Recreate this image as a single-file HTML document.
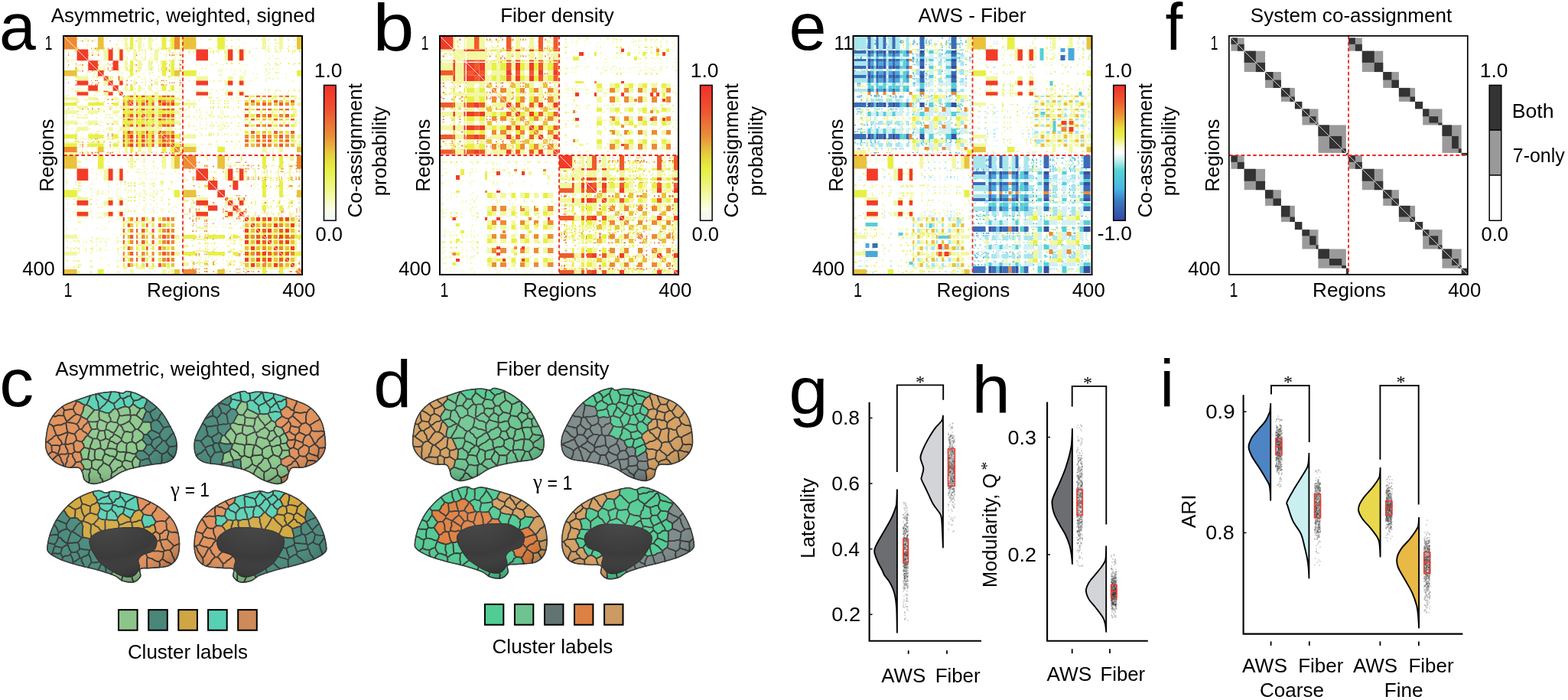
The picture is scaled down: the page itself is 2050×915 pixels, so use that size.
<!DOCTYPE html>
<html><head><meta charset="utf-8"><title>Figure</title>
<style>html,body{margin:0;padding:0;background:#fff;width:2050px;height:915px;overflow:hidden}svg{display:block}</style>
</head><body>
<svg width="2050" height="915" viewBox="0 0 2050 915" font-family="Liberation Sans, Arial, Helvetica, sans-serif">
<rect width="2050" height="915" fill="#fff"/>
<defs><linearGradient id="cbA" x1="0" y1="0" x2="0" y2="1"><stop offset="0" stop-color="#f2302a"/><stop offset="0.18" stop-color="#f05230"/><stop offset="0.38" stop-color="#e9903a"/><stop offset="0.52" stop-color="#e6d23e"/><stop offset="0.62" stop-color="#e6f040"/><stop offset="0.78" stop-color="#f0f890"/><stop offset="0.92" stop-color="#fafde8"/><stop offset="1" stop-color="#eef6f8"/></linearGradient><linearGradient id="cbE" x1="0" y1="0" x2="0" y2="1"><stop offset="0" stop-color="#f0302a"/><stop offset="0.12" stop-color="#f05a2e"/><stop offset="0.22" stop-color="#ec9434"/><stop offset="0.32" stop-color="#e8e03c"/><stop offset="0.38" stop-color="#eaf050"/><stop offset="0.46" stop-color="#fafce0"/><stop offset="0.5" stop-color="#ffffff"/><stop offset="0.55" stop-color="#c8f0f0"/><stop offset="0.63" stop-color="#58d4d4"/><stop offset="0.76" stop-color="#48b8e4"/><stop offset="0.86" stop-color="#3c78c0"/><stop offset="1" stop-color="#3348a0"/></linearGradient></defs><rect x="423.5" y="111.4" width="15.6" height="176.9" fill="url(#cbA)" stroke="#000" stroke-width="1.5"/><rect x="915.5" y="111.4" width="15.6" height="176.9" fill="url(#cbA)" stroke="#000" stroke-width="1.5"/><rect x="1455.7" y="111.4" width="15.6" height="176.9" fill="url(#cbE)" stroke="#000" stroke-width="1.5"/><rect x="1947.2" y="111.4" width="15.6" height="58.6" fill="#333"/><rect x="1947.2" y="170" width="15.6" height="59" fill="#999"/><rect x="1947.2" y="111.4" width="15.6" height="176.9" fill="none" stroke="#000" stroke-width="1.5"/><path d="M1947.2 170H1962.8M1947.2 229H1962.8" stroke="#000" stroke-width="1.5"/>
<g transform="translate(82.0 46.0)"><clipPath id="k1"><path d="M0 140.8H314V142.4H0ZM0 56.8H314V57.7H0ZM0 78.9H314V80.6H0ZM0 142.2H314V143.7H0ZM0 121.6H314V122.9H0ZM0 68.9H314V70.1H0ZM0 26.6H314V28.0H0ZM0 84.1H314V85.2H0ZM0 122.1H314V123.3H0ZM0 122.9H314V124.3H0ZM0 11.6H314V13.1H0ZM0 34.4H314V36.1H0ZM0 97.5H314V98.7H0ZM0 133.2H314V134.4H0Z"/></clipPath><path clip-path="url(#k1)" fill="#f2f8a0" d="M140.8 0H142.4V314H140.8ZM56.8 0H57.7V314H56.8ZM78.9 0H80.6V314H78.9ZM142.2 0H143.7V314H142.2ZM121.6 0H122.9V314H121.6ZM68.9 0H70.1V314H68.9ZM26.6 0H28.0V314H26.6ZM84.1 0H85.2V314H84.1ZM122.1 0H123.3V314H122.1ZM122.9 0H124.3V314H122.9ZM11.6 0H13.1V314H11.6ZM34.4 0H36.1V314H34.4ZM97.5 0H98.7V314H97.5ZM133.2 0H134.4V314H133.2Z"/><clipPath id="k2"><path d="M0 37.0H314V37.9H0ZM0 115.8H314V117.1H0ZM0 135.2H314V136.3H0ZM0 16.5H314V18.4H0ZM0 58.7H314V60.0H0ZM0 42.0H314V44.0H0ZM0 152.6H314V154.0H0ZM0 44.4H314V46.3H0ZM0 63.8H314V66.0H0ZM0 128.5H314V130.6H0ZM0 89.0H314V90.0H0ZM0 130.9H314V132.5H0ZM0 134.7H314V135.7H0ZM0 83.1H314V85.1H0Z"/></clipPath><path clip-path="url(#k2)" fill="#ee8a34" d="M37.0 0H37.9V314H37.0ZM115.8 0H117.1V314H115.8ZM135.2 0H136.3V314H135.2ZM16.5 0H18.4V314H16.5ZM58.7 0H60.0V314H58.7ZM42.0 0H44.0V314H42.0ZM152.6 0H154.0V314H152.6ZM44.4 0H46.3V314H44.4ZM63.8 0H66.0V314H63.8ZM128.5 0H130.6V314H128.5ZM89.0 0H90.0V314H89.0ZM130.9 0H132.5V314H130.9ZM134.7 0H135.7V314H134.7ZM83.1 0H85.1V314H83.1Z"/><clipPath id="k3"><path d="M0 12.1H314V13.7H0ZM0 83.6H314V85.4H0ZM0 69.6H314V71.5H0ZM0 105.3H314V106.9H0ZM0 94.5H314V96.0H0ZM0 99.4H314V101.2H0ZM0 143.2H314V144.3H0ZM0 144.6H314V146.1H0ZM0 151.0H314V153.2H0ZM0 14.4H314V15.4H0ZM0 49.7H314V51.0H0ZM0 11.1H314V12.7H0ZM0 154.6H314V156.0H0ZM0 31.4H314V33.2H0Z"/></clipPath><path clip-path="url(#k3)" fill="#f2f8a0" d="M12.1 0H13.7V314H12.1ZM83.6 0H85.4V314H83.6ZM69.6 0H71.5V314H69.6ZM105.3 0H106.9V314H105.3ZM94.5 0H96.0V314H94.5ZM99.4 0H101.2V314H99.4ZM143.2 0H144.3V314H143.2ZM144.6 0H146.1V314H144.6ZM151.0 0H153.2V314H151.0ZM14.4 0H15.4V314H14.4ZM49.7 0H51.0V314H49.7ZM11.1 0H12.7V314H11.1ZM154.6 0H156.0V314H154.6ZM31.4 0H33.2V314H31.4Z"/><clipPath id="k4"><path d="M0 15.8H314V18.0H0ZM0 40.2H314V41.3H0ZM0 19.1H314V21.3H0ZM0 139.7H314V140.9H0ZM0 16.6H314V18.3H0ZM0 137.6H314V138.4H0ZM0 98.7H314V100.7H0ZM0 72.1H314V73.7H0ZM0 124.9H314V126.0H0ZM0 43.8H314V45.5H0ZM0 86.4H314V87.9H0ZM0 53.1H314V55.2H0ZM0 46.0H314V47.8H0ZM0 138.6H314V140.0H0Z"/></clipPath><path clip-path="url(#k4)" fill="#e8f044" d="M15.8 0H18.0V314H15.8ZM40.2 0H41.3V314H40.2ZM19.1 0H21.3V314H19.1ZM139.7 0H140.9V314H139.7ZM16.6 0H18.3V314H16.6ZM137.6 0H138.4V314H137.6ZM98.7 0H100.7V314H98.7ZM72.1 0H73.7V314H72.1ZM124.9 0H126.0V314H124.9ZM43.8 0H45.5V314H43.8ZM86.4 0H87.9V314H86.4ZM53.1 0H55.2V314H53.1ZM46.0 0H47.8V314H46.0ZM138.6 0H140.0V314H138.6Z"/><clipPath id="k5"><path d="M0 115.8H314V117.4H0ZM0 35.0H314V36.8H0ZM0 24.3H314V25.3H0ZM0 5.6H314V7.6H0ZM0 32.9H314V34.7H0ZM0 127.8H314V129.3H0ZM0 97.7H314V98.8H0ZM0 72.0H314V73.6H0ZM0 47.9H314V49.1H0ZM0 41.1H314V43.1H0ZM0 33.1H314V35.3H0ZM0 116.8H314V118.0H0ZM0 90.3H314V91.6H0ZM0 136.3H314V137.7H0Z"/></clipPath><path clip-path="url(#k5)" fill="#f2f8a0" d="M115.8 0H117.4V314H115.8ZM35.0 0H36.8V314H35.0ZM24.3 0H25.3V314H24.3ZM5.6 0H7.6V314H5.6ZM32.9 0H34.7V314H32.9ZM127.8 0H129.3V314H127.8ZM97.7 0H98.8V314H97.7ZM72.0 0H73.6V314H72.0ZM47.9 0H49.1V314H47.9ZM41.1 0H43.1V314H41.1ZM33.1 0H35.3V314H33.1ZM116.8 0H118.0V314H116.8ZM90.3 0H91.6V314H90.3ZM136.3 0H137.7V314H136.3Z"/><clipPath id="k6"><path d="M0 43.1H314V44.9H0ZM0 147.3H314V149.2H0ZM0 73.1H314V75.3H0ZM0 142.9H314V143.8H0ZM0 64.9H314V66.4H0ZM0 43.9H314V45.6H0ZM0 23.9H314V25.8H0ZM0 133.1H314V133.9H0ZM0 107.8H314V108.9H0ZM0 99.5H314V101.3H0ZM0 151.2H314V153.2H0ZM0 53.8H314V55.6H0ZM0 24.4H314V26.2H0ZM0 65.7H314V66.9H0Z"/></clipPath><path clip-path="url(#k6)" fill="#f2f8a0" d="M43.1 0H44.9V314H43.1ZM147.3 0H149.2V314H147.3ZM73.1 0H75.3V314H73.1ZM142.9 0H143.8V314H142.9ZM64.9 0H66.4V314H64.9ZM43.9 0H45.6V314H43.9ZM23.9 0H25.8V314H23.9ZM133.1 0H133.9V314H133.1ZM107.8 0H108.9V314H107.8ZM99.5 0H101.3V314H99.5ZM151.2 0H153.2V314H151.2ZM53.8 0H55.6V314H53.8ZM24.4 0H26.2V314H24.4ZM65.7 0H66.9V314H65.7Z"/><clipPath id="k7"><path d="M0 56.6H314V58.3H0ZM0 83.2H314V85.4H0ZM0 114.1H314V115.8H0ZM0 28.3H314V30.4H0ZM0 121.5H314V123.4H0ZM0 31.3H314V32.3H0ZM0 152.6H314V154.7H0ZM0 145.9H314V147.8H0ZM0 106.4H314V108.5H0ZM0 18.0H314V19.6H0ZM0 3.9H314V5.9H0ZM0 79.7H314V80.7H0ZM0 102.8H314V104.9H0ZM0 18.8H314V20.9H0Z"/></clipPath><path clip-path="url(#k7)" fill="#f2f8a0" d="M56.6 0H58.3V314H56.6ZM83.2 0H85.4V314H83.2ZM114.1 0H115.8V314H114.1ZM28.3 0H30.4V314H28.3ZM121.5 0H123.4V314H121.5ZM31.3 0H32.3V314H31.3ZM152.6 0H154.7V314H152.6ZM145.9 0H147.8V314H145.9ZM106.4 0H108.5V314H106.4ZM18.0 0H19.6V314H18.0ZM3.9 0H5.9V314H3.9ZM79.7 0H80.7V314H79.7ZM102.8 0H104.9V314H102.8ZM18.8 0H20.9V314H18.8Z"/><clipPath id="k8"><path d="M0 95.4H314V97.2H0ZM0 153.8H314V155.4H0ZM0 153.8H314V155.2H0ZM0 22.5H314V23.3H0ZM0 46.0H314V47.6H0ZM0 152.7H314V153.9H0ZM0 37.9H314V39.8H0ZM0 61.4H314V62.9H0ZM0 25.1H314V27.1H0ZM0 142.5H314V144.3H0ZM0 145.0H314V146.2H0ZM0 7.0H314V8.2H0ZM0 139.2H314V140.6H0ZM0 32.6H314V33.6H0Z"/></clipPath><path clip-path="url(#k8)" fill="#ee8a34" d="M95.4 0H97.2V314H95.4ZM153.8 0H155.4V314H153.8ZM153.8 0H155.2V314H153.8ZM22.5 0H23.3V314H22.5ZM46.0 0H47.6V314H46.0ZM152.7 0H153.9V314H152.7ZM37.9 0H39.8V314H37.9ZM61.4 0H62.9V314H61.4ZM25.1 0H27.1V314H25.1ZM142.5 0H144.3V314H142.5ZM145.0 0H146.2V314H145.0ZM7.0 0H8.2V314H7.0ZM139.2 0H140.6V314H139.2ZM32.6 0H33.6V314H32.6Z"/><clipPath id="k9"><path d="M0 77.7H314V79.2H0ZM0 31.6H314V32.8H0ZM0 6.2H314V8.2H0ZM0 52.3H314V53.2H0ZM0 49.6H314V50.8H0ZM0 117.5H314V118.9H0ZM0 40.9H314V42.8H0ZM0 112.4H314V114.6H0ZM0 96.2H314V98.1H0ZM0 139.7H314V141.1H0ZM0 144.7H314V145.8H0ZM0 151.8H314V153.2H0ZM0 48.1H314V49.2H0ZM0 5.2H314V6.7H0Z"/></clipPath><path clip-path="url(#k9)" fill="#f2f8a0" d="M77.7 0H79.2V314H77.7ZM31.6 0H32.8V314H31.6ZM6.2 0H8.2V314H6.2ZM52.3 0H53.2V314H52.3ZM49.6 0H50.8V314H49.6ZM117.5 0H118.9V314H117.5ZM40.9 0H42.8V314H40.9ZM112.4 0H114.6V314H112.4ZM96.2 0H98.1V314H96.2ZM139.7 0H141.1V314H139.7ZM144.7 0H145.8V314H144.7ZM151.8 0H153.2V314H151.8ZM48.1 0H49.2V314H48.1ZM5.2 0H6.7V314H5.2Z"/><clipPath id="k10"><path d="M0 132.2H314V133.6H0ZM0 56.1H314V57.2H0ZM0 60.0H314V61.5H0ZM0 61.8H314V62.8H0ZM0 114.2H314V115.6H0ZM0 103.0H314V104.9H0ZM0 69.0H314V70.3H0ZM0 127.5H314V128.6H0ZM0 93.1H314V95.1H0ZM0 23.1H314V24.1H0ZM0 103.4H314V104.6H0ZM0 37.3H314V39.4H0ZM0 82.3H314V83.2H0ZM0 18.4H314V20.2H0Z"/></clipPath><path clip-path="url(#k10)" fill="#f2f8a0" d="M132.2 0H133.6V314H132.2ZM56.1 0H57.2V314H56.1ZM60.0 0H61.5V314H60.0ZM61.8 0H62.8V314H61.8ZM114.2 0H115.6V314H114.2ZM103.0 0H104.9V314H103.0ZM69.0 0H70.3V314H69.0ZM127.5 0H128.6V314H127.5ZM93.1 0H95.1V314H93.1ZM23.1 0H24.1V314H23.1ZM103.4 0H104.6V314H103.4ZM37.3 0H39.4V314H37.3ZM82.3 0H83.2V314H82.3ZM18.4 0H20.2V314H18.4Z"/><clipPath id="k11"><path d="M0 261.0H314V262.3H0ZM0 242.3H314V244.0H0ZM0 185.1H314V186.3H0ZM0 223.0H314V224.6H0ZM0 268.4H314V270.0H0ZM0 271.8H314V273.8H0ZM0 185.5H314V187.4H0ZM0 224.9H314V226.4H0ZM0 170.1H314V170.9H0ZM0 185.3H314V186.9H0ZM0 295.2H314V297.1H0ZM0 266.9H314V268.4H0ZM0 232.5H314V233.9H0ZM0 230.6H314V231.5H0Z"/></clipPath><path clip-path="url(#k11)" fill="#f2f8a0" d="M261.0 0H262.3V314H261.0ZM242.3 0H244.0V314H242.3ZM185.1 0H186.3V314H185.1ZM223.0 0H224.6V314H223.0ZM268.4 0H270.0V314H268.4ZM271.8 0H273.8V314H271.8ZM185.5 0H187.4V314H185.5ZM224.9 0H226.4V314H224.9ZM170.1 0H170.9V314H170.1ZM185.3 0H186.9V314H185.3ZM295.2 0H297.1V314H295.2ZM266.9 0H268.4V314H266.9ZM232.5 0H233.9V314H232.5ZM230.6 0H231.5V314H230.6Z"/><clipPath id="k12"><path d="M0 284.4H314V285.7H0ZM0 186.9H314V188.3H0ZM0 249.7H314V251.7H0ZM0 177.5H314V179.4H0ZM0 212.9H314V213.8H0ZM0 193.5H314V194.7H0ZM0 176.6H314V178.3H0ZM0 305.4H314V307.2H0ZM0 198.1H314V199.3H0ZM0 271.2H314V272.9H0ZM0 239.5H314V241.5H0ZM0 309.3H314V310.8H0ZM0 188.9H314V190.0H0ZM0 188.5H314V190.1H0Z"/></clipPath><path clip-path="url(#k12)" fill="#f2f8a0" d="M284.4 0H285.7V314H284.4ZM186.9 0H188.3V314H186.9ZM249.7 0H251.7V314H249.7ZM177.5 0H179.4V314H177.5ZM212.9 0H213.8V314H212.9ZM193.5 0H194.7V314H193.5ZM176.6 0H178.3V314H176.6ZM305.4 0H307.2V314H305.4ZM198.1 0H199.3V314H198.1ZM271.2 0H272.9V314H271.2ZM239.5 0H241.5V314H239.5ZM309.3 0H310.8V314H309.3ZM188.9 0H190.0V314H188.9ZM188.5 0H190.1V314H188.5Z"/><clipPath id="k13"><path d="M0 239.1H314V241.2H0ZM0 238.2H314V239.5H0ZM0 301.2H314V303.3H0ZM0 183.5H314V184.4H0ZM0 289.0H314V291.0H0ZM0 216.1H314V217.3H0ZM0 262.3H314V264.4H0ZM0 189.8H314V191.2H0ZM0 258.9H314V260.0H0ZM0 220.8H314V221.8H0ZM0 230.8H314V231.9H0ZM0 169.4H314V170.7H0ZM0 180.1H314V181.1H0ZM0 180.2H314V181.5H0Z"/></clipPath><path clip-path="url(#k13)" fill="#f2f8a0" d="M239.1 0H241.2V314H239.1ZM238.2 0H239.5V314H238.2ZM301.2 0H303.3V314H301.2ZM183.5 0H184.4V314H183.5ZM289.0 0H291.0V314H289.0ZM216.1 0H217.3V314H216.1ZM262.3 0H264.4V314H262.3ZM189.8 0H191.2V314H189.8ZM258.9 0H260.0V314H258.9ZM220.8 0H221.8V314H220.8ZM230.8 0H231.9V314H230.8ZM169.4 0H170.7V314H169.4ZM180.1 0H181.1V314H180.1ZM180.2 0H181.5V314H180.2Z"/><clipPath id="k14"><path d="M0 198.0H314V199.5H0ZM0 271.2H314V272.6H0ZM0 262.5H314V264.5H0ZM0 261.5H314V262.4H0ZM0 185.8H314V187.7H0ZM0 279.0H314V280.6H0ZM0 188.8H314V190.7H0ZM0 196.8H314V199.0H0ZM0 294.5H314V296.3H0ZM0 260.0H314V261.9H0ZM0 299.3H314V301.1H0ZM0 178.4H314V179.6H0ZM0 219.5H314V220.6H0ZM0 222.7H314V224.8H0Z"/></clipPath><path clip-path="url(#k14)" fill="#e8f044" d="M198.0 0H199.5V314H198.0ZM271.2 0H272.6V314H271.2ZM262.5 0H264.5V314H262.5ZM261.5 0H262.4V314H261.5ZM185.8 0H187.7V314H185.8ZM279.0 0H280.6V314H279.0ZM188.8 0H190.7V314H188.8ZM196.8 0H199.0V314H196.8ZM294.5 0H296.3V314H294.5ZM260.0 0H261.9V314H260.0ZM299.3 0H301.1V314H299.3ZM178.4 0H179.6V314H178.4ZM219.5 0H220.6V314H219.5ZM222.7 0H224.8V314H222.7Z"/><clipPath id="k15"><path d="M0 265.5H314V267.6H0ZM0 255.1H314V256.6H0ZM0 285.7H314V286.9H0ZM0 276.7H314V278.5H0ZM0 290.3H314V291.2H0ZM0 186.0H314V188.1H0ZM0 178.9H314V180.3H0ZM0 249.5H314V251.0H0ZM0 292.2H314V294.4H0ZM0 209.5H314V210.5H0ZM0 297.7H314V299.1H0ZM0 195.2H314V196.2H0ZM0 158.4H314V160.0H0ZM0 200.2H314V201.8H0Z"/></clipPath><path clip-path="url(#k15)" fill="#f2f8a0" d="M265.5 0H267.6V314H265.5ZM255.1 0H256.6V314H255.1ZM285.7 0H286.9V314H285.7ZM276.7 0H278.5V314H276.7ZM290.3 0H291.2V314H290.3ZM186.0 0H188.1V314H186.0ZM178.9 0H180.3V314H178.9ZM249.5 0H251.0V314H249.5ZM292.2 0H294.4V314H292.2ZM209.5 0H210.5V314H209.5ZM297.7 0H299.1V314H297.7ZM195.2 0H196.2V314H195.2ZM158.4 0H160.0V314H158.4ZM200.2 0H201.8V314H200.2Z"/><clipPath id="k16"><path d="M0 308.6H314V309.7H0ZM0 170.8H314V172.4H0ZM0 188.1H314V189.6H0ZM0 196.6H314V198.0H0ZM0 246.1H314V247.1H0ZM0 196.0H314V197.0H0ZM0 263.7H314V265.6H0ZM0 185.3H314V186.5H0ZM0 296.2H314V298.1H0ZM0 264.0H314V265.0H0ZM0 282.2H314V284.0H0ZM0 298.4H314V300.3H0ZM0 265.0H314V267.0H0ZM0 218.1H314V219.8H0Z"/></clipPath><path clip-path="url(#k16)" fill="#ee8a34" d="M308.6 0H309.7V314H308.6ZM170.8 0H172.4V314H170.8ZM188.1 0H189.6V314H188.1ZM196.6 0H198.0V314H196.6ZM246.1 0H247.1V314H246.1ZM196.0 0H197.0V314H196.0ZM263.7 0H265.6V314H263.7ZM185.3 0H186.5V314H185.3ZM296.2 0H298.1V314H296.2ZM264.0 0H265.0V314H264.0ZM282.2 0H284.0V314H282.2ZM298.4 0H300.3V314H298.4ZM265.0 0H267.0V314H265.0ZM218.1 0H219.8V314H218.1Z"/><clipPath id="k17"><path d="M0 177.7H314V179.0H0ZM0 229.6H314V230.9H0ZM0 305.3H314V306.5H0ZM0 231.4H314V232.5H0ZM0 173.8H314V175.5H0ZM0 209.2H314V210.6H0ZM0 263.5H314V264.5H0ZM0 165.4H314V167.1H0ZM0 309.8H314V310.7H0ZM0 226.6H314V228.7H0ZM0 285.1H314V287.3H0ZM0 238.4H314V240.5H0ZM0 165.6H314V167.1H0ZM0 287.4H314V288.7H0Z"/></clipPath><path clip-path="url(#k17)" fill="#ee8a34" d="M177.7 0H179.0V314H177.7ZM229.6 0H230.9V314H229.6ZM305.3 0H306.5V314H305.3ZM231.4 0H232.5V314H231.4ZM173.8 0H175.5V314H173.8ZM209.2 0H210.6V314H209.2ZM263.5 0H264.5V314H263.5ZM165.4 0H167.1V314H165.4ZM309.8 0H310.7V314H309.8ZM226.6 0H228.7V314H226.6ZM285.1 0H287.3V314H285.1ZM238.4 0H240.5V314H238.4ZM165.6 0H167.1V314H165.6ZM287.4 0H288.7V314H287.4Z"/><clipPath id="k18"><path d="M0 187.3H314V189.1H0ZM0 308.0H314V310.1H0ZM0 255.1H314V256.3H0ZM0 185.1H314V186.3H0ZM0 304.3H314V306.0H0ZM0 297.9H314V299.0H0ZM0 174.2H314V175.2H0ZM0 256.3H314V257.2H0ZM0 242.0H314V244.0H0ZM0 285.7H314V286.9H0ZM0 236.1H314V237.1H0ZM0 169.4H314V171.2H0ZM0 240.7H314V241.8H0ZM0 248.6H314V249.8H0Z"/></clipPath><path clip-path="url(#k18)" fill="#ee8a34" d="M187.3 0H189.1V314H187.3ZM308.0 0H310.1V314H308.0ZM255.1 0H256.3V314H255.1ZM185.1 0H186.3V314H185.1ZM304.3 0H306.0V314H304.3ZM297.9 0H299.0V314H297.9ZM174.2 0H175.2V314H174.2ZM256.3 0H257.2V314H256.3ZM242.0 0H244.0V314H242.0ZM285.7 0H286.9V314H285.7ZM236.1 0H237.1V314H236.1ZM169.4 0H171.2V314H169.4ZM240.7 0H241.8V314H240.7ZM248.6 0H249.8V314H248.6Z"/><clipPath id="k19"><path d="M0 307.5H314V309.6H0ZM0 224.6H314V226.7H0ZM0 267.6H314V268.7H0ZM0 247.0H314V248.1H0ZM0 218.5H314V220.4H0ZM0 158.5H314V160.1H0ZM0 224.0H314V225.2H0ZM0 166.9H314V168.5H0ZM0 208.3H314V209.2H0ZM0 218.7H314V220.5H0ZM0 169.2H314V171.1H0ZM0 169.8H314V171.3H0ZM0 213.4H314V215.4H0ZM0 294.3H314V296.2H0Z"/></clipPath><path clip-path="url(#k19)" fill="#f2f8a0" d="M307.5 0H309.6V314H307.5ZM224.6 0H226.7V314H224.6ZM267.6 0H268.7V314H267.6ZM247.0 0H248.1V314H247.0ZM218.5 0H220.4V314H218.5ZM158.5 0H160.1V314H158.5ZM224.0 0H225.2V314H224.0ZM166.9 0H168.5V314H166.9ZM208.3 0H209.2V314H208.3ZM218.7 0H220.5V314H218.7ZM169.2 0H171.1V314H169.2ZM169.8 0H171.3V314H169.8ZM213.4 0H215.4V314H213.4ZM294.3 0H296.2V314H294.3Z"/><clipPath id="k20"><path d="M0 158.7H314V160.7H0ZM0 232.9H314V234.6H0ZM0 163.0H314V164.1H0ZM0 188.7H314V189.8H0ZM0 215.9H314V217.5H0ZM0 297.1H314V298.6H0ZM0 169.7H314V171.2H0ZM0 283.0H314V284.8H0ZM0 299.5H314V301.6H0ZM0 215.6H314V217.0H0ZM0 162.1H314V164.3H0ZM0 161.5H314V162.9H0ZM0 274.4H314V276.6H0ZM0 299.4H314V300.6H0Z"/></clipPath><path clip-path="url(#k20)" fill="#e8f044" d="M158.7 0H160.7V314H158.7ZM232.9 0H234.6V314H232.9ZM163.0 0H164.1V314H163.0ZM188.7 0H189.8V314H188.7ZM215.9 0H217.5V314H215.9ZM297.1 0H298.6V314H297.1ZM169.7 0H171.2V314H169.7ZM283.0 0H284.8V314H283.0ZM299.5 0H301.6V314H299.5ZM215.6 0H217.0V314H215.6ZM162.1 0H164.3V314H162.1ZM161.5 0H162.9V314H161.5ZM274.4 0H276.6V314H274.4ZM299.4 0H300.6V314H299.4Z"/><clipPath id="k21"><path d="M0 71.7H314V73.5H0ZM0 114.3H314V115.4H0ZM0 13.9H314V15.6H0ZM0 20.6H314V22.0H0ZM0 137.9H314V140.0H0ZM0 20.1H314V21.1H0ZM0 36.0H314V38.0H0ZM0 5.8H314V6.9H0ZM0 18.4H314V19.4H0ZM0 82.0H314V83.0H0Z"/></clipPath><path clip-path="url(#k21)" fill="#e8f044" d="M220.0 0H221.8V314H220.0ZM268.2 0H269.6V314H268.2ZM277.9 0H279.5V314H277.9ZM284.2 0H285.3V314H284.2ZM213.8 0H215.4V314H213.8ZM302.5 0H304.1V314H302.5ZM230.0 0H231.2V314H230.0ZM200.3 0H201.4V314H200.3ZM308.7 0H310.7V314H308.7ZM294.6 0H296.1V314H294.6Z"/><clipPath id="k22"><path d="M0 220.0H314V221.8H0ZM0 268.2H314V269.6H0ZM0 277.9H314V279.5H0ZM0 284.2H314V285.3H0ZM0 213.8H314V215.4H0ZM0 302.5H314V304.1H0ZM0 230.0H314V231.2H0ZM0 200.3H314V201.4H0ZM0 308.7H314V310.7H0ZM0 294.6H314V296.1H0Z"/></clipPath><path clip-path="url(#k22)" fill="#e8f044" d="M71.7 0H73.5V314H71.7ZM114.3 0H115.4V314H114.3ZM13.9 0H15.6V314H13.9ZM20.6 0H22.0V314H20.6ZM137.9 0H140.0V314H137.9ZM20.1 0H21.1V314H20.1ZM36.0 0H38.0V314H36.0ZM5.8 0H6.9V314H5.8ZM18.4 0H19.4V314H18.4ZM82.0 0H83.0V314H82.0Z"/><clipPath id="k23"><path d="M0 82.0H314V82.8H0ZM0 129.3H314V130.2H0ZM0 80.4H314V82.4H0ZM0 75.5H314V76.8H0ZM0 130.4H314V132.1H0ZM0 127.4H314V128.7H0ZM0 104.0H314V105.0H0ZM0 141.5H314V143.4H0ZM0 16.6H314V17.9H0ZM0 5.1H314V6.5H0Z"/></clipPath><path clip-path="url(#k23)" fill="#e8f044" d="M252.5 0H253.8V314H252.5ZM269.2 0H270.3V314H269.2ZM293.7 0H294.8V314H293.7ZM276.8 0H278.0V314H276.8ZM202.5 0H203.3V314H202.5ZM193.9 0H195.0V314H193.9ZM190.7 0H192.8V314H190.7ZM180.7 0H181.6V314H180.7ZM260.0 0H260.9V314H260.0ZM226.9 0H227.8V314H226.9Z"/><clipPath id="k24"><path d="M0 252.5H314V253.8H0ZM0 269.2H314V270.3H0ZM0 293.7H314V294.8H0ZM0 276.8H314V278.0H0ZM0 202.5H314V203.3H0ZM0 193.9H314V195.0H0ZM0 190.7H314V192.8H0ZM0 180.7H314V181.6H0ZM0 260.0H314V260.9H0ZM0 226.9H314V227.8H0Z"/></clipPath><path clip-path="url(#k24)" fill="#e8f044" d="M82.0 0H82.8V314H82.0ZM129.3 0H130.2V314H129.3ZM80.4 0H82.4V314H80.4ZM75.5 0H76.8V314H75.5ZM130.4 0H132.1V314H130.4ZM127.4 0H128.7V314H127.4ZM104.0 0H105.0V314H104.0ZM141.5 0H143.4V314H141.5ZM16.6 0H17.9V314H16.6ZM5.1 0H6.5V314H5.1Z"/><clipPath id="k25"><path d="M0 105.3H314V106.5H0ZM0 106.7H314V108.7H0ZM0 84.0H314V86.1H0ZM0 49.3H314V51.4H0ZM0 29.8H314V31.1H0ZM0 126.8H314V127.7H0ZM0 95.9H314V97.9H0ZM0 146.2H314V148.0H0ZM0 54.8H314V56.1H0ZM0 98.4H314V99.3H0Z"/></clipPath><path clip-path="url(#k25)" fill="#f2f8a0" d="M161.3 0H163.4V314H161.3ZM253.4 0H254.4V314H253.4ZM222.9 0H224.1V314H222.9ZM290.7 0H291.9V314H290.7ZM268.4 0H270.3V314H268.4ZM206.0 0H207.2V314H206.0ZM237.1 0H238.5V314H237.1ZM248.4 0H249.6V314H248.4ZM279.2 0H280.6V314H279.2ZM177.9 0H179.8V314H177.9Z"/><clipPath id="k26"><path d="M0 161.3H314V163.4H0ZM0 253.4H314V254.4H0ZM0 222.9H314V224.1H0ZM0 290.7H314V291.9H0ZM0 268.4H314V270.3H0ZM0 206.0H314V207.2H0ZM0 237.1H314V238.5H0ZM0 248.4H314V249.6H0ZM0 279.2H314V280.6H0ZM0 177.9H314V179.8H0Z"/></clipPath><path clip-path="url(#k26)" fill="#f2f8a0" d="M105.3 0H106.5V314H105.3ZM106.7 0H108.7V314H106.7ZM84.0 0H86.1V314H84.0ZM49.3 0H51.4V314H49.3ZM29.8 0H31.1V314H29.8ZM126.8 0H127.7V314H126.8ZM95.9 0H97.9V314H95.9ZM146.2 0H148.0V314H146.2ZM54.8 0H56.1V314H54.8ZM98.4 0H99.3V314H98.4Z"/><clipPath id="k27"><path d="M0 88.4H314V90.1H0ZM0 118.0H314V119.6H0ZM0 20.2H314V22.3H0ZM0 129.0H314V130.0H0ZM0 93.7H314V95.5H0ZM0 59.5H314V60.5H0ZM0 105.5H314V107.2H0ZM0 93.1H314V94.9H0ZM0 84.9H314V86.6H0ZM0 23.0H314V24.0H0Z"/></clipPath><path clip-path="url(#k27)" fill="#e8f044" d="M211.0 0H212.9V314H211.0ZM164.4 0H166.4V314H164.4ZM243.4 0H245.2V314H243.4ZM196.0 0H198.1V314H196.0ZM170.9 0H172.1V314H170.9ZM215.4 0H217.3V314H215.4ZM202.7 0H204.1V314H202.7ZM299.8 0H301.4V314H299.8ZM228.9 0H230.5V314H228.9ZM192.6 0H193.9V314H192.6Z"/><clipPath id="k28"><path d="M0 211.0H314V212.9H0ZM0 164.4H314V166.4H0ZM0 243.4H314V245.2H0ZM0 196.0H314V198.1H0ZM0 170.9H314V172.1H0ZM0 215.4H314V217.3H0ZM0 202.7H314V204.1H0ZM0 299.8H314V301.4H0ZM0 228.9H314V230.5H0ZM0 192.6H314V193.9H0Z"/></clipPath><path clip-path="url(#k28)" fill="#e8f044" d="M88.4 0H90.1V314H88.4ZM118.0 0H119.6V314H118.0ZM20.2 0H22.3V314H20.2ZM129.0 0H130.0V314H129.0ZM93.7 0H95.5V314H93.7ZM59.5 0H60.5V314H59.5ZM105.5 0H107.2V314H105.5ZM93.1 0H94.9V314H93.1ZM84.9 0H86.6V314H84.9ZM23.0 0H24.0V314H23.0Z"/><clipPath id="k29"><path d="M0 45.9H314V47.6H0ZM0 107.4H314V108.6H0ZM0 144.2H314V145.7H0ZM0 118.9H314V119.8H0ZM0 44.6H314V45.5H0ZM0 122.9H314V124.4H0ZM0 147.6H314V149.2H0ZM0 51.7H314V53.0H0ZM0 59.3H314V60.4H0ZM0 18.5H314V20.2H0Z"/></clipPath><path clip-path="url(#k29)" fill="#f2f8a0" d="M205.3 0H206.7V314H205.3ZM266.1 0H267.3V314H266.1ZM224.6 0H225.9V314H224.6ZM206.8 0H208.6V314H206.8ZM172.2 0H173.5V314H172.2ZM173.9 0H175.6V314H173.9ZM202.8 0H205.0V314H202.8ZM231.2 0H233.0V314H231.2ZM237.6 0H239.5V314H237.6ZM264.8 0H266.5V314H264.8Z"/><clipPath id="k30"><path d="M0 205.3H314V206.7H0ZM0 266.1H314V267.3H0ZM0 224.6H314V225.9H0ZM0 206.8H314V208.6H0ZM0 172.2H314V173.5H0ZM0 173.9H314V175.6H0ZM0 202.8H314V205.0H0ZM0 231.2H314V233.0H0ZM0 237.6H314V239.5H0ZM0 264.8H314V266.5H0Z"/></clipPath><path clip-path="url(#k30)" fill="#f2f8a0" d="M45.9 0H47.6V314H45.9ZM107.4 0H108.6V314H107.4ZM144.2 0H145.7V314H144.2ZM118.9 0H119.8V314H118.9ZM44.6 0H45.5V314H44.6ZM122.9 0H124.4V314H122.9ZM147.6 0H149.2V314H147.6ZM51.7 0H53.0V314H51.7ZM59.3 0H60.4V314H59.3ZM18.5 0H20.2V314H18.5Z"/><clipPath id="k31"><path d="M0 109.2H314V110.7H0ZM0 26.5H314V27.4H0ZM0 43.0H314V45.0H0ZM0 121.6H314V123.7H0ZM0 99.7H314V101.0H0ZM0 148.8H314V149.8H0ZM0 56.0H314V57.8H0ZM0 107.5H314V109.1H0ZM0 151.8H314V153.5H0ZM0 130.1H314V132.3H0Z"/></clipPath><path clip-path="url(#k31)" fill="#f2f8a0" d="M186.6 0H187.8V314H186.6ZM208.2 0H209.2V314H208.2ZM213.7 0H214.5V314H213.7ZM251.9 0H253.1V314H251.9ZM180.9 0H182.4V314H180.9ZM220.1 0H221.2V314H220.1ZM265.2 0H266.9V314H265.2ZM273.7 0H275.9V314H273.7ZM269.8 0H271.8V314H269.8ZM280.8 0H282.1V314H280.8Z"/><clipPath id="k32"><path d="M0 186.6H314V187.8H0ZM0 208.2H314V209.2H0ZM0 213.7H314V214.5H0ZM0 251.9H314V253.1H0ZM0 180.9H314V182.4H0ZM0 220.1H314V221.2H0ZM0 265.2H314V266.9H0ZM0 273.7H314V275.9H0ZM0 269.8H314V271.8H0ZM0 280.8H314V282.1H0Z"/></clipPath><path clip-path="url(#k32)" fill="#f2f8a0" d="M109.2 0H110.7V314H109.2ZM26.5 0H27.4V314H26.5ZM43.0 0H45.0V314H43.0ZM121.6 0H123.7V314H121.6ZM99.7 0H101.0V314H99.7ZM148.8 0H149.8V314H148.8ZM56.0 0H57.8V314H56.0ZM107.5 0H109.1V314H107.5ZM151.8 0H153.5V314H151.8ZM130.1 0H132.3V314H130.1Z"/><clipPath id="k33"><path d="M0 120.7H314V122.0H0ZM0 38.1H314V39.6H0ZM0 70.2H314V72.1H0ZM0 101.7H314V103.5H0ZM0 94.2H314V95.3H0ZM0 115.7H314V117.9H0ZM0 99.4H314V101.2H0ZM0 37.7H314V38.6H0ZM0 70.5H314V72.1H0ZM0 113.1H314V114.6H0Z"/></clipPath><path clip-path="url(#k33)" fill="#f2f8a0" d="M240.6 0H241.5V314H240.6ZM164.4 0H165.3V314H164.4ZM206.0 0H207.2V314H206.0ZM179.0 0H180.2V314H179.0ZM208.8 0H210.8V314H208.8ZM300.8 0H303.0V314H300.8ZM270.4 0H271.2V314H270.4ZM193.6 0H195.8V314H193.6ZM264.0 0H266.0V314H264.0ZM187.7 0H188.9V314H187.7Z"/><clipPath id="k34"><path d="M0 240.6H314V241.5H0ZM0 164.4H314V165.3H0ZM0 206.0H314V207.2H0ZM0 179.0H314V180.2H0ZM0 208.8H314V210.8H0ZM0 300.8H314V303.0H0ZM0 270.4H314V271.2H0ZM0 193.6H314V195.8H0ZM0 264.0H314V266.0H0ZM0 187.7H314V188.9H0Z"/></clipPath><path clip-path="url(#k34)" fill="#f2f8a0" d="M120.7 0H122.0V314H120.7ZM38.1 0H39.6V314H38.1ZM70.2 0H72.1V314H70.2ZM101.7 0H103.5V314H101.7ZM94.2 0H95.3V314H94.2ZM115.7 0H117.9V314H115.7ZM99.4 0H101.2V314H99.4ZM37.7 0H38.6V314H37.7ZM70.5 0H72.1V314H70.5ZM113.1 0H114.6V314H113.1Z"/><clipPath id="k35"><path d="M0 110.0H314V111.4H0ZM0 96.9H314V98.5H0ZM0 96.9H314V98.9H0ZM0 9.8H314V11.2H0ZM0 99.8H314V101.4H0ZM0 71.2H314V72.9H0ZM0 21.2H314V22.7H0ZM0 29.9H314V31.3H0ZM0 38.0H314V39.8H0ZM0 48.0H314V49.8H0Z"/></clipPath><path clip-path="url(#k35)" fill="#f2f8a0" d="M174.3 0H175.9V314H174.3ZM281.1 0H283.3V314H281.1ZM263.5 0H264.3V314H263.5ZM278.9 0H280.7V314H278.9ZM233.7 0H234.5V314H233.7ZM239.1 0H239.9V314H239.1ZM270.1 0H271.7V314H270.1ZM277.2 0H278.9V314H277.2ZM160.2 0H161.5V314H160.2ZM236.7 0H237.9V314H236.7Z"/><clipPath id="k36"><path d="M0 174.3H314V175.9H0ZM0 281.1H314V283.3H0ZM0 263.5H314V264.3H0ZM0 278.9H314V280.7H0ZM0 233.7H314V234.5H0ZM0 239.1H314V239.9H0ZM0 270.1H314V271.7H0ZM0 277.2H314V278.9H0ZM0 160.2H314V161.5H0ZM0 236.7H314V237.9H0Z"/></clipPath><path clip-path="url(#k36)" fill="#f2f8a0" d="M110.0 0H111.4V314H110.0ZM96.9 0H98.5V314H96.9ZM96.9 0H98.9V314H96.9ZM9.8 0H11.2V314H9.8ZM99.8 0H101.4V314H99.8ZM71.2 0H72.9V314H71.2ZM21.2 0H22.7V314H21.2ZM29.9 0H31.3V314H29.9ZM38.0 0H39.8V314H38.0ZM48.0 0H49.8V314H48.0Z"/><clipPath id="k37"><path d="M0 2.0H314V18.6H0ZM0 146.0H314V153.0H0Z"/></clipPath><path clip-path="url(#k37)" fill="#f2f8a0" d="M81.0 0H84.7V314H81.0ZM98.2 0H103.0V314H98.2ZM111.6 0H116.5V314H111.6ZM129.0 0H130.0V314H129.0ZM139.8 0H141.6V314H139.8Z"/><clipPath id="k38"><path d="M0 81.0H314V84.7H0ZM0 98.2H314V103.0H0ZM0 111.6H314V116.5H0ZM0 129.0H314V130.0H0ZM0 139.8H314V141.6H0Z"/></clipPath><path clip-path="url(#k38)" fill="#f2f8a0" d="M2.0 0H18.6V314H2.0ZM146.0 0H153.0V314H146.0Z"/><clipPath id="k39"><path d="M0 2.0H314V18.6H0ZM0 146.0H314V153.0H0Z"/></clipPath><path clip-path="url(#k39)" fill="#f2f8a0" d="M153.0 0H157.0V314H153.0Z"/><clipPath id="k40"><path d="M0 153.0H314V157.0H0Z"/></clipPath><path clip-path="url(#k40)" fill="#f2f8a0" d="M2.0 0H18.6V314H2.0ZM146.0 0H153.0V314H146.0Z"/><clipPath id="k41"><path d="M0 2.0H314V18.6H0ZM0 146.0H314V153.0H0Z"/></clipPath><path clip-path="url(#k41)" fill="#f2f8a0" d="M261.0 0H266.0V314H261.0ZM283.0 0H288.0V314H283.0Z"/><clipPath id="k42"><path d="M0 261.0H314V266.0H0ZM0 283.0H314V288.0H0Z"/></clipPath><path clip-path="url(#k42)" fill="#f2f8a0" d="M2.0 0H18.6V314H2.0ZM146.0 0H153.0V314H146.0Z"/><clipPath id="k43"><path d="M0 18.6H314V33.3H0ZM0 59.6H314V65.6H0ZM0 74.3H314V78.7H0Z"/></clipPath><path clip-path="url(#k43)" fill="#f2f8a0" d="M92.3 0H96.0V314H92.3ZM107.6 0H109.0V314H107.6ZM119.7 0H125.0V314H119.7ZM135.3 0H136.2V314H135.3Z"/><clipPath id="k44"><path d="M0 92.3H314V96.0H0ZM0 107.6H314V109.0H0ZM0 119.7H314V125.0H0ZM0 135.3H314V136.2H0Z"/></clipPath><path clip-path="url(#k44)" fill="#f2f8a0" d="M18.6 0H33.3V314H18.6ZM59.6 0H65.6V314H59.6ZM74.3 0H78.7V314H74.3Z"/><clipPath id="k45"><path d="M0 18.6H314V33.3H0ZM0 59.6H314V65.6H0ZM0 74.3H314V78.7H0Z"/></clipPath><path clip-path="url(#k45)" fill="#f2f8a0" d="M53.6 0H59.6V314H53.6ZM72.7 0H74.3V314H72.7Z"/><clipPath id="k46"><path d="M0 53.6H314V59.6H0ZM0 72.7H314V74.3H0Z"/></clipPath><path clip-path="url(#k46)" fill="#f2f8a0" d="M18.6 0H33.3V314H18.6ZM59.6 0H65.6V314H59.6ZM74.3 0H78.7V314H74.3Z"/><clipPath id="k47"><path d="M0 18.6H314V33.3H0ZM0 59.6H314V65.6H0ZM0 74.3H314V78.7H0Z"/></clipPath><path clip-path="url(#k47)" fill="#f2f8a0" d="M212.0 0H216.0V314H212.0ZM229.4 0H231.0V314H229.4ZM236.4 0H238.0V314H236.4Z"/><clipPath id="k48"><path d="M0 212.0H314V216.0H0ZM0 229.4H314V231.0H0ZM0 236.4H314V238.0H0Z"/></clipPath><path clip-path="url(#k48)" fill="#f2f8a0" d="M18.6 0H33.3V314H18.6ZM59.6 0H65.6V314H59.6ZM74.3 0H78.7V314H74.3Z"/><clipPath id="k49"><path d="M0 33.3H314V45.9H0ZM0 65.6H314V72.7H0Z"/></clipPath><path clip-path="url(#k49)" fill="#f2f8a0" d="M81.0 0H84.7V314H81.0ZM98.2 0H103.0V314H98.2ZM111.6 0H116.5V314H111.6ZM129.0 0H130.0V314H129.0ZM139.8 0H141.6V314H139.8Z"/><clipPath id="k50"><path d="M0 81.0H314V84.7H0ZM0 98.2H314V103.0H0ZM0 111.6H314V116.5H0ZM0 129.0H314V130.0H0ZM0 139.8H314V141.6H0Z"/></clipPath><path clip-path="url(#k50)" fill="#f2f8a0" d="M33.3 0H45.9V314H33.3ZM65.6 0H72.7V314H65.6Z"/><clipPath id="k51"><path d="M0 92.3H314V96.0H0ZM0 107.6H314V109.0H0ZM0 119.7H314V125.0H0ZM0 135.3H314V136.2H0Z"/></clipPath><path clip-path="url(#k51)" fill="#f2f8a0" d="M92.3 0H96.0V314H92.3ZM107.6 0H109.0V314H107.6ZM119.7 0H125.0V314H119.7ZM135.3 0H136.2V314H135.3Z"/><clipPath id="k52"><path d="M0 92.3H314V96.0H0ZM0 107.6H314V109.0H0ZM0 119.7H314V125.0H0ZM0 135.3H314V136.2H0Z"/></clipPath><path clip-path="url(#k52)" fill="#f2f8a0" d="M78.7 0H81.0V314H78.7ZM96.0 0H98.2V314H96.0ZM103.0 0H107.6V314H103.0ZM116.5 0H119.7V314H116.5ZM136.2 0H139.8V314H136.2Z"/><clipPath id="k53"><path d="M0 78.7H314V81.0H0ZM0 96.0H314V98.2H0ZM0 103.0H314V107.6H0ZM0 116.5H314V119.7H0ZM0 136.2H314V139.8H0Z"/></clipPath><path clip-path="url(#k53)" fill="#f2f8a0" d="M92.3 0H96.0V314H92.3ZM107.6 0H109.0V314H107.6ZM119.7 0H125.0V314H119.7ZM135.3 0H136.2V314H135.3Z"/><clipPath id="k54"><path d="M0 92.3H314V96.0H0ZM0 107.6H314V109.0H0ZM0 119.7H314V125.0H0ZM0 135.3H314V136.2H0Z"/></clipPath><path clip-path="url(#k54)" fill="#f2f8a0" d="M84.7 0H88.0V314H84.7ZM109.0 0H111.6V314H109.0ZM125.0 0H129.0V314H125.0Z"/><clipPath id="k55"><path d="M0 84.7H314V88.0H0ZM0 109.0H314V111.6H0ZM0 125.0H314V129.0H0Z"/></clipPath><path clip-path="url(#k55)" fill="#f2f8a0" d="M92.3 0H96.0V314H92.3ZM107.6 0H109.0V314H107.6ZM119.7 0H125.0V314H119.7ZM135.3 0H136.2V314H135.3Z"/><clipPath id="k56"><path d="M0 92.3H314V96.0H0ZM0 107.6H314V109.0H0ZM0 119.7H314V125.0H0ZM0 135.3H314V136.2H0Z"/></clipPath><path clip-path="url(#k56)" fill="#f2f8a0" d="M81.0 0H84.7V314H81.0ZM98.2 0H103.0V314H98.2ZM111.6 0H116.5V314H111.6ZM129.0 0H130.0V314H129.0ZM139.8 0H141.6V314H139.8Z"/><clipPath id="k57"><path d="M0 81.0H314V84.7H0ZM0 98.2H314V103.0H0ZM0 111.6H314V116.5H0ZM0 129.0H314V130.0H0ZM0 139.8H314V141.6H0Z"/></clipPath><path clip-path="url(#k57)" fill="#f2f8a0" d="M92.3 0H96.0V314H92.3ZM107.6 0H109.0V314H107.6ZM119.7 0H125.0V314H119.7ZM135.3 0H136.2V314H135.3Z"/><clipPath id="k58"><path d="M0 78.7H314V81.0H0ZM0 96.0H314V98.2H0ZM0 103.0H314V107.6H0ZM0 116.5H314V119.7H0ZM0 136.2H314V139.8H0Z"/></clipPath><path clip-path="url(#k58)" fill="#f2f8a0" d="M243.0 0H246.0V314H243.0ZM258.0 0H261.0V314H258.0ZM273.0 0H276.0V314H273.0ZM288.0 0H291.0V314H288.0ZM303.0 0H306.0V314H303.0Z"/><clipPath id="k59"><path d="M0 243.0H314V246.0H0ZM0 258.0H314V261.0H0ZM0 273.0H314V276.0H0ZM0 288.0H314V291.0H0ZM0 303.0H314V306.0H0Z"/></clipPath><path clip-path="url(#k59)" fill="#f2f8a0" d="M78.7 0H81.0V314H78.7ZM96.0 0H98.2V314H96.0ZM103.0 0H107.6V314H103.0ZM116.5 0H119.7V314H116.5ZM136.2 0H139.8V314H136.2Z"/><clipPath id="k60"><path d="M0 88.0H314V92.3H0ZM0 130.0H314V135.3H0ZM0 141.6H314V146.0H0Z"/></clipPath><path clip-path="url(#k60)" fill="#f2f8a0" d="M157.0 0H174.4V314H157.0ZM306.0 0H313.0V314H306.0Z"/><clipPath id="k61"><path d="M0 157.0H314V174.4H0ZM0 306.0H314V313.0H0Z"/></clipPath><path clip-path="url(#k61)" fill="#f2f8a0" d="M88.0 0H92.3V314H88.0ZM130.0 0H135.3V314H130.0ZM141.6 0H146.0V314H141.6Z"/><clipPath id="k62"><path d="M0 81.0H314V84.7H0ZM0 98.2H314V103.0H0ZM0 111.6H314V116.5H0ZM0 129.0H314V130.0H0ZM0 139.8H314V141.6H0Z"/></clipPath><path clip-path="url(#k62)" fill="#f2f8a0" d="M243.0 0H246.0V314H243.0ZM258.0 0H261.0V314H258.0ZM273.0 0H276.0V314H273.0ZM288.0 0H291.0V314H288.0ZM303.0 0H306.0V314H303.0Z"/><clipPath id="k63"><path d="M0 243.0H314V246.0H0ZM0 258.0H314V261.0H0ZM0 273.0H314V276.0H0ZM0 288.0H314V291.0H0ZM0 303.0H314V306.0H0Z"/></clipPath><path clip-path="url(#k63)" fill="#f2f8a0" d="M81.0 0H84.7V314H81.0ZM98.2 0H103.0V314H98.2ZM111.6 0H116.5V314H111.6ZM129.0 0H130.0V314H129.0ZM139.8 0H141.6V314H139.8Z"/><clipPath id="k64"><path d="M0 53.6H314V59.6H0ZM0 72.7H314V74.3H0Z"/></clipPath><path clip-path="url(#k64)" fill="#f2f8a0" d="M174.4 0H190.0V314H174.4ZM216.0 0H222.4V314H216.0ZM231.0 0H236.4V314H231.0Z"/><clipPath id="k65"><path d="M0 174.4H314V190.0H0ZM0 216.0H314V222.4H0ZM0 231.0H314V236.4H0Z"/></clipPath><path clip-path="url(#k65)" fill="#f2f8a0" d="M53.6 0H59.6V314H53.6ZM72.7 0H74.3V314H72.7Z"/><clipPath id="k66"><path d="M0 174.4H314V190.0H0ZM0 216.0H314V222.4H0ZM0 231.0H314V236.4H0Z"/></clipPath><path clip-path="url(#k66)" fill="#f2f8a0" d="M251.0 0H253.0V314H251.0ZM266.0 0H268.0V314H266.0ZM281.0 0H283.0V314H281.0ZM296.0 0H298.0V314H296.0Z"/><clipPath id="k67"><path d="M0 251.0H314V253.0H0ZM0 266.0H314V268.0H0ZM0 281.0H314V283.0H0ZM0 296.0H314V298.0H0Z"/></clipPath><path clip-path="url(#k67)" fill="#f2f8a0" d="M174.4 0H190.0V314H174.4ZM216.0 0H222.4V314H216.0ZM231.0 0H236.4V314H231.0Z"/><clipPath id="k68"><path d="M0 174.4H314V190.0H0ZM0 216.0H314V222.4H0ZM0 231.0H314V236.4H0Z"/></clipPath><path clip-path="url(#k68)" fill="#f2f8a0" d="M212.0 0H216.0V314H212.0ZM229.4 0H231.0V314H229.4ZM236.4 0H238.0V314H236.4Z"/><clipPath id="k69"><path d="M0 212.0H314V216.0H0ZM0 229.4H314V231.0H0ZM0 236.4H314V238.0H0Z"/></clipPath><path clip-path="url(#k69)" fill="#f2f8a0" d="M174.4 0H190.0V314H174.4ZM216.0 0H222.4V314H216.0ZM231.0 0H236.4V314H231.0Z"/><clipPath id="k70"><path d="M0 251.0H314V253.0H0ZM0 266.0H314V268.0H0ZM0 281.0H314V283.0H0ZM0 296.0H314V298.0H0Z"/></clipPath><path clip-path="url(#k70)" fill="#f2f8a0" d="M251.0 0H253.0V314H251.0ZM266.0 0H268.0V314H266.0ZM281.0 0H283.0V314H281.0ZM296.0 0H298.0V314H296.0Z"/><clipPath id="k71"><path d="M0 251.0H314V253.0H0ZM0 266.0H314V268.0H0ZM0 281.0H314V283.0H0ZM0 296.0H314V298.0H0Z"/></clipPath><path clip-path="url(#k71)" fill="#f2f8a0" d="M238.0 0H243.0V314H238.0ZM253.0 0H258.0V314H253.0ZM268.0 0H273.0V314H268.0ZM291.0 0H296.0V314H291.0Z"/><clipPath id="k72"><path d="M0 238.0H314V243.0H0ZM0 253.0H314V258.0H0ZM0 268.0H314V273.0H0ZM0 291.0H314V296.0H0Z"/></clipPath><path clip-path="url(#k72)" fill="#f2f8a0" d="M251.0 0H253.0V314H251.0ZM266.0 0H268.0V314H266.0ZM281.0 0H283.0V314H281.0ZM296.0 0H298.0V314H296.0Z"/><clipPath id="k73"><path d="M0 251.0H314V253.0H0ZM0 266.0H314V268.0H0ZM0 281.0H314V283.0H0ZM0 296.0H314V298.0H0Z"/></clipPath><path clip-path="url(#k73)" fill="#f2f8a0" d="M246.0 0H251.0V314H246.0ZM276.0 0H281.0V314H276.0ZM298.0 0H303.0V314H298.0Z"/><clipPath id="k74"><path d="M0 246.0H314V251.0H0ZM0 276.0H314V281.0H0ZM0 298.0H314V303.0H0Z"/></clipPath><path clip-path="url(#k74)" fill="#f2f8a0" d="M251.0 0H253.0V314H251.0ZM266.0 0H268.0V314H266.0ZM281.0 0H283.0V314H281.0ZM296.0 0H298.0V314H296.0Z"/><clipPath id="k75"><path d="M0 238.0H314V243.0H0ZM0 253.0H314V258.0H0ZM0 268.0H314V273.0H0ZM0 291.0H314V296.0H0Z"/></clipPath><path clip-path="url(#k75)" fill="#f2f8a0" d="M243.0 0H246.0V314H243.0ZM258.0 0H261.0V314H258.0ZM273.0 0H276.0V314H273.0ZM288.0 0H291.0V314H288.0ZM303.0 0H306.0V314H303.0Z"/><clipPath id="k76"><path d="M0 243.0H314V246.0H0ZM0 258.0H314V261.0H0ZM0 273.0H314V276.0H0ZM0 288.0H314V291.0H0ZM0 303.0H314V306.0H0Z"/></clipPath><path clip-path="url(#k76)" fill="#f2f8a0" d="M238.0 0H243.0V314H238.0ZM253.0 0H258.0V314H253.0ZM268.0 0H273.0V314H268.0ZM291.0 0H296.0V314H291.0Z"/><clipPath id="k77"><path d="M0 246.0H314V251.0H0ZM0 276.0H314V281.0H0ZM0 298.0H314V303.0H0Z"/></clipPath><path clip-path="url(#k77)" fill="#f2f8a0" d="M243.0 0H246.0V314H243.0ZM258.0 0H261.0V314H258.0ZM273.0 0H276.0V314H273.0ZM288.0 0H291.0V314H288.0ZM303.0 0H306.0V314H303.0Z"/><clipPath id="k78"><path d="M0 243.0H314V246.0H0ZM0 258.0H314V261.0H0ZM0 273.0H314V276.0H0ZM0 288.0H314V291.0H0ZM0 303.0H314V306.0H0Z"/></clipPath><path clip-path="url(#k78)" fill="#f2f8a0" d="M246.0 0H251.0V314H246.0ZM276.0 0H281.0V314H276.0ZM298.0 0H303.0V314H298.0Z"/><clipPath id="k79"><path d="M0 243.0H314V246.0H0ZM0 258.0H314V261.0H0ZM0 273.0H314V276.0H0ZM0 288.0H314V291.0H0ZM0 303.0H314V306.0H0Z"/></clipPath><path clip-path="url(#k79)" fill="#f2f8a0" d="M243.0 0H246.0V314H243.0ZM258.0 0H261.0V314H258.0ZM273.0 0H276.0V314H273.0ZM288.0 0H291.0V314H288.0ZM303.0 0H306.0V314H303.0Z"/><clipPath id="k80"><path d="M0 2.0H314V18.6H0ZM0 146.0H314V153.0H0Z"/></clipPath><path clip-path="url(#k80)" fill="#e8f044" d="M88.0 0H92.3V314H88.0ZM130.0 0H135.3V314H130.0ZM141.6 0H146.0V314H141.6Z"/><clipPath id="k81"><path d="M0 88.0H314V92.3H0ZM0 130.0H314V135.3H0ZM0 141.6H314V146.0H0Z"/></clipPath><path clip-path="url(#k81)" fill="#e8f044" d="M2.0 0H18.6V314H2.0ZM146.0 0H153.0V314H146.0Z"/><clipPath id="k82"><path d="M0 2.0H314V18.6H0ZM0 146.0H314V153.0H0Z"/></clipPath><path clip-path="url(#k82)" fill="#e8f044" d="M202.3 0H212.0V314H202.3Z"/><clipPath id="k83"><path d="M0 202.3H314V212.0H0Z"/></clipPath><path clip-path="url(#k83)" fill="#e8f044" d="M2.0 0H18.6V314H2.0ZM146.0 0H153.0V314H146.0Z"/><clipPath id="k84"><path d="M0 33.3H314V45.9H0ZM0 65.6H314V72.7H0Z"/></clipPath><path clip-path="url(#k84)" fill="#e8f044" d="M88.0 0H92.3V314H88.0ZM130.0 0H135.3V314H130.0ZM141.6 0H146.0V314H141.6Z"/><clipPath id="k85"><path d="M0 88.0H314V92.3H0ZM0 130.0H314V135.3H0ZM0 141.6H314V146.0H0Z"/></clipPath><path clip-path="url(#k85)" fill="#e8f044" d="M33.3 0H45.9V314H33.3ZM65.6 0H72.7V314H65.6Z"/><clipPath id="k86"><path d="M0 45.9H314V53.6H0Z"/></clipPath><path clip-path="url(#k86)" fill="#e8f044" d="M88.0 0H92.3V314H88.0ZM130.0 0H135.3V314H130.0ZM141.6 0H146.0V314H141.6Z"/><clipPath id="k87"><path d="M0 88.0H314V92.3H0ZM0 130.0H314V135.3H0ZM0 141.6H314V146.0H0Z"/></clipPath><path clip-path="url(#k87)" fill="#e8f044" d="M45.9 0H53.6V314H45.9Z"/><clipPath id="k88"><path d="M0 45.9H314V53.6H0Z"/></clipPath><path clip-path="url(#k88)" fill="#e8f044" d="M157.0 0H174.4V314H157.0ZM306.0 0H313.0V314H306.0Z"/><clipPath id="k89"><path d="M0 157.0H314V174.4H0ZM0 306.0H314V313.0H0Z"/></clipPath><path clip-path="url(#k89)" fill="#e8f044" d="M45.9 0H53.6V314H45.9Z"/><clipPath id="k90"><path d="M0 78.7H314V81.0H0ZM0 96.0H314V98.2H0ZM0 103.0H314V107.6H0ZM0 116.5H314V119.7H0ZM0 136.2H314V139.8H0Z"/></clipPath><path clip-path="url(#k90)" fill="#e8f044" d="M81.0 0H84.7V314H81.0ZM98.2 0H103.0V314H98.2ZM111.6 0H116.5V314H111.6ZM129.0 0H130.0V314H129.0ZM139.8 0H141.6V314H139.8Z"/><clipPath id="k91"><path d="M0 81.0H314V84.7H0ZM0 98.2H314V103.0H0ZM0 111.6H314V116.5H0ZM0 129.0H314V130.0H0ZM0 139.8H314V141.6H0Z"/></clipPath><path clip-path="url(#k91)" fill="#e8f044" d="M78.7 0H81.0V314H78.7ZM96.0 0H98.2V314H96.0ZM103.0 0H107.6V314H103.0ZM116.5 0H119.7V314H116.5ZM136.2 0H139.8V314H136.2Z"/><clipPath id="k92"><path d="M0 78.7H314V81.0H0ZM0 96.0H314V98.2H0ZM0 103.0H314V107.6H0ZM0 116.5H314V119.7H0ZM0 136.2H314V139.8H0Z"/></clipPath><path clip-path="url(#k92)" fill="#e8f044" d="M246.0 0H251.0V314H246.0ZM276.0 0H281.0V314H276.0ZM298.0 0H303.0V314H298.0Z"/><clipPath id="k93"><path d="M0 246.0H314V251.0H0ZM0 276.0H314V281.0H0ZM0 298.0H314V303.0H0Z"/></clipPath><path clip-path="url(#k93)" fill="#e8f044" d="M78.7 0H81.0V314H78.7ZM96.0 0H98.2V314H96.0ZM103.0 0H107.6V314H103.0ZM116.5 0H119.7V314H116.5ZM136.2 0H139.8V314H136.2Z"/><clipPath id="k94"><path d="M0 88.0H314V92.3H0ZM0 130.0H314V135.3H0ZM0 141.6H314V146.0H0Z"/></clipPath><path clip-path="url(#k94)" fill="#e8f044" d="M81.0 0H84.7V314H81.0ZM98.2 0H103.0V314H98.2ZM111.6 0H116.5V314H111.6ZM129.0 0H130.0V314H129.0ZM139.8 0H141.6V314H139.8Z"/><clipPath id="k95"><path d="M0 81.0H314V84.7H0ZM0 98.2H314V103.0H0ZM0 111.6H314V116.5H0ZM0 129.0H314V130.0H0ZM0 139.8H314V141.6H0Z"/></clipPath><path clip-path="url(#k95)" fill="#e8f044" d="M88.0 0H92.3V314H88.0ZM130.0 0H135.3V314H130.0ZM141.6 0H146.0V314H141.6Z"/><clipPath id="k96"><path d="M0 84.7H314V88.0H0ZM0 109.0H314V111.6H0ZM0 125.0H314V129.0H0Z"/></clipPath><path clip-path="url(#k96)" fill="#e8f044" d="M81.0 0H84.7V314H81.0ZM98.2 0H103.0V314H98.2ZM111.6 0H116.5V314H111.6ZM129.0 0H130.0V314H129.0ZM139.8 0H141.6V314H139.8Z"/><clipPath id="k97"><path d="M0 81.0H314V84.7H0ZM0 98.2H314V103.0H0ZM0 111.6H314V116.5H0ZM0 129.0H314V130.0H0ZM0 139.8H314V141.6H0Z"/></clipPath><path clip-path="url(#k97)" fill="#e8f044" d="M84.7 0H88.0V314H84.7ZM109.0 0H111.6V314H109.0ZM125.0 0H129.0V314H125.0Z"/><clipPath id="k98"><path d="M0 84.7H314V88.0H0ZM0 109.0H314V111.6H0ZM0 125.0H314V129.0H0Z"/></clipPath><path clip-path="url(#k98)" fill="#e8f044" d="M238.0 0H243.0V314H238.0ZM253.0 0H258.0V314H253.0ZM268.0 0H273.0V314H268.0ZM291.0 0H296.0V314H291.0Z"/><clipPath id="k99"><path d="M0 238.0H314V243.0H0ZM0 253.0H314V258.0H0ZM0 268.0H314V273.0H0ZM0 291.0H314V296.0H0Z"/></clipPath><path clip-path="url(#k99)" fill="#e8f044" d="M84.7 0H88.0V314H84.7ZM109.0 0H111.6V314H109.0ZM125.0 0H129.0V314H125.0Z"/><clipPath id="k100"><path d="M0 81.0H314V84.7H0ZM0 98.2H314V103.0H0ZM0 111.6H314V116.5H0ZM0 129.0H314V130.0H0ZM0 139.8H314V141.6H0Z"/></clipPath><path clip-path="url(#k100)" fill="#e8f044" d="M81.0 0H84.7V314H81.0ZM98.2 0H103.0V314H98.2ZM111.6 0H116.5V314H111.6ZM129.0 0H130.0V314H129.0ZM139.8 0H141.6V314H139.8Z"/><clipPath id="k101"><path d="M0 157.0H314V174.4H0ZM0 306.0H314V313.0H0Z"/></clipPath><path clip-path="url(#k101)" fill="#e8f044" d="M261.0 0H266.0V314H261.0ZM283.0 0H288.0V314H283.0Z"/><clipPath id="k102"><path d="M0 261.0H314V266.0H0ZM0 283.0H314V288.0H0Z"/></clipPath><path clip-path="url(#k102)" fill="#e8f044" d="M157.0 0H174.4V314H157.0ZM306.0 0H313.0V314H306.0Z"/><clipPath id="k103"><path d="M0 190.0H314V202.3H0ZM0 222.4H314V229.4H0Z"/></clipPath><path clip-path="url(#k103)" fill="#e8f044" d="M261.0 0H266.0V314H261.0ZM283.0 0H288.0V314H283.0Z"/><clipPath id="k104"><path d="M0 261.0H314V266.0H0ZM0 283.0H314V288.0H0Z"/></clipPath><path clip-path="url(#k104)" fill="#e8f044" d="M190.0 0H202.3V314H190.0ZM222.4 0H229.4V314H222.4Z"/><clipPath id="k105"><path d="M0 202.3H314V212.0H0Z"/></clipPath><path clip-path="url(#k105)" fill="#e8f044" d="M261.0 0H266.0V314H261.0ZM283.0 0H288.0V314H283.0Z"/><clipPath id="k106"><path d="M0 261.0H314V266.0H0ZM0 283.0H314V288.0H0Z"/></clipPath><path clip-path="url(#k106)" fill="#e8f044" d="M202.3 0H212.0V314H202.3Z"/><clipPath id="k107"><path d="M0 261.0H314V266.0H0ZM0 283.0H314V288.0H0Z"/></clipPath><path clip-path="url(#k107)" fill="#e8f044" d="M243.0 0H246.0V314H243.0ZM258.0 0H261.0V314H258.0ZM273.0 0H276.0V314H273.0ZM288.0 0H291.0V314H288.0ZM303.0 0H306.0V314H303.0Z"/><clipPath id="k108"><path d="M0 243.0H314V246.0H0ZM0 258.0H314V261.0H0ZM0 273.0H314V276.0H0ZM0 288.0H314V291.0H0ZM0 303.0H314V306.0H0Z"/></clipPath><path clip-path="url(#k108)" fill="#e8f044" d="M261.0 0H266.0V314H261.0ZM283.0 0H288.0V314H283.0Z"/><clipPath id="k109"><path d="M0 2.0H314V18.6H0ZM0 146.0H314V153.0H0Z"/></clipPath><path clip-path="url(#k109)" fill="#eac23c" d="M45.9 0H53.6V314H45.9Z"/><clipPath id="k110"><path d="M0 45.9H314V53.6H0Z"/></clipPath><path clip-path="url(#k110)" fill="#eac23c" d="M2.0 0H18.6V314H2.0ZM146.0 0H153.0V314H146.0Z"/><clipPath id="k111"><path d="M0 2.0H314V18.6H0ZM0 146.0H314V153.0H0Z"/></clipPath><path clip-path="url(#k111)" fill="#eac23c" d="M157.0 0H174.4V314H157.0ZM306.0 0H313.0V314H306.0Z"/><clipPath id="k112"><path d="M0 157.0H314V174.4H0ZM0 306.0H314V313.0H0Z"/></clipPath><path clip-path="url(#k112)" fill="#eac23c" d="M2.0 0H18.6V314H2.0ZM146.0 0H153.0V314H146.0Z"/><clipPath id="k113"><path d="M0 78.7H314V81.0H0ZM0 96.0H314V98.2H0ZM0 103.0H314V107.6H0ZM0 116.5H314V119.7H0ZM0 136.2H314V139.8H0Z"/></clipPath><path clip-path="url(#k113)" fill="#eac23c" d="M84.7 0H88.0V314H84.7ZM109.0 0H111.6V314H109.0ZM125.0 0H129.0V314H125.0Z"/><clipPath id="k114"><path d="M0 84.7H314V88.0H0ZM0 109.0H314V111.6H0ZM0 125.0H314V129.0H0Z"/></clipPath><path clip-path="url(#k114)" fill="#eac23c" d="M78.7 0H81.0V314H78.7ZM96.0 0H98.2V314H96.0ZM103.0 0H107.6V314H103.0ZM116.5 0H119.7V314H116.5ZM136.2 0H139.8V314H136.2Z"/><clipPath id="k115"><path d="M0 88.0H314V92.3H0ZM0 130.0H314V135.3H0ZM0 141.6H314V146.0H0Z"/></clipPath><path clip-path="url(#k115)" fill="#eac23c" d="M246.0 0H251.0V314H246.0ZM276.0 0H281.0V314H276.0ZM298.0 0H303.0V314H298.0Z"/><clipPath id="k116"><path d="M0 246.0H314V251.0H0ZM0 276.0H314V281.0H0ZM0 298.0H314V303.0H0Z"/></clipPath><path clip-path="url(#k116)" fill="#eac23c" d="M88.0 0H92.3V314H88.0ZM130.0 0H135.3V314H130.0ZM141.6 0H146.0V314H141.6Z"/><clipPath id="k117"><path d="M0 84.7H314V88.0H0ZM0 109.0H314V111.6H0ZM0 125.0H314V129.0H0Z"/></clipPath><path clip-path="url(#k117)" fill="#eac23c" d="M261.0 0H266.0V314H261.0ZM283.0 0H288.0V314H283.0Z"/><clipPath id="k118"><path d="M0 261.0H314V266.0H0ZM0 283.0H314V288.0H0Z"/></clipPath><path clip-path="url(#k118)" fill="#eac23c" d="M84.7 0H88.0V314H84.7ZM109.0 0H111.6V314H109.0ZM125.0 0H129.0V314H125.0Z"/><clipPath id="k119"><path d="M0 157.0H314V174.4H0ZM0 306.0H314V313.0H0Z"/></clipPath><path clip-path="url(#k119)" fill="#eac23c" d="M202.3 0H212.0V314H202.3Z"/><clipPath id="k120"><path d="M0 202.3H314V212.0H0Z"/></clipPath><path clip-path="url(#k120)" fill="#eac23c" d="M157.0 0H174.4V314H157.0ZM306.0 0H313.0V314H306.0Z"/><clipPath id="k121"><path d="M0 238.0H314V243.0H0ZM0 253.0H314V258.0H0ZM0 268.0H314V273.0H0ZM0 291.0H314V296.0H0Z"/></clipPath><path clip-path="url(#k121)" fill="#eac23c" d="M246.0 0H251.0V314H246.0ZM276.0 0H281.0V314H276.0ZM298.0 0H303.0V314H298.0Z"/><clipPath id="k122"><path d="M0 246.0H314V251.0H0ZM0 276.0H314V281.0H0ZM0 298.0H314V303.0H0Z"/></clipPath><path clip-path="url(#k122)" fill="#eac23c" d="M238.0 0H243.0V314H238.0ZM253.0 0H258.0V314H253.0ZM268.0 0H273.0V314H268.0ZM291.0 0H296.0V314H291.0Z"/><clipPath id="k123"><path d="M0 2.0H314V18.6H0ZM0 146.0H314V153.0H0Z"/></clipPath><path clip-path="url(#k123)" fill="#ee8a34" d="M2.0 0H18.6V314H2.0ZM146.0 0H153.0V314H146.0Z"/><clipPath id="k124"><path d="M0 78.7H314V81.0H0ZM0 96.0H314V98.2H0ZM0 103.0H314V107.6H0ZM0 116.5H314V119.7H0ZM0 136.2H314V139.8H0Z"/></clipPath><path clip-path="url(#k124)" fill="#ee8a34" d="M261.0 0H266.0V314H261.0ZM283.0 0H288.0V314H283.0Z"/><clipPath id="k125"><path d="M0 261.0H314V266.0H0ZM0 283.0H314V288.0H0Z"/></clipPath><path clip-path="url(#k125)" fill="#ee8a34" d="M78.7 0H81.0V314H78.7ZM96.0 0H98.2V314H96.0ZM103.0 0H107.6V314H103.0ZM116.5 0H119.7V314H116.5ZM136.2 0H139.8V314H136.2Z"/><clipPath id="k126"><path d="M0 88.0H314V92.3H0ZM0 130.0H314V135.3H0ZM0 141.6H314V146.0H0Z"/></clipPath><path clip-path="url(#k126)" fill="#ee8a34" d="M84.7 0H88.0V314H84.7ZM109.0 0H111.6V314H109.0ZM125.0 0H129.0V314H125.0Z"/><clipPath id="k127"><path d="M0 84.7H314V88.0H0ZM0 109.0H314V111.6H0ZM0 125.0H314V129.0H0Z"/></clipPath><path clip-path="url(#k127)" fill="#ee8a34" d="M88.0 0H92.3V314H88.0ZM130.0 0H135.3V314H130.0ZM141.6 0H146.0V314H141.6Z"/><clipPath id="k128"><path d="M0 88.0H314V92.3H0ZM0 130.0H314V135.3H0ZM0 141.6H314V146.0H0Z"/></clipPath><path clip-path="url(#k128)" fill="#ee8a34" d="M238.0 0H243.0V314H238.0ZM253.0 0H258.0V314H253.0ZM268.0 0H273.0V314H268.0ZM291.0 0H296.0V314H291.0Z"/><clipPath id="k129"><path d="M0 238.0H314V243.0H0ZM0 253.0H314V258.0H0ZM0 268.0H314V273.0H0ZM0 291.0H314V296.0H0Z"/></clipPath><path clip-path="url(#k129)" fill="#ee8a34" d="M88.0 0H92.3V314H88.0ZM130.0 0H135.3V314H130.0ZM141.6 0H146.0V314H141.6Z"/><clipPath id="k130"><path d="M0 153.0H314V157.0H0Z"/></clipPath><path clip-path="url(#k130)" fill="#ee8a34" d="M153.0 0H157.0V314H153.0Z"/><clipPath id="k131"><path d="M0 157.0H314V174.4H0ZM0 306.0H314V313.0H0Z"/></clipPath><path clip-path="url(#k131)" fill="#ee8a34" d="M157.0 0H174.4V314H157.0ZM306.0 0H313.0V314H306.0Z"/><clipPath id="k132"><path d="M0 261.0H314V266.0H0ZM0 283.0H314V288.0H0Z"/></clipPath><path clip-path="url(#k132)" fill="#ee8a34" d="M246.0 0H251.0V314H246.0ZM276.0 0H281.0V314H276.0ZM298.0 0H303.0V314H298.0Z"/><clipPath id="k133"><path d="M0 246.0H314V251.0H0ZM0 276.0H314V281.0H0ZM0 298.0H314V303.0H0Z"/></clipPath><path clip-path="url(#k133)" fill="#ee8a34" d="M261.0 0H266.0V314H261.0ZM283.0 0H288.0V314H283.0Z"/><clipPath id="k134"><path d="M0 78.7H314V81.0H0ZM0 96.0H314V98.2H0ZM0 103.0H314V107.6H0ZM0 116.5H314V119.7H0ZM0 136.2H314V139.8H0Z"/></clipPath><path clip-path="url(#k134)" fill="#f05a2c" d="M88.0 0H92.3V314H88.0ZM130.0 0H135.3V314H130.0ZM141.6 0H146.0V314H141.6Z"/><clipPath id="k135"><path d="M0 88.0H314V92.3H0ZM0 130.0H314V135.3H0ZM0 141.6H314V146.0H0Z"/></clipPath><path clip-path="url(#k135)" fill="#f05a2c" d="M78.7 0H81.0V314H78.7ZM96.0 0H98.2V314H96.0ZM103.0 0H107.6V314H103.0ZM116.5 0H119.7V314H116.5ZM136.2 0H139.8V314H136.2Z"/><clipPath id="k136"><path d="M0 78.7H314V81.0H0ZM0 96.0H314V98.2H0ZM0 103.0H314V107.6H0ZM0 116.5H314V119.7H0ZM0 136.2H314V139.8H0Z"/></clipPath><path clip-path="url(#k136)" fill="#f05a2c" d="M238.0 0H243.0V314H238.0ZM253.0 0H258.0V314H253.0ZM268.0 0H273.0V314H268.0ZM291.0 0H296.0V314H291.0Z"/><clipPath id="k137"><path d="M0 238.0H314V243.0H0ZM0 253.0H314V258.0H0ZM0 268.0H314V273.0H0ZM0 291.0H314V296.0H0Z"/></clipPath><path clip-path="url(#k137)" fill="#f05a2c" d="M78.7 0H81.0V314H78.7ZM96.0 0H98.2V314H96.0ZM103.0 0H107.6V314H103.0ZM116.5 0H119.7V314H116.5ZM136.2 0H139.8V314H136.2Z"/><clipPath id="k138"><path d="M0 88.0H314V92.3H0ZM0 130.0H314V135.3H0ZM0 141.6H314V146.0H0Z"/></clipPath><path clip-path="url(#k138)" fill="#f05a2c" d="M261.0 0H266.0V314H261.0ZM283.0 0H288.0V314H283.0Z"/><clipPath id="k139"><path d="M0 261.0H314V266.0H0ZM0 283.0H314V288.0H0Z"/></clipPath><path clip-path="url(#k139)" fill="#f05a2c" d="M88.0 0H92.3V314H88.0ZM130.0 0H135.3V314H130.0ZM141.6 0H146.0V314H141.6Z"/><clipPath id="k140"><path d="M0 84.7H314V88.0H0ZM0 109.0H314V111.6H0ZM0 125.0H314V129.0H0Z"/></clipPath><path clip-path="url(#k140)" fill="#f05a2c" d="M246.0 0H251.0V314H246.0ZM276.0 0H281.0V314H276.0ZM298.0 0H303.0V314H298.0Z"/><clipPath id="k141"><path d="M0 246.0H314V251.0H0ZM0 276.0H314V281.0H0ZM0 298.0H314V303.0H0Z"/></clipPath><path clip-path="url(#k141)" fill="#f05a2c" d="M84.7 0H88.0V314H84.7ZM109.0 0H111.6V314H109.0ZM125.0 0H129.0V314H125.0Z"/><clipPath id="k142"><path d="M0 53.6H314V59.6H0ZM0 72.7H314V74.3H0Z"/></clipPath><path clip-path="url(#k142)" fill="#f05a2c" d="M53.6 0H59.6V314H53.6ZM72.7 0H74.3V314H72.7Z"/><clipPath id="k143"><path d="M0 238.0H314V243.0H0ZM0 253.0H314V258.0H0ZM0 268.0H314V273.0H0ZM0 291.0H314V296.0H0Z"/></clipPath><path clip-path="url(#k143)" fill="#f05a2c" d="M261.0 0H266.0V314H261.0ZM283.0 0H288.0V314H283.0Z"/><clipPath id="k144"><path d="M0 261.0H314V266.0H0ZM0 283.0H314V288.0H0Z"/></clipPath><path clip-path="url(#k144)" fill="#f05a2c" d="M238.0 0H243.0V314H238.0ZM253.0 0H258.0V314H253.0ZM268.0 0H273.0V314H268.0ZM291.0 0H296.0V314H291.0Z"/><clipPath id="k145"><path d="M0 212.0H314V216.0H0ZM0 229.4H314V231.0H0ZM0 236.4H314V238.0H0Z"/></clipPath><path clip-path="url(#k145)" fill="#f05a2c" d="M212.0 0H216.0V314H212.0ZM229.4 0H231.0V314H229.4ZM236.4 0H238.0V314H236.4Z"/><clipPath id="k146"><path d="M0 18.6H314V33.3H0ZM0 59.6H314V65.6H0ZM0 74.3H314V78.7H0Z"/></clipPath><path clip-path="url(#k146)" fill="#f23c28" d="M18.6 0H33.3V314H18.6ZM59.6 0H65.6V314H59.6ZM74.3 0H78.7V314H74.3Z"/><clipPath id="k147"><path d="M0 18.6H314V33.3H0ZM0 59.6H314V65.6H0ZM0 74.3H314V78.7H0Z"/></clipPath><path clip-path="url(#k147)" fill="#f23c28" d="M174.4 0H190.0V314H174.4ZM216.0 0H222.4V314H216.0ZM231.0 0H236.4V314H231.0Z"/><clipPath id="k148"><path d="M0 174.4H314V190.0H0ZM0 216.0H314V222.4H0ZM0 231.0H314V236.4H0Z"/></clipPath><path clip-path="url(#k148)" fill="#f23c28" d="M18.6 0H33.3V314H18.6ZM59.6 0H65.6V314H59.6ZM74.3 0H78.7V314H74.3Z"/><clipPath id="k149"><path d="M0 33.3H314V45.9H0ZM0 65.6H314V72.7H0Z"/></clipPath><path clip-path="url(#k149)" fill="#f23c28" d="M33.3 0H45.9V314H33.3ZM65.6 0H72.7V314H65.6Z"/><clipPath id="k150"><path d="M0 45.9H314V53.6H0Z"/></clipPath><path clip-path="url(#k150)" fill="#f23c28" d="M45.9 0H53.6V314H45.9Z"/><clipPath id="k151"><path d="M0 78.7H314V81.0H0ZM0 96.0H314V98.2H0ZM0 103.0H314V107.6H0ZM0 116.5H314V119.7H0ZM0 136.2H314V139.8H0Z"/></clipPath><path clip-path="url(#k151)" fill="#f23c28" d="M78.7 0H81.0V314H78.7ZM96.0 0H98.2V314H96.0ZM103.0 0H107.6V314H103.0ZM116.5 0H119.7V314H116.5ZM136.2 0H139.8V314H136.2Z"/><clipPath id="k152"><path d="M0 88.0H314V92.3H0ZM0 130.0H314V135.3H0ZM0 141.6H314V146.0H0Z"/></clipPath><path clip-path="url(#k152)" fill="#f23c28" d="M88.0 0H92.3V314H88.0ZM130.0 0H135.3V314H130.0ZM141.6 0H146.0V314H141.6Z"/><clipPath id="k153"><path d="M0 84.7H314V88.0H0ZM0 109.0H314V111.6H0ZM0 125.0H314V129.0H0Z"/></clipPath><path clip-path="url(#k153)" fill="#f23c28" d="M84.7 0H88.0V314H84.7ZM109.0 0H111.6V314H109.0ZM125.0 0H129.0V314H125.0Z"/><clipPath id="k154"><path d="M0 174.4H314V190.0H0ZM0 216.0H314V222.4H0ZM0 231.0H314V236.4H0Z"/></clipPath><path clip-path="url(#k154)" fill="#f23c28" d="M174.4 0H190.0V314H174.4ZM216.0 0H222.4V314H216.0ZM231.0 0H236.4V314H231.0Z"/><clipPath id="k155"><path d="M0 190.0H314V202.3H0ZM0 222.4H314V229.4H0Z"/></clipPath><path clip-path="url(#k155)" fill="#f23c28" d="M190.0 0H202.3V314H190.0ZM222.4 0H229.4V314H222.4Z"/><clipPath id="k156"><path d="M0 202.3H314V212.0H0Z"/></clipPath><path clip-path="url(#k156)" fill="#f23c28" d="M202.3 0H212.0V314H202.3Z"/><clipPath id="k157"><path d="M0 238.0H314V243.0H0ZM0 253.0H314V258.0H0ZM0 268.0H314V273.0H0ZM0 291.0H314V296.0H0Z"/></clipPath><path clip-path="url(#k157)" fill="#f23c28" d="M238.0 0H243.0V314H238.0ZM253.0 0H258.0V314H253.0ZM268.0 0H273.0V314H268.0ZM291.0 0H296.0V314H291.0Z"/><clipPath id="k158"><path d="M0 261.0H314V266.0H0ZM0 283.0H314V288.0H0Z"/></clipPath><path clip-path="url(#k158)" fill="#f23c28" d="M261.0 0H266.0V314H261.0ZM283.0 0H288.0V314H283.0Z"/><clipPath id="k159"><path d="M0 246.0H314V251.0H0ZM0 276.0H314V281.0H0ZM0 298.0H314V303.0H0Z"/></clipPath><path clip-path="url(#k159)" fill="#f23c28" d="M246.0 0H251.0V314H246.0ZM276.0 0H281.0V314H276.0ZM298.0 0H303.0V314H298.0Z"/></g>
<path d="M84.0 48.0L394.0 358.0" stroke="#fff" stroke-width="0.9" opacity="0.9"/>
<g transform="translate(574.0 46.0)"><clipPath id="k160"><path d="M0 111.2H314V112.5H0ZM0 121.2H314V122.4H0ZM0 108.9H314V110.6H0ZM0 96.8H314V98.0H0ZM0 75.7H314V77.3H0ZM0 74.4H314V76.5H0ZM0 152.5H314V153.4H0ZM0 37.1H314V39.2H0ZM0 143.1H314V143.9H0ZM0 18.4H314V20.0H0ZM0 146.4H314V148.1H0ZM0 75.7H314V77.5H0ZM0 140.1H314V142.2H0ZM0 118.2H314V120.0H0ZM0 78.5H314V80.5H0ZM0 152.8H314V154.4H0Z"/></clipPath><path clip-path="url(#k160)" fill="#f2f8a0" d="M111.2 0H112.5V314H111.2ZM121.2 0H122.4V314H121.2ZM108.9 0H110.6V314H108.9ZM96.8 0H98.0V314H96.8ZM75.7 0H77.3V314H75.7ZM74.4 0H76.5V314H74.4ZM152.5 0H153.4V314H152.5ZM37.1 0H39.2V314H37.1ZM143.1 0H143.9V314H143.1ZM18.4 0H20.0V314H18.4ZM146.4 0H148.1V314H146.4ZM75.7 0H77.5V314H75.7ZM140.1 0H142.2V314H140.1ZM118.2 0H120.0V314H118.2ZM78.5 0H80.5V314H78.5ZM152.8 0H154.4V314H152.8Z"/><clipPath id="k161"><path d="M0 76.1H314V78.0H0ZM0 49.7H314V51.0H0ZM0 87.8H314V89.1H0ZM0 6.6H314V8.0H0ZM0 8.2H314V10.3H0ZM0 43.3H314V44.4H0ZM0 23.3H314V25.1H0ZM0 40.0H314V40.8H0ZM0 103.7H314V105.4H0ZM0 18.4H314V19.5H0ZM0 143.4H314V144.6H0ZM0 7.3H314V8.3H0ZM0 68.3H314V69.5H0ZM0 129.1H314V131.1H0ZM0 13.1H314V14.7H0ZM0 141.0H314V142.1H0Z"/></clipPath><path clip-path="url(#k161)" fill="#e8f044" d="M76.1 0H78.0V314H76.1ZM49.7 0H51.0V314H49.7ZM87.8 0H89.1V314H87.8ZM6.6 0H8.0V314H6.6ZM8.2 0H10.3V314H8.2ZM43.3 0H44.4V314H43.3ZM23.3 0H25.1V314H23.3ZM40.0 0H40.8V314H40.0ZM103.7 0H105.4V314H103.7ZM18.4 0H19.5V314H18.4ZM143.4 0H144.6V314H143.4ZM7.3 0H8.3V314H7.3ZM68.3 0H69.5V314H68.3ZM129.1 0H131.1V314H129.1ZM13.1 0H14.7V314H13.1ZM141.0 0H142.1V314H141.0Z"/><clipPath id="k162"><path d="M0 147.9H314V148.7H0ZM0 113.3H314V114.7H0ZM0 2.4H314V3.5H0ZM0 77.4H314V78.8H0ZM0 135.0H314V136.3H0ZM0 122.3H314V123.7H0ZM0 146.1H314V148.3H0ZM0 26.7H314V28.7H0ZM0 19.2H314V20.5H0ZM0 137.3H314V138.7H0ZM0 5.1H314V5.9H0ZM0 152.8H314V154.8H0ZM0 149.3H314V150.6H0ZM0 48.6H314V50.4H0ZM0 9.5H314V11.1H0ZM0 25.5H314V26.6H0Z"/></clipPath><path clip-path="url(#k162)" fill="#f2f8a0" d="M147.9 0H148.7V314H147.9ZM113.3 0H114.7V314H113.3ZM2.4 0H3.5V314H2.4ZM77.4 0H78.8V314H77.4ZM135.0 0H136.3V314H135.0ZM122.3 0H123.7V314H122.3ZM146.1 0H148.3V314H146.1ZM26.7 0H28.7V314H26.7ZM19.2 0H20.5V314H19.2ZM137.3 0H138.7V314H137.3ZM5.1 0H5.9V314H5.1ZM152.8 0H154.8V314H152.8ZM149.3 0H150.6V314H149.3ZM48.6 0H50.4V314H48.6ZM9.5 0H11.1V314H9.5ZM25.5 0H26.6V314H25.5Z"/><clipPath id="k163"><path d="M0 38.3H314V40.5H0ZM0 104.2H314V105.9H0ZM0 100.2H314V101.3H0ZM0 148.3H314V149.2H0ZM0 140.7H314V142.2H0ZM0 94.0H314V95.6H0ZM0 61.3H314V62.3H0ZM0 55.8H314V57.5H0ZM0 49.6H314V51.5H0ZM0 107.9H314V108.8H0ZM0 16.2H314V18.2H0ZM0 83.7H314V84.7H0ZM0 82.9H314V84.4H0ZM0 110.2H314V111.6H0ZM0 144.2H314V145.0H0ZM0 137.6H314V139.4H0Z"/></clipPath><path clip-path="url(#k163)" fill="#ee8a34" d="M38.3 0H40.5V314H38.3ZM104.2 0H105.9V314H104.2ZM100.2 0H101.3V314H100.2ZM148.3 0H149.2V314H148.3ZM140.7 0H142.2V314H140.7ZM94.0 0H95.6V314H94.0ZM61.3 0H62.3V314H61.3ZM55.8 0H57.5V314H55.8ZM49.6 0H51.5V314H49.6ZM107.9 0H108.8V314H107.9ZM16.2 0H18.2V314H16.2ZM83.7 0H84.7V314H83.7ZM82.9 0H84.4V314H82.9ZM110.2 0H111.6V314H110.2ZM144.2 0H145.0V314H144.2ZM137.6 0H139.4V314H137.6Z"/><clipPath id="k164"><path d="M0 132.8H314V134.6H0ZM0 143.6H314V145.5H0ZM0 28.7H314V30.6H0ZM0 43.2H314V44.7H0ZM0 125.5H314V126.6H0ZM0 41.2H314V42.6H0ZM0 149.0H314V151.1H0ZM0 125.5H314V127.2H0ZM0 132.9H314V134.6H0ZM0 144.4H314V145.3H0ZM0 79.7H314V81.8H0ZM0 90.2H314V92.0H0ZM0 30.4H314V31.4H0ZM0 134.0H314V135.3H0ZM0 85.2H314V86.8H0ZM0 120.7H314V122.7H0Z"/></clipPath><path clip-path="url(#k164)" fill="#ee8a34" d="M132.8 0H134.6V314H132.8ZM143.6 0H145.5V314H143.6ZM28.7 0H30.6V314H28.7ZM43.2 0H44.7V314H43.2ZM125.5 0H126.6V314H125.5ZM41.2 0H42.6V314H41.2ZM149.0 0H151.1V314H149.0ZM125.5 0H127.2V314H125.5ZM132.9 0H134.6V314H132.9ZM144.4 0H145.3V314H144.4ZM79.7 0H81.8V314H79.7ZM90.2 0H92.0V314H90.2ZM30.4 0H31.4V314H30.4ZM134.0 0H135.3V314H134.0ZM85.2 0H86.8V314H85.2ZM120.7 0H122.7V314H120.7Z"/><clipPath id="k165"><path d="M0 95.6H314V97.2H0ZM0 37.9H314V38.7H0ZM0 70.2H314V71.0H0ZM0 18.4H314V20.0H0ZM0 66.6H314V67.5H0ZM0 151.1H314V152.7H0ZM0 24.6H314V25.4H0ZM0 105.1H314V106.4H0ZM0 152.0H314V153.1H0ZM0 151.0H314V152.1H0ZM0 15.4H314V17.1H0ZM0 73.7H314V75.4H0ZM0 146.2H314V147.4H0ZM0 147.3H314V148.8H0ZM0 69.5H314V71.2H0ZM0 143.2H314V144.4H0Z"/></clipPath><path clip-path="url(#k165)" fill="#e8f044" d="M95.6 0H97.2V314H95.6ZM37.9 0H38.7V314H37.9ZM70.2 0H71.0V314H70.2ZM18.4 0H20.0V314H18.4ZM66.6 0H67.5V314H66.6ZM151.1 0H152.7V314H151.1ZM24.6 0H25.4V314H24.6ZM105.1 0H106.4V314H105.1ZM152.0 0H153.1V314H152.0ZM151.0 0H152.1V314H151.0ZM15.4 0H17.1V314H15.4ZM73.7 0H75.4V314H73.7ZM146.2 0H147.4V314H146.2ZM147.3 0H148.8V314H147.3ZM69.5 0H71.2V314H69.5ZM143.2 0H144.4V314H143.2Z"/><clipPath id="k166"><path d="M0 45.1H314V46.0H0ZM0 92.8H314V94.7H0ZM0 95.4H314V96.6H0ZM0 102.0H314V103.8H0ZM0 61.8H314V63.5H0ZM0 104.8H314V107.0H0ZM0 4.8H314V7.0H0ZM0 112.8H314V113.8H0ZM0 27.2H314V28.5H0ZM0 95.9H314V97.5H0ZM0 65.7H314V67.7H0ZM0 82.1H314V83.8H0ZM0 109.2H314V111.1H0ZM0 26.4H314V27.3H0ZM0 73.9H314V75.9H0ZM0 138.3H314V139.9H0Z"/></clipPath><path clip-path="url(#k166)" fill="#ee8a34" d="M45.1 0H46.0V314H45.1ZM92.8 0H94.7V314H92.8ZM95.4 0H96.6V314H95.4ZM102.0 0H103.8V314H102.0ZM61.8 0H63.5V314H61.8ZM104.8 0H107.0V314H104.8ZM4.8 0H7.0V314H4.8ZM112.8 0H113.8V314H112.8ZM27.2 0H28.5V314H27.2ZM95.9 0H97.5V314H95.9ZM65.7 0H67.7V314H65.7ZM82.1 0H83.8V314H82.1ZM109.2 0H111.1V314H109.2ZM26.4 0H27.3V314H26.4ZM73.9 0H75.9V314H73.9ZM138.3 0H139.9V314H138.3Z"/><clipPath id="k167"><path d="M0 90.2H314V91.2H0ZM0 121.8H314V124.0H0ZM0 78.0H314V79.5H0ZM0 133.0H314V133.9H0ZM0 35.8H314V37.9H0ZM0 95.8H314V97.3H0ZM0 149.7H314V151.6H0ZM0 93.1H314V94.8H0ZM0 134.5H314V136.0H0ZM0 7.1H314V7.9H0ZM0 101.1H314V102.2H0ZM0 23.6H314V25.2H0ZM0 119.7H314V120.6H0ZM0 24.5H314V25.4H0ZM0 119.0H314V120.5H0ZM0 64.0H314V65.6H0Z"/></clipPath><path clip-path="url(#k167)" fill="#e8f044" d="M90.2 0H91.2V314H90.2ZM121.8 0H124.0V314H121.8ZM78.0 0H79.5V314H78.0ZM133.0 0H133.9V314H133.0ZM35.8 0H37.9V314H35.8ZM95.8 0H97.3V314H95.8ZM149.7 0H151.6V314H149.7ZM93.1 0H94.8V314H93.1ZM134.5 0H136.0V314H134.5ZM7.1 0H7.9V314H7.1ZM101.1 0H102.2V314H101.1ZM23.6 0H25.2V314H23.6ZM119.7 0H120.6V314H119.7ZM24.5 0H25.4V314H24.5ZM119.0 0H120.5V314H119.0ZM64.0 0H65.6V314H64.0Z"/><clipPath id="k168"><path d="M0 19.9H314V21.7H0ZM0 132.7H314V134.3H0ZM0 135.7H314V136.8H0ZM0 2.4H314V3.5H0ZM0 154.2H314V155.5H0ZM0 51.8H314V52.7H0ZM0 61.9H314V63.0H0ZM0 77.7H314V78.6H0ZM0 18.8H314V19.6H0ZM0 144.5H314V146.4H0ZM0 34.6H314V35.8H0ZM0 37.4H314V38.8H0ZM0 80.1H314V81.9H0ZM0 96.6H314V97.5H0ZM0 91.8H314V92.6H0ZM0 67.4H314V68.3H0Z"/></clipPath><path clip-path="url(#k168)" fill="#f05a2c" d="M19.9 0H21.7V314H19.9ZM132.7 0H134.3V314H132.7ZM135.7 0H136.8V314H135.7ZM2.4 0H3.5V314H2.4ZM154.2 0H155.5V314H154.2ZM51.8 0H52.7V314H51.8ZM61.9 0H63.0V314H61.9ZM77.7 0H78.6V314H77.7ZM18.8 0H19.6V314H18.8ZM144.5 0H146.4V314H144.5ZM34.6 0H35.8V314H34.6ZM37.4 0H38.8V314H37.4ZM80.1 0H81.9V314H80.1ZM96.6 0H97.5V314H96.6ZM91.8 0H92.6V314H91.8ZM67.4 0H68.3V314H67.4Z"/><clipPath id="k169"><path d="M0 14.7H314V16.0H0ZM0 124.1H314V125.3H0ZM0 24.4H314V25.6H0ZM0 107.4H314V108.9H0ZM0 90.6H314V92.2H0ZM0 95.0H314V97.1H0ZM0 25.7H314V26.8H0ZM0 75.9H314V77.5H0ZM0 150.5H314V152.5H0ZM0 134.1H314V135.8H0ZM0 149.9H314V150.8H0ZM0 25.8H314V27.5H0ZM0 105.6H314V106.5H0ZM0 131.8H314V133.6H0ZM0 141.4H314V143.0H0ZM0 116.2H314V117.6H0Z"/></clipPath><path clip-path="url(#k169)" fill="#e8f044" d="M14.7 0H16.0V314H14.7ZM124.1 0H125.3V314H124.1ZM24.4 0H25.6V314H24.4ZM107.4 0H108.9V314H107.4ZM90.6 0H92.2V314H90.6ZM95.0 0H97.1V314H95.0ZM25.7 0H26.8V314H25.7ZM75.9 0H77.5V314H75.9ZM150.5 0H152.5V314H150.5ZM134.1 0H135.8V314H134.1ZM149.9 0H150.8V314H149.9ZM25.8 0H27.5V314H25.8ZM105.6 0H106.5V314H105.6ZM131.8 0H133.6V314H131.8ZM141.4 0H143.0V314H141.4ZM116.2 0H117.6V314H116.2Z"/><clipPath id="k170"><path d="M0 256.2H314V257.5H0ZM0 187.5H314V189.2H0ZM0 306.1H314V307.5H0ZM0 287.9H314V288.7H0ZM0 238.2H314V239.3H0ZM0 233.0H314V234.7H0ZM0 288.6H314V290.2H0ZM0 290.6H314V291.9H0ZM0 176.7H314V178.2H0ZM0 267.0H314V268.8H0ZM0 162.7H314V163.8H0ZM0 196.1H314V197.6H0ZM0 289.5H314V290.7H0ZM0 164.1H314V166.1H0ZM0 290.7H314V292.6H0ZM0 163.0H314V164.1H0Z"/></clipPath><path clip-path="url(#k170)" fill="#ee8a34" d="M256.2 0H257.5V314H256.2ZM187.5 0H189.2V314H187.5ZM306.1 0H307.5V314H306.1ZM287.9 0H288.7V314H287.9ZM238.2 0H239.3V314H238.2ZM233.0 0H234.7V314H233.0ZM288.6 0H290.2V314H288.6ZM290.6 0H291.9V314H290.6ZM176.7 0H178.2V314H176.7ZM267.0 0H268.8V314H267.0ZM162.7 0H163.8V314H162.7ZM196.1 0H197.6V314H196.1ZM289.5 0H290.7V314H289.5ZM164.1 0H166.1V314H164.1ZM290.7 0H292.6V314H290.7ZM163.0 0H164.1V314H163.0Z"/><clipPath id="k171"><path d="M0 189.8H314V190.8H0ZM0 212.0H314V214.1H0ZM0 263.0H314V264.7H0ZM0 224.0H314V225.1H0ZM0 294.7H314V296.0H0ZM0 202.9H314V204.2H0ZM0 227.7H314V229.6H0ZM0 307.0H314V308.8H0ZM0 251.3H314V253.2H0ZM0 217.2H314V219.1H0ZM0 210.2H314V211.6H0ZM0 194.0H314V196.0H0ZM0 293.4H314V294.3H0ZM0 187.5H314V188.7H0ZM0 169.4H314V171.2H0ZM0 234.6H314V236.2H0Z"/></clipPath><path clip-path="url(#k171)" fill="#e8f044" d="M189.8 0H190.8V314H189.8ZM212.0 0H214.1V314H212.0ZM263.0 0H264.7V314H263.0ZM224.0 0H225.1V314H224.0ZM294.7 0H296.0V314H294.7ZM202.9 0H204.2V314H202.9ZM227.7 0H229.6V314H227.7ZM307.0 0H308.8V314H307.0ZM251.3 0H253.2V314H251.3ZM217.2 0H219.1V314H217.2ZM210.2 0H211.6V314H210.2ZM194.0 0H196.0V314H194.0ZM293.4 0H294.3V314H293.4ZM187.5 0H188.7V314H187.5ZM169.4 0H171.2V314H169.4ZM234.6 0H236.2V314H234.6Z"/><clipPath id="k172"><path d="M0 173.2H314V175.2H0ZM0 183.0H314V185.0H0ZM0 261.2H314V263.3H0ZM0 203.5H314V205.2H0ZM0 301.7H314V302.6H0ZM0 185.5H314V187.0H0ZM0 177.6H314V178.4H0ZM0 159.4H314V160.7H0ZM0 257.0H314V258.4H0ZM0 249.9H314V250.8H0ZM0 172.6H314V174.2H0ZM0 181.1H314V181.9H0ZM0 166.5H314V168.2H0ZM0 304.6H314V306.1H0ZM0 158.0H314V159.0H0ZM0 261.8H314V263.7H0Z"/></clipPath><path clip-path="url(#k172)" fill="#e8f044" d="M173.2 0H175.2V314H173.2ZM183.0 0H185.0V314H183.0ZM261.2 0H263.3V314H261.2ZM203.5 0H205.2V314H203.5ZM301.7 0H302.6V314H301.7ZM185.5 0H187.0V314H185.5ZM177.6 0H178.4V314H177.6ZM159.4 0H160.7V314H159.4ZM257.0 0H258.4V314H257.0ZM249.9 0H250.8V314H249.9ZM172.6 0H174.2V314H172.6ZM181.1 0H181.9V314H181.1ZM166.5 0H168.2V314H166.5ZM304.6 0H306.1V314H304.6ZM158.0 0H159.0V314H158.0ZM261.8 0H263.7V314H261.8Z"/><clipPath id="k173"><path d="M0 220.4H314V222.5H0ZM0 299.9H314V301.1H0ZM0 222.7H314V223.9H0ZM0 257.0H314V259.0H0ZM0 305.6H314V307.7H0ZM0 183.6H314V184.7H0ZM0 229.3H314V231.2H0ZM0 169.7H314V170.8H0ZM0 163.5H314V165.7H0ZM0 166.2H314V167.5H0ZM0 253.5H314V255.7H0ZM0 248.5H314V250.2H0ZM0 295.1H314V296.4H0ZM0 288.1H314V290.3H0ZM0 204.8H314V205.9H0ZM0 172.4H314V174.0H0Z"/></clipPath><path clip-path="url(#k173)" fill="#e8f044" d="M220.4 0H222.5V314H220.4ZM299.9 0H301.1V314H299.9ZM222.7 0H223.9V314H222.7ZM257.0 0H259.0V314H257.0ZM305.6 0H307.7V314H305.6ZM183.6 0H184.7V314H183.6ZM229.3 0H231.2V314H229.3ZM169.7 0H170.8V314H169.7ZM163.5 0H165.7V314H163.5ZM166.2 0H167.5V314H166.2ZM253.5 0H255.7V314H253.5ZM248.5 0H250.2V314H248.5ZM295.1 0H296.4V314H295.1ZM288.1 0H290.3V314H288.1ZM204.8 0H205.9V314H204.8ZM172.4 0H174.0V314H172.4Z"/><clipPath id="k174"><path d="M0 226.1H314V227.4H0ZM0 242.4H314V243.6H0ZM0 304.9H314V306.6H0ZM0 203.3H314V204.7H0ZM0 286.3H314V288.4H0ZM0 264.6H314V266.7H0ZM0 281.1H314V282.4H0ZM0 221.3H314V222.7H0ZM0 165.0H314V166.6H0ZM0 241.9H314V243.8H0ZM0 209.3H314V211.4H0ZM0 270.6H314V272.2H0ZM0 192.0H314V194.1H0ZM0 262.1H314V263.8H0ZM0 186.8H314V187.9H0ZM0 187.2H314V189.3H0Z"/></clipPath><path clip-path="url(#k174)" fill="#f05a2c" d="M226.1 0H227.4V314H226.1ZM242.4 0H243.6V314H242.4ZM304.9 0H306.6V314H304.9ZM203.3 0H204.7V314H203.3ZM286.3 0H288.4V314H286.3ZM264.6 0H266.7V314H264.6ZM281.1 0H282.4V314H281.1ZM221.3 0H222.7V314H221.3ZM165.0 0H166.6V314H165.0ZM241.9 0H243.8V314H241.9ZM209.3 0H211.4V314H209.3ZM270.6 0H272.2V314H270.6ZM192.0 0H194.1V314H192.0ZM262.1 0H263.8V314H262.1ZM186.8 0H187.9V314H186.8ZM187.2 0H189.3V314H187.2Z"/><clipPath id="k175"><path d="M0 160.2H314V161.0H0ZM0 209.9H314V211.9H0ZM0 208.9H314V209.9H0ZM0 300.2H314V302.0H0ZM0 286.8H314V287.6H0ZM0 162.9H314V164.9H0ZM0 263.9H314V265.1H0ZM0 246.9H314V248.2H0ZM0 258.3H314V259.8H0ZM0 304.1H314V306.1H0ZM0 301.9H314V303.0H0ZM0 222.6H314V223.6H0ZM0 185.9H314V187.8H0ZM0 260.2H314V261.3H0ZM0 258.9H314V261.0H0ZM0 226.5H314V228.1H0Z"/></clipPath><path clip-path="url(#k175)" fill="#ee8a34" d="M160.2 0H161.0V314H160.2ZM209.9 0H211.9V314H209.9ZM208.9 0H209.9V314H208.9ZM300.2 0H302.0V314H300.2ZM286.8 0H287.6V314H286.8ZM162.9 0H164.9V314H162.9ZM263.9 0H265.1V314H263.9ZM246.9 0H248.2V314H246.9ZM258.3 0H259.8V314H258.3ZM304.1 0H306.1V314H304.1ZM301.9 0H303.0V314H301.9ZM222.6 0H223.6V314H222.6ZM185.9 0H187.8V314H185.9ZM260.2 0H261.3V314H260.2ZM258.9 0H261.0V314H258.9ZM226.5 0H228.1V314H226.5Z"/><clipPath id="k176"><path d="M0 200.9H314V202.9H0ZM0 253.5H314V255.5H0ZM0 266.2H314V268.3H0ZM0 240.6H314V241.9H0ZM0 270.1H314V272.2H0ZM0 237.7H314V239.5H0ZM0 250.0H314V251.3H0ZM0 187.8H314V189.5H0ZM0 182.7H314V184.1H0ZM0 276.2H314V277.6H0ZM0 223.6H314V225.7H0ZM0 247.8H314V249.4H0ZM0 186.7H314V188.6H0ZM0 213.7H314V215.5H0ZM0 303.7H314V305.6H0ZM0 191.0H314V193.1H0Z"/></clipPath><path clip-path="url(#k176)" fill="#e8f044" d="M200.9 0H202.9V314H200.9ZM253.5 0H255.5V314H253.5ZM266.2 0H268.3V314H266.2ZM240.6 0H241.9V314H240.6ZM270.1 0H272.2V314H270.1ZM237.7 0H239.5V314H237.7ZM250.0 0H251.3V314H250.0ZM187.8 0H189.5V314H187.8ZM182.7 0H184.1V314H182.7ZM276.2 0H277.6V314H276.2ZM223.6 0H225.7V314H223.6ZM247.8 0H249.4V314H247.8ZM186.7 0H188.6V314H186.7ZM213.7 0H215.5V314H213.7ZM303.7 0H305.6V314H303.7ZM191.0 0H193.1V314H191.0Z"/><clipPath id="k177"><path d="M0 265.0H314V266.9H0ZM0 221.6H314V222.7H0ZM0 194.2H314V196.3H0ZM0 306.5H314V308.7H0ZM0 171.1H314V172.0H0ZM0 165.0H314V166.8H0ZM0 205.6H314V206.8H0ZM0 201.2H314V203.3H0ZM0 278.5H314V280.3H0ZM0 294.6H314V296.4H0ZM0 193.5H314V194.5H0ZM0 240.9H314V242.9H0ZM0 187.6H314V188.9H0ZM0 180.8H314V182.1H0ZM0 291.6H314V293.1H0ZM0 234.6H314V235.4H0Z"/></clipPath><path clip-path="url(#k177)" fill="#e8f044" d="M265.0 0H266.9V314H265.0ZM221.6 0H222.7V314H221.6ZM194.2 0H196.3V314H194.2ZM306.5 0H308.7V314H306.5ZM171.1 0H172.0V314H171.1ZM165.0 0H166.8V314H165.0ZM205.6 0H206.8V314H205.6ZM201.2 0H203.3V314H201.2ZM278.5 0H280.3V314H278.5ZM294.6 0H296.4V314H294.6ZM193.5 0H194.5V314H193.5ZM240.9 0H242.9V314H240.9ZM187.6 0H188.9V314H187.6ZM180.8 0H182.1V314H180.8ZM291.6 0H293.1V314H291.6ZM234.6 0H235.4V314H234.6Z"/><clipPath id="k178"><path d="M0 251.8H314V253.8H0ZM0 292.6H314V294.6H0ZM0 241.3H314V243.0H0ZM0 259.0H314V260.2H0ZM0 231.5H314V232.5H0ZM0 208.0H314V209.3H0ZM0 304.2H314V305.3H0ZM0 232.1H314V233.0H0ZM0 166.4H314V167.9H0ZM0 247.9H314V249.4H0ZM0 309.0H314V310.5H0ZM0 253.3H314V255.3H0ZM0 176.7H314V178.6H0ZM0 177.4H314V179.4H0ZM0 273.9H314V275.8H0ZM0 289.1H314V290.0H0Z"/></clipPath><path clip-path="url(#k178)" fill="#e8f044" d="M251.8 0H253.8V314H251.8ZM292.6 0H294.6V314H292.6ZM241.3 0H243.0V314H241.3ZM259.0 0H260.2V314H259.0ZM231.5 0H232.5V314H231.5ZM208.0 0H209.3V314H208.0ZM304.2 0H305.3V314H304.2ZM232.1 0H233.0V314H232.1ZM166.4 0H167.9V314H166.4ZM247.9 0H249.4V314H247.9ZM309.0 0H310.5V314H309.0ZM253.3 0H255.3V314H253.3ZM176.7 0H178.6V314H176.7ZM177.4 0H179.4V314H177.4ZM273.9 0H275.8V314H273.9ZM289.1 0H290.0V314H289.1Z"/><clipPath id="k179"><path d="M0 199.7H314V201.4H0ZM0 304.0H314V305.3H0ZM0 182.3H314V183.9H0ZM0 266.1H314V267.0H0ZM0 294.4H314V296.4H0ZM0 160.9H314V161.8H0ZM0 241.1H314V242.8H0ZM0 303.3H314V305.5H0ZM0 294.1H314V295.6H0ZM0 310.2H314V311.1H0ZM0 291.3H314V292.5H0ZM0 159.6H314V161.5H0ZM0 220.3H314V221.7H0ZM0 169.6H314V171.2H0ZM0 157.9H314V159.1H0ZM0 277.9H314V278.8H0Z"/></clipPath><path clip-path="url(#k179)" fill="#f2f8a0" d="M199.7 0H201.4V314H199.7ZM304.0 0H305.3V314H304.0ZM182.3 0H183.9V314H182.3ZM266.1 0H267.0V314H266.1ZM294.4 0H296.4V314H294.4ZM160.9 0H161.8V314H160.9ZM241.1 0H242.8V314H241.1ZM303.3 0H305.5V314H303.3ZM294.1 0H295.6V314H294.1ZM310.2 0H311.1V314H310.2ZM291.3 0H292.5V314H291.3ZM159.6 0H161.5V314H159.6ZM220.3 0H221.7V314H220.3ZM169.6 0H171.2V314H169.6ZM157.9 0H159.1V314H157.9ZM277.9 0H278.8V314H277.9Z"/><clipPath id="k180"><path d="M0 8.5H314V10.0H0ZM0 143.1H314V143.9H0ZM0 153.7H314V155.9H0ZM0 42.0H314V43.1H0ZM0 5.4H314V6.5H0ZM0 100.2H314V102.1H0ZM0 22.1H314V23.1H0ZM0 115.1H314V117.1H0ZM0 89.4H314V91.0H0ZM0 69.8H314V71.3H0Z"/></clipPath><path clip-path="url(#k180)" fill="#f2f8a0" d="M173.2 0H175.3V314H173.2ZM226.9 0H228.3V314H226.9ZM250.8 0H251.7V314H250.8ZM297.2 0H299.3V314H297.2ZM280.8 0H281.8V314H280.8ZM235.9 0H237.2V314H235.9ZM253.4 0H255.5V314H253.4ZM231.3 0H233.0V314H231.3ZM276.3 0H278.0V314H276.3ZM165.0 0H166.9V314H165.0Z"/><clipPath id="k181"><path d="M0 173.2H314V175.3H0ZM0 226.9H314V228.3H0ZM0 250.8H314V251.7H0ZM0 297.2H314V299.3H0ZM0 280.8H314V281.8H0ZM0 235.9H314V237.2H0ZM0 253.4H314V255.5H0ZM0 231.3H314V233.0H0ZM0 276.3H314V278.0H0ZM0 165.0H314V166.9H0Z"/></clipPath><path clip-path="url(#k181)" fill="#f2f8a0" d="M8.5 0H10.0V314H8.5ZM143.1 0H143.9V314H143.1ZM153.7 0H155.9V314H153.7ZM42.0 0H43.1V314H42.0ZM5.4 0H6.5V314H5.4ZM100.2 0H102.1V314H100.2ZM22.1 0H23.1V314H22.1ZM115.1 0H117.1V314H115.1ZM89.4 0H91.0V314H89.4ZM69.8 0H71.3V314H69.8Z"/><clipPath id="k182"><path d="M0 114.7H314V115.6H0ZM0 121.4H314V122.3H0ZM0 122.6H314V123.5H0ZM0 34.9H314V36.1H0ZM0 45.0H314V46.9H0ZM0 79.1H314V80.0H0ZM0 29.9H314V31.3H0ZM0 110.6H314V112.3H0ZM0 75.3H314V77.3H0ZM0 146.6H314V148.7H0Z"/></clipPath><path clip-path="url(#k182)" fill="#f2f8a0" d="M309.5 0H311.6V314H309.5ZM308.7 0H310.5V314H308.7ZM263.5 0H265.1V314H263.5ZM217.2 0H219.1V314H217.2ZM215.7 0H217.8V314H215.7ZM224.9 0H225.7V314H224.9ZM287.4 0H288.8V314H287.4ZM157.7 0H159.7V314H157.7ZM279.2 0H281.2V314H279.2ZM228.4 0H229.4V314H228.4Z"/><clipPath id="k183"><path d="M0 309.5H314V311.6H0ZM0 308.7H314V310.5H0ZM0 263.5H314V265.1H0ZM0 217.2H314V219.1H0ZM0 215.7H314V217.8H0ZM0 224.9H314V225.7H0ZM0 287.4H314V288.8H0ZM0 157.7H314V159.7H0ZM0 279.2H314V281.2H0ZM0 228.4H314V229.4H0Z"/></clipPath><path clip-path="url(#k183)" fill="#f2f8a0" d="M114.7 0H115.6V314H114.7ZM121.4 0H122.3V314H121.4ZM122.6 0H123.5V314H122.6ZM34.9 0H36.1V314H34.9ZM45.0 0H46.9V314H45.0ZM79.1 0H80.0V314H79.1ZM29.9 0H31.3V314H29.9ZM110.6 0H112.3V314H110.6ZM75.3 0H77.3V314H75.3ZM146.6 0H148.7V314H146.6Z"/><clipPath id="k184"><path d="M0 36.4H314V37.4H0ZM0 6.7H314V8.7H0ZM0 19.3H314V20.6H0ZM0 13.0H314V14.2H0ZM0 46.2H314V47.1H0ZM0 41.4H314V42.6H0ZM0 29.8H314V31.8H0ZM0 65.0H314V67.1H0ZM0 146.7H314V147.8H0ZM0 109.2H314V110.2H0Z"/></clipPath><path clip-path="url(#k184)" fill="#f2f8a0" d="M256.2 0H258.1V314H256.2ZM289.4 0H291.2V314H289.4ZM269.3 0H271.4V314H269.3ZM297.0 0H298.2V314H297.0ZM307.2 0H308.2V314H307.2ZM282.0 0H283.1V314H282.0ZM190.0 0H191.0V314H190.0ZM179.2 0H180.6V314H179.2ZM262.8 0H264.4V314H262.8ZM260.2 0H262.0V314H260.2Z"/><clipPath id="k185"><path d="M0 256.2H314V258.1H0ZM0 289.4H314V291.2H0ZM0 269.3H314V271.4H0ZM0 297.0H314V298.2H0ZM0 307.2H314V308.2H0ZM0 282.0H314V283.1H0ZM0 190.0H314V191.0H0ZM0 179.2H314V180.6H0ZM0 262.8H314V264.4H0ZM0 260.2H314V262.0H0Z"/></clipPath><path clip-path="url(#k185)" fill="#f2f8a0" d="M36.4 0H37.4V314H36.4ZM6.7 0H8.7V314H6.7ZM19.3 0H20.6V314H19.3ZM13.0 0H14.2V314H13.0ZM46.2 0H47.1V314H46.2ZM41.4 0H42.6V314H41.4ZM29.8 0H31.8V314H29.8ZM65.0 0H67.1V314H65.0ZM146.7 0H147.8V314H146.7ZM109.2 0H110.2V314H109.2Z"/><clipPath id="k186"><path d="M0 147.5H314V148.5H0ZM0 40.3H314V41.8H0ZM0 99.8H314V101.0H0ZM0 92.3H314V93.3H0ZM0 9.5H314V10.8H0ZM0 90.2H314V92.2H0ZM0 73.3H314V75.5H0ZM0 119.1H314V121.3H0ZM0 110.3H314V111.7H0ZM0 99.2H314V101.0H0Z"/></clipPath><path clip-path="url(#k186)" fill="#f2f8a0" d="M196.3 0H197.3V314H196.3ZM206.8 0H208.3V314H206.8ZM164.8 0H166.1V314H164.8ZM179.3 0H181.4V314H179.3ZM226.5 0H228.1V314H226.5ZM178.4 0H179.8V314H178.4ZM305.0 0H307.0V314H305.0ZM297.3 0H298.3V314H297.3ZM289.3 0H291.2V314H289.3ZM215.3 0H216.6V314H215.3Z"/><clipPath id="k187"><path d="M0 196.3H314V197.3H0ZM0 206.8H314V208.3H0ZM0 164.8H314V166.1H0ZM0 179.3H314V181.4H0ZM0 226.5H314V228.1H0ZM0 178.4H314V179.8H0ZM0 305.0H314V307.0H0ZM0 297.3H314V298.3H0ZM0 289.3H314V291.2H0ZM0 215.3H314V216.6H0Z"/></clipPath><path clip-path="url(#k187)" fill="#f2f8a0" d="M147.5 0H148.5V314H147.5ZM40.3 0H41.8V314H40.3ZM99.8 0H101.0V314H99.8ZM92.3 0H93.3V314H92.3ZM9.5 0H10.8V314H9.5ZM90.2 0H92.2V314H90.2ZM73.3 0H75.5V314H73.3ZM119.1 0H121.3V314H119.1ZM110.3 0H111.7V314H110.3ZM99.2 0H101.0V314H99.2Z"/><clipPath id="k188"><path d="M0 48.0H314V49.1H0ZM0 100.3H314V101.8H0ZM0 68.7H314V70.1H0ZM0 111.2H314V113.0H0ZM0 70.6H314V72.7H0ZM0 43.1H314V44.3H0ZM0 61.4H314V62.2H0ZM0 79.2H314V80.6H0ZM0 42.8H314V44.3H0ZM0 74.9H314V76.5H0Z"/></clipPath><path clip-path="url(#k188)" fill="#f2f8a0" d="M240.8 0H242.1V314H240.8ZM213.2 0H215.2V314H213.2ZM167.5 0H169.6V314H167.5ZM177.7 0H178.8V314H177.7ZM223.6 0H225.8V314H223.6ZM191.1 0H191.9V314H191.1ZM273.8 0H275.3V314H273.8ZM177.4 0H179.4V314H177.4ZM246.9 0H248.6V314H246.9ZM174.2 0H175.9V314H174.2Z"/><clipPath id="k189"><path d="M0 240.8H314V242.1H0ZM0 213.2H314V215.2H0ZM0 167.5H314V169.6H0ZM0 177.7H314V178.8H0ZM0 223.6H314V225.8H0ZM0 191.1H314V191.9H0ZM0 273.8H314V275.3H0ZM0 177.4H314V179.4H0ZM0 246.9H314V248.6H0ZM0 174.2H314V175.9H0Z"/></clipPath><path clip-path="url(#k189)" fill="#f2f8a0" d="M48.0 0H49.1V314H48.0ZM100.3 0H101.8V314H100.3ZM68.7 0H70.1V314H68.7ZM111.2 0H113.0V314H111.2ZM70.6 0H72.7V314H70.6ZM43.1 0H44.3V314H43.1ZM61.4 0H62.2V314H61.4ZM79.2 0H80.6V314H79.2ZM42.8 0H44.3V314H42.8ZM74.9 0H76.5V314H74.9Z"/><clipPath id="k190"><path d="M0 75.4H314V77.1H0ZM0 27.7H314V28.6H0ZM0 2.1H314V3.1H0ZM0 151.3H314V153.0H0ZM0 3.8H314V6.0H0ZM0 140.9H314V143.1H0ZM0 91.1H314V92.8H0ZM0 70.0H314V72.1H0ZM0 94.8H314V96.6H0ZM0 40.2H314V41.6H0Z"/></clipPath><path clip-path="url(#k190)" fill="#f2f8a0" d="M292.0 0H293.1V314H292.0ZM192.2 0H194.1V314H192.2ZM219.4 0H220.7V314H219.4ZM182.8 0H184.4V314H182.8ZM194.5 0H195.6V314H194.5ZM269.2 0H271.4V314H269.2ZM269.6 0H270.7V314H269.6ZM228.5 0H230.5V314H228.5ZM220.6 0H221.8V314H220.6ZM269.9 0H271.4V314H269.9Z"/><clipPath id="k191"><path d="M0 292.0H314V293.1H0ZM0 192.2H314V194.1H0ZM0 219.4H314V220.7H0ZM0 182.8H314V184.4H0ZM0 194.5H314V195.6H0ZM0 269.2H314V271.4H0ZM0 269.6H314V270.7H0ZM0 228.5H314V230.5H0ZM0 220.6H314V221.8H0ZM0 269.9H314V271.4H0Z"/></clipPath><path clip-path="url(#k191)" fill="#f2f8a0" d="M75.4 0H77.1V314H75.4ZM27.7 0H28.6V314H27.7ZM2.1 0H3.1V314H2.1ZM151.3 0H153.0V314H151.3ZM3.8 0H6.0V314H3.8ZM140.9 0H143.1V314H140.9ZM91.1 0H92.8V314H91.1ZM70.0 0H72.1V314H70.0ZM94.8 0H96.6V314H94.8ZM40.2 0H41.6V314H40.2Z"/><clipPath id="k192"><path d="M0 14.7H314V16.4H0ZM0 19.9H314V20.9H0ZM0 43.4H314V45.2H0ZM0 65.9H314V67.4H0ZM0 19.2H314V20.4H0ZM0 99.2H314V100.2H0ZM0 91.2H314V92.4H0ZM0 132.7H314V134.1H0ZM0 119.6H314V120.5H0ZM0 14.9H314V16.3H0Z"/></clipPath><path clip-path="url(#k192)" fill="#f2f8a0" d="M272.3 0H273.1V314H272.3ZM289.1 0H291.1V314H289.1ZM268.4 0H269.4V314H268.4ZM304.3 0H305.4V314H304.3ZM167.1 0H168.0V314H167.1ZM277.2 0H278.7V314H277.2ZM248.8 0H249.7V314H248.8ZM235.2 0H237.2V314H235.2ZM164.4 0H165.7V314H164.4ZM205.5 0H207.1V314H205.5Z"/><clipPath id="k193"><path d="M0 272.3H314V273.1H0ZM0 289.1H314V291.1H0ZM0 268.4H314V269.4H0ZM0 304.3H314V305.4H0ZM0 167.1H314V168.0H0ZM0 277.2H314V278.7H0ZM0 248.8H314V249.7H0ZM0 235.2H314V237.2H0ZM0 164.4H314V165.7H0ZM0 205.5H314V207.1H0Z"/></clipPath><path clip-path="url(#k193)" fill="#f2f8a0" d="M14.7 0H16.4V314H14.7ZM19.9 0H20.9V314H19.9ZM43.4 0H45.2V314H43.4ZM65.9 0H67.4V314H65.9ZM19.2 0H20.4V314H19.2ZM99.2 0H100.2V314H99.2ZM91.2 0H92.4V314H91.2ZM132.7 0H134.1V314H132.7ZM119.6 0H120.5V314H119.6ZM14.9 0H16.3V314H14.9Z"/><clipPath id="k194"><path d="M0 101.1H314V102.5H0ZM0 139.3H314V140.6H0ZM0 29.2H314V30.0H0ZM0 5.3H314V6.4H0ZM0 129.2H314V131.4H0ZM0 21.9H314V24.0H0ZM0 15.1H314V17.0H0ZM0 62.8H314V63.7H0ZM0 49.3H314V51.4H0ZM0 115.9H314V117.5H0Z"/></clipPath><path clip-path="url(#k194)" fill="#e8f044" d="M270.0 0H272.1V314H270.0ZM231.8 0H233.8V314H231.8ZM283.9 0H285.6V314H283.9ZM236.9 0H239.0V314H236.9ZM165.1 0H166.3V314H165.1ZM269.2 0H270.9V314H269.2ZM210.7 0H211.6V314H210.7ZM261.2 0H262.2V314H261.2ZM277.0 0H278.7V314H277.0ZM165.4 0H166.7V314H165.4Z"/><clipPath id="k195"><path d="M0 270.0H314V272.1H0ZM0 231.8H314V233.8H0ZM0 283.9H314V285.6H0ZM0 236.9H314V239.0H0ZM0 165.1H314V166.3H0ZM0 269.2H314V270.9H0ZM0 210.7H314V211.6H0ZM0 261.2H314V262.2H0ZM0 277.0H314V278.7H0ZM0 165.4H314V166.7H0Z"/></clipPath><path clip-path="url(#k195)" fill="#e8f044" d="M101.1 0H102.5V314H101.1ZM139.3 0H140.6V314H139.3ZM29.2 0H30.0V314H29.2ZM5.3 0H6.4V314H5.3ZM129.2 0H131.4V314H129.2ZM21.9 0H24.0V314H21.9ZM15.1 0H17.0V314H15.1ZM62.8 0H63.7V314H62.8ZM49.3 0H51.4V314H49.3ZM115.9 0H117.5V314H115.9Z"/><clipPath id="k196"><path d="M0 2.0H314V18.4H0Z"/></clipPath><path clip-path="url(#k196)" fill="#f2f8a0" d="M18.4 0H21.0V314H18.4ZM32.5 0H34.5V314H32.5ZM36.0 0H46.0V314H36.0ZM52.5 0H60.0V314H52.5ZM100.0 0H106.0V314H100.0ZM118.0 0H124.0V314H118.0Z"/><clipPath id="k197"><path d="M0 18.4H314V21.0H0ZM0 32.5H314V34.5H0ZM0 36.0H314V46.0H0ZM0 52.5H314V60.0H0ZM0 100.0H314V106.0H0ZM0 118.0H314V124.0H0Z"/></clipPath><path clip-path="url(#k197)" fill="#f2f8a0" d="M2.0 0H18.4V314H2.0Z"/><clipPath id="k198"><path d="M0 46.0H314V52.5H0ZM0 88.0H314V94.4H0ZM0 130.0H314V136.0H0ZM0 149.5H314V155.6H0Z"/></clipPath><path clip-path="url(#k198)" fill="#f2f8a0" d="M69.0 0H75.0V314H69.0ZM80.0 0H88.0V314H80.0ZM106.0 0H112.0V314H106.0ZM124.0 0H130.0V314H124.0ZM142.0 0H149.5V314H142.0Z"/><clipPath id="k199"><path d="M0 69.0H314V75.0H0ZM0 80.0H314V88.0H0ZM0 106.0H314V112.0H0ZM0 124.0H314V130.0H0ZM0 142.0H314V149.5H0Z"/></clipPath><path clip-path="url(#k199)" fill="#f2f8a0" d="M46.0 0H52.5V314H46.0ZM88.0 0H94.4V314H88.0ZM130.0 0H136.0V314H130.0ZM149.5 0H155.6V314H149.5Z"/><clipPath id="k200"><path d="M0 46.0H314V52.5H0ZM0 88.0H314V94.4H0ZM0 130.0H314V136.0H0ZM0 149.5H314V155.6H0Z"/></clipPath><path clip-path="url(#k200)" fill="#f2f8a0" d="M21.0 0H32.5V314H21.0ZM60.0 0H63.0V314H60.0ZM75.0 0H80.0V314H75.0ZM155.6 0H157.0V314H155.6Z"/><clipPath id="k201"><path d="M0 21.0H314V32.5H0ZM0 60.0H314V63.0H0ZM0 75.0H314V80.0H0ZM0 155.6H314V157.0H0Z"/></clipPath><path clip-path="url(#k201)" fill="#f2f8a0" d="M46.0 0H52.5V314H46.0ZM88.0 0H94.4V314H88.0ZM130.0 0H136.0V314H130.0ZM149.5 0H155.6V314H149.5Z"/><clipPath id="k202"><path d="M0 18.4H314V21.0H0ZM0 32.5H314V34.5H0ZM0 36.0H314V46.0H0ZM0 52.5H314V60.0H0ZM0 100.0H314V106.0H0ZM0 118.0H314V124.0H0Z"/></clipPath><path clip-path="url(#k202)" fill="#f2f8a0" d="M63.0 0H69.0V314H63.0ZM94.4 0H100.0V314H94.4ZM112.0 0H118.0V314H112.0ZM136.0 0H142.0V314H136.0Z"/><clipPath id="k203"><path d="M0 63.0H314V69.0H0ZM0 94.4H314V100.0H0ZM0 112.0H314V118.0H0ZM0 136.0H314V142.0H0Z"/></clipPath><path clip-path="url(#k203)" fill="#f2f8a0" d="M18.4 0H21.0V314H18.4ZM32.5 0H34.5V314H32.5ZM36.0 0H46.0V314H36.0ZM52.5 0H60.0V314H52.5ZM100.0 0H106.0V314H100.0ZM118.0 0H124.0V314H118.0Z"/><clipPath id="k204"><path d="M0 18.4H314V21.0H0ZM0 32.5H314V34.5H0ZM0 36.0H314V46.0H0ZM0 52.5H314V60.0H0ZM0 100.0H314V106.0H0ZM0 118.0H314V124.0H0Z"/></clipPath><path clip-path="url(#k204)" fill="#f2f8a0" d="M21.0 0H32.5V314H21.0ZM60.0 0H63.0V314H60.0ZM75.0 0H80.0V314H75.0ZM155.6 0H157.0V314H155.6Z"/><clipPath id="k205"><path d="M0 21.0H314V32.5H0ZM0 60.0H314V63.0H0ZM0 75.0H314V80.0H0ZM0 155.6H314V157.0H0Z"/></clipPath><path clip-path="url(#k205)" fill="#f2f8a0" d="M18.4 0H21.0V314H18.4ZM32.5 0H34.5V314H32.5ZM36.0 0H46.0V314H36.0ZM52.5 0H60.0V314H52.5ZM100.0 0H106.0V314H100.0ZM118.0 0H124.0V314H118.0Z"/><clipPath id="k206"><path d="M0 63.0H314V69.0H0ZM0 94.4H314V100.0H0ZM0 112.0H314V118.0H0ZM0 136.0H314V142.0H0Z"/></clipPath><path clip-path="url(#k206)" fill="#f2f8a0" d="M223.0 0H230.0V314H223.0ZM242.0 0H248.0V314H242.0ZM260.0 0H266.0V314H260.0ZM278.0 0H285.0V314H278.0ZM297.0 0H303.0V314H297.0Z"/><clipPath id="k207"><path d="M0 223.0H314V230.0H0ZM0 242.0H314V248.0H0ZM0 260.0H314V266.0H0ZM0 278.0H314V285.0H0ZM0 297.0H314V303.0H0Z"/></clipPath><path clip-path="url(#k207)" fill="#f2f8a0" d="M63.0 0H69.0V314H63.0ZM94.4 0H100.0V314H94.4ZM112.0 0H118.0V314H112.0ZM136.0 0H142.0V314H136.0Z"/><clipPath id="k208"><path d="M0 69.0H314V75.0H0ZM0 80.0H314V88.0H0ZM0 106.0H314V112.0H0ZM0 124.0H314V130.0H0ZM0 142.0H314V149.5H0Z"/></clipPath><path clip-path="url(#k208)" fill="#f2f8a0" d="M206.0 0H213.0V314H206.0ZM230.0 0H236.0V314H230.0ZM248.0 0H254.0V314H248.0ZM266.0 0H272.0V314H266.0ZM291.0 0H297.0V314H291.0Z"/><clipPath id="k209"><path d="M0 206.0H314V213.0H0ZM0 230.0H314V236.0H0ZM0 248.0H314V254.0H0ZM0 266.0H314V272.0H0ZM0 291.0H314V297.0H0Z"/></clipPath><path clip-path="url(#k209)" fill="#f2f8a0" d="M69.0 0H75.0V314H69.0ZM80.0 0H88.0V314H80.0ZM106.0 0H112.0V314H106.0ZM124.0 0H130.0V314H124.0ZM142.0 0H149.5V314H142.0Z"/><clipPath id="k210"><path d="M0 21.0H314V32.5H0ZM0 60.0H314V63.0H0ZM0 75.0H314V80.0H0ZM0 155.6H314V157.0H0Z"/></clipPath><path clip-path="url(#k210)" fill="#f2f8a0" d="M21.0 0H32.5V314H21.0ZM60.0 0H63.0V314H60.0ZM75.0 0H80.0V314H75.0ZM155.6 0H157.0V314H155.6Z"/><clipPath id="k211"><path d="M0 157.0H314V174.0H0Z"/></clipPath><path clip-path="url(#k211)" fill="#f2f8a0" d="M174.0 0H176.5V314H174.0ZM186.0 0H190.0V314H186.0ZM193.0 0H200.0V314H193.0ZM213.0 0H219.0V314H213.0Z"/><clipPath id="k212"><path d="M0 174.0H314V176.5H0ZM0 186.0H314V190.0H0ZM0 193.0H314V200.0H0ZM0 213.0H314V219.0H0Z"/></clipPath><path clip-path="url(#k212)" fill="#f2f8a0" d="M157.0 0H174.0V314H157.0Z"/><clipPath id="k213"><path d="M0 200.0H314V206.0H0ZM0 236.0H314V242.0H0ZM0 285.0H314V291.0H0ZM0 307.0H314V313.0H0Z"/></clipPath><path clip-path="url(#k213)" fill="#f2f8a0" d="M223.0 0H230.0V314H223.0ZM242.0 0H248.0V314H242.0ZM260.0 0H266.0V314H260.0ZM278.0 0H285.0V314H278.0ZM297.0 0H303.0V314H297.0Z"/><clipPath id="k214"><path d="M0 223.0H314V230.0H0ZM0 242.0H314V248.0H0ZM0 260.0H314V266.0H0ZM0 278.0H314V285.0H0ZM0 297.0H314V303.0H0Z"/></clipPath><path clip-path="url(#k214)" fill="#f2f8a0" d="M200.0 0H206.0V314H200.0ZM236.0 0H242.0V314H236.0ZM285.0 0H291.0V314H285.0ZM307.0 0H313.0V314H307.0Z"/><clipPath id="k215"><path d="M0 200.0H314V206.0H0ZM0 236.0H314V242.0H0ZM0 285.0H314V291.0H0ZM0 307.0H314V313.0H0Z"/></clipPath><path clip-path="url(#k215)" fill="#f2f8a0" d="M176.5 0H186.0V314H176.5ZM219.0 0H223.0V314H219.0Z"/><clipPath id="k216"><path d="M0 176.5H314V186.0H0ZM0 219.0H314V223.0H0Z"/></clipPath><path clip-path="url(#k216)" fill="#f2f8a0" d="M200.0 0H206.0V314H200.0ZM236.0 0H242.0V314H236.0ZM285.0 0H291.0V314H285.0ZM307.0 0H313.0V314H307.0Z"/><clipPath id="k217"><path d="M0 174.0H314V176.5H0ZM0 186.0H314V190.0H0ZM0 193.0H314V200.0H0ZM0 213.0H314V219.0H0Z"/></clipPath><path clip-path="url(#k217)" fill="#f2f8a0" d="M206.0 0H213.0V314H206.0ZM230.0 0H236.0V314H230.0ZM248.0 0H254.0V314H248.0ZM266.0 0H272.0V314H266.0ZM291.0 0H297.0V314H291.0Z"/><clipPath id="k218"><path d="M0 206.0H314V213.0H0ZM0 230.0H314V236.0H0ZM0 248.0H314V254.0H0ZM0 266.0H314V272.0H0ZM0 291.0H314V297.0H0Z"/></clipPath><path clip-path="url(#k218)" fill="#f2f8a0" d="M174.0 0H176.5V314H174.0ZM186.0 0H190.0V314H186.0ZM193.0 0H200.0V314H193.0ZM213.0 0H219.0V314H213.0Z"/><clipPath id="k219"><path d="M0 174.0H314V176.5H0ZM0 186.0H314V190.0H0ZM0 193.0H314V200.0H0ZM0 213.0H314V219.0H0Z"/></clipPath><path clip-path="url(#k219)" fill="#f2f8a0" d="M176.5 0H186.0V314H176.5ZM219.0 0H223.0V314H219.0Z"/><clipPath id="k220"><path d="M0 176.5H314V186.0H0ZM0 219.0H314V223.0H0Z"/></clipPath><path clip-path="url(#k220)" fill="#f2f8a0" d="M174.0 0H176.5V314H174.0ZM186.0 0H190.0V314H186.0ZM193.0 0H200.0V314H193.0ZM213.0 0H219.0V314H213.0Z"/><clipPath id="k221"><path d="M0 176.5H314V186.0H0ZM0 219.0H314V223.0H0Z"/></clipPath><path clip-path="url(#k221)" fill="#f2f8a0" d="M176.5 0H186.0V314H176.5ZM219.0 0H223.0V314H219.0Z"/><clipPath id="k222"><path d="M0 18.4H314V21.0H0ZM0 32.5H314V34.5H0ZM0 36.0H314V46.0H0ZM0 52.5H314V60.0H0ZM0 100.0H314V106.0H0ZM0 118.0H314V124.0H0Z"/></clipPath><path clip-path="url(#k222)" fill="#e8f044" d="M69.0 0H75.0V314H69.0ZM80.0 0H88.0V314H80.0ZM106.0 0H112.0V314H106.0ZM124.0 0H130.0V314H124.0ZM142.0 0H149.5V314H142.0Z"/><clipPath id="k223"><path d="M0 69.0H314V75.0H0ZM0 80.0H314V88.0H0ZM0 106.0H314V112.0H0ZM0 124.0H314V130.0H0ZM0 142.0H314V149.5H0Z"/></clipPath><path clip-path="url(#k223)" fill="#e8f044" d="M18.4 0H21.0V314H18.4ZM32.5 0H34.5V314H32.5ZM36.0 0H46.0V314H36.0ZM52.5 0H60.0V314H52.5ZM100.0 0H106.0V314H100.0ZM118.0 0H124.0V314H118.0Z"/><clipPath id="k224"><path d="M0 63.0H314V69.0H0ZM0 94.4H314V100.0H0ZM0 112.0H314V118.0H0ZM0 136.0H314V142.0H0Z"/></clipPath><path clip-path="url(#k224)" fill="#e8f044" d="M206.0 0H213.0V314H206.0ZM230.0 0H236.0V314H230.0ZM248.0 0H254.0V314H248.0ZM266.0 0H272.0V314H266.0ZM291.0 0H297.0V314H291.0Z"/><clipPath id="k225"><path d="M0 206.0H314V213.0H0ZM0 230.0H314V236.0H0ZM0 248.0H314V254.0H0ZM0 266.0H314V272.0H0ZM0 291.0H314V297.0H0Z"/></clipPath><path clip-path="url(#k225)" fill="#e8f044" d="M63.0 0H69.0V314H63.0ZM94.4 0H100.0V314H94.4ZM112.0 0H118.0V314H112.0ZM136.0 0H142.0V314H136.0Z"/><clipPath id="k226"><path d="M0 174.0H314V176.5H0ZM0 186.0H314V190.0H0ZM0 193.0H314V200.0H0ZM0 213.0H314V219.0H0Z"/></clipPath><path clip-path="url(#k226)" fill="#e8f044" d="M223.0 0H230.0V314H223.0ZM242.0 0H248.0V314H242.0ZM260.0 0H266.0V314H260.0ZM278.0 0H285.0V314H278.0ZM297.0 0H303.0V314H297.0Z"/><clipPath id="k227"><path d="M0 223.0H314V230.0H0ZM0 242.0H314V248.0H0ZM0 260.0H314V266.0H0ZM0 278.0H314V285.0H0ZM0 297.0H314V303.0H0Z"/></clipPath><path clip-path="url(#k227)" fill="#e8f044" d="M174.0 0H176.5V314H174.0ZM186.0 0H190.0V314H186.0ZM193.0 0H200.0V314H193.0ZM213.0 0H219.0V314H213.0Z"/><clipPath id="k228"><path d="M0 63.0H314V69.0H0ZM0 94.4H314V100.0H0ZM0 112.0H314V118.0H0ZM0 136.0H314V142.0H0Z"/></clipPath><path clip-path="url(#k228)" fill="#eac23c" d="M63.0 0H69.0V314H63.0ZM94.4 0H100.0V314H94.4ZM112.0 0H118.0V314H112.0ZM136.0 0H142.0V314H136.0Z"/><clipPath id="k229"><path d="M0 206.0H314V213.0H0ZM0 230.0H314V236.0H0ZM0 248.0H314V254.0H0ZM0 266.0H314V272.0H0ZM0 291.0H314V297.0H0Z"/></clipPath><path clip-path="url(#k229)" fill="#eac23c" d="M206.0 0H213.0V314H206.0ZM230.0 0H236.0V314H230.0ZM248.0 0H254.0V314H248.0ZM266.0 0H272.0V314H266.0ZM291.0 0H297.0V314H291.0Z"/><clipPath id="k230"><path d="M0 69.0H314V75.0H0ZM0 80.0H314V88.0H0ZM0 106.0H314V112.0H0ZM0 124.0H314V130.0H0ZM0 142.0H314V149.5H0Z"/></clipPath><path clip-path="url(#k230)" fill="#ee8a34" d="M69.0 0H75.0V314H69.0ZM80.0 0H88.0V314H80.0ZM106.0 0H112.0V314H106.0ZM124.0 0H130.0V314H124.0ZM142.0 0H149.5V314H142.0Z"/><clipPath id="k231"><path d="M0 69.0H314V75.0H0ZM0 80.0H314V88.0H0ZM0 106.0H314V112.0H0ZM0 124.0H314V130.0H0ZM0 142.0H314V149.5H0Z"/></clipPath><path clip-path="url(#k231)" fill="#ee8a34" d="M223.0 0H230.0V314H223.0ZM242.0 0H248.0V314H242.0ZM260.0 0H266.0V314H260.0ZM278.0 0H285.0V314H278.0ZM297.0 0H303.0V314H297.0Z"/><clipPath id="k232"><path d="M0 223.0H314V230.0H0ZM0 242.0H314V248.0H0ZM0 260.0H314V266.0H0ZM0 278.0H314V285.0H0ZM0 297.0H314V303.0H0Z"/></clipPath><path clip-path="url(#k232)" fill="#ee8a34" d="M69.0 0H75.0V314H69.0ZM80.0 0H88.0V314H80.0ZM106.0 0H112.0V314H106.0ZM124.0 0H130.0V314H124.0ZM142.0 0H149.5V314H142.0Z"/><clipPath id="k233"><path d="M0 223.0H314V230.0H0ZM0 242.0H314V248.0H0ZM0 260.0H314V266.0H0ZM0 278.0H314V285.0H0ZM0 297.0H314V303.0H0Z"/></clipPath><path clip-path="url(#k233)" fill="#ee8a34" d="M223.0 0H230.0V314H223.0ZM242.0 0H248.0V314H242.0ZM260.0 0H266.0V314H260.0ZM278.0 0H285.0V314H278.0ZM297.0 0H303.0V314H297.0Z"/><clipPath id="k234"><path d="M0 2.0H314V18.4H0Z"/></clipPath><path clip-path="url(#k234)" fill="#f05a2c" d="M46.0 0H52.5V314H46.0ZM88.0 0H94.4V314H88.0ZM130.0 0H136.0V314H130.0ZM149.5 0H155.6V314H149.5Z"/><clipPath id="k235"><path d="M0 46.0H314V52.5H0ZM0 88.0H314V94.4H0ZM0 130.0H314V136.0H0ZM0 149.5H314V155.6H0Z"/></clipPath><path clip-path="url(#k235)" fill="#f05a2c" d="M2.0 0H18.4V314H2.0Z"/><clipPath id="k236"><path d="M0 46.0H314V52.5H0ZM0 88.0H314V94.4H0ZM0 130.0H314V136.0H0ZM0 149.5H314V155.6H0Z"/></clipPath><path clip-path="url(#k236)" fill="#f05a2c" d="M18.4 0H21.0V314H18.4ZM32.5 0H34.5V314H32.5ZM36.0 0H46.0V314H36.0ZM52.5 0H60.0V314H52.5ZM100.0 0H106.0V314H100.0ZM118.0 0H124.0V314H118.0Z"/><clipPath id="k237"><path d="M0 18.4H314V21.0H0ZM0 32.5H314V34.5H0ZM0 36.0H314V46.0H0ZM0 52.5H314V60.0H0ZM0 100.0H314V106.0H0ZM0 118.0H314V124.0H0Z"/></clipPath><path clip-path="url(#k237)" fill="#f05a2c" d="M46.0 0H52.5V314H46.0ZM88.0 0H94.4V314H88.0ZM130.0 0H136.0V314H130.0ZM149.5 0H155.6V314H149.5Z"/><clipPath id="k238"><path d="M0 157.0H314V174.0H0Z"/></clipPath><path clip-path="url(#k238)" fill="#f05a2c" d="M200.0 0H206.0V314H200.0ZM236.0 0H242.0V314H236.0ZM285.0 0H291.0V314H285.0ZM307.0 0H313.0V314H307.0Z"/><clipPath id="k239"><path d="M0 200.0H314V206.0H0ZM0 236.0H314V242.0H0ZM0 285.0H314V291.0H0ZM0 307.0H314V313.0H0Z"/></clipPath><path clip-path="url(#k239)" fill="#f05a2c" d="M157.0 0H174.0V314H157.0Z"/><clipPath id="k240"><path d="M0 200.0H314V206.0H0ZM0 236.0H314V242.0H0ZM0 285.0H314V291.0H0ZM0 307.0H314V313.0H0Z"/></clipPath><path clip-path="url(#k240)" fill="#f05a2c" d="M174.0 0H176.5V314H174.0ZM186.0 0H190.0V314H186.0ZM193.0 0H200.0V314H193.0ZM213.0 0H219.0V314H213.0Z"/><clipPath id="k241"><path d="M0 174.0H314V176.5H0ZM0 186.0H314V190.0H0ZM0 193.0H314V200.0H0ZM0 213.0H314V219.0H0Z"/></clipPath><path clip-path="url(#k241)" fill="#f05a2c" d="M200.0 0H206.0V314H200.0ZM236.0 0H242.0V314H236.0ZM285.0 0H291.0V314H285.0ZM307.0 0H313.0V314H307.0Z"/><clipPath id="k242"><path d="M0 2.0H314V18.4H0Z"/></clipPath><path clip-path="url(#k242)" fill="#f23c28" d="M2.0 0H18.4V314H2.0Z"/><clipPath id="k243"><path d="M0 46.0H314V52.5H0ZM0 88.0H314V94.4H0ZM0 130.0H314V136.0H0ZM0 149.5H314V155.6H0Z"/></clipPath><path clip-path="url(#k243)" fill="#f23c28" d="M46.0 0H52.5V314H46.0ZM88.0 0H94.4V314H88.0ZM130.0 0H136.0V314H130.0ZM149.5 0H155.6V314H149.5Z"/><clipPath id="k244"><path d="M0 18.4H314V21.0H0ZM0 32.5H314V34.5H0ZM0 36.0H314V46.0H0ZM0 52.5H314V60.0H0ZM0 100.0H314V106.0H0ZM0 118.0H314V124.0H0Z"/></clipPath><path clip-path="url(#k244)" fill="#f23c28" d="M18.4 0H21.0V314H18.4ZM32.5 0H34.5V314H32.5ZM36.0 0H46.0V314H36.0ZM52.5 0H60.0V314H52.5ZM100.0 0H106.0V314H100.0ZM118.0 0H124.0V314H118.0Z"/><clipPath id="k245"><path d="M0 157.0H314V174.0H0Z"/></clipPath><path clip-path="url(#k245)" fill="#f23c28" d="M157.0 0H174.0V314H157.0Z"/><clipPath id="k246"><path d="M0 200.0H314V206.0H0ZM0 236.0H314V242.0H0ZM0 285.0H314V291.0H0ZM0 307.0H314V313.0H0Z"/></clipPath><path clip-path="url(#k246)" fill="#f23c28" d="M200.0 0H206.0V314H200.0ZM236.0 0H242.0V314H236.0ZM285.0 0H291.0V314H285.0ZM307.0 0H313.0V314H307.0Z"/><clipPath id="k247"><path d="M0 174.0H314V176.5H0ZM0 186.0H314V190.0H0ZM0 193.0H314V200.0H0ZM0 213.0H314V219.0H0Z"/></clipPath><path clip-path="url(#k247)" fill="#f23c28" d="M174.0 0H176.5V314H174.0ZM186.0 0H190.0V314H186.0ZM193.0 0H200.0V314H193.0ZM213.0 0H219.0V314H213.0Z"/><rect x="238.0" y="17.5" width="4.0" height="4.5" fill="#f23c28"/><rect x="17.5" y="238.0" width="4.5" height="4.0" fill="#f23c28"/><rect x="284.0" y="17.5" width="4.0" height="4.5" fill="#ee8a34"/><rect x="17.5" y="284.0" width="4.5" height="4.0" fill="#ee8a34"/><rect x="297.0" y="17.5" width="4.0" height="4.5" fill="#e8f044"/><rect x="17.5" y="297.0" width="4.5" height="4.0" fill="#e8f044"/><rect x="183.0" y="22.0" width="6.0" height="5.0" fill="#f23c28"/><rect x="22.0" y="183.0" width="5.0" height="6.0" fill="#f23c28"/><rect x="203.0" y="22.0" width="3.0" height="5.0" fill="#e8f044"/><rect x="22.0" y="203.0" width="5.0" height="3.0" fill="#e8f044"/><rect x="246.0" y="22.0" width="4.0" height="5.0" fill="#e8f044"/><rect x="22.0" y="246.0" width="5.0" height="4.0" fill="#e8f044"/><rect x="266.0" y="22.0" width="4.0" height="5.0" fill="#e8f044"/><rect x="22.0" y="266.0" width="5.0" height="4.0" fill="#e8f044"/><rect x="284.0" y="22.0" width="4.0" height="5.0" fill="#e8f044"/><rect x="22.0" y="284.0" width="5.0" height="4.0" fill="#e8f044"/><rect x="292.0" y="22.0" width="4.0" height="5.0" fill="#f23c28"/><rect x="22.0" y="292.0" width="5.0" height="4.0" fill="#f23c28"/><rect x="175.0" y="28.0" width="3.0" height="5.0" fill="#e8f044"/><rect x="28.0" y="175.0" width="5.0" height="3.0" fill="#e8f044"/><rect x="178.0" y="28.0" width="5.0" height="5.0" fill="#e8f044"/><rect x="28.0" y="178.0" width="5.0" height="5.0" fill="#e8f044"/><rect x="255.0" y="28.0" width="4.0" height="5.0" fill="#e8f044"/><rect x="28.0" y="255.0" width="5.0" height="4.0" fill="#e8f044"/><rect x="178.0" y="60.0" width="5.0" height="3.0" fill="#e8f044"/><rect x="60.0" y="178.0" width="3.0" height="5.0" fill="#e8f044"/><rect x="183.0" y="60.0" width="6.0" height="3.0" fill="#e8f044"/><rect x="60.0" y="183.0" width="3.0" height="6.0" fill="#e8f044"/><rect x="203.0" y="60.0" width="3.0" height="3.0" fill="#ee8a34"/><rect x="60.0" y="203.0" width="3.0" height="3.0" fill="#ee8a34"/><rect x="238.0" y="60.0" width="4.0" height="3.0" fill="#f23c28"/><rect x="60.0" y="238.0" width="3.0" height="4.0" fill="#f23c28"/><rect x="178.0" y="75.0" width="5.0" height="5.0" fill="#f23c28"/><rect x="75.0" y="178.0" width="5.0" height="5.0" fill="#f23c28"/><rect x="203.0" y="75.0" width="3.0" height="5.0" fill="#f23c28"/><rect x="75.0" y="203.0" width="5.0" height="3.0" fill="#f23c28"/><rect x="238.0" y="75.0" width="4.0" height="5.0" fill="#f23c28"/><rect x="75.0" y="238.0" width="5.0" height="4.0" fill="#f23c28"/><rect x="276.0" y="75.0" width="4.0" height="5.0" fill="#f23c28"/><rect x="75.0" y="276.0" width="5.0" height="4.0" fill="#f23c28"/><rect x="284.0" y="75.0" width="4.0" height="5.0" fill="#f23c28"/><rect x="75.0" y="284.0" width="5.0" height="4.0" fill="#f23c28"/><rect x="292.0" y="75.0" width="4.0" height="5.0" fill="#e8f044"/><rect x="75.0" y="292.0" width="5.0" height="4.0" fill="#e8f044"/><rect x="175.0" y="83.0" width="3.0" height="4.0" fill="#f2f8a0"/><rect x="83.0" y="175.0" width="4.0" height="3.0" fill="#f2f8a0"/><rect x="255.0" y="83.0" width="4.0" height="4.0" fill="#ee8a34"/><rect x="83.0" y="255.0" width="4.0" height="4.0" fill="#ee8a34"/><rect x="292.0" y="83.0" width="4.0" height="4.0" fill="#f23c28"/><rect x="83.0" y="292.0" width="4.0" height="4.0" fill="#f23c28"/><rect x="175.0" y="98.0" width="3.0" height="4.0" fill="#ee8a34"/><rect x="98.0" y="175.0" width="4.0" height="3.0" fill="#ee8a34"/><rect x="266.0" y="98.0" width="4.0" height="4.0" fill="#e8f044"/><rect x="98.0" y="266.0" width="4.0" height="4.0" fill="#e8f044"/><rect x="276.0" y="98.0" width="4.0" height="4.0" fill="#ee8a34"/><rect x="98.0" y="276.0" width="4.0" height="4.0" fill="#ee8a34"/><rect x="284.0" y="98.0" width="4.0" height="4.0" fill="#e8f044"/><rect x="98.0" y="284.0" width="4.0" height="4.0" fill="#e8f044"/><rect x="175.0" y="108.0" width="3.0" height="4.0" fill="#f2f8a0"/><rect x="108.0" y="175.0" width="4.0" height="3.0" fill="#f2f8a0"/><rect x="178.0" y="108.0" width="5.0" height="4.0" fill="#f23c28"/><rect x="108.0" y="178.0" width="4.0" height="5.0" fill="#f23c28"/><rect x="223.0" y="108.0" width="3.0" height="4.0" fill="#f2f8a0"/><rect x="108.0" y="223.0" width="4.0" height="3.0" fill="#f2f8a0"/><rect x="276.0" y="108.0" width="4.0" height="4.0" fill="#f23c28"/><rect x="108.0" y="276.0" width="4.0" height="4.0" fill="#f23c28"/><rect x="292.0" y="108.0" width="4.0" height="4.0" fill="#f23c28"/><rect x="108.0" y="292.0" width="4.0" height="4.0" fill="#f23c28"/><rect x="178.0" y="117.0" width="5.0" height="4.0" fill="#f2f8a0"/><rect x="117.0" y="178.0" width="4.0" height="5.0" fill="#f2f8a0"/><rect x="238.0" y="117.0" width="4.0" height="4.0" fill="#ee8a34"/><rect x="117.0" y="238.0" width="4.0" height="4.0" fill="#ee8a34"/><rect x="255.0" y="117.0" width="4.0" height="4.0" fill="#e8f044"/><rect x="117.0" y="255.0" width="4.0" height="4.0" fill="#e8f044"/><rect x="223.0" y="126.0" width="3.0" height="4.0" fill="#f2f8a0"/><rect x="126.0" y="223.0" width="4.0" height="3.0" fill="#f2f8a0"/><rect x="246.0" y="126.0" width="4.0" height="4.0" fill="#e8f044"/><rect x="126.0" y="246.0" width="4.0" height="4.0" fill="#e8f044"/><rect x="175.0" y="136.0" width="3.0" height="4.0" fill="#ee8a34"/><rect x="136.0" y="175.0" width="4.0" height="3.0" fill="#ee8a34"/><rect x="178.0" y="136.0" width="5.0" height="4.0" fill="#f2f8a0"/><rect x="136.0" y="178.0" width="4.0" height="5.0" fill="#f2f8a0"/><rect x="183.0" y="142.0" width="6.0" height="3.0" fill="#f2f8a0"/><rect x="142.0" y="183.0" width="3.0" height="6.0" fill="#f2f8a0"/><rect x="238.0" y="142.0" width="4.0" height="3.0" fill="#f23c28"/><rect x="142.0" y="238.0" width="3.0" height="4.0" fill="#f23c28"/></g>
<path d="M576.0 48.0L886.0 358.0" stroke="#fff" stroke-width="0.9" opacity="0.9"/>
<g transform="translate(1114.5 46.0)"><clipPath id="k248"><path d="M0 97.7H314V99.7H0ZM0 84.8H314V86.5H0ZM0 147.1H314V148.8H0ZM0 20.2H314V22.2H0ZM0 81.7H314V82.7H0ZM0 126.2H314V128.4H0ZM0 110.6H314V112.3H0ZM0 127.5H314V128.4H0ZM0 103.7H314V105.6H0ZM0 46.1H314V47.7H0ZM0 50.9H314V52.3H0ZM0 96.5H314V98.3H0ZM0 142.8H314V143.6H0ZM0 149.7H314V151.7H0ZM0 12.9H314V14.3H0ZM0 31.7H314V33.0H0Z"/></clipPath><path clip-path="url(#k248)" fill="#e8f044" d="M97.7 0H99.7V314H97.7ZM84.8 0H86.5V314H84.8ZM147.1 0H148.8V314H147.1ZM20.2 0H22.2V314H20.2ZM81.7 0H82.7V314H81.7ZM126.2 0H128.4V314H126.2ZM110.6 0H112.3V314H110.6ZM127.5 0H128.4V314H127.5ZM103.7 0H105.6V314H103.7ZM46.1 0H47.7V314H46.1ZM50.9 0H52.3V314H50.9ZM96.5 0H98.3V314H96.5ZM142.8 0H143.6V314H142.8ZM149.7 0H151.7V314H149.7ZM12.9 0H14.3V314H12.9ZM31.7 0H33.0V314H31.7Z"/><clipPath id="k249"><path d="M0 93.1H314V93.9H0ZM0 125.9H314V127.2H0ZM0 13.0H314V14.1H0ZM0 15.3H314V16.7H0ZM0 45.9H314V47.9H0ZM0 60.7H314V61.6H0ZM0 2.6H314V4.4H0ZM0 18.5H314V20.6H0ZM0 116.7H314V118.3H0ZM0 89.5H314V90.7H0ZM0 140.0H314V141.3H0ZM0 24.1H314V25.7H0ZM0 134.2H314V136.4H0ZM0 60.0H314V61.1H0ZM0 72.7H314V73.7H0ZM0 93.5H314V94.6H0Z"/></clipPath><path clip-path="url(#k249)" fill="#4aa8dc" d="M93.1 0H93.9V314H93.1ZM125.9 0H127.2V314H125.9ZM13.0 0H14.1V314H13.0ZM15.3 0H16.7V314H15.3ZM45.9 0H47.9V314H45.9ZM60.7 0H61.6V314H60.7ZM2.6 0H4.4V314H2.6ZM18.5 0H20.6V314H18.5ZM116.7 0H118.3V314H116.7ZM89.5 0H90.7V314H89.5ZM140.0 0H141.3V314H140.0ZM24.1 0H25.7V314H24.1ZM134.2 0H136.4V314H134.2ZM60.0 0H61.1V314H60.0ZM72.7 0H73.7V314H72.7ZM93.5 0H94.6V314H93.5Z"/><clipPath id="k250"><path d="M0 45.4H314V46.6H0ZM0 111.6H314V113.4H0ZM0 6.7H314V8.6H0ZM0 64.6H314V65.8H0ZM0 110.1H314V111.1H0ZM0 46.7H314V48.0H0ZM0 27.4H314V28.9H0ZM0 68.9H314V70.6H0ZM0 152.9H314V154.3H0ZM0 127.9H314V129.4H0ZM0 18.1H314V19.7H0ZM0 22.5H314V24.6H0ZM0 88.1H314V89.7H0ZM0 39.1H314V40.3H0ZM0 68.2H314V70.0H0ZM0 57.0H314V58.1H0Z"/></clipPath><path clip-path="url(#k250)" fill="#f2f8a0" d="M45.4 0H46.6V314H45.4ZM111.6 0H113.4V314H111.6ZM6.7 0H8.6V314H6.7ZM64.6 0H65.8V314H64.6ZM110.1 0H111.1V314H110.1ZM46.7 0H48.0V314H46.7ZM27.4 0H28.9V314H27.4ZM68.9 0H70.6V314H68.9ZM152.9 0H154.3V314H152.9ZM127.9 0H129.4V314H127.9ZM18.1 0H19.7V314H18.1ZM22.5 0H24.6V314H22.5ZM88.1 0H89.7V314H88.1ZM39.1 0H40.3V314H39.1ZM68.2 0H70.0V314H68.2ZM57.0 0H58.1V314H57.0Z"/><clipPath id="k251"><path d="M0 99.4H314V100.9H0ZM0 55.9H314V57.8H0ZM0 62.2H314V64.3H0ZM0 80.6H314V82.0H0ZM0 147.7H314V149.3H0ZM0 61.3H314V63.0H0ZM0 79.0H314V79.9H0ZM0 37.8H314V39.0H0ZM0 95.7H314V97.1H0ZM0 65.4H314V66.7H0ZM0 122.2H314V123.5H0ZM0 30.7H314V31.7H0ZM0 122.5H314V123.8H0ZM0 53.2H314V54.2H0ZM0 8.0H314V10.1H0ZM0 6.4H314V7.5H0Z"/></clipPath><path clip-path="url(#k251)" fill="#4aa8dc" d="M99.4 0H100.9V314H99.4ZM55.9 0H57.8V314H55.9ZM62.2 0H64.3V314H62.2ZM80.6 0H82.0V314H80.6ZM147.7 0H149.3V314H147.7ZM61.3 0H63.0V314H61.3ZM79.0 0H79.9V314H79.0ZM37.8 0H39.0V314H37.8ZM95.7 0H97.1V314H95.7ZM65.4 0H66.7V314H65.4ZM122.2 0H123.5V314H122.2ZM30.7 0H31.7V314H30.7ZM122.5 0H123.8V314H122.5ZM53.2 0H54.2V314H53.2ZM8.0 0H10.1V314H8.0ZM6.4 0H7.5V314H6.4Z"/><clipPath id="k252"><path d="M0 50.0H314V51.7H0ZM0 29.0H314V30.9H0ZM0 34.5H314V35.5H0ZM0 9.5H314V11.0H0ZM0 79.5H314V80.7H0ZM0 32.8H314V33.7H0ZM0 90.2H314V91.4H0ZM0 96.4H314V97.6H0ZM0 63.0H314V65.1H0ZM0 140.9H314V143.0H0ZM0 125.0H314V127.0H0ZM0 102.0H314V103.5H0ZM0 6.0H314V7.6H0ZM0 95.6H314V96.8H0ZM0 48.9H314V50.4H0ZM0 89.2H314V90.4H0Z"/></clipPath><path clip-path="url(#k252)" fill="#56cfd6" d="M50.0 0H51.7V314H50.0ZM29.0 0H30.9V314H29.0ZM34.5 0H35.5V314H34.5ZM9.5 0H11.0V314H9.5ZM79.5 0H80.7V314H79.5ZM32.8 0H33.7V314H32.8ZM90.2 0H91.4V314H90.2ZM96.4 0H97.6V314H96.4ZM63.0 0H65.1V314H63.0ZM140.9 0H143.0V314H140.9ZM125.0 0H127.0V314H125.0ZM102.0 0H103.5V314H102.0ZM6.0 0H7.6V314H6.0ZM95.6 0H96.8V314H95.6ZM48.9 0H50.4V314H48.9ZM89.2 0H90.4V314H89.2Z"/><clipPath id="k253"><path d="M0 94.2H314V95.2H0ZM0 102.0H314V104.0H0ZM0 51.5H314V53.6H0ZM0 125.8H314V127.7H0ZM0 86.7H314V88.3H0ZM0 4.4H314V5.8H0ZM0 154.7H314V156.9H0ZM0 9.9H314V12.0H0ZM0 28.7H314V30.1H0ZM0 28.2H314V29.3H0ZM0 96.5H314V98.5H0ZM0 57.6H314V59.4H0ZM0 80.3H314V81.4H0ZM0 17.7H314V19.7H0ZM0 71.5H314V73.6H0ZM0 48.3H314V49.2H0Z"/></clipPath><path clip-path="url(#k253)" fill="#a8e6ec" d="M94.2 0H95.2V314H94.2ZM102.0 0H104.0V314H102.0ZM51.5 0H53.6V314H51.5ZM125.8 0H127.7V314H125.8ZM86.7 0H88.3V314H86.7ZM4.4 0H5.8V314H4.4ZM154.7 0H156.9V314H154.7ZM9.9 0H12.0V314H9.9ZM28.7 0H30.1V314H28.7ZM28.2 0H29.3V314H28.2ZM96.5 0H98.5V314H96.5ZM57.6 0H59.4V314H57.6ZM80.3 0H81.4V314H80.3ZM17.7 0H19.7V314H17.7ZM71.5 0H73.6V314H71.5ZM48.3 0H49.2V314H48.3Z"/><clipPath id="k254"><path d="M0 152.9H314V154.1H0ZM0 135.1H314V136.1H0ZM0 134.5H314V136.2H0ZM0 44.6H314V45.6H0ZM0 83.9H314V85.6H0ZM0 78.2H314V80.3H0ZM0 33.1H314V34.5H0ZM0 11.5H314V12.4H0ZM0 126.7H314V128.7H0ZM0 115.2H314V116.6H0ZM0 83.7H314V84.8H0ZM0 10.7H314V12.5H0ZM0 28.0H314V29.9H0ZM0 139.7H314V140.6H0ZM0 48.2H314V49.1H0ZM0 30.1H314V32.2H0Z"/></clipPath><path clip-path="url(#k254)" fill="#4aa8dc" d="M152.9 0H154.1V314H152.9ZM135.1 0H136.1V314H135.1ZM134.5 0H136.2V314H134.5ZM44.6 0H45.6V314H44.6ZM83.9 0H85.6V314H83.9ZM78.2 0H80.3V314H78.2ZM33.1 0H34.5V314H33.1ZM11.5 0H12.4V314H11.5ZM126.7 0H128.7V314H126.7ZM115.2 0H116.6V314H115.2ZM83.7 0H84.8V314H83.7ZM10.7 0H12.5V314H10.7ZM28.0 0H29.9V314H28.0ZM139.7 0H140.6V314H139.7ZM48.2 0H49.1V314H48.2ZM30.1 0H32.2V314H30.1Z"/><clipPath id="k255"><path d="M0 65.8H314V67.7H0ZM0 122.4H314V124.0H0ZM0 75.5H314V76.9H0ZM0 55.1H314V56.8H0ZM0 12.1H314V14.2H0ZM0 40.3H314V41.1H0ZM0 41.1H314V42.9H0ZM0 115.1H314V117.1H0ZM0 135.0H314V137.2H0ZM0 107.7H314V109.2H0ZM0 54.0H314V55.1H0ZM0 9.8H314V11.0H0ZM0 89.4H314V91.3H0ZM0 15.8H314V16.7H0ZM0 59.0H314V60.6H0ZM0 99.9H314V100.9H0Z"/></clipPath><path clip-path="url(#k255)" fill="#e8f044" d="M65.8 0H67.7V314H65.8ZM122.4 0H124.0V314H122.4ZM75.5 0H76.9V314H75.5ZM55.1 0H56.8V314H55.1ZM12.1 0H14.2V314H12.1ZM40.3 0H41.1V314H40.3ZM41.1 0H42.9V314H41.1ZM115.1 0H117.1V314H115.1ZM135.0 0H137.2V314H135.0ZM107.7 0H109.2V314H107.7ZM54.0 0H55.1V314H54.0ZM9.8 0H11.0V314H9.8ZM89.4 0H91.3V314H89.4ZM15.8 0H16.7V314H15.8ZM59.0 0H60.6V314H59.0ZM99.9 0H100.9V314H99.9Z"/><clipPath id="k256"><path d="M0 154.3H314V155.1H0ZM0 91.2H314V93.1H0ZM0 23.0H314V24.2H0ZM0 142.9H314V144.5H0ZM0 139.7H314V140.9H0ZM0 135.3H314V137.3H0ZM0 73.8H314V74.6H0ZM0 137.2H314V139.1H0ZM0 127.9H314V129.6H0ZM0 109.3H314V110.3H0ZM0 10.6H314V12.6H0ZM0 99.7H314V101.4H0ZM0 107.1H314V108.1H0ZM0 121.2H314V123.3H0ZM0 138.1H314V139.4H0ZM0 28.9H314V30.5H0Z"/></clipPath><path clip-path="url(#k256)" fill="#56cfd6" d="M154.3 0H155.1V314H154.3ZM91.2 0H93.1V314H91.2ZM23.0 0H24.2V314H23.0ZM142.9 0H144.5V314H142.9ZM139.7 0H140.9V314H139.7ZM135.3 0H137.3V314H135.3ZM73.8 0H74.6V314H73.8ZM137.2 0H139.1V314H137.2ZM127.9 0H129.6V314H127.9ZM109.3 0H110.3V314H109.3ZM10.6 0H12.6V314H10.6ZM99.7 0H101.4V314H99.7ZM107.1 0H108.1V314H107.1ZM121.2 0H123.3V314H121.2ZM138.1 0H139.4V314H138.1ZM28.9 0H30.5V314H28.9Z"/><clipPath id="k257"><path d="M0 78.1H314V80.1H0ZM0 45.8H314V47.0H0ZM0 33.4H314V35.6H0ZM0 138.3H314V139.3H0ZM0 24.4H314V25.4H0ZM0 129.7H314V130.8H0ZM0 102.8H314V104.7H0ZM0 23.6H314V25.6H0ZM0 92.3H314V93.8H0ZM0 49.6H314V50.7H0ZM0 55.8H314V56.7H0ZM0 82.5H314V83.7H0ZM0 113.6H314V115.8H0ZM0 88.2H314V90.4H0ZM0 120.3H314V121.4H0ZM0 78.5H314V79.7H0Z"/></clipPath><path clip-path="url(#k257)" fill="#56cfd6" d="M78.1 0H80.1V314H78.1ZM45.8 0H47.0V314H45.8ZM33.4 0H35.6V314H33.4ZM138.3 0H139.3V314H138.3ZM24.4 0H25.4V314H24.4ZM129.7 0H130.8V314H129.7ZM102.8 0H104.7V314H102.8ZM23.6 0H25.6V314H23.6ZM92.3 0H93.8V314H92.3ZM49.6 0H50.7V314H49.6ZM55.8 0H56.7V314H55.8ZM82.5 0H83.7V314H82.5ZM113.6 0H115.8V314H113.6ZM88.2 0H90.4V314H88.2ZM120.3 0H121.4V314H120.3ZM78.5 0H79.7V314H78.5Z"/><clipPath id="k258"><path d="M0 239.9H314V241.5H0ZM0 230.0H314V231.1H0ZM0 162.8H314V164.1H0ZM0 234.5H314V236.4H0ZM0 209.2H314V211.4H0ZM0 174.4H314V176.1H0ZM0 161.4H314V162.5H0ZM0 176.6H314V178.8H0ZM0 261.4H314V263.0H0ZM0 289.6H314V291.8H0ZM0 215.0H314V217.0H0ZM0 201.6H314V203.4H0ZM0 284.4H314V285.7H0ZM0 257.9H314V259.7H0ZM0 170.6H314V172.5H0ZM0 187.1H314V188.3H0Z"/></clipPath><path clip-path="url(#k258)" fill="#4aa8dc" d="M239.9 0H241.5V314H239.9ZM230.0 0H231.1V314H230.0ZM162.8 0H164.1V314H162.8ZM234.5 0H236.4V314H234.5ZM209.2 0H211.4V314H209.2ZM174.4 0H176.1V314H174.4ZM161.4 0H162.5V314H161.4ZM176.6 0H178.8V314H176.6ZM261.4 0H263.0V314H261.4ZM289.6 0H291.8V314H289.6ZM215.0 0H217.0V314H215.0ZM201.6 0H203.4V314H201.6ZM284.4 0H285.7V314H284.4ZM257.9 0H259.7V314H257.9ZM170.6 0H172.5V314H170.6ZM187.1 0H188.3V314H187.1Z"/><clipPath id="k259"><path d="M0 286.8H314V288.3H0ZM0 274.6H314V276.3H0ZM0 195.2H314V196.1H0ZM0 159.7H314V161.7H0ZM0 218.8H314V219.8H0ZM0 266.9H314V268.4H0ZM0 201.4H314V202.9H0ZM0 251.1H314V253.1H0ZM0 294.7H314V295.6H0ZM0 187.9H314V188.8H0ZM0 288.2H314V289.8H0ZM0 300.0H314V301.8H0ZM0 181.9H314V182.7H0ZM0 272.9H314V274.6H0ZM0 229.3H314V230.6H0ZM0 289.9H314V291.1H0Z"/></clipPath><path clip-path="url(#k259)" fill="#56cfd6" d="M286.8 0H288.3V314H286.8ZM274.6 0H276.3V314H274.6ZM195.2 0H196.1V314H195.2ZM159.7 0H161.7V314H159.7ZM218.8 0H219.8V314H218.8ZM266.9 0H268.4V314H266.9ZM201.4 0H202.9V314H201.4ZM251.1 0H253.1V314H251.1ZM294.7 0H295.6V314H294.7ZM187.9 0H188.8V314H187.9ZM288.2 0H289.8V314H288.2ZM300.0 0H301.8V314H300.0ZM181.9 0H182.7V314H181.9ZM272.9 0H274.6V314H272.9ZM229.3 0H230.6V314H229.3ZM289.9 0H291.1V314H289.9Z"/><clipPath id="k260"><path d="M0 253.1H314V254.9H0ZM0 218.0H314V219.4H0ZM0 259.7H314V260.9H0ZM0 205.0H314V206.8H0ZM0 227.1H314V229.1H0ZM0 225.6H314V227.4H0ZM0 240.9H314V242.1H0ZM0 213.0H314V214.6H0ZM0 229.7H314V231.5H0ZM0 260.7H314V262.4H0ZM0 194.5H314V196.5H0ZM0 297.6H314V298.9H0ZM0 295.7H314V297.2H0ZM0 198.8H314V199.7H0ZM0 262.6H314V264.4H0ZM0 258.4H314V259.8H0Z"/></clipPath><path clip-path="url(#k260)" fill="#f2f8a0" d="M253.1 0H254.9V314H253.1ZM218.0 0H219.4V314H218.0ZM259.7 0H260.9V314H259.7ZM205.0 0H206.8V314H205.0ZM227.1 0H229.1V314H227.1ZM225.6 0H227.4V314H225.6ZM240.9 0H242.1V314H240.9ZM213.0 0H214.6V314H213.0ZM229.7 0H231.5V314H229.7ZM260.7 0H262.4V314H260.7ZM194.5 0H196.5V314H194.5ZM297.6 0H298.9V314H297.6ZM295.7 0H297.2V314H295.7ZM198.8 0H199.7V314H198.8ZM262.6 0H264.4V314H262.6ZM258.4 0H259.8V314H258.4Z"/><clipPath id="k261"><path d="M0 279.7H314V280.5H0ZM0 223.1H314V225.1H0ZM0 240.5H314V241.8H0ZM0 176.1H314V178.2H0ZM0 192.9H314V194.3H0ZM0 270.0H314V271.6H0ZM0 187.5H314V189.4H0ZM0 177.8H314V179.1H0ZM0 227.6H314V229.7H0ZM0 172.2H314V173.4H0ZM0 244.8H314V246.0H0ZM0 269.8H314V270.7H0ZM0 262.0H314V262.9H0ZM0 217.5H314V218.3H0ZM0 212.0H314V213.4H0ZM0 299.9H314V301.0H0Z"/></clipPath><path clip-path="url(#k261)" fill="#a8e6ec" d="M279.7 0H280.5V314H279.7ZM223.1 0H225.1V314H223.1ZM240.5 0H241.8V314H240.5ZM176.1 0H178.2V314H176.1ZM192.9 0H194.3V314H192.9ZM270.0 0H271.6V314H270.0ZM187.5 0H189.4V314H187.5ZM177.8 0H179.1V314H177.8ZM227.6 0H229.7V314H227.6ZM172.2 0H173.4V314H172.2ZM244.8 0H246.0V314H244.8ZM269.8 0H270.7V314H269.8ZM262.0 0H262.9V314H262.0ZM217.5 0H218.3V314H217.5ZM212.0 0H213.4V314H212.0ZM299.9 0H301.0V314H299.9Z"/><clipPath id="k262"><path d="M0 293.2H314V295.1H0ZM0 291.6H314V293.4H0ZM0 258.2H314V260.0H0ZM0 269.8H314V271.3H0ZM0 214.6H314V215.6H0ZM0 217.5H314V219.0H0ZM0 295.5H314V296.6H0ZM0 293.7H314V295.6H0ZM0 211.1H314V212.8H0ZM0 307.5H314V309.5H0ZM0 273.6H314V274.9H0ZM0 215.9H314V217.3H0ZM0 200.0H314V201.5H0ZM0 285.2H314V287.1H0ZM0 200.4H314V202.2H0ZM0 246.7H314V247.6H0Z"/></clipPath><path clip-path="url(#k262)" fill="#f2f8a0" d="M293.2 0H295.1V314H293.2ZM291.6 0H293.4V314H291.6ZM258.2 0H260.0V314H258.2ZM269.8 0H271.3V314H269.8ZM214.6 0H215.6V314H214.6ZM217.5 0H219.0V314H217.5ZM295.5 0H296.6V314H295.5ZM293.7 0H295.6V314H293.7ZM211.1 0H212.8V314H211.1ZM307.5 0H309.5V314H307.5ZM273.6 0H274.9V314H273.6ZM215.9 0H217.3V314H215.9ZM200.0 0H201.5V314H200.0ZM285.2 0H287.1V314H285.2ZM200.4 0H202.2V314H200.4ZM246.7 0H247.6V314H246.7Z"/><clipPath id="k263"><path d="M0 196.1H314V197.8H0ZM0 163.5H314V165.6H0ZM0 261.1H314V262.1H0ZM0 173.7H314V175.9H0ZM0 283.2H314V284.3H0ZM0 278.3H314V279.1H0ZM0 263.5H314V264.4H0ZM0 304.7H314V306.2H0ZM0 299.0H314V301.1H0ZM0 236.0H314V237.6H0ZM0 168.7H314V169.9H0ZM0 183.8H314V185.0H0ZM0 158.2H314V159.7H0ZM0 245.1H314V246.8H0ZM0 286.1H314V287.6H0ZM0 294.6H314V295.8H0Z"/></clipPath><path clip-path="url(#k263)" fill="#56cfd6" d="M196.1 0H197.8V314H196.1ZM163.5 0H165.6V314H163.5ZM261.1 0H262.1V314H261.1ZM173.7 0H175.9V314H173.7ZM283.2 0H284.3V314H283.2ZM278.3 0H279.1V314H278.3ZM263.5 0H264.4V314H263.5ZM304.7 0H306.2V314H304.7ZM299.0 0H301.1V314H299.0ZM236.0 0H237.6V314H236.0ZM168.7 0H169.9V314H168.7ZM183.8 0H185.0V314H183.8ZM158.2 0H159.7V314H158.2ZM245.1 0H246.8V314H245.1ZM286.1 0H287.6V314H286.1ZM294.6 0H295.8V314H294.6Z"/><clipPath id="k264"><path d="M0 258.5H314V259.9H0ZM0 206.1H314V207.5H0ZM0 288.0H314V289.6H0ZM0 224.5H314V226.1H0ZM0 245.6H314V246.4H0ZM0 191.8H314V193.8H0ZM0 281.4H314V283.2H0ZM0 305.0H314V306.7H0ZM0 256.8H314V258.8H0ZM0 183.5H314V184.9H0ZM0 275.4H314V276.4H0ZM0 257.5H314V258.4H0ZM0 167.9H314V169.1H0ZM0 266.1H314V268.0H0ZM0 225.8H314V227.6H0ZM0 216.9H314V218.1H0Z"/></clipPath><path clip-path="url(#k264)" fill="#a8e6ec" d="M258.5 0H259.9V314H258.5ZM206.1 0H207.5V314H206.1ZM288.0 0H289.6V314H288.0ZM224.5 0H226.1V314H224.5ZM245.6 0H246.4V314H245.6ZM191.8 0H193.8V314H191.8ZM281.4 0H283.2V314H281.4ZM305.0 0H306.7V314H305.0ZM256.8 0H258.8V314H256.8ZM183.5 0H184.9V314H183.5ZM275.4 0H276.4V314H275.4ZM257.5 0H258.4V314H257.5ZM167.9 0H169.1V314H167.9ZM266.1 0H268.0V314H266.1ZM225.8 0H227.6V314H225.8ZM216.9 0H218.1V314H216.9Z"/><clipPath id="k265"><path d="M0 236.1H314V237.7H0ZM0 166.3H314V167.5H0ZM0 208.8H314V210.2H0ZM0 273.3H314V275.4H0ZM0 265.8H314V267.2H0ZM0 239.3H314V241.2H0ZM0 185.7H314V187.5H0ZM0 287.7H314V289.0H0ZM0 225.3H314V226.7H0ZM0 233.2H314V235.2H0ZM0 246.1H314V247.2H0ZM0 250.2H314V251.6H0ZM0 295.3H314V297.0H0ZM0 240.6H314V241.7H0ZM0 240.2H314V241.0H0ZM0 210.2H314V211.9H0Z"/></clipPath><path clip-path="url(#k265)" fill="#56cfd6" d="M236.1 0H237.7V314H236.1ZM166.3 0H167.5V314H166.3ZM208.8 0H210.2V314H208.8ZM273.3 0H275.4V314H273.3ZM265.8 0H267.2V314H265.8ZM239.3 0H241.2V314H239.3ZM185.7 0H187.5V314H185.7ZM287.7 0H289.0V314H287.7ZM225.3 0H226.7V314H225.3ZM233.2 0H235.2V314H233.2ZM246.1 0H247.2V314H246.1ZM250.2 0H251.6V314H250.2ZM295.3 0H297.0V314H295.3ZM240.6 0H241.7V314H240.6ZM240.2 0H241.0V314H240.2ZM210.2 0H211.9V314H210.2Z"/><clipPath id="k266"><path d="M0 283.0H314V284.5H0ZM0 264.5H314V265.8H0ZM0 172.6H314V174.2H0ZM0 298.6H314V299.9H0ZM0 208.3H314V210.1H0ZM0 226.1H314V227.0H0ZM0 218.7H314V219.8H0ZM0 288.4H314V290.2H0ZM0 253.5H314V255.0H0ZM0 199.7H314V201.1H0ZM0 276.0H314V277.3H0ZM0 262.0H314V263.2H0ZM0 204.6H314V206.7H0ZM0 200.7H314V202.0H0ZM0 235.1H314V237.0H0ZM0 300.5H314V301.7H0Z"/></clipPath><path clip-path="url(#k266)" fill="#56cfd6" d="M283.0 0H284.5V314H283.0ZM264.5 0H265.8V314H264.5ZM172.6 0H174.2V314H172.6ZM298.6 0H299.9V314H298.6ZM208.3 0H210.1V314H208.3ZM226.1 0H227.0V314H226.1ZM218.7 0H219.8V314H218.7ZM288.4 0H290.2V314H288.4ZM253.5 0H255.0V314H253.5ZM199.7 0H201.1V314H199.7ZM276.0 0H277.3V314H276.0ZM262.0 0H263.2V314H262.0ZM204.6 0H206.7V314H204.6ZM200.7 0H202.0V314H200.7ZM235.1 0H237.0V314H235.1ZM300.5 0H301.7V314H300.5Z"/><clipPath id="k267"><path d="M0 233.8H314V234.8H0ZM0 164.1H314V165.1H0ZM0 210.5H314V211.9H0ZM0 252.9H314V254.9H0ZM0 306.7H314V308.9H0ZM0 267.5H314V269.2H0ZM0 280.2H314V282.3H0ZM0 206.2H314V207.7H0ZM0 170.2H314V172.0H0ZM0 306.0H314V308.2H0ZM0 238.0H314V239.7H0ZM0 280.6H314V281.8H0ZM0 292.7H314V294.0H0ZM0 283.7H314V285.1H0ZM0 249.5H314V251.6H0ZM0 169.8H314V171.7H0Z"/></clipPath><path clip-path="url(#k267)" fill="#f2f8a0" d="M233.8 0H234.8V314H233.8ZM164.1 0H165.1V314H164.1ZM210.5 0H211.9V314H210.5ZM252.9 0H254.9V314H252.9ZM306.7 0H308.9V314H306.7ZM267.5 0H269.2V314H267.5ZM280.2 0H282.3V314H280.2ZM206.2 0H207.7V314H206.2ZM170.2 0H172.0V314H170.2ZM306.0 0H308.2V314H306.0ZM238.0 0H239.7V314H238.0ZM280.6 0H281.8V314H280.6ZM292.7 0H294.0V314H292.7ZM283.7 0H285.1V314H283.7ZM249.5 0H251.6V314H249.5ZM169.8 0H171.7V314H169.8Z"/><clipPath id="k268"><path d="M0 38.7H314V40.5H0ZM0 16.0H314V17.6H0ZM0 97.2H314V98.8H0ZM0 152.7H314V153.7H0ZM0 74.3H314V75.9H0ZM0 15.5H314V17.0H0ZM0 119.9H314V120.8H0ZM0 127.5H314V129.3H0ZM0 23.1H314V24.3H0ZM0 2.6H314V4.3H0Z"/></clipPath><path clip-path="url(#k268)" fill="#f2f8a0" d="M220.5 0H222.3V314H220.5ZM162.9 0H164.0V314H162.9ZM179.9 0H180.9V314H179.9ZM202.2 0H203.1V314H202.2ZM195.2 0H197.0V314H195.2ZM237.6 0H239.6V314H237.6ZM237.8 0H239.0V314H237.8ZM280.5 0H282.5V314H280.5ZM160.3 0H161.4V314H160.3ZM293.8 0H294.9V314H293.8Z"/><clipPath id="k269"><path d="M0 220.5H314V222.3H0ZM0 162.9H314V164.0H0ZM0 179.9H314V180.9H0ZM0 202.2H314V203.1H0ZM0 195.2H314V197.0H0ZM0 237.6H314V239.6H0ZM0 237.8H314V239.0H0ZM0 280.5H314V282.5H0ZM0 160.3H314V161.4H0ZM0 293.8H314V294.9H0Z"/></clipPath><path clip-path="url(#k269)" fill="#f2f8a0" d="M38.7 0H40.5V314H38.7ZM16.0 0H17.6V314H16.0ZM97.2 0H98.8V314H97.2ZM152.7 0H153.7V314H152.7ZM74.3 0H75.9V314H74.3ZM15.5 0H17.0V314H15.5ZM119.9 0H120.8V314H119.9ZM127.5 0H129.3V314H127.5ZM23.1 0H24.3V314H23.1ZM2.6 0H4.3V314H2.6Z"/><clipPath id="k270"><path d="M0 98.7H314V100.6H0ZM0 113.1H314V114.0H0ZM0 151.1H314V153.1H0ZM0 27.8H314V29.9H0ZM0 23.5H314V24.4H0ZM0 103.6H314V105.4H0ZM0 100.0H314V101.1H0ZM0 16.3H314V18.4H0ZM0 59.4H314V60.6H0ZM0 89.9H314V92.0H0Z"/></clipPath><path clip-path="url(#k270)" fill="#e8f044" d="M300.4 0H302.5V314H300.4ZM253.3 0H255.0V314H253.3ZM157.3 0H158.6V314H157.3ZM183.0 0H184.0V314H183.0ZM262.1 0H263.8V314H262.1ZM236.0 0H236.8V314H236.0ZM239.3 0H240.2V314H239.3ZM308.2 0H309.2V314H308.2ZM262.9 0H264.0V314H262.9ZM214.9 0H216.4V314H214.9Z"/><clipPath id="k271"><path d="M0 300.4H314V302.5H0ZM0 253.3H314V255.0H0ZM0 157.3H314V158.6H0ZM0 183.0H314V184.0H0ZM0 262.1H314V263.8H0ZM0 236.0H314V236.8H0ZM0 239.3H314V240.2H0ZM0 308.2H314V309.2H0ZM0 262.9H314V264.0H0ZM0 214.9H314V216.4H0Z"/></clipPath><path clip-path="url(#k271)" fill="#e8f044" d="M98.7 0H100.6V314H98.7ZM113.1 0H114.0V314H113.1ZM151.1 0H153.1V314H151.1ZM27.8 0H29.9V314H27.8ZM23.5 0H24.4V314H23.5ZM103.6 0H105.4V314H103.6ZM100.0 0H101.1V314H100.0ZM16.3 0H18.4V314H16.3ZM59.4 0H60.6V314H59.4ZM89.9 0H92.0V314H89.9Z"/><clipPath id="k272"><path d="M0 25.5H314V26.6H0ZM0 90.3H314V91.2H0ZM0 64.8H314V65.9H0ZM0 70.9H314V72.1H0ZM0 66.3H314V67.6H0ZM0 75.3H314V77.0H0ZM0 66.2H314V67.8H0ZM0 47.3H314V48.7H0ZM0 13.9H314V15.3H0ZM0 79.0H314V80.1H0Z"/></clipPath><path clip-path="url(#k272)" fill="#e8f044" d="M205.8 0H207.4V314H205.8ZM231.7 0H233.4V314H231.7ZM196.4 0H198.3V314H196.4ZM179.9 0H182.0V314H179.9ZM209.3 0H210.5V314H209.3ZM208.7 0H210.8V314H208.7ZM263.7 0H265.8V314H263.7ZM309.4 0H310.9V314H309.4ZM280.5 0H281.4V314H280.5ZM282.0 0H283.2V314H282.0Z"/><clipPath id="k273"><path d="M0 205.8H314V207.4H0ZM0 231.7H314V233.4H0ZM0 196.4H314V198.3H0ZM0 179.9H314V182.0H0ZM0 209.3H314V210.5H0ZM0 208.7H314V210.8H0ZM0 263.7H314V265.8H0ZM0 309.4H314V310.9H0ZM0 280.5H314V281.4H0ZM0 282.0H314V283.2H0Z"/></clipPath><path clip-path="url(#k273)" fill="#e8f044" d="M25.5 0H26.6V314H25.5ZM90.3 0H91.2V314H90.3ZM64.8 0H65.9V314H64.8ZM70.9 0H72.1V314H70.9ZM66.3 0H67.6V314H66.3ZM75.3 0H77.0V314H75.3ZM66.2 0H67.8V314H66.2ZM47.3 0H48.7V314H47.3ZM13.9 0H15.3V314H13.9ZM79.0 0H80.1V314H79.0Z"/><clipPath id="k274"><path d="M0 153.5H314V154.7H0ZM0 25.8H314V27.5H0ZM0 41.1H314V42.7H0ZM0 127.6H314V128.6H0ZM0 101.2H314V103.1H0ZM0 128.3H314V130.0H0ZM0 93.8H314V95.2H0ZM0 123.6H314V124.7H0ZM0 132.6H314V133.8H0ZM0 27.0H314V28.2H0Z"/></clipPath><path clip-path="url(#k274)" fill="#a8e6ec" d="M236.9 0H238.3V314H236.9ZM175.8 0H177.5V314H175.8ZM229.8 0H231.5V314H229.8ZM234.5 0H235.8V314H234.5ZM184.0 0H186.2V314H184.0ZM285.4 0H286.6V314H285.4ZM185.4 0H187.0V314H185.4ZM222.5 0H223.3V314H222.5ZM309.2 0H310.6V314H309.2ZM277.6 0H279.3V314H277.6Z"/><clipPath id="k275"><path d="M0 236.9H314V238.3H0ZM0 175.8H314V177.5H0ZM0 229.8H314V231.5H0ZM0 234.5H314V235.8H0ZM0 184.0H314V186.2H0ZM0 285.4H314V286.6H0ZM0 185.4H314V187.0H0ZM0 222.5H314V223.3H0ZM0 309.2H314V310.6H0ZM0 277.6H314V279.3H0Z"/></clipPath><path clip-path="url(#k275)" fill="#a8e6ec" d="M153.5 0H154.7V314H153.5ZM25.8 0H27.5V314H25.8ZM41.1 0H42.7V314H41.1ZM127.6 0H128.6V314H127.6ZM101.2 0H103.1V314H101.2ZM128.3 0H130.0V314H128.3ZM93.8 0H95.2V314H93.8ZM123.6 0H124.7V314H123.6ZM132.6 0H133.8V314H132.6ZM27.0 0H28.2V314H27.0Z"/><clipPath id="k276"><path d="M0 113.8H314V114.9H0ZM0 120.1H314V121.0H0ZM0 49.5H314V50.7H0ZM0 62.8H314V64.7H0ZM0 71.5H314V73.5H0ZM0 139.7H314V141.4H0ZM0 107.1H314V109.0H0ZM0 38.3H314V40.1H0ZM0 135.3H314V137.5H0ZM0 77.4H314V78.4H0Z"/></clipPath><path clip-path="url(#k276)" fill="#e8f044" d="M174.1 0H175.5V314H174.1ZM259.6 0H260.9V314H259.6ZM301.3 0H302.2V314H301.3ZM227.4 0H228.3V314H227.4ZM273.8 0H275.5V314H273.8ZM205.4 0H206.9V314H205.4ZM197.5 0H199.0V314H197.5ZM232.3 0H234.0V314H232.3ZM252.9 0H253.7V314H252.9ZM293.9 0H294.8V314H293.9Z"/><clipPath id="k277"><path d="M0 174.1H314V175.5H0ZM0 259.6H314V260.9H0ZM0 301.3H314V302.2H0ZM0 227.4H314V228.3H0ZM0 273.8H314V275.5H0ZM0 205.4H314V206.9H0ZM0 197.5H314V199.0H0ZM0 232.3H314V234.0H0ZM0 252.9H314V253.7H0ZM0 293.9H314V294.8H0Z"/></clipPath><path clip-path="url(#k277)" fill="#e8f044" d="M113.8 0H114.9V314H113.8ZM120.1 0H121.0V314H120.1ZM49.5 0H50.7V314H49.5ZM62.8 0H64.7V314H62.8ZM71.5 0H73.5V314H71.5ZM139.7 0H141.4V314H139.7ZM107.1 0H109.0V314H107.1ZM38.3 0H40.1V314H38.3ZM135.3 0H137.5V314H135.3ZM77.4 0H78.4V314H77.4Z"/><clipPath id="k278"><path d="M0 19.3H314V21.0H0ZM0 104.7H314V106.9H0ZM0 34.9H314V35.8H0ZM0 143.3H314V144.5H0ZM0 97.4H314V99.0H0ZM0 152.0H314V153.7H0ZM0 126.0H314V127.0H0ZM0 123.5H314V125.0H0ZM0 118.6H314V120.3H0ZM0 23.1H314V24.5H0Z"/></clipPath><path clip-path="url(#k278)" fill="#f2f8a0" d="M251.3 0H252.4V314H251.3ZM206.8 0H208.0V314H206.8ZM227.7 0H229.7V314H227.7ZM301.8 0H303.5V314H301.8ZM260.8 0H262.9V314H260.8ZM289.5 0H291.1V314H289.5ZM162.6 0H163.9V314H162.6ZM198.4 0H200.1V314H198.4ZM218.2 0H219.2V314H218.2ZM257.7 0H259.1V314H257.7Z"/><clipPath id="k279"><path d="M0 251.3H314V252.4H0ZM0 206.8H314V208.0H0ZM0 227.7H314V229.7H0ZM0 301.8H314V303.5H0ZM0 260.8H314V262.9H0ZM0 289.5H314V291.1H0ZM0 162.6H314V163.9H0ZM0 198.4H314V200.1H0ZM0 218.2H314V219.2H0ZM0 257.7H314V259.1H0Z"/></clipPath><path clip-path="url(#k279)" fill="#f2f8a0" d="M19.3 0H21.0V314H19.3ZM104.7 0H106.9V314H104.7ZM34.9 0H35.8V314H34.9ZM143.3 0H144.5V314H143.3ZM97.4 0H99.0V314H97.4ZM152.0 0H153.7V314H152.0ZM126.0 0H127.0V314H126.0ZM123.5 0H125.0V314H123.5ZM118.6 0H120.3V314H118.6ZM23.1 0H24.5V314H23.1Z"/><clipPath id="k280"><path d="M0 136.7H314V138.6H0ZM0 120.7H314V122.7H0ZM0 99.0H314V100.7H0ZM0 7.5H314V9.0H0ZM0 18.2H314V20.1H0ZM0 144.6H314V145.6H0ZM0 49.4H314V51.5H0ZM0 113.6H314V114.7H0ZM0 106.5H314V108.0H0ZM0 9.9H314V12.0H0Z"/></clipPath><path clip-path="url(#k280)" fill="#a8e6ec" d="M188.4 0H189.6V314H188.4ZM172.8 0H174.4V314H172.8ZM235.6 0H236.5V314H235.6ZM294.6 0H295.7V314H294.6ZM301.0 0H303.0V314H301.0ZM258.5 0H259.6V314H258.5ZM308.2 0H310.2V314H308.2ZM165.0 0H166.7V314H165.0ZM202.5 0H203.5V314H202.5ZM185.0 0H185.8V314H185.0Z"/><clipPath id="k281"><path d="M0 188.4H314V189.6H0ZM0 172.8H314V174.4H0ZM0 235.6H314V236.5H0ZM0 294.6H314V295.7H0ZM0 301.0H314V303.0H0ZM0 258.5H314V259.6H0ZM0 308.2H314V310.2H0ZM0 165.0H314V166.7H0ZM0 202.5H314V203.5H0ZM0 185.0H314V185.8H0Z"/></clipPath><path clip-path="url(#k281)" fill="#a8e6ec" d="M136.7 0H138.6V314H136.7ZM120.7 0H122.7V314H120.7ZM99.0 0H100.7V314H99.0ZM7.5 0H9.0V314H7.5ZM18.2 0H20.1V314H18.2ZM144.6 0H145.6V314H144.6ZM49.4 0H51.5V314H49.4ZM113.6 0H114.7V314H113.6ZM106.5 0H108.0V314H106.5ZM9.9 0H12.0V314H9.9Z"/><clipPath id="k282"><path d="M0 2.3H314V3.8H0ZM0 99.0H314V100.3H0ZM0 69.5H314V71.5H0ZM0 90.4H314V92.4H0ZM0 3.8H314V5.5H0ZM0 77.3H314V78.5H0ZM0 15.2H314V16.3H0ZM0 87.5H314V89.4H0ZM0 30.5H314V32.0H0ZM0 92.6H314V94.5H0Z"/></clipPath><path clip-path="url(#k282)" fill="#e8f044" d="M195.5 0H196.8V314H195.5ZM285.8 0H287.6V314H285.8ZM253.4 0H255.0V314H253.4ZM260.5 0H262.5V314H260.5ZM270.3 0H271.6V314H270.3ZM307.5 0H309.5V314H307.5ZM295.9 0H297.8V314H295.9ZM258.0 0H259.9V314H258.0ZM165.9 0H167.2V314H165.9ZM238.6 0H239.8V314H238.6Z"/><clipPath id="k283"><path d="M0 195.5H314V196.8H0ZM0 285.8H314V287.6H0ZM0 253.4H314V255.0H0ZM0 260.5H314V262.5H0ZM0 270.3H314V271.6H0ZM0 307.5H314V309.5H0ZM0 295.9H314V297.8H0ZM0 258.0H314V259.9H0ZM0 165.9H314V167.2H0ZM0 238.6H314V239.8H0Z"/></clipPath><path clip-path="url(#k283)" fill="#e8f044" d="M2.3 0H3.8V314H2.3ZM99.0 0H100.3V314H99.0ZM69.5 0H71.5V314H69.5ZM90.4 0H92.4V314H90.4ZM3.8 0H5.5V314H3.8ZM77.3 0H78.5V314H77.3ZM15.2 0H16.3V314H15.2ZM87.5 0H89.4V314H87.5ZM30.5 0H32.0V314H30.5ZM92.6 0H94.5V314H92.6Z"/><clipPath id="k284"><path d="M0 2.0H314V18.6H0ZM0 146.0H314V153.0H0Z"/></clipPath><path clip-path="url(#k284)" fill="#f2f8a0" d="M261.0 0H266.0V314H261.0ZM283.0 0H288.0V314H283.0Z"/><clipPath id="k285"><path d="M0 261.0H314V266.0H0ZM0 283.0H314V288.0H0Z"/></clipPath><path clip-path="url(#k285)" fill="#f2f8a0" d="M2.0 0H18.6V314H2.0ZM146.0 0H153.0V314H146.0Z"/><clipPath id="k286"><path d="M0 18.6H314V33.3H0ZM0 59.6H314V65.6H0ZM0 74.3H314V78.7H0Z"/></clipPath><path clip-path="url(#k286)" fill="#f2f8a0" d="M212.0 0H216.0V314H212.0ZM229.4 0H231.0V314H229.4ZM236.4 0H238.0V314H236.4Z"/><clipPath id="k287"><path d="M0 212.0H314V216.0H0ZM0 229.4H314V231.0H0ZM0 236.4H314V238.0H0Z"/></clipPath><path clip-path="url(#k287)" fill="#f2f8a0" d="M18.6 0H33.3V314H18.6ZM59.6 0H65.6V314H59.6ZM74.3 0H78.7V314H74.3Z"/><clipPath id="k288"><path d="M0 78.7H314V81.0H0ZM0 96.0H314V98.2H0ZM0 103.0H314V107.6H0ZM0 116.5H314V119.7H0ZM0 136.2H314V139.8H0Z"/></clipPath><path clip-path="url(#k288)" fill="#f2f8a0" d="M261.0 0H266.0V314H261.0ZM283.0 0H288.0V314H283.0Z"/><clipPath id="k289"><path d="M0 261.0H314V266.0H0ZM0 283.0H314V288.0H0Z"/></clipPath><path clip-path="url(#k289)" fill="#f2f8a0" d="M78.7 0H81.0V314H78.7ZM96.0 0H98.2V314H96.0ZM103.0 0H107.6V314H103.0ZM116.5 0H119.7V314H116.5ZM136.2 0H139.8V314H136.2Z"/><clipPath id="k290"><path d="M0 78.7H314V81.0H0ZM0 96.0H314V98.2H0ZM0 103.0H314V107.6H0ZM0 116.5H314V119.7H0ZM0 136.2H314V139.8H0Z"/></clipPath><path clip-path="url(#k290)" fill="#a8e6ec" d="M246.0 0H251.0V314H246.0ZM276.0 0H281.0V314H276.0ZM298.0 0H303.0V314H298.0Z"/><clipPath id="k291"><path d="M0 246.0H314V251.0H0ZM0 276.0H314V281.0H0ZM0 298.0H314V303.0H0Z"/></clipPath><path clip-path="url(#k291)" fill="#a8e6ec" d="M78.7 0H81.0V314H78.7ZM96.0 0H98.2V314H96.0ZM103.0 0H107.6V314H103.0ZM116.5 0H119.7V314H116.5ZM136.2 0H139.8V314H136.2Z"/><clipPath id="k292"><path d="M0 78.7H314V81.0H0ZM0 96.0H314V98.2H0ZM0 103.0H314V107.6H0ZM0 116.5H314V119.7H0ZM0 136.2H314V139.8H0Z"/></clipPath><path clip-path="url(#k292)" fill="#f2f8a0" d="M243.0 0H246.0V314H243.0ZM258.0 0H261.0V314H258.0ZM273.0 0H276.0V314H273.0ZM288.0 0H291.0V314H288.0ZM303.0 0H306.0V314H303.0Z"/><clipPath id="k293"><path d="M0 243.0H314V246.0H0ZM0 258.0H314V261.0H0ZM0 273.0H314V276.0H0ZM0 288.0H314V291.0H0ZM0 303.0H314V306.0H0Z"/></clipPath><path clip-path="url(#k293)" fill="#f2f8a0" d="M78.7 0H81.0V314H78.7ZM96.0 0H98.2V314H96.0ZM103.0 0H107.6V314H103.0ZM116.5 0H119.7V314H116.5ZM136.2 0H139.8V314H136.2Z"/><clipPath id="k294"><path d="M0 88.0H314V92.3H0ZM0 130.0H314V135.3H0ZM0 141.6H314V146.0H0Z"/></clipPath><path clip-path="url(#k294)" fill="#f2f8a0" d="M157.0 0H174.4V314H157.0ZM306.0 0H313.0V314H306.0Z"/><clipPath id="k295"><path d="M0 157.0H314V174.4H0ZM0 306.0H314V313.0H0Z"/></clipPath><path clip-path="url(#k295)" fill="#f2f8a0" d="M88.0 0H92.3V314H88.0ZM130.0 0H135.3V314H130.0ZM141.6 0H146.0V314H141.6Z"/><clipPath id="k296"><path d="M0 88.0H314V92.3H0ZM0 130.0H314V135.3H0ZM0 141.6H314V146.0H0Z"/></clipPath><path clip-path="url(#k296)" fill="#f2f8a0" d="M238.0 0H243.0V314H238.0ZM253.0 0H258.0V314H253.0ZM268.0 0H273.0V314H268.0ZM291.0 0H296.0V314H291.0Z"/><clipPath id="k297"><path d="M0 238.0H314V243.0H0ZM0 253.0H314V258.0H0ZM0 268.0H314V273.0H0ZM0 291.0H314V296.0H0Z"/></clipPath><path clip-path="url(#k297)" fill="#f2f8a0" d="M88.0 0H92.3V314H88.0ZM130.0 0H135.3V314H130.0ZM141.6 0H146.0V314H141.6Z"/><clipPath id="k298"><path d="M0 88.0H314V92.3H0ZM0 130.0H314V135.3H0ZM0 141.6H314V146.0H0Z"/></clipPath><path clip-path="url(#k298)" fill="#f2f8a0" d="M261.0 0H266.0V314H261.0ZM283.0 0H288.0V314H283.0Z"/><clipPath id="k299"><path d="M0 261.0H314V266.0H0ZM0 283.0H314V288.0H0Z"/></clipPath><path clip-path="url(#k299)" fill="#f2f8a0" d="M88.0 0H92.3V314H88.0ZM130.0 0H135.3V314H130.0ZM141.6 0H146.0V314H141.6Z"/><clipPath id="k300"><path d="M0 84.7H314V88.0H0ZM0 109.0H314V111.6H0ZM0 125.0H314V129.0H0Z"/></clipPath><path clip-path="url(#k300)" fill="#a8e6ec" d="M238.0 0H243.0V314H238.0ZM253.0 0H258.0V314H253.0ZM268.0 0H273.0V314H268.0ZM291.0 0H296.0V314H291.0Z"/><clipPath id="k301"><path d="M0 238.0H314V243.0H0ZM0 253.0H314V258.0H0ZM0 268.0H314V273.0H0ZM0 291.0H314V296.0H0Z"/></clipPath><path clip-path="url(#k301)" fill="#a8e6ec" d="M84.7 0H88.0V314H84.7ZM109.0 0H111.6V314H109.0ZM125.0 0H129.0V314H125.0Z"/><clipPath id="k302"><path d="M0 84.7H314V88.0H0ZM0 109.0H314V111.6H0ZM0 125.0H314V129.0H0Z"/></clipPath><path clip-path="url(#k302)" fill="#f2f8a0" d="M246.0 0H251.0V314H246.0ZM276.0 0H281.0V314H276.0ZM298.0 0H303.0V314H298.0Z"/><clipPath id="k303"><path d="M0 246.0H314V251.0H0ZM0 276.0H314V281.0H0ZM0 298.0H314V303.0H0Z"/></clipPath><path clip-path="url(#k303)" fill="#f2f8a0" d="M84.7 0H88.0V314H84.7ZM109.0 0H111.6V314H109.0ZM125.0 0H129.0V314H125.0Z"/><clipPath id="k304"><path d="M0 81.0H314V84.7H0ZM0 98.2H314V103.0H0ZM0 111.6H314V116.5H0ZM0 129.0H314V130.0H0ZM0 139.8H314V141.6H0Z"/></clipPath><path clip-path="url(#k304)" fill="#f2f8a0" d="M243.0 0H246.0V314H243.0ZM258.0 0H261.0V314H258.0ZM273.0 0H276.0V314H273.0ZM288.0 0H291.0V314H288.0ZM303.0 0H306.0V314H303.0Z"/><clipPath id="k305"><path d="M0 243.0H314V246.0H0ZM0 258.0H314V261.0H0ZM0 273.0H314V276.0H0ZM0 288.0H314V291.0H0ZM0 303.0H314V306.0H0Z"/></clipPath><path clip-path="url(#k305)" fill="#f2f8a0" d="M81.0 0H84.7V314H81.0ZM98.2 0H103.0V314H98.2ZM111.6 0H116.5V314H111.6ZM129.0 0H130.0V314H129.0ZM139.8 0H141.6V314H139.8Z"/><clipPath id="k306"><path d="M0 53.6H314V59.6H0ZM0 72.7H314V74.3H0Z"/></clipPath><path clip-path="url(#k306)" fill="#f2f8a0" d="M174.4 0H190.0V314H174.4ZM216.0 0H222.4V314H216.0ZM231.0 0H236.4V314H231.0Z"/><clipPath id="k307"><path d="M0 174.4H314V190.0H0ZM0 216.0H314V222.4H0ZM0 231.0H314V236.4H0Z"/></clipPath><path clip-path="url(#k307)" fill="#f2f8a0" d="M53.6 0H59.6V314H53.6ZM72.7 0H74.3V314H72.7Z"/><clipPath id="k308"><path d="M0 2.0H314V18.6H0ZM0 146.0H314V153.0H0Z"/></clipPath><path clip-path="url(#k308)" fill="#e8f044" d="M202.3 0H212.0V314H202.3Z"/><clipPath id="k309"><path d="M0 202.3H314V212.0H0Z"/></clipPath><path clip-path="url(#k309)" fill="#e8f044" d="M2.0 0H18.6V314H2.0ZM146.0 0H153.0V314H146.0Z"/><clipPath id="k310"><path d="M0 45.9H314V53.6H0Z"/></clipPath><path clip-path="url(#k310)" fill="#e8f044" d="M157.0 0H174.4V314H157.0ZM306.0 0H313.0V314H306.0Z"/><clipPath id="k311"><path d="M0 157.0H314V174.4H0ZM0 306.0H314V313.0H0Z"/></clipPath><path clip-path="url(#k311)" fill="#e8f044" d="M45.9 0H53.6V314H45.9Z"/><clipPath id="k312"><path d="M0 2.0H314V18.6H0ZM0 146.0H314V153.0H0Z"/></clipPath><path clip-path="url(#k312)" fill="#eac23c" d="M157.0 0H174.4V314H157.0ZM306.0 0H313.0V314H306.0Z"/><clipPath id="k313"><path d="M0 157.0H314V174.4H0ZM0 306.0H314V313.0H0Z"/></clipPath><path clip-path="url(#k313)" fill="#eac23c" d="M2.0 0H18.6V314H2.0ZM146.0 0H153.0V314H146.0Z"/><clipPath id="k314"><path d="M0 78.7H314V81.0H0ZM0 96.0H314V98.2H0ZM0 103.0H314V107.6H0ZM0 116.5H314V119.7H0ZM0 136.2H314V139.8H0Z"/></clipPath><path clip-path="url(#k314)" fill="#eac23c" d="M238.0 0H243.0V314H238.0ZM253.0 0H258.0V314H253.0ZM268.0 0H273.0V314H268.0ZM291.0 0H296.0V314H291.0Z"/><clipPath id="k315"><path d="M0 238.0H314V243.0H0ZM0 253.0H314V258.0H0ZM0 268.0H314V273.0H0ZM0 291.0H314V296.0H0Z"/></clipPath><path clip-path="url(#k315)" fill="#eac23c" d="M78.7 0H81.0V314H78.7ZM96.0 0H98.2V314H96.0ZM103.0 0H107.6V314H103.0ZM116.5 0H119.7V314H116.5ZM136.2 0H139.8V314H136.2Z"/><clipPath id="k316"><path d="M0 88.0H314V92.3H0ZM0 130.0H314V135.3H0ZM0 141.6H314V146.0H0Z"/></clipPath><path clip-path="url(#k316)" fill="#eac23c" d="M246.0 0H251.0V314H246.0ZM276.0 0H281.0V314H276.0ZM298.0 0H303.0V314H298.0Z"/><clipPath id="k317"><path d="M0 246.0H314V251.0H0ZM0 276.0H314V281.0H0ZM0 298.0H314V303.0H0Z"/></clipPath><path clip-path="url(#k317)" fill="#eac23c" d="M88.0 0H92.3V314H88.0ZM130.0 0H135.3V314H130.0ZM141.6 0H146.0V314H141.6Z"/><clipPath id="k318"><path d="M0 84.7H314V88.0H0ZM0 109.0H314V111.6H0ZM0 125.0H314V129.0H0Z"/></clipPath><path clip-path="url(#k318)" fill="#eac23c" d="M261.0 0H266.0V314H261.0ZM283.0 0H288.0V314H283.0Z"/><clipPath id="k319"><path d="M0 261.0H314V266.0H0ZM0 283.0H314V288.0H0Z"/></clipPath><path clip-path="url(#k319)" fill="#eac23c" d="M84.7 0H88.0V314H84.7ZM109.0 0H111.6V314H109.0ZM125.0 0H129.0V314H125.0Z"/><clipPath id="k320"><path d="M0 18.6H314V33.3H0ZM0 59.6H314V65.6H0ZM0 74.3H314V78.7H0Z"/></clipPath><path clip-path="url(#k320)" fill="#f23c28" d="M174.4 0H190.0V314H174.4ZM216.0 0H222.4V314H216.0ZM231.0 0H236.4V314H231.0Z"/><clipPath id="k321"><path d="M0 174.4H314V190.0H0ZM0 216.0H314V222.4H0ZM0 231.0H314V236.4H0Z"/></clipPath><path clip-path="url(#k321)" fill="#f23c28" d="M18.6 0H33.3V314H18.6ZM59.6 0H65.6V314H59.6ZM74.3 0H78.7V314H74.3Z"/><clipPath id="k322"><path d="M0 24.0H314V28.0H0ZM0 34.0H314V40.0H0ZM0 47.0H314V52.0H0ZM0 56.0H314V62.0H0ZM0 70.0H314V74.0H0Z"/></clipPath><path clip-path="url(#k322)" fill="#d2f0f4" d="M28.0 0H31.0V314H28.0ZM62.0 0H66.0V314H62.0ZM100.0 0H106.0V314H100.0ZM122.0 0H129.0V314H122.0Z"/><clipPath id="k323"><path d="M0 28.0H314V31.0H0ZM0 62.0H314V66.0H0ZM0 100.0H314V106.0H0ZM0 122.0H314V129.0H0Z"/></clipPath><path clip-path="url(#k323)" fill="#d2f0f4" d="M24.0 0H28.0V314H24.0ZM34.0 0H40.0V314H34.0ZM47.0 0H52.0V314H47.0ZM56.0 0H62.0V314H56.0ZM70.0 0H74.0V314H70.0Z"/><clipPath id="k324"><path d="M0 18.0H314V20.0H0ZM0 44.0H314V47.0H0ZM0 83.0H314V88.0H0ZM0 112.0H314V117.0H0ZM0 141.0H314V146.0H0Z"/></clipPath><path clip-path="url(#k324)" fill="#d2f0f4" d="M28.0 0H31.0V314H28.0ZM62.0 0H66.0V314H62.0ZM100.0 0H106.0V314H100.0ZM122.0 0H129.0V314H122.0Z"/><clipPath id="k325"><path d="M0 28.0H314V31.0H0ZM0 62.0H314V66.0H0ZM0 100.0H314V106.0H0ZM0 122.0H314V129.0H0Z"/></clipPath><path clip-path="url(#k325)" fill="#d2f0f4" d="M18.0 0H20.0V314H18.0ZM44.0 0H47.0V314H44.0ZM83.0 0H88.0V314H83.0ZM112.0 0H117.0V314H112.0ZM141.0 0H146.0V314H141.0Z"/><clipPath id="k326"><path d="M0 28.0H314V31.0H0ZM0 62.0H314V66.0H0ZM0 100.0H314V106.0H0ZM0 122.0H314V129.0H0Z"/></clipPath><path clip-path="url(#k326)" fill="#d2f0f4" d="M28.0 0H31.0V314H28.0ZM62.0 0H66.0V314H62.0ZM100.0 0H106.0V314H100.0ZM122.0 0H129.0V314H122.0Z"/><clipPath id="k327"><path d="M0 28.0H314V31.0H0ZM0 62.0H314V66.0H0ZM0 100.0H314V106.0H0ZM0 122.0H314V129.0H0Z"/></clipPath><path clip-path="url(#k327)" fill="#d2f0f4" d="M94.0 0H100.0V314H94.0ZM117.0 0H122.0V314H117.0ZM146.0 0H150.0V314H146.0Z"/><clipPath id="k328"><path d="M0 94.0H314V100.0H0ZM0 117.0H314V122.0H0ZM0 146.0H314V150.0H0Z"/></clipPath><path clip-path="url(#k328)" fill="#d2f0f4" d="M28.0 0H31.0V314H28.0ZM62.0 0H66.0V314H62.0ZM100.0 0H106.0V314H100.0ZM122.0 0H129.0V314H122.0Z"/><clipPath id="k329"><path d="M0 182.0H314V188.0H0ZM0 196.0H314V204.0H0ZM0 208.0H314V213.0H0ZM0 224.0H314V230.0H0Z"/></clipPath><path clip-path="url(#k329)" fill="#d2f0f4" d="M188.0 0H192.0V314H188.0ZM242.0 0H248.0V314H242.0ZM274.0 0H280.0V314H274.0ZM297.0 0H302.0V314H297.0Z"/><clipPath id="k330"><path d="M0 188.0H314V192.0H0ZM0 242.0H314V248.0H0ZM0 274.0H314V280.0H0ZM0 297.0H314V302.0H0Z"/></clipPath><path clip-path="url(#k330)" fill="#d2f0f4" d="M182.0 0H188.0V314H182.0ZM196.0 0H204.0V314H196.0ZM208.0 0H213.0V314H208.0ZM224.0 0H230.0V314H224.0Z"/><clipPath id="k331"><path d="M0 174.0H314V178.0H0ZM0 217.0H314V219.0H0ZM0 230.0H314V236.0H0ZM0 262.0H314V268.0H0ZM0 286.0H314V292.0H0Z"/></clipPath><path clip-path="url(#k331)" fill="#d2f0f4" d="M188.0 0H192.0V314H188.0ZM242.0 0H248.0V314H242.0ZM274.0 0H280.0V314H274.0ZM297.0 0H302.0V314H297.0Z"/><clipPath id="k332"><path d="M0 188.0H314V192.0H0ZM0 242.0H314V248.0H0ZM0 274.0H314V280.0H0ZM0 297.0H314V302.0H0Z"/></clipPath><path clip-path="url(#k332)" fill="#d2f0f4" d="M174.0 0H178.0V314H174.0ZM217.0 0H219.0V314H217.0ZM230.0 0H236.0V314H230.0ZM262.0 0H268.0V314H262.0ZM286.0 0H292.0V314H286.0Z"/><clipPath id="k333"><path d="M0 188.0H314V192.0H0ZM0 242.0H314V248.0H0ZM0 274.0H314V280.0H0ZM0 297.0H314V302.0H0Z"/></clipPath><path clip-path="url(#k333)" fill="#d2f0f4" d="M188.0 0H192.0V314H188.0ZM242.0 0H248.0V314H242.0ZM274.0 0H280.0V314H274.0ZM297.0 0H302.0V314H297.0Z"/><clipPath id="k334"><path d="M0 188.0H314V192.0H0ZM0 242.0H314V248.0H0ZM0 274.0H314V280.0H0ZM0 297.0H314V302.0H0Z"/></clipPath><path clip-path="url(#k334)" fill="#d2f0f4" d="M257.0 0H262.0V314H257.0ZM280.0 0H286.0V314H280.0Z"/><clipPath id="k335"><path d="M0 257.0H314V262.0H0ZM0 280.0H314V286.0H0Z"/></clipPath><path clip-path="url(#k335)" fill="#d2f0f4" d="M188.0 0H192.0V314H188.0ZM242.0 0H248.0V314H242.0ZM274.0 0H280.0V314H274.0ZM297.0 0H302.0V314H297.0Z"/><clipPath id="k336"><path d="M0 2.0H314V18.0H0Z"/></clipPath><path clip-path="url(#k336)" fill="#a8e6ec" d="M2.0 0H18.0V314H2.0Z"/><clipPath id="k337"><path d="M0 2.0H314V18.0H0Z"/></clipPath><path clip-path="url(#k337)" fill="#a8e6ec" d="M24.0 0H28.0V314H24.0ZM34.0 0H40.0V314H34.0ZM47.0 0H52.0V314H47.0ZM56.0 0H62.0V314H56.0ZM70.0 0H74.0V314H70.0Z"/><clipPath id="k338"><path d="M0 24.0H314V28.0H0ZM0 34.0H314V40.0H0ZM0 47.0H314V52.0H0ZM0 56.0H314V62.0H0ZM0 70.0H314V74.0H0Z"/></clipPath><path clip-path="url(#k338)" fill="#a8e6ec" d="M2.0 0H18.0V314H2.0Z"/><clipPath id="k339"><path d="M0 2.0H314V18.0H0Z"/></clipPath><path clip-path="url(#k339)" fill="#f2f8a0" d="M150.0 0H157.0V314H150.0Z"/><clipPath id="k340"><path d="M0 150.0H314V157.0H0Z"/></clipPath><path clip-path="url(#k340)" fill="#f2f8a0" d="M2.0 0H18.0V314H2.0Z"/><clipPath id="k341"><path d="M0 24.0H314V28.0H0ZM0 34.0H314V40.0H0ZM0 47.0H314V52.0H0ZM0 56.0H314V62.0H0ZM0 70.0H314V74.0H0Z"/></clipPath><path clip-path="url(#k341)" fill="#a8e6ec" d="M18.0 0H20.0V314H18.0ZM44.0 0H47.0V314H44.0ZM83.0 0H88.0V314H83.0ZM112.0 0H117.0V314H112.0ZM141.0 0H146.0V314H141.0Z"/><clipPath id="k342"><path d="M0 18.0H314V20.0H0ZM0 44.0H314V47.0H0ZM0 83.0H314V88.0H0ZM0 112.0H314V117.0H0ZM0 141.0H314V146.0H0Z"/></clipPath><path clip-path="url(#k342)" fill="#a8e6ec" d="M24.0 0H28.0V314H24.0ZM34.0 0H40.0V314H34.0ZM47.0 0H52.0V314H47.0ZM56.0 0H62.0V314H56.0ZM70.0 0H74.0V314H70.0Z"/><clipPath id="k343"><path d="M0 18.0H314V20.0H0ZM0 44.0H314V47.0H0ZM0 83.0H314V88.0H0ZM0 112.0H314V117.0H0ZM0 141.0H314V146.0H0Z"/></clipPath><path clip-path="url(#k343)" fill="#a8e6ec" d="M18.0 0H20.0V314H18.0ZM44.0 0H47.0V314H44.0ZM83.0 0H88.0V314H83.0ZM112.0 0H117.0V314H112.0ZM141.0 0H146.0V314H141.0Z"/><clipPath id="k344"><path d="M0 18.0H314V20.0H0ZM0 44.0H314V47.0H0ZM0 83.0H314V88.0H0ZM0 112.0H314V117.0H0ZM0 141.0H314V146.0H0Z"/></clipPath><path clip-path="url(#k344)" fill="#f2f8a0" d="M78.0 0H83.0V314H78.0ZM106.0 0H112.0V314H106.0ZM136.0 0H141.0V314H136.0Z"/><clipPath id="k345"><path d="M0 78.0H314V83.0H0ZM0 106.0H314V112.0H0ZM0 136.0H314V141.0H0Z"/></clipPath><path clip-path="url(#k345)" fill="#f2f8a0" d="M18.0 0H20.0V314H18.0ZM44.0 0H47.0V314H44.0ZM83.0 0H88.0V314H83.0ZM112.0 0H117.0V314H112.0ZM141.0 0H146.0V314H141.0Z"/><clipPath id="k346"><path d="M0 78.0H314V83.0H0ZM0 106.0H314V112.0H0ZM0 136.0H314V141.0H0Z"/></clipPath><path clip-path="url(#k346)" fill="#f2f8a0" d="M94.0 0H100.0V314H94.0ZM117.0 0H122.0V314H117.0ZM146.0 0H150.0V314H146.0Z"/><clipPath id="k347"><path d="M0 94.0H314V100.0H0ZM0 117.0H314V122.0H0ZM0 146.0H314V150.0H0Z"/></clipPath><path clip-path="url(#k347)" fill="#f2f8a0" d="M78.0 0H83.0V314H78.0ZM106.0 0H112.0V314H106.0ZM136.0 0H141.0V314H136.0Z"/><clipPath id="k348"><path d="M0 157.0H314V174.0H0Z"/></clipPath><path clip-path="url(#k348)" fill="#a8e6ec" d="M157.0 0H174.0V314H157.0Z"/><clipPath id="k349"><path d="M0 157.0H314V174.0H0Z"/></clipPath><path clip-path="url(#k349)" fill="#a8e6ec" d="M182.0 0H188.0V314H182.0ZM196.0 0H204.0V314H196.0ZM208.0 0H213.0V314H208.0ZM224.0 0H230.0V314H224.0Z"/><clipPath id="k350"><path d="M0 182.0H314V188.0H0ZM0 196.0H314V204.0H0ZM0 208.0H314V213.0H0ZM0 224.0H314V230.0H0Z"/></clipPath><path clip-path="url(#k350)" fill="#a8e6ec" d="M157.0 0H174.0V314H157.0Z"/><clipPath id="k351"><path d="M0 182.0H314V188.0H0ZM0 196.0H314V204.0H0ZM0 208.0H314V213.0H0ZM0 224.0H314V230.0H0Z"/></clipPath><path clip-path="url(#k351)" fill="#a8e6ec" d="M174.0 0H178.0V314H174.0ZM217.0 0H219.0V314H217.0ZM230.0 0H236.0V314H230.0ZM262.0 0H268.0V314H262.0ZM286.0 0H292.0V314H286.0Z"/><clipPath id="k352"><path d="M0 174.0H314V178.0H0ZM0 217.0H314V219.0H0ZM0 230.0H314V236.0H0ZM0 262.0H314V268.0H0ZM0 286.0H314V292.0H0Z"/></clipPath><path clip-path="url(#k352)" fill="#a8e6ec" d="M182.0 0H188.0V314H182.0ZM196.0 0H204.0V314H196.0ZM208.0 0H213.0V314H208.0ZM224.0 0H230.0V314H224.0Z"/><clipPath id="k353"><path d="M0 174.0H314V178.0H0ZM0 217.0H314V219.0H0ZM0 230.0H314V236.0H0ZM0 262.0H314V268.0H0ZM0 286.0H314V292.0H0Z"/></clipPath><path clip-path="url(#k353)" fill="#a8e6ec" d="M174.0 0H178.0V314H174.0ZM217.0 0H219.0V314H217.0ZM230.0 0H236.0V314H230.0ZM262.0 0H268.0V314H262.0ZM286.0 0H292.0V314H286.0Z"/><clipPath id="k354"><path d="M0 174.0H314V178.0H0ZM0 217.0H314V219.0H0ZM0 230.0H314V236.0H0ZM0 262.0H314V268.0H0ZM0 286.0H314V292.0H0Z"/></clipPath><path clip-path="url(#k354)" fill="#f2f8a0" d="M236.0 0H242.0V314H236.0ZM268.0 0H274.0V314H268.0ZM292.0 0H297.0V314H292.0Z"/><clipPath id="k355"><path d="M0 236.0H314V242.0H0ZM0 268.0H314V274.0H0ZM0 292.0H314V297.0H0Z"/></clipPath><path clip-path="url(#k355)" fill="#f2f8a0" d="M174.0 0H178.0V314H174.0ZM217.0 0H219.0V314H217.0ZM230.0 0H236.0V314H230.0ZM262.0 0H268.0V314H262.0ZM286.0 0H292.0V314H286.0Z"/><clipPath id="k356"><path d="M0 236.0H314V242.0H0ZM0 268.0H314V274.0H0ZM0 292.0H314V297.0H0Z"/></clipPath><path clip-path="url(#k356)" fill="#f2f8a0" d="M257.0 0H262.0V314H257.0ZM280.0 0H286.0V314H280.0Z"/><clipPath id="k357"><path d="M0 257.0H314V262.0H0ZM0 280.0H314V286.0H0Z"/></clipPath><path clip-path="url(#k357)" fill="#f2f8a0" d="M236.0 0H242.0V314H236.0ZM268.0 0H274.0V314H268.0ZM292.0 0H297.0V314H292.0Z"/><clipPath id="k358"><path d="M0 20.0H314V24.0H0ZM0 31.0H314V34.0H0ZM0 40.0H314V44.0H0ZM0 52.0H314V56.0H0ZM0 88.0H314V94.0H0ZM0 129.0H314V136.0H0Z"/></clipPath><path clip-path="url(#k358)" fill="#56cfd6" d="M66.0 0H70.0V314H66.0Z"/><clipPath id="k359"><path d="M0 66.0H314V70.0H0Z"/></clipPath><path clip-path="url(#k359)" fill="#56cfd6" d="M20.0 0H24.0V314H20.0ZM31.0 0H34.0V314H31.0ZM40.0 0H44.0V314H40.0ZM52.0 0H56.0V314H52.0ZM88.0 0H94.0V314H88.0ZM129.0 0H136.0V314H129.0Z"/><clipPath id="k360"><path d="M0 20.0H314V24.0H0ZM0 31.0H314V34.0H0ZM0 40.0H314V44.0H0ZM0 52.0H314V56.0H0ZM0 88.0H314V94.0H0ZM0 129.0H314V136.0H0Z"/></clipPath><path clip-path="url(#k360)" fill="#56cfd6" d="M28.0 0H31.0V314H28.0ZM62.0 0H66.0V314H62.0ZM100.0 0H106.0V314H100.0ZM122.0 0H129.0V314H122.0Z"/><clipPath id="k361"><path d="M0 28.0H314V31.0H0ZM0 62.0H314V66.0H0ZM0 100.0H314V106.0H0ZM0 122.0H314V129.0H0Z"/></clipPath><path clip-path="url(#k361)" fill="#56cfd6" d="M20.0 0H24.0V314H20.0ZM31.0 0H34.0V314H31.0ZM40.0 0H44.0V314H40.0ZM52.0 0H56.0V314H52.0ZM88.0 0H94.0V314H88.0ZM129.0 0H136.0V314H129.0Z"/><clipPath id="k362"><path d="M0 24.0H314V28.0H0ZM0 34.0H314V40.0H0ZM0 47.0H314V52.0H0ZM0 56.0H314V62.0H0ZM0 70.0H314V74.0H0Z"/></clipPath><path clip-path="url(#k362)" fill="#56cfd6" d="M66.0 0H70.0V314H66.0Z"/><clipPath id="k363"><path d="M0 66.0H314V70.0H0Z"/></clipPath><path clip-path="url(#k363)" fill="#56cfd6" d="M24.0 0H28.0V314H24.0ZM34.0 0H40.0V314H34.0ZM47.0 0H52.0V314H47.0ZM56.0 0H62.0V314H56.0ZM70.0 0H74.0V314H70.0Z"/><clipPath id="k364"><path d="M0 66.0H314V70.0H0Z"/></clipPath><path clip-path="url(#k364)" fill="#56cfd6" d="M66.0 0H70.0V314H66.0Z"/><clipPath id="k365"><path d="M0 150.0H314V157.0H0Z"/></clipPath><path clip-path="url(#k365)" fill="#e8f044" d="M150.0 0H157.0V314H150.0Z"/><clipPath id="k366"><path d="M0 78.0H314V83.0H0ZM0 106.0H314V112.0H0ZM0 136.0H314V141.0H0Z"/></clipPath><path clip-path="url(#k366)" fill="#e8f044" d="M78.0 0H83.0V314H78.0ZM106.0 0H112.0V314H106.0ZM136.0 0H141.0V314H136.0Z"/><clipPath id="k367"><path d="M0 178.0H314V182.0H0ZM0 192.0H314V196.0H0ZM0 213.0H314V217.0H0ZM0 250.0H314V257.0H0ZM0 302.0H314V311.0H0Z"/></clipPath><path clip-path="url(#k367)" fill="#56cfd6" d="M219.0 0H224.0V314H219.0Z"/><clipPath id="k368"><path d="M0 219.0H314V224.0H0Z"/></clipPath><path clip-path="url(#k368)" fill="#56cfd6" d="M178.0 0H182.0V314H178.0ZM192.0 0H196.0V314H192.0ZM213.0 0H217.0V314H213.0ZM250.0 0H257.0V314H250.0ZM302.0 0H311.0V314H302.0Z"/><clipPath id="k369"><path d="M0 178.0H314V182.0H0ZM0 192.0H314V196.0H0ZM0 213.0H314V217.0H0ZM0 250.0H314V257.0H0ZM0 302.0H314V311.0H0Z"/></clipPath><path clip-path="url(#k369)" fill="#56cfd6" d="M188.0 0H192.0V314H188.0ZM242.0 0H248.0V314H242.0ZM274.0 0H280.0V314H274.0ZM297.0 0H302.0V314H297.0Z"/><clipPath id="k370"><path d="M0 188.0H314V192.0H0ZM0 242.0H314V248.0H0ZM0 274.0H314V280.0H0ZM0 297.0H314V302.0H0Z"/></clipPath><path clip-path="url(#k370)" fill="#56cfd6" d="M178.0 0H182.0V314H178.0ZM192.0 0H196.0V314H192.0ZM213.0 0H217.0V314H213.0ZM250.0 0H257.0V314H250.0ZM302.0 0H311.0V314H302.0Z"/><clipPath id="k371"><path d="M0 182.0H314V188.0H0ZM0 196.0H314V204.0H0ZM0 208.0H314V213.0H0ZM0 224.0H314V230.0H0Z"/></clipPath><path clip-path="url(#k371)" fill="#56cfd6" d="M219.0 0H224.0V314H219.0Z"/><clipPath id="k372"><path d="M0 219.0H314V224.0H0Z"/></clipPath><path clip-path="url(#k372)" fill="#56cfd6" d="M182.0 0H188.0V314H182.0ZM196.0 0H204.0V314H196.0ZM208.0 0H213.0V314H208.0ZM224.0 0H230.0V314H224.0Z"/><clipPath id="k373"><path d="M0 219.0H314V224.0H0Z"/></clipPath><path clip-path="url(#k373)" fill="#56cfd6" d="M219.0 0H224.0V314H219.0Z"/><clipPath id="k374"><path d="M0 236.0H314V242.0H0ZM0 268.0H314V274.0H0ZM0 292.0H314V297.0H0Z"/></clipPath><path clip-path="url(#k374)" fill="#e8f044" d="M236.0 0H242.0V314H236.0ZM268.0 0H274.0V314H268.0ZM292.0 0H297.0V314H292.0Z"/><clipPath id="k375"><path d="M0 24.0H314V28.0H0ZM0 34.0H314V40.0H0ZM0 47.0H314V52.0H0ZM0 56.0H314V62.0H0ZM0 70.0H314V74.0H0Z"/></clipPath><path clip-path="url(#k375)" fill="#4aa8dc" d="M24.0 0H28.0V314H24.0ZM34.0 0H40.0V314H34.0ZM47.0 0H52.0V314H47.0ZM56.0 0H62.0V314H56.0ZM70.0 0H74.0V314H70.0Z"/><clipPath id="k376"><path d="M0 182.0H314V188.0H0ZM0 196.0H314V204.0H0ZM0 208.0H314V213.0H0ZM0 224.0H314V230.0H0Z"/></clipPath><path clip-path="url(#k376)" fill="#4aa8dc" d="M182.0 0H188.0V314H182.0ZM196.0 0H204.0V314H196.0ZM208.0 0H213.0V314H208.0ZM224.0 0H230.0V314H224.0Z"/><clipPath id="k377"><path d="M0 20.0H314V24.0H0ZM0 31.0H314V34.0H0ZM0 40.0H314V44.0H0ZM0 52.0H314V56.0H0ZM0 88.0H314V94.0H0ZM0 129.0H314V136.0H0Z"/></clipPath><path clip-path="url(#k377)" fill="#ee8a34" d="M74.0 0H78.0V314H74.0Z"/><clipPath id="k378"><path d="M0 74.0H314V78.0H0Z"/></clipPath><path clip-path="url(#k378)" fill="#ee8a34" d="M20.0 0H24.0V314H20.0ZM31.0 0H34.0V314H31.0ZM40.0 0H44.0V314H40.0ZM52.0 0H56.0V314H52.0ZM88.0 0H94.0V314H88.0ZM129.0 0H136.0V314H129.0Z"/><clipPath id="k379"><path d="M0 74.0H314V78.0H0Z"/></clipPath><path clip-path="url(#k379)" fill="#ee8a34" d="M74.0 0H78.0V314H74.0Z"/><clipPath id="k380"><path d="M0 94.0H314V100.0H0ZM0 117.0H314V122.0H0ZM0 146.0H314V150.0H0Z"/></clipPath><path clip-path="url(#k380)" fill="#ee8a34" d="M94.0 0H100.0V314H94.0ZM117.0 0H122.0V314H117.0ZM146.0 0H150.0V314H146.0Z"/><clipPath id="k381"><path d="M0 178.0H314V182.0H0ZM0 192.0H314V196.0H0ZM0 213.0H314V217.0H0ZM0 250.0H314V257.0H0ZM0 302.0H314V311.0H0Z"/></clipPath><path clip-path="url(#k381)" fill="#ee8a34" d="M204.0 0H208.0V314H204.0Z"/><clipPath id="k382"><path d="M0 204.0H314V208.0H0Z"/></clipPath><path clip-path="url(#k382)" fill="#ee8a34" d="M178.0 0H182.0V314H178.0ZM192.0 0H196.0V314H192.0ZM213.0 0H217.0V314H213.0ZM250.0 0H257.0V314H250.0ZM302.0 0H311.0V314H302.0Z"/><clipPath id="k383"><path d="M0 204.0H314V208.0H0Z"/></clipPath><path clip-path="url(#k383)" fill="#ee8a34" d="M204.0 0H208.0V314H204.0Z"/><clipPath id="k384"><path d="M0 257.0H314V262.0H0ZM0 280.0H314V286.0H0Z"/></clipPath><path clip-path="url(#k384)" fill="#ee8a34" d="M257.0 0H262.0V314H257.0ZM280.0 0H286.0V314H280.0Z"/><clipPath id="k385"><path d="M0 2.0H314V18.0H0Z"/></clipPath><path clip-path="url(#k385)" fill="#3a6cb8" d="M20.0 0H24.0V314H20.0ZM31.0 0H34.0V314H31.0ZM40.0 0H44.0V314H40.0ZM52.0 0H56.0V314H52.0ZM88.0 0H94.0V314H88.0ZM129.0 0H136.0V314H129.0Z"/><clipPath id="k386"><path d="M0 20.0H314V24.0H0ZM0 31.0H314V34.0H0ZM0 40.0H314V44.0H0ZM0 52.0H314V56.0H0ZM0 88.0H314V94.0H0ZM0 129.0H314V136.0H0Z"/></clipPath><path clip-path="url(#k386)" fill="#3a6cb8" d="M2.0 0H18.0V314H2.0Z"/><clipPath id="k387"><path d="M0 20.0H314V24.0H0ZM0 31.0H314V34.0H0ZM0 40.0H314V44.0H0ZM0 52.0H314V56.0H0ZM0 88.0H314V94.0H0ZM0 129.0H314V136.0H0Z"/></clipPath><path clip-path="url(#k387)" fill="#3a6cb8" d="M24.0 0H28.0V314H24.0ZM34.0 0H40.0V314H34.0ZM47.0 0H52.0V314H47.0ZM56.0 0H62.0V314H56.0ZM70.0 0H74.0V314H70.0Z"/><clipPath id="k388"><path d="M0 24.0H314V28.0H0ZM0 34.0H314V40.0H0ZM0 47.0H314V52.0H0ZM0 56.0H314V62.0H0ZM0 70.0H314V74.0H0Z"/></clipPath><path clip-path="url(#k388)" fill="#3a6cb8" d="M20.0 0H24.0V314H20.0ZM31.0 0H34.0V314H31.0ZM40.0 0H44.0V314H40.0ZM52.0 0H56.0V314H52.0ZM88.0 0H94.0V314H88.0ZM129.0 0H136.0V314H129.0Z"/><clipPath id="k389"><path d="M0 157.0H314V174.0H0Z"/></clipPath><path clip-path="url(#k389)" fill="#3a6cb8" d="M178.0 0H182.0V314H178.0ZM192.0 0H196.0V314H192.0ZM213.0 0H217.0V314H213.0ZM250.0 0H257.0V314H250.0ZM302.0 0H311.0V314H302.0Z"/><clipPath id="k390"><path d="M0 178.0H314V182.0H0ZM0 192.0H314V196.0H0ZM0 213.0H314V217.0H0ZM0 250.0H314V257.0H0ZM0 302.0H314V311.0H0Z"/></clipPath><path clip-path="url(#k390)" fill="#3a6cb8" d="M157.0 0H174.0V314H157.0Z"/><clipPath id="k391"><path d="M0 178.0H314V182.0H0ZM0 192.0H314V196.0H0ZM0 213.0H314V217.0H0ZM0 250.0H314V257.0H0ZM0 302.0H314V311.0H0Z"/></clipPath><path clip-path="url(#k391)" fill="#3a6cb8" d="M182.0 0H188.0V314H182.0ZM196.0 0H204.0V314H196.0ZM208.0 0H213.0V314H208.0ZM224.0 0H230.0V314H224.0Z"/><clipPath id="k392"><path d="M0 182.0H314V188.0H0ZM0 196.0H314V204.0H0ZM0 208.0H314V213.0H0ZM0 224.0H314V230.0H0Z"/></clipPath><path clip-path="url(#k392)" fill="#3a6cb8" d="M178.0 0H182.0V314H178.0ZM192.0 0H196.0V314H192.0ZM213.0 0H217.0V314H213.0ZM250.0 0H257.0V314H250.0ZM302.0 0H311.0V314H302.0Z"/><clipPath id="k393"><path d="M0 20.0H314V24.0H0ZM0 31.0H314V34.0H0ZM0 40.0H314V44.0H0ZM0 52.0H314V56.0H0ZM0 88.0H314V94.0H0ZM0 129.0H314V136.0H0Z"/></clipPath><path clip-path="url(#k393)" fill="#3450a0" d="M20.0 0H24.0V314H20.0ZM31.0 0H34.0V314H31.0ZM40.0 0H44.0V314H40.0ZM52.0 0H56.0V314H52.0ZM88.0 0H94.0V314H88.0ZM129.0 0H136.0V314H129.0Z"/><clipPath id="k394"><path d="M0 178.0H314V182.0H0ZM0 192.0H314V196.0H0ZM0 213.0H314V217.0H0ZM0 250.0H314V257.0H0ZM0 302.0H314V311.0H0Z"/></clipPath><path clip-path="url(#k394)" fill="#3450a0" d="M178.0 0H182.0V314H178.0ZM192.0 0H196.0V314H192.0ZM213.0 0H217.0V314H213.0ZM250.0 0H257.0V314H250.0ZM302.0 0H311.0V314H302.0Z"/><rect x="273.0" y="112.0" width="7.0" height="5.0" fill="#f23c28"/><rect x="112.0" y="273.0" width="5.0" height="7.0" fill="#f23c28"/><rect x="283.0" y="120.0" width="6.0" height="6.0" fill="#f23c28"/><rect x="120.0" y="283.0" width="6.0" height="6.0" fill="#f23c28"/><rect x="273.0" y="120.0" width="7.0" height="6.0" fill="#ee8a34"/><rect x="120.0" y="273.0" width="6.0" height="7.0" fill="#ee8a34"/><rect x="283.0" y="112.0" width="6.0" height="5.0" fill="#f05a2c"/><rect x="112.0" y="283.0" width="5.0" height="6.0" fill="#f05a2c"/><rect x="262.0" y="112.0" width="4.0" height="14.0" fill="#56cfd6"/><rect x="112.0" y="262.0" width="14.0" height="4.0" fill="#56cfd6"/><rect x="272.0" y="17.0" width="6.0" height="5.0" fill="#4aa8dc"/><rect x="17.0" y="272.0" width="5.0" height="6.0" fill="#4aa8dc"/><rect x="272.0" y="26.0" width="6.0" height="7.0" fill="#3a6cb8"/><rect x="26.0" y="272.0" width="7.0" height="6.0" fill="#3a6cb8"/><rect x="282.0" y="17.0" width="8.0" height="16.0" fill="#4aa8dc"/><rect x="17.0" y="282.0" width="16.0" height="8.0" fill="#4aa8dc"/><rect x="245.0" y="17.0" width="5.0" height="16.0" fill="#56cfd6"/><rect x="17.0" y="245.0" width="16.0" height="5.0" fill="#56cfd6"/><rect x="258.0" y="60.0" width="4.0" height="6.0" fill="#56cfd6"/><rect x="60.0" y="258.0" width="6.0" height="4.0" fill="#56cfd6"/><rect x="296.0" y="74.0" width="4.0" height="5.0" fill="#56cfd6"/><rect x="74.0" y="296.0" width="5.0" height="4.0" fill="#56cfd6"/><rect x="246.0" y="100.0" width="6.0" height="4.0" fill="#56cfd6"/><rect x="100.0" y="246.0" width="4.0" height="6.0" fill="#56cfd6"/><rect x="240.0" y="136.0" width="6.0" height="6.0" fill="#a8e6ec"/><rect x="136.0" y="240.0" width="6.0" height="6.0" fill="#a8e6ec"/></g>
<g transform="translate(1606.0 46.0)"><rect x="3.45" y="3.45" width="17.20" height="17.20" fill="#9a9a9a"/><rect x="3.45" y="3.45" width="8.40" height="8.40" fill="#333333"/><rect x="11.85" y="11.85" width="8.80" height="8.80" fill="#333333"/><rect x="20.65" y="20.65" width="27.40" height="27.40" fill="#9a9a9a"/><rect x="20.65" y="20.65" width="15.20" height="15.20" fill="#333333"/><rect x="35.85" y="35.85" width="12.20" height="12.20" fill="#333333"/><rect x="48.05" y="48.05" width="20.85" height="20.85" fill="#9a9a9a"/><rect x="48.05" y="48.05" width="10.50" height="10.50" fill="#333333"/><rect x="58.55" y="58.55" width="10.35" height="10.35" fill="#333333"/><rect x="68.90" y="68.90" width="17.95" height="17.95" fill="#9a9a9a"/><rect x="68.90" y="68.90" width="11.55" height="11.55" fill="#333333"/><rect x="80.45" y="80.45" width="6.40" height="6.40" fill="#333333"/><rect x="86.85" y="86.85" width="9.55" height="9.55" fill="#333333"/><rect x="96.40" y="96.40" width="21.05" height="21.05" fill="#9a9a9a"/><rect x="96.40" y="96.40" width="9.75" height="9.75" fill="#333333"/><rect x="106.15" y="106.15" width="8.40" height="8.40" fill="#333333"/><rect x="114.55" y="114.55" width="2.90" height="2.90" fill="#333333"/><rect x="117.45" y="117.45" width="36.40" height="36.40" fill="#9a9a9a"/><rect x="117.45" y="117.45" width="14.50" height="14.50" fill="#333333"/><rect x="131.95" y="131.95" width="16.30" height="16.30" fill="#333333"/><rect x="148.25" y="148.25" width="5.60" height="5.60" fill="#333333"/><rect x="153.85" y="153.85" width="3.25" height="3.25" fill="#333333"/><rect x="157.10" y="3.45" width="17.70" height="17.20" fill="#9a9a9a"/><rect x="157.10" y="3.45" width="8.75" height="8.40" fill="#333333"/><rect x="165.85" y="11.85" width="8.95" height="8.80" fill="#333333"/><rect x="174.80" y="20.65" width="27.45" height="27.40" fill="#9a9a9a"/><rect x="174.80" y="20.65" width="15.95" height="15.20" fill="#333333"/><rect x="190.75" y="35.85" width="11.50" height="12.20" fill="#333333"/><rect x="202.25" y="48.05" width="20.65" height="20.85" fill="#9a9a9a"/><rect x="202.25" y="48.05" width="11.20" height="10.50" fill="#333333"/><rect x="213.45" y="58.55" width="9.45" height="10.35" fill="#333333"/><rect x="222.90" y="68.90" width="21.15" height="17.95" fill="#9a9a9a"/><rect x="222.90" y="68.90" width="14.65" height="11.55" fill="#333333"/><rect x="237.55" y="80.45" width="6.50" height="6.40" fill="#333333"/><rect x="244.05" y="86.85" width="10.15" height="9.55" fill="#333333"/><rect x="254.20" y="96.40" width="25.30" height="21.05" fill="#9a9a9a"/><rect x="254.20" y="96.40" width="8.15" height="9.75" fill="#333333"/><rect x="262.35" y="106.15" width="11.90" height="8.40" fill="#333333"/><rect x="274.25" y="114.55" width="5.25" height="2.90" fill="#333333"/><rect x="279.50" y="117.45" width="25.15" height="36.40" fill="#9a9a9a"/><rect x="279.50" y="117.45" width="12.65" height="14.50" fill="#333333"/><rect x="292.15" y="131.95" width="8.70" height="16.30" fill="#333333"/><rect x="300.85" y="148.25" width="3.80" height="5.60" fill="#333333"/><rect x="304.65" y="153.85" width="7.65" height="3.25" fill="#333333"/><rect x="3.45" y="157.10" width="17.20" height="17.70" fill="#9a9a9a"/><rect x="3.45" y="157.10" width="8.40" height="8.75" fill="#333333"/><rect x="11.85" y="165.85" width="8.80" height="8.95" fill="#333333"/><rect x="20.65" y="174.80" width="27.40" height="27.45" fill="#9a9a9a"/><rect x="20.65" y="174.80" width="15.20" height="15.95" fill="#333333"/><rect x="35.85" y="190.75" width="12.20" height="11.50" fill="#333333"/><rect x="48.05" y="202.25" width="20.85" height="20.65" fill="#9a9a9a"/><rect x="48.05" y="202.25" width="10.50" height="11.20" fill="#333333"/><rect x="58.55" y="213.45" width="10.35" height="9.45" fill="#333333"/><rect x="68.90" y="222.90" width="17.95" height="21.15" fill="#9a9a9a"/><rect x="68.90" y="222.90" width="11.55" height="14.65" fill="#333333"/><rect x="80.45" y="237.55" width="6.40" height="6.50" fill="#333333"/><rect x="86.85" y="244.05" width="9.55" height="10.15" fill="#333333"/><rect x="96.40" y="254.20" width="21.05" height="25.30" fill="#9a9a9a"/><rect x="96.40" y="254.20" width="9.75" height="8.15" fill="#333333"/><rect x="106.15" y="262.35" width="8.40" height="11.90" fill="#333333"/><rect x="114.55" y="274.25" width="2.90" height="5.25" fill="#333333"/><rect x="117.45" y="279.50" width="36.40" height="25.15" fill="#9a9a9a"/><rect x="117.45" y="279.50" width="14.50" height="12.65" fill="#333333"/><rect x="131.95" y="292.15" width="16.30" height="8.70" fill="#333333"/><rect x="148.25" y="300.85" width="5.60" height="3.80" fill="#333333"/><rect x="153.85" y="304.65" width="3.25" height="7.65" fill="#333333"/><rect x="157.10" y="157.10" width="17.70" height="17.70" fill="#9a9a9a"/><rect x="157.10" y="157.10" width="8.75" height="8.75" fill="#333333"/><rect x="165.85" y="165.85" width="8.95" height="8.95" fill="#333333"/><rect x="174.80" y="174.80" width="27.45" height="27.45" fill="#9a9a9a"/><rect x="174.80" y="174.80" width="15.95" height="15.95" fill="#333333"/><rect x="190.75" y="190.75" width="11.50" height="11.50" fill="#333333"/><rect x="202.25" y="202.25" width="20.65" height="20.65" fill="#9a9a9a"/><rect x="202.25" y="202.25" width="11.20" height="11.20" fill="#333333"/><rect x="213.45" y="213.45" width="9.45" height="9.45" fill="#333333"/><rect x="222.90" y="222.90" width="21.15" height="21.15" fill="#9a9a9a"/><rect x="222.90" y="222.90" width="14.65" height="14.65" fill="#333333"/><rect x="237.55" y="237.55" width="6.50" height="6.50" fill="#333333"/><rect x="244.05" y="244.05" width="10.15" height="10.15" fill="#333333"/><rect x="254.20" y="254.20" width="25.30" height="25.30" fill="#9a9a9a"/><rect x="254.20" y="254.20" width="8.15" height="8.15" fill="#333333"/><rect x="262.35" y="262.35" width="11.90" height="11.90" fill="#333333"/><rect x="274.25" y="274.25" width="5.25" height="5.25" fill="#333333"/><rect x="279.50" y="279.50" width="25.15" height="25.15" fill="#9a9a9a"/><rect x="279.50" y="279.50" width="12.65" height="12.65" fill="#333333"/><rect x="292.15" y="292.15" width="8.70" height="8.70" fill="#333333"/><rect x="300.85" y="300.85" width="3.80" height="3.80" fill="#333333"/><rect x="304.65" y="304.65" width="7.65" height="7.65" fill="#333333"/><path d="M2 2L157 157M157 157L312 312" stroke="#fff" stroke-width="0.9" opacity="0.85"/></g>
<g stroke="#ee2a22" stroke-width="1.8" stroke-dasharray="4.6 3.2" fill="none"><path d="M239.0 47.0V359.0"/><path d="M83.0 203.0H395.0"/></g><rect x="83.0" y="47.0" width="312" height="312" fill="none" stroke="#000" stroke-width="2.0"/>
<g stroke="#ee2a22" stroke-width="1.8" stroke-dasharray="4.6 3.2" fill="none"><path d="M731.0 47.0V359.0"/><path d="M575.0 203.0H887.0"/></g><rect x="575.0" y="47.0" width="312" height="312" fill="none" stroke="#000" stroke-width="2.0"/>
<g stroke="#ee2a22" stroke-width="1.8" stroke-dasharray="4.6 3.2" fill="none"><path d="M1271.5 47.0V359.0"/><path d="M1115.5 203.0H1427.5"/></g><rect x="1115.5" y="47.0" width="312" height="312" fill="none" stroke="#000" stroke-width="2.0"/>
<g stroke="#ee2a22" stroke-width="1.8" stroke-dasharray="4.6 3.2" fill="none"><path d="M1763.0 47.0V359.0"/><path d="M1607.0 203.0H1919.0"/></g><rect x="1606.8" y="46.9" width="312" height="312" fill="none" stroke="#000" stroke-width="1.7"/>
<defs><radialGradient id="shade" cx="0.45" cy="0.35" r="0.7"><stop offset="0" stop-color="#fff" stop-opacity="0.08"/><stop offset="0.55" stop-color="#fff" stop-opacity="0"/><stop offset="0.85" stop-color="#000" stop-opacity="0.10"/><stop offset="1" stop-color="#000" stop-opacity="0.28"/></radialGradient></defs>
<g><path d="M59.9 576.5l0.2-2.8 0.4-3.2 0.4-3.3 0.6-3.5 0.7-3.6 0.9-3.4 1-3.2 1.2-3 1.4-2.7 1.5-2.6 1.8-2.5 1.8-2.4 2.1-2.2 2.1-2.2 2.3-1.9 2.3-1.9 2.5-1.7 2.7-1.5 2.9-1.3 2.9-1.2 3-1.2 3.1-1.1 3-1 2.9-1.1 2.9-1.1 2.9-1 2.9-1 2.8-1 2.9-0.9 2.9-0.8 2.8-0.7 2.8-0.7 2.8-0.6 2.9-0.5 2.8-0.4 2.9-0.4 2.7-0.2 2.6-0.3 2.5-0.1 2.2-0.1 2 0 1.9 0.2 1.7 0.3 1.5 0.4 1.4 0.3 1.4 0.3 1.2 0.3 1.2 0 1-0.1 0.8-0.4 0.6-0.4 0.6-0.5 0.5-0.4 0.7-0.4 0.8-0.3 1.1 0 1.3 0.1 1.6 0.3 1.6 0.3 1.8 0.5 1.8 0.5 1.9 0.6 1.9 0.7 1.8 0.8 1.8 0.9 1.9 0.9 2 1.1 1.9 1.1 2 1.2 1.9 1.2 2 1.4 1.9 1.4 1.9 1.5 2 1.5 2 1.6 1.9 1.6 2 1.8 1.9 1.8 1.8 2 1.8 2 1.7 2.2 1.7 2.4 1.6 2.4 1.6 2.6 1.5 2.6 1.4 2.6 1.4 2.6 1.3 2.4 1.2 2.4 1.3 2.3 1.1 2.3 1.1 2.3 1 2.3 0.8 2.2 0.7 2.3 0.5 2.3 0.3 2.4 0.2 2.4 0 2.5 -0.2 2.5 -0.2 2.4 -0.4 2.3 -0.6 2 -0.7 1.9 -0.8 1.6 -0.9 1.5 -1.1 1.2 -1.2 1.2 -1.4 1 -1.6 0.9 -1.7 0.9 -2 0.8 -2.3 0.7 -2.6 0.6 -2.8 0.4 -3 0.4 -3.1 0.3 -3.1 0.4 -3 0.3 -3 0.5 -2.9 0.5 -3 0.6 -3.1 0.5 -3 0.6 -3 0.6 -2.9 0.6 -2.6 0.6 -2.5 0.6 -2.2 0.6 -1.9 0.5 -1.8 0.6 -1.6 0.5 -1.6 0.6 -1.6 0.7 -1.7 0.7 -1.8 0.9 -1.9 1 -2 1.2 -2 1.3 -2 1.3 -2.1 1.4 -2.1 1.3 -2.1 1.2 -2.2 1 -2.2 0.9 -2.4 1 -2.4 0.9 -2.4 0.8 -2.4 0.7 -2.3 0.5 -2.2 0.4 -2 0.2 -1.9 0 -1.8-0.3 -1.7-0.4 -1.7-0.5 -1.5-0.7 -1.4-0.7 -1.2-0.9 -1.1-0.9 -0.9-1.1 -0.6-1.2 -0.4-1.5 -0.4-1.4 -0.2-1.5 -0.3-1.5 -0.3-1.3 -0.5-1.2 -0.5-1 -0.4-1 -0.5-0.9 -0.4-0.8 -0.6-0.7 -0.7-0.7 -0.8-0.5 -1.1-0.5 -1.3-0.3 -1.6-0.1 -1.7 0.1 -1.9 0.1 -2 0.1 -1.9 0 -2-0.1 -1.9-0.3 -1.9-0.5 -2-0.5 -2-0.6 -2-0.8 -1.9-0.8 -2-0.9 -1.8-1 -1.7-1.1 -1.6-1.2 -1.6-1.3 -1.6-1.5 -1.4-1.5 -1.4-1.6 -1.2-1.7 -1.1-1.7 -0.9-1.7 -0.7-1.7 -0.7-1.8 -0.4-1.7 -0.4-1.8 -0.2-2 -0.1-2 0.1-2.3z" fill="#3a3a3a" stroke="#2e2e2e" stroke-width="1"/><path d="M143.1 575.2l-4.9-2.1 -7.7 3 0.8 9.7 5 2.8 3.8-2.4 3.5-9.9zM140.1 586.2l12.2 1.8 1.6-7.7 -10.3-4zM172.6 603.7l-9.5-2.1 -3.3 2.6 -0.1 4.2 5.6 5.9 1.2-0.4 1.8-0.6 1.9-0.5 2.2-0.6 2.4-0.6zM165.4 591.2l12 2 3-3.9 -2.9-9.5 -4.5-2.4 -6.9 2.2 -0.8 11.5zM146.3 617.8l-3.4-9 -7.5-4 -7.6 9.9 6.6 15.2 0.4-0.1 2.4-0.9 2.4-1 2.2-0.9 2.2-1 1.4-0.8zM140.1 586.2l-3.8 2.4 0.8 4.6 13.4 4.9 2.7-8.2 -0.9-1.9zM144.5 550.9l-1.8-11 -13-3.3 0.7 11.7 10.3 4.7zM105.4 543.2l0.6 0.9 7.7 4.1 9.7-12.3 -10.3-6.7 -1.9 0.5zM198.3 562.1l-1.2-9.4 -10.2-1.4 -6.6 9.6 7.5 7.4 4.2-0.5zM158.7 573.6l4.5-9.1 -6.2-8.8 -1.6-0.6 -6.8 10.8 0.2 1.2zM117.2 613.2l-7.4-0.5 -2.9 3.1 0.2 0.5 0.5 1 0.5 1.2 0.3 1.3 0.3 1.5 0.2 1.5 0.4 1.4 0.4 1.5 0.6 1.2 0.9 1.1 1.1 0.9 1.2 0.9 1.4 0.7 1 0.5zM120.1 561.1l-5.3 7.6 0 0.2 6.7 4.5 5.3-0.3 3.1-10.3 -2.5-2.4zM159.7 608.4l-13.4 9.4 -0.9 7.4 0.7-0.4 2.1-1.3 2.1-1.4 2-1.3 2-1.3 2-1.2 1.9-1 1.8-0.9 1.7-0.7 1.6-0.7 1.6-0.6 0.4-0.1zM169.4 550.1l1.5-6.9 -0.5-0.7 -14.4 0.5 -2.6 9.5 2 2.6 1.6 0.6zM115.9 631l0.5 0.2 1.7 0.5 1.7 0.4 1.8 0.3 1.9 0 2-0.2 2.2-0.4 2.3-0.5 2.4-0.7 2-0.7 -6.6-15.2 -7.9-3.5 -2.7 2zM150.5 598.1l-13.4-4.9 -3.3 8.3 1.6 3.3 7.5 4 7.8-10zM118 586l-1.6 0.5 -1.3 13.5 4.8 2.8 4.5-2.4 0-12.4zM163.2 564.5l10.2-0.1 3.6-3.2 -7.6-11.1 -12.4 5.6zM152.3 588l0.9 1.9 12.1 1.2 0.8-11.5 -7-3.7 -5.2 4.4zM177.5 579.8l2.9 9.5 6.5-0.2 4.8-7.6 -5.8-6.9zM173 577.4l4.5 2.4 8.4-5.2 1.9-6.3 -7.5-7.4 -3.3 0.3 -3.6 3.2zM107.6 600.8l7.5-0.8 1.3-13.5 -6.3-1.7 -5.5 5.9zM166.1 579.6l6.9-2.2 0.4-13 -10.2 0.1 -4.5 9.1 0.4 2.3zM119.9 611.2l0-8.4 -4.8-2.8 -7.5 0.8 -2 2.3 4.2 9.6 7.4 0.5zM170.9 543.2l7.6-0.2 4.9-8.8 -9.7-6.1 -5.2 4.6 1.9 9.8zM127.8 614.7l7.6-9.9 -1.6-3.3 -9.4-1.1 -4.5 2.4 0 8.4zM121.5 573.4l-3.5 12.6 6.4 2 6.9-2.2 -0.8-9.7 -3.7-3zM165.4 591.2l-2.3 10.4 9.5 2.1 5.1-7.7 -0.3-2.8zM159.8 604.2l-9.1-5.4 -7.8 10 3.4 9 13.4-9.4zM180.3 560.9l6.6-9.6 -0.9-2.3 -7.5-6 -7.6 0.2 -1.5 6.9 7.6 11.1zM124.4 600.4l9.4 1.1 3.3-8.3 -0.8-4.6 -5-2.8 -6.9 2.2zM183.6 601.5l-5.9-5.5 -5.1 7.7 2.2 7.9 0.1 0 2.6-0.6 2.9-0.6 1.9-0.4zM128 550.7l2.4-2.4 -0.7-11.7 -0.4-0.6 -0.2-0.1 -5.7 0 -9.7 12.3 1.2 2.5zM126.8 573.1l3.7 3 7.7-3 -1.3-10.5 -7 0.2zM183.4 534.2l-4.9 8.8 7.5 6 5.6-11.3 -3.3-4.9zM121.5 573.4l-6.7-4.5 -8 8.5 3.3 7.4 6.3 1.7 1.6-0.5zM127.4 560.4l2.5 2.4 7-0.2 1.6-1.2 2.2-8.4 -10.3-4.7 -2.4 2.4zM120.1 561.1l7.3-0.7 0.6-9.7 -13.1 0 -0.1 0.5zM168.5 532.7l-4.1-1.4 -11.3 4 2.9 7.7 14.4-0.5zM153.9 580.3l5.2-4.4 -0.4-2.3 -9.9-6.5 -5.7 8.1 0.5 1.1zM148.8 567.1l-0.2-1.2 -10.1-4.5 -1.6 1.2 1.3 10.5 4.9 2.1zM150.5 598.1l0.2 0.7 9.1 5.4 3.3-2.6 2.3-10.4 -0.1-0.1 -12.1-1.2zM156 543l-2.9-7.7 -2.4-1.3 -8 5.9 1.8 11 8.9 1.6zM153.4 552.5l-8.9-1.6 -3.8 2.1 -2.2 8.4 10.1 4.5 6.8-10.8z" fill="#8cc88c"/><path d="M212.7 575.4l3.9 1.6 10.3-11.1 -0.4-0.8 -1.1-2.3 -1.3-2.3 -1.2-2.4 -0.3-0.6 -8.4 1.7 -5.5 7.6 0.4 4.2zM212.1 593.5l-9.2-5.2 -8 7.6 -0.1 4 3.7 7.2 2.9-0.3 3.1-0.4 3.1-0.3 3-0.4 0.2 0zM214.2 559.2l-9.1-10.3 -4.3 0.7 -3.7 3.1 1.2 9.4 10.4 4.7zM186 549l0.9 2.3 10.2 1.4 3.7-3.1 -4.7-10.7 -4.5-1.2zM188.3 532.8l3.3 4.9 4.5 1.2 8.7-6.7 -1.6-1.5 -1.9-1.6 -2-1.6 -2-1.5 -1.9-1.5 -1.9-1.4 -1.4-1zM202.9 588.3l9.2 5.2 6.5-3.9 2.3-5.9 -4.3-6.7 -3.9-1.6 -9.9 12.4zM227 598.3l0.3-0.3 0.9-1.5 0.8-1.6 0.7-1.9 0.6-2 0.4-2.3 0.2-2.4 0.2-2.5 0-1.5 -10.2 1.4 -2.3 5.9zM194.9 595.9l-8-6.8 -6.5 0.2 -3 3.9 0.3 2.8 5.9 5.5 11.2-1.6zM196.1 538.9l4.7 10.7 4.3-0.7 6.9-9 -1.3-1.6 -1.8-2 -1.8-2 -1.9-1.8 -0.4-0.3zM218.6 589.6l-6.5 3.9 -1.3 12.2 2.6-0.4 2.6-0.6 2.3-0.7 2-0.8 1.7-0.9 1.6-0.9 1.4-1 1.2-1.2 0.8-0.9zM199.2 575.6l-1.7 5.4 5.3 6.8 9.9-12.4 -3.6-4.4zM231.1 582.3l0-1 -0.2-2.4 -0.3-2.4 -0.5-2.3 -0.7-2.3 -0.8-2.2 -1-2.3 -0.7-1.5 -10.3 11.1 4.3 6.7zM214.2 559.2l8.4-1.7 -1-1.8 -1.4-2.6 -1.4-2.6 -1.5-2.6 -1.6-2.6 -1.6-2.4 -1.7-2.4 -0.4-0.6 -6.9 9zM194.8 599.9l-11.2 1.6 -1.3 8.5 1.1-0.2 3-0.6 3.1-0.5 3-0.6 2.9-0.5 3-0.5 0.1 0zM192 567.8l-4.2 0.5 -1.9 6.3 5.8 6.9 5.8-0.5 1.7-5.4zM191.7 581.5l-4.8 7.6 8 6.8 8-7.6 -0.1-0.5 -5.3-6.8zM208.7 566.8l-10.4-4.7 -6.3 5.7 7.2 7.8 9.9-4.6z" fill="#4a8c7e"/><path d="M95.7 579.5l4.3-4.1 -2.5-7.9 -8.6-2.7 -3.5 15.6zM69.6 557.5l16.6-4.5 0.7-1.1 0-1.3 -3.5-7.6 -14.4 1 -0.8 1.2 -1.5 2.6 -1.4 2.7 -1.2 3 -0.2 0.7zM84.1 536.3l-0.7 6.7 3.5 7.6 12.9-9.2 -4-6.4zM62 577.8l11.6-9 -4-11.3 -5.7-3.3 -0.8 2.5 -0.9 3.4 -0.7 3.6 -0.6 3.5 -0.4 3.3 -0.4 3.2 -0.2 2.8 -0.1 1.2zM67.3 582.4l0.7 8.1 8.2 3.7 2-11.4zM99 604.6l-4.6-11.5 -4.6 0 -4.5 16.8 1.1 0.3 1.9 0.5 1.9 0.3 2 0.1 0.5 0zM85.2 580.6l-4-0.2 -3 2.4 -2 11.4 0.3 0.5 0.3 0.2 11.9-2.6zM86.2 553l-16.6 4.5 4 11.3 1.3 0.5 13.6-5zM100.2 554.6l-13.3-2.7 -0.7 1.1 2.3 11.3 0.4 0.5 8.6 2.7 6.2-6.6zM104.6 590.7l5.5-5.9 -3.3-7.4 -6.8-2 -4.3 4.1 2.4 10.8zM84.1 536.3l11.7-1.3 4-10.6 -0.5-0.9 -1.6 0.6 -3.1 1.1 -3 1.2 -2.9 1.2 -2.9 1.3 -2.7 1.5 -1.6 1.1zM99.8 524.4l-4 10.6 4 6.4 5.6 1.8 5.8-13.5zM99 604.6l6.6-1.5 2-2.3 -3-10.1 -6.5-0.4 -3.7 2.8zM109.8 612.7l-4.2-9.6 -6.6 1.5 -6.3 6.5 1.4 0 2-0.1 1.9-0.1 1.7-0.1 1.6 0.1 1.3 0.3 1.1 0.5 0.8 0.5 0.7 0.7 0.6 0.7 0.4 0.8 0.5 0.9 0.2 0.5zM62 577.8l-2.2-0.1 0 1.3 -0.1 2.3 0.1 2 0.2 2 0.4 1.8 0.4 1.7 0.7 1.8 0.7 1.7 0.9 1.7 0 0.1 4.9-3.6 -0.7-8.1zM81.2 580.4l-6.3-11.1 -1.3-0.5 -11.6 9 5.3 4.6 10.9 0.4zM76.8 594.9l-0.3-0.2 -7.8 6.3 1.1 1 1.6 1.3 1.6 1.2 1.7 1.1 1.8 1 2 0.9 1.9 0.8 2 0.8 0.8 0.2zM85.4 580.4l3.5-15.6 -0.4-0.5 -13.6 5 6.3 11.1 4 0.2zM114.9 550.7l-1.2-2.5 -7.7-4.1 -5.8 10.5 3.5 6.3 2.8 0.1 8.3-9.8zM106.5 561l-2.8-0.1 -6.2 6.6 2.5 7.9 6.8 2 8-8.5 0-0.2zM94.4 593.1l3.7-2.8 -2.4-10.8 -10.3 0.9 -0.2 0.2 3.5 11.7 1.1 0.8zM106.5 561l8.3 7.7 5.3-7.6 -5.3-9.9zM84.1 536.3l-2.6-4.8 -0.9 0.6 -2.3 1.9 -2.3 1.9 -2.1 2.2 -2.1 2.2 -1.8 2.4 -1 1.3 14.4-1zM89.8 593.1l-1.1-0.8 -11.9 2.6 6.4 14.4 1.2 0.4 0.9 0.2zM68 590.5l-4.9 3.6 1.1 1.6 1.2 1.7 1.4 1.6 1.4 1.5 0.5 0.5 7.8-6.3 -0.3-0.5zM105.4 543.2l-5.6-1.8 -12.9 9.2 0 1.3 13.3 2.7 5.8-10.5z" fill="#e2925c"/><path d="M170.8 517.4l3.9 6.4 13.7-4.1 -0.8-0.4 -1.9-1.1 -2-1.1 -1.9-0.9 -1.8-0.9 -1.8-0.8 -1.9-0.7 -1.9-0.6 -1.8-0.5 -1.2-0.3zM141.7 523.4l6.9 4.3 9.1-7.9 -1.9-6.5 -0.8-0.2 -1.5-0.4 -1.7-0.3 -1.9-0.2 -2 0 -2.2 0.1 -0.3 0zM99.8 524.4l11.4 5.3 1.9-0.5 5.3-12.3 -0.4 0.1 -2.9 0.9 -2.8 1 -2.9 1 -2.9 1 -2.9 1.1 -2.9 1.1 -1.4 0.4zM141.7 523.4l-14.6-8.7 -0.6 0.1 -1 0.2 3.6 20.9 0.2 0.1zM164.4 531.3l-4.1-10.3 -2.6-1.2 -9.1 7.9 2.1 6.3 2.4 1.3zM145.4 512.3l-2.2 0.1 -2.6 0.3 -2.7 0.2 -2.9 0.4 -2.8 0.4 -2.9 0.5 -2.2 0.5 14.6 8.7zM150.7 534l-2.1-6.3 -6.9-4.3 -12.4 12.6 0.4 0.6 13 3.3zM160.3 521l10.5-3.6 0.6-5 -0.6-0.2 -1.6-0.3 -1.6-0.3 -1.3-0.1 -1.1 0 -0.8 0.3 -0.7 0.4 -0.5 0.4 -0.6 0.5 -0.6 0.4 -0.8 0.4 -1 0.1 -1.2 0 -1.2-0.3 -1.4-0.3 -0.6-0.1 1.9 6.5zM174.7 523.8l-3.9-6.4 -10.5 3.6 4.1 10.3 4.1 1.4 5.2-4.6zM113.1 529.2l10.3 6.7 5.7 0 -3.6-20.9 -1.8 0.5 -2.8 0.7 -2.5 0.7zM192.1 522.1l-0.6-0.4 -1.9-1.2 -1.2-0.8 -13.7 4.1 -1 4.3 9.7 6.1 4.9-1.4z" fill="#58d2b4"/><path d="M171.4 512.4l-0.6 5M170.8 517.4l-3.7 0.5 -3.2 2.1 -3.6 1M160.3 521l-2.6-1.2M155.8 513.3l0.5 3.4 1.4 3.1M59.8 577.7l2.2 0.1M63.1 594.1l4.9-3.6M62 577.8l2.9 2 2.4 2.6M68 590.5l-0.4-4.1 -0.3-4M62 577.8l2.7-2.5 3.1-1.9 2.5-2.9 3.3-1.7M73.6 568.8l-1.4-3.8 -1.5-3.7 -1.1-3.8M63.9 554.2l3.2 1 2.5 2.3M81.5 531.5l2.6 4.8M84.1 536.3l-0.9 3.3 0.2 3.4M69 544l3.7 0.5 3.5-1.6 3.6 0.5 3.6-0.4M157.7 519.8l-3 2.6 -3 2.8 -3.1 2.5M145.4 512.3l-1.4 3.6 -1.3 3.7 -1 3.8M148.6 527.7l-3.7-1.8 -3.2-2.5M127.1 514.7l3 1.5 2.8 2 2.5 2.4 3 1.7 3.3 1.1M222.6 557.5l-4.3 0.3 -4.1 1.4M214.2 559.2l-2.3-2.6 -1.7-3 -2.2-2.7 -2.9-2M212 539.9l-2.8 2.6 -1.4 3.7 -2.7 2.7M84.1 536.3l3.9-0.6 3.8-0.7 4 0M83.4 543l1.8 3.8 1.7 3.8M86.9 550.6l3.5-1.8 2.9-2.8 3.1-2.5 3.4-2.1M99.8 541.4l-2.5-2.9 -1.5-3.5M99.3 523.5l0.5 0.9M99.8 524.4l-0.8 3.7 -2.4 3.1 -0.8 3.8M125.5 515l-0.1 3.6 0.7 3.5 2.1 3.2 0.1 3.6 0.8 3.4 0 3.6M141.7 523.4l-2.5 2.5 -2.1 2.9 -2.9 2.1 -2.4 2.6 -2.5 2.5M115.1 600l-3.8 0.2 -3.7 0.6M115.1 600l4.8 2.8M119.9 602.8l0 4.2 0 4.2M107.6 600.8l-2 2.3M105.6 603.1l1.4 3.2 2.1 2.9 0.7 3.5M109.8 612.7l3.6 1 3.8-0.5M119.9 611.2l-2.7 2M135.4 604.8l-2.4 3.4 -3.2 2.8 -2 3.7M133.8 601.5l1.6 3.3M133.8 601.5l-4.8-0.3 -4.6-0.8M124.4 600.4l-4.5 2.4M127.8 614.7l-4.2-1.1 -3.7-2.4M115.9 631l1.1-3.5 -0.6-3.6 -0.3-3.6 1.7-3.5 -0.6-3.6M106.9 615.8l2.9-3.1M134.4 629.9l-0.6-3.3 -2.6-2.5 0-3.6 -2.6-2.5 -0.8-3.3M231.1 582.3l-3.3 1.1 -3.5 0.4 -3.4-0.1M226.9 565.9l-3 2.4 -2.3 3.1 -2.5 2.8 -2.5 2.8M216.6 577l1.8 3.5 2.5 3.2M227 598.3l-3.1-2.6 -3.1-2.7 -2.2-3.4M220.9 583.7l-0.5 3.2 -1.8 2.7M204.8 532.2l-2.6 2.6 -3.3 1.8 -2.8 2.3M205.1 548.9l-4.3 0.7M200.8 549.6l-2.2-3.2 -1.6-3.6 -0.9-3.9M68.7 601l2.3-2.5 2.4-2.3 3.1-1.5M68 590.5l4.4 1.1 3.8 2.6M76.5 594.7l-0.3-0.5M67.3 582.4l3.7-0.5 3.6 0.1 3.6 0.8M76.2 594.2l0.4-3.9 1.5-3.6 0.1-3.9M74.9 569.3l-1.3-0.5M74.9 569.3l1.8 3.9 3.1 3.1 1.4 4.1M81.2 580.4l-3 2.4M116.4 586.5l0.4 3.4 -0.8 3.4 -0.5 3.3 -0.4 3.4M116.4 586.5l-3.2-0.8 -3.1-0.9M107.6 600.8l-0.9-3.4 -0.7-3.5 -1.4-3.2M110.1 584.8l-2.9 2.8 -2.6 3.1M69.6 557.5l3.3-1.3 3.3-0.9 3.6 0.3 3.1-1.7 3.3-0.9M86.9 550.6l0 1.3M86.9 551.9l-0.7 1.1M74.9 569.3l3.6-0.5 3.4-1.3 3.4-1.4 3.2-1.8M86.2 553l0.6 3.8 0.5 3.8 1.2 3.7M97.5 567.5l-4.4-1 -4.2-1.7M88.5 564.3l0.4 0.5M97.5 567.5l2.7-3.6 3.5-3M86.9 551.9l3.3 0.4 3.4 0.4 3.4 0.7 3.2 1.2M100.2 554.6l2.3 2.8 1.2 3.5M133.8 601.5l1.1-4.3 2.2-4M124.4 600.4l-0.8-4.2 0.2-4.1 0.6-4.1M137.1 593.2l-0.8-4.6M136.3 588.6l-5-2.8M131.3 585.8l-3.6 0.7 -3.3 1.5M106.8 577.4l2.4 3.4 0.9 4M114.8 568.9l3.1 2.5 3.6 2M106.8 577.4l2.9-2.6 2-3.5 3.1-2.4M116.4 586.5l1.6-0.5M121.5 573.4l-0.9 3.2 -1.1 3.1 -1.4 3 -0.1 3.3M118 586l3.1 1.2 3.3 0.8M142.9 608.8l1.7 2.7 1.3 3 0.4 3.3M142.9 608.8l2.2-3.7 2.5-3.4 3.1-2.9M146.3 617.8l3-1.5 2.7-1.8 2-2.9 3.3-1 2.4-2.2M150.7 598.8l2.7 2.4 3.6 0.8 2.8 2.2M159.8 604.2l-0.1 4.2M135.4 604.8l3.7 2 3.8 2M145.4 625.2l0-3.8 0.9-3.6M137.1 593.2l3.4 1.1 3.2 1.8 3.6 0.3 3.2 1.7M150.5 598.1l0.2 0.7M148.6 527.7l1.1 3.1 1 3.2M129.3 536l0.4 0.6M129.7 536.6l3.2 1 3.2 1.3 3.2 0.9 3.4 0.1M150.7 534l-3 1.4 -2.2 2.7 -2.8 1.8M160.3 521l1.6 3.3 0.5 3.9 2 3.1M164.4 531.3l-3.9 0.8 -3.8 1.4 -3.6 1.8M150.7 534l2.4 1.3M170.8 517.4l1.8 3.3 2.1 3.1M188.4 519.7l-3.7 0.3 -3 2.4 -3.4 0.9 -3.6 0.5M164.4 531.3l4.1 1.4M168.5 532.7l2.9-2 2.3-2.6M174.7 523.8l-1 4.3M178.5 543l1.3-3.1 2.2-2.7 1.4-3M178.5 543l3.7 3.1 3.8 2.9M186 549l2-3.7 1.4-4 2.2-3.6M183.4 534.2l4.9-1.4M191.6 537.7l-3.3-4.9M197.1 552.7l-3.3-1.3 -3.5 0.3 -3.4-0.4M186.9 551.3l-0.9-2.3M200.8 549.6l-3.7 3.1M196.1 538.9l-4.5-1.2M192.1 522.1l-0.5 3.9 -1.8 3.3 -1.5 3.5M173.7 528.1l3.2 2 2.9 2.6 3.6 1.5M105.6 603.1l-3.3 0.6 -3.3 0.9M92.7 611.1l3.7-2.7 2.6-3.8M106.8 577.4l-3.5-0.7 -3.3-1.3M100 575.4l-4.3 4.1M104.6 590.7l-3.3 0.5 -3.2-0.9M95.7 579.5l0.9 3.5 0 3.8 1.5 3.5M88.9 564.8l-0.9 3.9 -1.4 3.8 -0.8 3.9 -0.4 4M100 575.4l-0.6-4.2 -1.9-3.7M95.7 579.5l-3.5 0.3 -3.3 1.1 -3.5-0.5M81.2 580.4l4 0.2M99 604.6l-1.4-3.9 -2.3-3.5 -0.9-4.1M98.1 590.3l-3.7 2.8M113.7 548.2l-4-1.9 -3.7-2.2M113.7 548.2l2.1-3.4 2.6-2.9 2.5-3 2.5-3M123.4 535.9l-3.3-2.5 -3.1-2.6 -3.9-1.6M105.4 543.2l2-3.2 1.4-3.3 0.4-3.9 2-3.1M105.4 543.2l0.6 0.9M113.1 529.2l-1.9 0.5M129.1 535.9l-5.7 0M118.4 516.9l-1.4 3 -1 3.3 -1.4 3 -1.5 3M99.8 541.4l5.6 1.8M99.8 524.4l4.1 1.1 3.5 2.4 3.8 1.8M100.2 554.6l2.6-3.1 1.8-3.6 1.4-3.8M103.7 560.9l2.8 0.1M106.5 561l2.4 3 3.6 1.7 2.3 3M130.5 576.1l-3.7-3M130.5 576.1l4.1-1 3.6-2M126.8 573.1l0.9-3.5 0.9-3.5 1.3-3.3M138.2 573.1l-0.4-3.5 -0.8-3.5 -0.1-3.5M136.9 562.6l-3.5 0.5 -3.5-0.3M131.3 585.8l0.4-3.3 -0.8-3.2 -0.4-3.2M121.5 573.4l5.3-0.3M172.6 603.7l-3.2-0.6 -3.1-0.9 -3.2-0.6M172.6 603.7l2-4.3 3.1-3.4M163.1 601.6l0.1-3.6 0.6-3.5 1.6-3.3M165.4 591.2l4 0.4 3.9 1.6 4.1 0M177.7 596l-0.3-2.8M216.6 577l-3.9-1.6M218.6 589.6l-2.9 2.6 -3.6 1.3M212.1 593.5l-3.2-1.4 -2.6-2.6 -3.4-1.2M212.7 575.4l-2 3.4 -2.9 2.8 -3 2.7 -2 3.5M202.9 588.3l-3 2.2 -2.2 3 -2.8 2.4M202.8 587.8l-2.9-3.2 -2.4-3.6M186.9 589.1l2.9 2 2.6 2.3 2.5 2.5M186.9 589.1l3.1-3.3 1.7-4.3M191.7 581.5l5.8-0.5M180.4 589.3l3.2 0 3.3-0.2M177.5 579.8l1.1 3.1 0.1 3.4 1.7 3M177.5 579.8l2.7-1.9 2.7-2 3-1.3M191.7 581.5l-2.9-3.5 -2.9-3.4M76.8 594.9l3.8-1.5 4.3 0.5 3.8-1.6M76.8 594.9l2.4 3.3 1 3.8 2.2 3.4 0.8 3.9M85.3 609.9l0.4-3.5 2-3.1 -0.3-3.6 1.9-3.1 0.5-3.5M88.7 592.3l1.1 0.8M85.2 580.6l0.9 3.9 2.2 3.7 0.4 4.1M94.4 593.1l-4.6 0M142.7 539.9l-0.1 3.8 2.1 3.4 -0.2 3.8M129.7 536.6l-0.3 3.9 0 3.9 1 3.9M130.4 548.3l3.5 1.4 3.4 1.5 3.4 1.8M144.5 550.9l-3.8 2.1M120.1 561.1l-1.9-3.2 -1.3-3.6 -2.1-3.1M120.1 561.1l3.7-0.1 3.6-0.6M127.4 560.4l-0.4-3.2 0.2-3.3 0.8-3.2M128 550.7l-3.3 0.6 -3.2 0.1 -3.3 0 -3.3-0.7M106.5 561l2.1-2.5 1.6-2.8 2.8-1.9 1.8-2.6M114.8 568.7l2.4-4 2.9-3.6M129.9 562.8l-2.5-2.4M140.7 553l-1.8 4 -0.4 4.4M136.9 562.6l1.6-1.2M130.4 548.3l-2.4 2.4M113.7 548.2l1.2 2.5M153.1 535.3l2.1 3.6 0.8 4.1M144.5 550.9l4.4 1 4.5 0.6M156 543l-0.8 3.2 -1.4 3 -0.4 3.3M168.5 532.7l1.4 3.1 0.4 3.3 0.1 3.4M156 543l3.6 0.6 3.6-0.9 3.6-0.3 3.6 0.1M138.5 561.4l3.7 0.9 3 2.2 3.4 1.4M148.6 565.9l2.9-3.2 1.8-3.9 2.1-3.7M153.4 552.5l2 2.6M178.5 543l-3.8-0.7 -3.8 0.9M170.9 543.2l-0.5-0.7M183.6 601.5l3.7-0.3 3.6-1.6 3.9 0.3M183.6 601.5l-0.9 4.2 -0.4 4.3M194.8 599.9l1.8 3.7 1.9 3.5M194.9 595.9l-0.1 4M180.4 589.3l-3 3.9M177.7 596l2.4 3.3 3.5 2.2M172.6 603.7l0.7 4.1 1.5 3.8M212.1 593.5l-0.8 4 0.5 4.2 -1 4M159.7 608.4l2.8 2.9 2.8 3M163.1 601.6l-3.3 2.6M198.3 562.1l-3.5 2.5 -2.8 3.2M198.3 562.1l3.4 1.6 3.5 1.6 3.5 1.5M192 567.8l2.9 2.1 1.9 3.2 2.4 2.5M199.2 575.6l3-2.1 3.3-1.7 3.6-0.8M208.7 566.8l0.4 4.2M197.1 552.7l0.2 4.7 1 4.7M186.9 551.3l-2.1 3.3 -1.9 3.4 -2.6 2.9M180.3 560.9l2.5 2.4 3 2 2 3M187.8 568.3l4.2-0.5M214.2 559.2l-2.9 3.6 -2.6 4M197.5 581l1.7-5.4M185.9 574.6l1.7-2.9 0.2-3.4M212.7 575.4l-3.6-4.4M177.5 579.8l-4.5-2.4M173 577.4l-3.6 0.6 -3.3 1.6M166.1 579.6l-0.9 3.8 0.1 3.8 0 3.9M150.5 598.1l2.1-3.9 0.6-4.3M165.3 591.1l-4.1-0.3 -4.1 0.1 -3.9-1M136.3 588.6l3.8-2.4M140.1 586.2l4.2 0 4.1 0.4 3.9 1.4M153.2 589.9l-0.9-1.9M169.4 550.1l-2.9 1.8 -3 1.6 -3.1 1.3 -3.4 0.9M169.4 550.1l1.5 3 2.5 2.4 1.9 2.7 1.7 3M177 561.2l-3.6 3.2M173.4 564.4l-3.4 0.7 -3.4-1.1 -3.4 0.5M163.2 564.5l-2.4-2.7 -1.2-3.5 -2.6-2.6M155.4 555.1l1.6 0.6M170.9 543.2l-0.1 3.6 -1.4 3.3M180.3 560.9l-3.3 0.3M173 577.4l-0.7-3.3 1.4-3.2 -0.4-3.3 0.1-3.2M158.7 573.6l0.4 2.3M158.7 573.6l-3-2.7 -3.4-1.9 -3.5-1.9M159.1 575.9l-2.8 2 -2.4 2.4M153.9 580.3l-3.6-0.9 -3.2-2 -3.5-1.1M148.8 567.1l-1.3 3.1 -3 1.9 -1.4 3.1M143.1 575.2l0.5 1.1M163.2 564.5l-2.1 2.8 -1.1 3.2 -1.3 3.1M166.1 579.6l-3.8-1.2 -3.2-2.5M148.6 565.9l0.2 1.2M152.3 588l0.3-3.9 1.3-3.8M140.1 586.2l1.1-3.4 0.6-3.4 1.8-3.1M138.2 573.1l4.9 2.1" fill="none" stroke="#3a3a3a" stroke-width="1.9" stroke-linejoin="round" stroke-linecap="round"/><path d="M59.9 576.5l0.2-2.8 0.4-3.2 0.4-3.3 0.6-3.5 0.7-3.6 0.9-3.4 1-3.2 1.2-3 1.4-2.7 1.5-2.6 1.8-2.5 1.8-2.4 2.1-2.2 2.1-2.2 2.3-1.9 2.3-1.9 2.5-1.7 2.7-1.5 2.9-1.3 2.9-1.2 3-1.2 3.1-1.1 3-1 2.9-1.1 2.9-1.1 2.9-1 2.9-1 2.8-1 2.9-0.9 2.9-0.8 2.8-0.7 2.8-0.7 2.8-0.6 2.9-0.5 2.8-0.4 2.9-0.4 2.7-0.2 2.6-0.3 2.5-0.1 2.2-0.1 2 0 1.9 0.2 1.7 0.3 1.5 0.4 1.4 0.3 1.4 0.3 1.2 0.3 1.2 0 1-0.1 0.8-0.4 0.6-0.4 0.6-0.5 0.5-0.4 0.7-0.4 0.8-0.3 1.1 0 1.3 0.1 1.6 0.3 1.6 0.3 1.8 0.5 1.8 0.5 1.9 0.6 1.9 0.7 1.8 0.8 1.8 0.9 1.9 0.9 2 1.1 1.9 1.1 2 1.2 1.9 1.2 2 1.4 1.9 1.4 1.9 1.5 2 1.5 2 1.6 1.9 1.6 2 1.8 1.9 1.8 1.8 2 1.8 2 1.7 2.2 1.7 2.4 1.6 2.4 1.6 2.6 1.5 2.6 1.4 2.6 1.4 2.6 1.3 2.4 1.2 2.4 1.3 2.3 1.1 2.3 1.1 2.3 1 2.3 0.8 2.2 0.7 2.3 0.5 2.3 0.3 2.4 0.2 2.4 0 2.5 -0.2 2.5 -0.2 2.4 -0.4 2.3 -0.6 2 -0.7 1.9 -0.8 1.6 -0.9 1.5 -1.1 1.2 -1.2 1.2 -1.4 1 -1.6 0.9 -1.7 0.9 -2 0.8 -2.3 0.7 -2.6 0.6 -2.8 0.4 -3 0.4 -3.1 0.3 -3.1 0.4 -3 0.3 -3 0.5 -2.9 0.5 -3 0.6 -3.1 0.5 -3 0.6 -3 0.6 -2.9 0.6 -2.6 0.6 -2.5 0.6 -2.2 0.6 -1.9 0.5 -1.8 0.6 -1.6 0.5 -1.6 0.6 -1.6 0.7 -1.7 0.7 -1.8 0.9 -1.9 1 -2 1.2 -2 1.3 -2 1.3 -2.1 1.4 -2.1 1.3 -2.1 1.2 -2.2 1 -2.2 0.9 -2.4 1 -2.4 0.9 -2.4 0.8 -2.4 0.7 -2.3 0.5 -2.2 0.4 -2 0.2 -1.9 0 -1.8-0.3 -1.7-0.4 -1.7-0.5 -1.5-0.7 -1.4-0.7 -1.2-0.9 -1.1-0.9 -0.9-1.1 -0.6-1.2 -0.4-1.5 -0.4-1.4 -0.2-1.5 -0.3-1.5 -0.3-1.3 -0.5-1.2 -0.5-1 -0.4-1 -0.5-0.9 -0.4-0.8 -0.6-0.7 -0.7-0.7 -0.8-0.5 -1.1-0.5 -1.3-0.3 -1.6-0.1 -1.7 0.1 -1.9 0.1 -2 0.1 -1.9 0 -2-0.1 -1.9-0.3 -1.9-0.5 -2-0.5 -2-0.6 -2-0.8 -1.9-0.8 -2-0.9 -1.8-1 -1.7-1.1 -1.6-1.2 -1.6-1.3 -1.6-1.5 -1.4-1.5 -1.4-1.6 -1.2-1.7 -1.1-1.7 -0.9-1.7 -0.7-1.7 -0.7-1.8 -0.4-1.7 -0.4-1.8 -0.2-2 -0.1-2 0.1-2.3z" fill="none" stroke="#3a3a3a" stroke-width="1.6"/><path d="M59.9 576.5l0.2-2.8 0.4-3.2 0.4-3.3 0.6-3.5 0.7-3.6 0.9-3.4 1-3.2 1.2-3 1.4-2.7 1.5-2.6 1.8-2.5 1.8-2.4 2.1-2.2 2.1-2.2 2.3-1.9 2.3-1.9 2.5-1.7 2.7-1.5 2.9-1.3 2.9-1.2 3-1.2 3.1-1.1 3-1 2.9-1.1 2.9-1.1 2.9-1 2.9-1 2.8-1 2.9-0.9 2.9-0.8 2.8-0.7 2.8-0.7 2.8-0.6 2.9-0.5 2.8-0.4 2.9-0.4 2.7-0.2 2.6-0.3 2.5-0.1 2.2-0.1 2 0 1.9 0.2 1.7 0.3 1.5 0.4 1.4 0.3 1.4 0.3 1.2 0.3 1.2 0 1-0.1 0.8-0.4 0.6-0.4 0.6-0.5 0.5-0.4 0.7-0.4 0.8-0.3 1.1 0 1.3 0.1 1.6 0.3 1.6 0.3 1.8 0.5 1.8 0.5 1.9 0.6 1.9 0.7 1.8 0.8 1.8 0.9 1.9 0.9 2 1.1 1.9 1.1 2 1.2 1.9 1.2 2 1.4 1.9 1.4 1.9 1.5 2 1.5 2 1.6 1.9 1.6 2 1.8 1.9 1.8 1.8 2 1.8 2 1.7 2.2 1.7 2.4 1.6 2.4 1.6 2.6 1.5 2.6 1.4 2.6 1.4 2.6 1.3 2.4 1.2 2.4 1.3 2.3 1.1 2.3 1.1 2.3 1 2.3 0.8 2.2 0.7 2.3 0.5 2.3 0.3 2.4 0.2 2.4 0 2.5 -0.2 2.5 -0.2 2.4 -0.4 2.3 -0.6 2 -0.7 1.9 -0.8 1.6 -0.9 1.5 -1.1 1.2 -1.2 1.2 -1.4 1 -1.6 0.9 -1.7 0.9 -2 0.8 -2.3 0.7 -2.6 0.6 -2.8 0.4 -3 0.4 -3.1 0.3 -3.1 0.4 -3 0.3 -3 0.5 -2.9 0.5 -3 0.6 -3.1 0.5 -3 0.6 -3 0.6 -2.9 0.6 -2.6 0.6 -2.5 0.6 -2.2 0.6 -1.9 0.5 -1.8 0.6 -1.6 0.5 -1.6 0.6 -1.6 0.7 -1.7 0.7 -1.8 0.9 -1.9 1 -2 1.2 -2 1.3 -2 1.3 -2.1 1.4 -2.1 1.3 -2.1 1.2 -2.2 1 -2.2 0.9 -2.4 1 -2.4 0.9 -2.4 0.8 -2.4 0.7 -2.3 0.5 -2.2 0.4 -2 0.2 -1.9 0 -1.8-0.3 -1.7-0.4 -1.7-0.5 -1.5-0.7 -1.4-0.7 -1.2-0.9 -1.1-0.9 -0.9-1.1 -0.6-1.2 -0.4-1.5 -0.4-1.4 -0.2-1.5 -0.3-1.5 -0.3-1.3 -0.5-1.2 -0.5-1 -0.4-1 -0.5-0.9 -0.4-0.8 -0.6-0.7 -0.7-0.7 -0.8-0.5 -1.1-0.5 -1.3-0.3 -1.6-0.1 -1.7 0.1 -1.9 0.1 -2 0.1 -1.9 0 -2-0.1 -1.9-0.3 -1.9-0.5 -2-0.5 -2-0.6 -2-0.8 -1.9-0.8 -2-0.9 -1.8-1 -1.7-1.1 -1.6-1.2 -1.6-1.3 -1.6-1.5 -1.4-1.5 -1.4-1.6 -1.2-1.7 -1.1-1.7 -0.9-1.7 -0.7-1.7 -0.7-1.8 -0.4-1.7 -0.4-1.8 -0.2-2 -0.1-2 0.1-2.3z" fill="url(#shade)" /></g>
<g><path d="M425.3 576.5l-0.2-2.8 -0.4-3.2 -0.4-3.3 -0.6-3.5 -0.7-3.6 -0.9-3.4 -1-3.2 -1.2-3 -1.4-2.7 -1.5-2.6 -1.8-2.5 -1.9-2.4 -2-2.2 -2.1-2.2 -2.3-1.9 -2.3-1.9 -2.5-1.7 -2.7-1.5 -2.9-1.3 -2.9-1.2 -3-1.2 -3.1-1.1 -3-1 -2.9-1.1 -2.9-1.1 -2.9-1 -2.9-1 -2.8-1 -2.9-0.9 -2.9-0.8 -2.8-0.7 -2.8-0.7 -2.8-0.6 -2.9-0.5 -2.8-0.4 -2.9-0.4 -2.7-0.2 -2.6-0.3 -2.5-0.1 -2.2-0.1 -2 0 -1.9 0.2 -1.7 0.3 -1.5 0.4 -1.4 0.3 -1.4 0.3 -1.2 0.3 -1.2 0 -1-0.1 -0.8-0.4 -0.6-0.4 -0.6-0.5 -0.5-0.4 -0.7-0.4 -0.8-0.3 -1.1 0 -1.3 0.1 -1.6 0.3 -1.6 0.3 -1.8 0.5 -1.8 0.5 -1.9 0.6 -1.9 0.7 -1.8 0.8 -1.8 0.9 -1.9 0.9 -2 1.1 -1.9 1.1 -2 1.2 -1.9 1.2 -2 1.4 -1.9 1.4 -1.9 1.5 -2 1.5 -2 1.6 -2 1.6 -1.9 1.8 -1.9 1.8 -1.8 2 -1.8 2 -1.7 2.2 -1.7 2.4 -1.6 2.4 -1.6 2.6 -1.5 2.6 -1.4 2.6 -1.4 2.6 -1.3 2.4 -1.2 2.4 -1.3 2.3 -1.1 2.3 -1.1 2.3 -1 2.3 -0.8 2.2 -0.7 2.3 -0.5 2.3 -0.3 2.4 -0.2 2.4 0 2.5 0.1 2.5 0.3 2.4 0.4 2.3 0.6 2 0.7 1.9 0.8 1.6 0.9 1.5 1.1 1.2 1.2 1.2 1.4 1 1.6 0.9 1.7 0.9 2 0.8 2.3 0.7 2.6 0.6 2.8 0.4 3 0.4 3.1 0.3 3.1 0.4 3 0.3 3 0.5 2.9 0.5 3 0.6 3.1 0.5 3 0.6 3 0.6 2.9 0.6 2.6 0.6 2.5 0.6 2.2 0.6 1.9 0.5 1.8 0.6 1.6 0.5 1.6 0.6 1.6 0.7 1.7 0.7 1.8 0.9 1.9 1 2 1.2 2 1.3 2 1.3 2.1 1.4 2.1 1.3 2.1 1.2 2.2 1 2.2 0.9 2.4 1 2.4 0.9 2.4 0.8 2.4 0.7 2.3 0.5 2.2 0.4 2 0.2 1.9 0 1.8-0.3 1.7-0.4 1.7-0.5 1.5-0.7 1.4-0.7 1.2-0.9 1.1-0.9 0.9-1.1 0.6-1.2 0.4-1.5 0.4-1.4 0.2-1.5 0.3-1.5 0.3-1.3 0.5-1.2 0.5-1 0.4-1 0.5-0.9 0.4-0.8 0.6-0.7 0.7-0.7 0.8-0.5 1.1-0.5 1.3-0.3 1.6-0.1 1.7 0.1 1.9 0.1 2 0.1 1.9 0 2-0.1 1.9-0.3 1.9-0.5 2-0.5 2-0.6 2-0.8 1.9-0.8 2-0.9 1.8-1 1.7-1.1 1.6-1.2 1.6-1.3 1.6-1.5 1.4-1.5 1.4-1.6 1.2-1.7 1.1-1.7 0.9-1.7 0.7-1.7 0.7-1.8 0.4-1.7 0.4-1.8 0.2-2 0.1-2 -0.1-2.3z" fill="#3a3a3a" stroke="#2e2e2e" stroke-width="1"/><path d="M342.5 594.5l0.2-7 -8.5-6 -1 0.4 -3.9 14.6zM365.7 581.8l3.3 6.8 8.8 0 1.3-2.1 -4.6-7.7 -7.3 0.8zM345.1 598.5l5.2 1.3 7.2-5.4 -2.2-10.6 -2.2-1.7 -10.4 5.4 -0.2 7zM318.1 556l-13.4-3.3 -3.7 1.8 0.7 5 7.2 9.2 7.7-2.7zM331 558l-11.9-2.6 -1 0.6 -1.5 10 5.9 3.4 11.2-4.8zM357.8 562.3l-5.5 1.5 -3.2 9.5 3.1 3.8 10.2-6.9zM369 588.6l-4.2 8.4 2.6 3.9 11.4-5.2 -1-7.1zM322.5 569.4l-5.9-3.4 -7.7 2.7 -2.4 10.4 13.5 3 1.5-1.1zM333.2 581.9l1-0.4 3.3-10.2 -2.8-6.1 -1-0.6 -11.2 4.8 -1 11.6zM330 606.4l-2.6-8.2 -7.6-2.9 -3.2 1.5 -2.5 3.5 2.1 12.8 0.7 0.2 1.8 0.6 0.7 0.2zM306.5 579.1l-2.5 1.8 -1.3 5.3 13.9 10.6 3.2-1.5 0.2-13.2zM308.4 536.1l3.1 5.2 6.8 0.9 5.1-7.8 -0.8-8.8 -6.5-1.2zM303.9 580.8l-10-11.7 -3.2 0.3 -3.8 9.3zM337.2 543.9l0.7-1.7 -14.5-7.8 -5.1 7.8 2.3 3.1 13.8 1.2zM363.1 620.8l-2.1-8.4 -6.8-1.3 -8.5 5.7 -0.4 11 0.3 0.1 2.4 1 1.1 0.4zM336.6 610.1l9.1 6.7 8.5-5.7 -3.9-11.3 -5.2-1.3 -8.7 11.2zM318.3 542.2l-6.8-0.9 -6.8 11.4 13.4 3.3 1-0.6 1.5-10.1zM314.1 600.3l2.5-3.5 -13.9-10.6 -2.2 2.9 4.6 12.6zM334.7 565.2l11.3-6.6 0.4-2.2 -9.2-12.5 -2.8 2.6 -3.4 11.5 2.7 6.6zM337.5 571.3l11.6 2 3.2-9.5 -6.3-5.2 -11.3 6.6zM357.5 594.4l-7.2 5.4 3.9 11.3 6.8 1.3 6.5-5.6 -0.1-5.9 -2.6-3.9zM367 624.3l-3.9-3.5 -14 8.5 1.3 0.5 2.4 0.8 2.4 0.7 2.3 0.5 2.2 0.4 2 0.2 1.9 0 1.8-0.3 1.7-0.4 0.7-0.2zM355.1 549.6l-4.4-9 -11.4 0.2 -1.4 1.4 -0.7 1.7 9.2 12.5zM330 606.4l6.4 3.3 8.7-11.2 -2.6-4 -13.2 2 -1.9 1.7zM365.7 581.8l1.5-2.2 -1.9-8.7 -2.9-0.7 -10.2 6.9 0.9 5 2.2 1.7zM361.2 556.6l-1.3-4.6 -4.8-2.4 -8.7 6.8 -0.4 2.2 6.3 5.2 5.5-1.5zM357.5 594.4l7.3 2.6 4.2-8.4 -3.3-6.8 -10.4 2zM371.8 566.4l-3.9-7.4 -6.7-2.4 -3.4 5.7 4.6 7.9 2.9 0.7zM352.2 577.1l-3.1-3.8 -11.6-2 -3.3 10.2 8.5 6 10.4-5.4zM375 610.2l-7.5-3.4 -6.5 5.6 2.1 8.4 3.9 3.5 9.9-4.8 0.2-1 0.5-1.2 0.2-0.4zM320.6 545.3l-1.5 10.1 11.9 2.6 3.4-11.5zM345.7 616.8l-9.1-6.7 -5.2 9.7 1.5 1 2 1.3 2.1 1.4 2.1 1.3 2.1 1.2 2.2 1 1.9 0.8zM367.2 579.6l7.3-0.8 2.3-3.7 -4.2-8.6 -0.8-0.1 -6.5 4.5zM336.6 610.1l-0.2-0.4 -6.4-3.3 -10.6 7.7 0.9 0.3 1.6 0.6 1.6 0.7 1.7 0.7 1.8 0.9 1.9 1 2 1.2 0.5 0.3zM300.5 589.1l-7.6 3.4 -2.8 13.3 13.6-2.3 1.4-1.8zM303.9 580.8l0.1 0.1 2.5-1.8 2.4-10.4 -7.2-9.2 -7.8 9.6zM329.3 596.5l3.9-14.6 -11.7-0.9 -1.5 1.1 -0.2 13.2 7.6 2.9z" fill="#8cc88c"/><path d="M367.2 536.4l7-5.3 -0.2-9.4 -12.7 5 0 0.1zM347.6 524.8l-5.5-12 -10.4 10.8 6.7 7 9.1-5.6zM315.9 524.1l0.2 0.3 6.5 1.2 4.5-2.5 -1-9.1 -1.1 0 -1-0.1 -0.8-0.4 -0.6-0.4 -0.6-0.5 -0.5-0.4 -0.7-0.4 -0.8-0.3 -1.1 0 -1.3 0.1 -1.6 0.3 -1.6 0.3 -1.1 0.3zM323.4 534.4l14.5 7.8 1.4-1.4 -0.9-10.2 -6.7-7 -4.6-0.5 -4.5 2.5zM315.9 524.1l-13.2-2 -3.7 7 3 5.3 6.4 1.7 7.7-11.7zM359.9 552l8.9-8.1 -2.1-5.3 -14.3 0.1 -1.7 1.9 4.4 9zM357.5 519.5l3.8 7.2 12.7-5 1.1-2.1 -2.2-0.7 -2.8-1 -2.9-0.9 -2.9-0.8 -2.8-0.7 -2.8-0.7 -0.6-0.1zM353.4 532.9l-1 5.8 14.3-0.1 0.5-2.2 -5.9-9.6zM313.3 512.5l-0.7 0.2 -1.8 0.5 -1.9 0.6 -1.9 0.7 -1.8 0.8 -1.8 0.9 -1.9 0.9 -0.4 0.2 1.6 4.8 13.2 2zM352.4 538.7l1-5.8 -5.9-7.9 -9.1 5.6 0.9 10.2 11.4-0.2zM361.3 526.7l-3.8-7.2 -9.9 5.3 -0.1 0.2 5.9 7.9 7.9-6.1zM327.1 523.1l4.6 0.5 10.4-10.8 0.1-0.4 -0.2 0 -2.5-0.1 -2.2-0.1 -2 0 -1.9 0.2 -1.7 0.3 -1.5 0.4 -1.4 0.3 -1.4 0.3 -1.2 0.3 -0.1 0zM358.1 514.7l-2.2-0.5 -2.9-0.5 -2.8-0.4 -2.9-0.4 -2.7-0.2 -2.4-0.3 -0.1 0.4 5.5 12 9.9-5.3z" fill="#58d2b4"/><path d="M290.1 605.8l-1.4 1.6 1.1 0.2 2.9 0.5 3 0.6 3.1 0.5 3 0.6 3 0.6 1.3 0.3 -2.4-7.2zM285.7 565l-1-8.8 -14.8 1.7 1.6 11.3 5.4 3zM275.6 598.5l-7.2-11.3 -11.8 8.5 0.4 0.8 0.9 1.5 1.1 1.2 1.2 1.2 1.4 1 1.6 0.9 1.7 0.9 2 0.8 2.3 0.7 2.6 0.6 2.8 0.4 0.5 0.1zM285.8 555l-2.5-8.6 -4.8-3 -10.3 4 -0.3 0.5 -1.5 2.6 -1.4 2.6 -0.4 0.6 5.3 4.2 14.8-1.7zM278.3 534.1l-0.2 0.2 -1.8 2 -1.8 2 -1.7 2.2 -1.7 2.4 -1.6 2.4 -1.3 2.1 10.3-4zM293.9 569.1l7.8-9.6 -0.7-5 -2.2-1.1 -13 1.6 -1.1 1.2 1 8.8 5 4.4zM276.9 572.2l-5.4-3 -9.4 7.5 6.7 8.6 9.7-3.5 1.8-2.6zM290.6 591l-9.8 0.5 -5.2 7 -0.5 7.3 2.5 0.3 3.1 0.3 3.1 0.4 3 0.3 1.9 0.3 1.4-1.6 2.8-13.3zM262.1 576.7l9.4-7.5 -1.6-11.3 -5.3-4.2 -1 2 -1.3 2.4 -1.2 2.4 -1.3 2.3 -1.1 2.3 -1.1 2.3 -1 2.3 -0.8 2.2 -0.7 2.3 -0.4 1.7zM295.9 542l-6.4-2.6 -6.2 7 2.5 8.6 13-1.6zM268.4 587.2l0.4-1.9 -6.7-8.6 -7.4-0.8 -0.1 0.6 -0.3 2.4 -0.2 2.4 0 2.5 0.1 2.5 0.3 2.4 0.4 2.3 0.6 2 0.7 1.9 0.4 0.8zM314.1 600.3l-9 1.4 -1.4 1.8 2.4 7.2 1.6 0.3 2.6 0.6 2.5 0.6 2.2 0.6 1.2 0.3zM308.4 536.1l-6.4-1.7 -6.1 7.6 2.9 11.4 2.2 1.1 3.7-1.8 6.8-11.4zM280.8 591.5l-2.3-9.7 -9.7 3.5 -0.4 1.9 7.2 11.3zM302.7 522.1l-1.6-4.8 -1.6 0.9 -1.9 1.1 -2 1.2 -1.9 1.2 -2 1.4 -1.9 1.4 -1.9 1.5 -2 1.5 -0.2 0.1 13.3 1.5zM289.5 539.4l6.4 2.6 6.1-7.6 -3-5.3 -13.3-1.5 -0.8 0.7zM280.3 579.2l-1.8 2.6 2.3 9.7 9.8-0.5 -4.7-11.7zM278.5 543.4l4.8 3 6.2-7 -4.6-11.1 -1 0.8 -2 1.6 -1.9 1.8 -1.7 1.6zM290.7 569.4l-5-4.4 -8.8 7.2 3.4 7 5.6 0.1 1-0.6zM285.9 579.3l4.7 11.7 2.3 1.5 7.6-3.4 2.2-2.9 1.3-5.3 -0.1-0.1 -17-2.1z" fill="#4a8c7e"/><path d="M416.9 585.3l-1.7 11.1 1.9 4 1.3-1.4 1.4-1.6 1.2-1.7 1.1-1.7 0.9-1.7 0.7-1.7 0.7-1.8 0.4-1.7 0.4-1.8 0-0.4zM386.4 568.9l-0.7 5.4 0.3 0.6 9.8 3.6 4.1-9.1 -9-4.3zM394.7 554.2l-12.4-10.4 -5 3.6 0 3.2 3.1 5.9 10.7 2zM391.6 595.6l8.2 0.6 3.6-4.3 0.7-7.2 -7.2-3.4 -6.8 6.9zM384.9 538.7l-0.6-1.8 -10.1-5.8 -7 5.3 -0.5 2.2 2.1 5.3 8.5 3.5 5-3.6zM391.1 558.5l-10.7-2 -2 7.4 8 5 4.5-3.8zM383.8 584.9l6.3 3.3 6.8-6.9 -1.1-2.8 -9.8-3.6zM383.8 584.9l2.2-10 -0.3-0.6 -8.9 0.8 -2.3 3.7 4.6 7.7zM377.3 550.6l-9.4 8.4 3.9 7.4 0.8 0.1 5.8-2.6 2-7.4zM378.8 595.7l7.4 5 5.4-5.1 -1.5-7.4 -6.3-3.3 -4.7 1.6 -1.3 2.1zM423.8 564.5l-0.1-0.8 -0.7-3.6 -0.9-3.4 -1-3.2 -1.2-3 -1.4-2.7 -0.2-0.3 -13.6 8.6 2.6 6.5zM377.3 550.6l0-3.2 -8.5-3.5 -8.9 8.1 1.3 4.6 6.7 2.4zM411.3 580.5l5.6 4.8 8.3-0.4 0.2-1.6 0.1-2 -0.1-2.3 -0.1-2.5 -0.2-2.8 -0.4-3.2 -0.4-3.3 -0.1-0.6zM400 552.4l1.2-13 -16.3-0.7 -2.6 5.1 12.4 10.4zM406.5 533.6l-1.9-1.5 -2.5-1.7 -2.7-1.5 -2.9-1.3 -2.9-1.2 -3-1.2 -2.7-0.9 -3.6 12.6 0.6 1.8 16.3 0.7zM411.3 580.5l12.9-13.9 -0.4-2.1 -16.5-1.9 -2.9 5.1zM402.2 602l-2.4-5.8 -8.2-0.6 -5.4 5.1 0 1.5 5.6 8.9 1.2 0 2-0.1 1.9-0.3 1.9-0.5 0.5-0.1zM367.4 600.9l0.1 5.9 7.5 3.4 11.2-8 0-1.5 -7.4-5zM402.2 602l-2.9 8.1 1.5-0.4 2-0.6 2-0.8 1.9-0.8 2-0.9 1.8-1 1.7-1.1 1.6-1.2zM399.9 569.4l4.5-1.7 2.9-5.1 -2.6-6.5 -4.7-3.7 -5.3 1.8 -3.6 4.3 -0.2 6.6zM386.2 602.2l-11.2 8 2.8 6.7 0.3-0.6 0.4-1 0.5-0.9 0.4-0.8 0.6-0.7 0.7-0.7 0.8-0.5 1.1-0.5 1.3-0.3 1.6-0.1 1.7 0.1 1.9 0.1 2 0.1 0.7 0zM418.3 547.5l-1.3-2.3 -1.8-2.5 -1.9-2.4 -2-2.2 -2.1-2.2 -2.3-1.9 -0.4-0.4 -5.3 5.8 -1.2 13 4.7 3.7zM415.2 596.4l1.7-11.1 -5.6-4.8 -7.2 4.2 -0.7 7.2zM378.4 563.9l-5.8 2.6 4.2 8.6 8.9-0.8 0.7-5.4zM384.3 536.9l3.6-12.6 -0.4-0.2 -3-1 -2.9-1.1 -2.9-1.1 -2.9-1 -0.7-0.3 -1.1 2.1 0.2 9.4zM367.8 631.5l1-0.3 1.5-0.7 1.4-0.7 1.2-0.9 1.1-0.9 0.9-1.1 0.6-1.2 0.4-1.5 0.4-1.4 0.2-1.5 0.3-1.5 0.1-0.3 -9.9 4.8zM395.8 578.5l1.1 2.8 7.2 3.4 7.2-4.2 -6.9-12.8 -4.5 1.7zM402.2 602l11.6 1.3 1.6-1.3 1.6-1.5 0.1-0.1 -1.9-4 -11.8-4.5 -3.6 4.3z" fill="#e2925c"/><path d="M262.1 576.7l-3.6-1 -3.8 0.2M256.6 595.7l2.7-2.5 3.7-1.1 2.5-2.8 2.9-2.1M262.1 576.7l2.3 2.7 2 3.1 2.4 2.8M268.8 585.3l-0.4 1.9M342.1 512.8l-2.2 3.1 -2.7 2.6 -2.8 2.5 -2.7 2.6M326.1 514l1 4.5 0 4.6M331.7 523.6l-4.6-0.5M278.3 534.1l-0.2 4.7 0.4 4.6M268.2 547.4l3.4-1.5 3.4-1.4 3.5-1.1M425.2 584.9l-4.1 0.6 -4.2-0.2M424.2 566.6l-2.2 3.1 -3.2 2.2 -2.8 2.6 -1.9 3.4 -2.8 2.6M416.9 585.3l-2.5-2.8 -3.1-2M313.3 512.5l1.2 3.8 0.1 4.1 1.3 3.7M301.1 517.3l1.6 4.8M302.7 522.1l3.4 0 3.2 1.1 3.3 0.3 3.3 0.6M289.5 539.4l-1-4 -1.7-3.6 -1.9-3.5M289.5 539.4l3.5 0.7 2.9 1.9M295.9 542l1.5-3 2.5-2.1 2.1-2.5M285.7 527.6l3.4-0.1 3.3 0.4 3.2 1.6 3.4-0.4M299 529.1l3 5.3M278.5 543.4l4.8 3M283.3 546.4l3.6-3 2.6-4M302.7 522.1l-1.1 3.9 -2.6 3.1M358.1 514.7l-0.6 4.8M342.1 512.8l2.1 2.6 0.4 3.5 0.9 3.2 2.1 2.7M347.6 524.8l3.6-1.2 3.1-2 3.2-2.1M331.7 523.6l1.9 2.6 2.5 2 2.3 2.4M338.4 530.6l3-1.9 3.4-1.3 2.7-2.4M367.2 536.4l-2.5-2.9 -1.2-3.7 -2.2-3M367.2 536.4l3.7-2.4 3.3-2.9M374 521.7l0.7 4.7 -0.5 4.7M374 521.7l-3.4 0.8 -2.7 2.2 -3.7 0 -2.9 2M353.4 532.9l2.9-1.7 2.3-2.5 2.7-1.9M352.4 538.7l1-5.8M366.7 538.6l0.5-2.2M366.7 538.6l-3.6-0.2 -3.6-0.6 -3.5 1.1 -3.6-0.2M375.1 519.6l-1.1 2.1M387.9 524.3l-0.4 3.2 -1.7 3 -1.3 3 -0.2 3.4M384.3 536.9l-3.7-1.4 -2.8-2.9 -3.6-1.5M357.5 519.5l2.1 3.5 1.7 3.7M347.5 525l1.7 2.8 2.3 2.5 1.9 2.6M406.5 533.6l-3.2 2.4 -2.1 3.4M384.3 536.9l0.6 1.8M384.9 538.7l3.2 0.3 3.2 0.8 3.3 0.1 3.3-1.2 3.3 0.7M367.5 606.8l-3.7 2.2 -2.8 3.4M367.5 606.8l3.6 2.1 3.9 1.3M361 612.4l1.7 4 0.4 4.4M375 610.2l1.3 3.4 1.5 3.3M376.9 619.5l-3.2 1.9 -3.1 2 -3.6 0.9M367 624.3l-3.9-3.5M386.2 602.2l2.5 2.5 1.4 3.3 1.7 3.1M386.2 602.2l-3.2 1.5 -2 3.1 -3.3 1.3 -2.7 2.1M367.8 631.5l0.2-3.7 -1-3.5M295.9 542l1.2 3.7 0.4 4 1.3 3.7M283.3 546.4l1.1 4.4 1.4 4.2M285.8 555l3.3 0.1 3.2-0.9 3.3 0.4 3.2-1.2M399.3 610.1l1.3-4.1 1.6-4M402.2 602l4-0.1 3.8 0.3 3.8 1.1M416.9 585.3l-0.2 3.8 -0.3 3.7 -1.2 3.6M417.1 600.4l-1.9-4M338.4 530.6l-0.5 3.5 1.7 3.2 -0.3 3.5M352.4 538.7l-1.7 1.9M339.3 540.8l3.8 0.5 3.8-0.1 3.8-0.6M308.4 536.1l1.9-3 1.3-3.3 2.2-2.8 2.3-2.6M308.4 536.1l3.1 5.2M311.5 541.3l3.3 1.2 3.5-0.3M318.3 542.2l2.4-4 2.7-3.8M323.4 534.4l0.1-4.5 -0.9-4.3M322.6 525.6l-3.4 0 -3.1-1.2M302 534.4l3.4 0.1 3 1.6M301 554.5l-2.2-1.1M304.7 552.7l1.5-3 1.7-2.8 1.4-3 2.2-2.6M304.7 552.7l-3.7 1.8M339.3 540.8l-1.4 1.4M327.1 523.1l-4.5 2.5M337.9 542.2l-2.8-1.8 -2.9-1.5 -2.9-1.5 -3.2-1.2 -2.7-1.8M415.2 596.4l-4-1.4 -4-1.2 -3.8-1.9M411.3 580.5l-3.6 2 -3.6 2.2M404.1 584.7l-0.1 3.6 -0.6 3.6M402.2 602l-2.4-5.8M403.4 591.9l-3.6 4.3M386.2 602.2l0-1.5M386.2 600.7l2.9-2.4 2.5-2.7M391.6 595.6l4 1.1 4.2-0.5M350.3 599.8l3.5-2.9 3.7-2.5M350.3 599.8l1.2 3.8 2 3.5 0.7 4M354.2 611.1l3.3 1.2 3.5 0.1M357.5 594.4l3.6 1.4 3.7 1.2M367.5 606.8l-0.1-5.9M367.4 600.9l-2.6-3.9M386.2 600.7l-3.6-2.6 -3.8-2.4M367.4 600.9l3.9-1.7 3.5-2.4 4-1.1M366.7 538.6l2.1 5.3M368.8 543.9l4 2.4 4.5 1.1M384.9 538.7l-2.6 5.1M377.3 547.4l5-3.6M268.8 585.3l2.9-2 3.4-0.9 3.4-0.6M268.4 587.2l1.8 2.8 1.2 3.2 2.1 2.7 2.1 2.6M278.5 581.8l0.1 3.3 1.7 3.1 0.5 3.3M280.8 591.5l-2.7 3.4 -2.5 3.6M275.6 598.5l-0.4 3.6 -0.1 3.7M354.2 611.1l-2.6 2.3 -2.7 2.1 -3.2 1.3M363.1 620.8l-2.6 2 -2.6 2 -2.8 1.8 -2.9 1.5 -3.1 1.2M345.7 616.8l-0.7 3.7 0.3 3.7 0 3.6M301.7 559.5l-0.7-5M318.1 556l-0.9 3.3 -0.2 3.4 -0.4 3.3M304.7 552.7l3.4 0.8 3.2 1.5 3.5-0.1 3.3 1.1M301.7 559.5l2.7 2.8 2.4 3.1 2.1 3.3M308.9 568.7l3.6-2 4.1-0.7M264.6 553.7l3.2 1.5 2.1 2.7M285.8 555l-1.1 1.2M269.9 557.9l3.6-0.8 3.8 0.2 3.6-1.1 3.8 0M262.1 576.7l3.1-2.5 2.9-2.8 3.4-2.2M269.9 557.9l0.1 3.9 1.4 3.6 0.1 3.8M308.9 568.7l-0.7 3.5 -1.3 3.4 -0.4 3.5M304 580.9l2.5-1.8M301.7 559.5l-2.9 3 -2.8 3 -2.1 3.6M303.9 580.8l-3.1-2.4 -1.9-3.4 -2.9-2.7 -2.1-3.2M319.1 555.4l3.8 1.5 4.2-0.2 3.9 1.3M319.1 555.4l1-3.3 0.1-3.4 0.4-3.4M320.6 545.3l3.4 0.8 3.5 0.3 3.4 0.4 3.5-0.3M331 558l1.8-3.6 0.3-4.1 1.3-3.8M318.3 542.2l2.3 3.1M318.1 556l1-0.6M337.9 542.2l-0.7 1.7M337.2 543.9l-2.8 2.6M368.8 543.9l-3.2 2.5 -3.2 2.3 -2.5 3.3M350.7 540.6l1 3.2 2 2.8 1.4 3M359.9 552l-4.8-2.4M337.2 543.9l1.9 3.4 2.3 3.1 2.8 2.8 2.2 3.2M355.1 549.6l-2.8 2.3 -3 2.3 -2.9 2.2M361.2 556.6l-2.3 2.5 -1.1 3.2M361.2 556.6l-1.3-4.6M346 558.6l0.4-2.2M346 558.6l3.5 2.2 2.8 3M352.3 563.8l5.5-1.5M404.1 584.7l-3.3-2.4 -3.9-1M391.6 595.6l-1.4-3.6 -0.1-3.8M396.9 581.3l-2 2.6 -2.8 1.7 -2 2.6M377.3 547.4l0 3.2M361.2 556.6l3.3 1.6 3.4 0.8M377.3 550.6l-2.9 3 -3.1 2.8 -3.4 2.6M396.9 581.3l-1.1-2.8M383.8 584.9l0.9-3.3 1-3.3 0.3-3.4M390.1 588.2l-3.2-1.5 -3.1-1.8M395.8 578.5l-3.3-1.1 -3.2-1.2 -3.3-1.3M401.2 539.4l-0.9 3.2 -0.4 3.2 0.2 3.3 -0.1 3.3M382.3 543.8l2.7 1.8 2.3 2.3 2.5 2 2.3 2.4 2.6 1.9M400 552.4l-5.3 1.8M418.3 547.5l-2.5 2 -3 1.3 -2.7 1.8 -2.7 1.7 -2.7 1.8M400 552.4l4.7 3.7M423.8 564.5l-3.2-1.2 -3.4 0.6 -3.3-0.1 -3.4 0 -3.2-1.2M404.7 556.1l2.1 3 0.5 3.5M411.3 580.5l-1.4-3.4 -1.5-3.3 -2-3 -2-3.1M407.3 562.6l-2.9 5.1M395.8 578.5l0.9-3.2 1.1-3.2 2.1-2.7M404.4 567.7l-4.5 1.7M280.8 591.5l3.3-0.3 3.2-0.8 3.3 0.6M288.7 607.4l1.4-1.6M290.6 591l2.3 1.5M290.1 605.8l0-3.5 1.6-3.1 -0.1-3.5 1.3-3.2M331 558l1.4 3.3 1.3 3.3M316.6 566l2.6 2.2 3.3 1.2M322.5 569.4l3.7-1.6 3.7-1.8 3.8-1.4M349.1 573.3l1.1-3.1 1.7-3 0.4-3.4M349.1 573.3l-3.9-0.1 -3.7-1.6 -4-0.3M346 558.6l-2.6 2 -3.1 1.1 -2.4 2.6 -3.2 0.9M337.5 571.3l-2.1-2.7 -0.7-3.4M334.7 565.2l-1-0.6M285.7 565l-2.6 2.8 -3.5 1.7 -2.7 2.7M285.7 565l2.8 1.9 2.2 2.5M290.7 569.4l-1.6 3 -0.7 3.4 -1.5 2.9M276.9 572.2l1.2 3.7 2.2 3.3M280.3 579.2l5.6 0.1M285.9 579.3l1-0.6M284.7 556.2l-0.2 4.5 1.2 4.3M271.5 569.2l5.4 3M293.9 569.1l-3.2 0.3M303.9 580.8l-3.4-0.8 -3.5 0.5 -3.4-0.2 -3.3-1.1 -3.4-0.5M278.5 581.8l1.8-2.6M290.6 591l-1.9-3.7 -2-3.8 -0.8-4.2M292.9 592.5l4-1.4 3.6-2M302.7 586.2l-2.2 2.9M304 580.9l-1.3 5.3M376.8 575.1l-2.3 3.7M376.8 575.1l4.5 0.2 4.4-1M385.7 574.3l0.3 0.6M383.8 584.9l-4.7 1.6M374.5 578.8l1.8 4.2 2.8 3.5M364.8 597l2.7-3.9 1.5-4.5M378.8 595.7l-0.3-3.6 -0.7-3.5M369 588.6l4.4 0 4.4 0M379.1 586.5l-1.3 2.1M352.2 577.1l3.9-1.6 2.8-3.2 3.5-2.1M352.2 577.1l0.9 5M365.7 581.8l1.5-2.2M365.7 581.8l-3.5 0.2 -3.4 1.4 -3.5 0.4M367.2 579.6l-0.2-4.5 -1.7-4.2M362.4 570.2l2.9 0.7M353.1 582.1l2.2 1.7M357.8 562.3l2.1 4.1 2.5 3.8M349.1 573.3l3.1 3.8M337.5 571.3l-1.9 3.1 -0.9 3.5 -0.5 3.6M342.7 587.5l-2.7-2.2 -3-1.9 -2.8-1.9M342.7 587.5l3.2-2.3 3.5-1.8 3.7-1.3M374.5 578.8l-3.6 1.1 -3.7-0.3M369 588.6l-1.5-3.5 -1.8-3.3M357.5 594.4l-1.2-3.5 -1.1-3.4 0.1-3.7M372.6 566.5l-0.8-0.1M371.8 566.4l-3.4 2.1 -3.1 2.4M376.8 575.1l-1.8-4.4 -2.4-4.2M367.9 559l2.6 3.4 1.3 4M378.4 563.9l0.6-3.8 1.4-3.6M378.4 563.9l3.6 3.1 4.4 1.9M380.4 556.5l3.5 1 3.5 0.8 3.7 0.2M391.1 558.5l0.3 3.3 -0.5 3.3M386.4 568.9l4.5-3.8M377.3 550.6l2.3 2.6 0.8 3.3M372.6 566.5l5.8-2.6M385.7 574.3l0.7-5.4M394.7 554.2l-3.6 4.3M399.9 569.4l-2.9-1.7 -3.1-1.3 -3-1.3M322.5 569.4l-0.5 3.9 0.6 3.9 -1.1 3.8M334.2 581.5l-1 0.4M333.2 581.9l-3.9-0.5 -3.9-0.7 -3.9 0.3M306.5 579.1l3.4 0.7 3.3 0.8 3.5 0.2 3.3 1.3M302.7 586.2l2.9 2 3 1.9 2.9 1.9 1.8 3.3 3.3 1.5M316.6 596.8l3.2-1.5M319.8 595.3l-0.3-3.3 -0.2-3.3 0.8-3.3 -0.1-3.3M320 582.1l1.5-1.1M345.7 616.8l-3.4-1.8 -2.4-3.1 -3.3-1.8M331.4 619.8l1.3-3.5 1.9-3.1 2-3.1M345.1 598.5l-2.6-4M345.1 598.5l-1.9 3 -1.9 3.1 -3.2 2 -1.7 3.1M342.5 594.5l-3.3 0.3 -3.3 0.5 -3.4-0.1 -3.2 1.3M336.4 609.7l-3.5-1.1 -2.9-2.2M330 606.4l-0.8-4.3 -1.8-3.9M329.3 596.5l-1.9 1.7M350.3 599.8l-5.2-1.3M342.7 587.5l0.2 3.5 -0.4 3.5M336.6 610.1l-0.2-0.4M333.2 581.9l-1.6 3.5 -1.1 3.6 0 3.9 -1.2 3.6M319.8 595.3l3.6 2 4 0.9M306.1 610.7l-1.4-3.6 -1-3.6M316.2 613.1l-1.2-3.1 0-3.3 -0.2-3.2 -0.7-3.2M314.1 600.3l-4.5 0.7 -4.5 0.7M303.7 603.5l1.4-1.8M330 606.4l-2.6 2 -2.3 2.4 -3.2 1.2 -2.5 2.1M290.1 605.8l3.5-0.2 3.3-0.8 3.3-1.2 3.5-0.1M316.6 596.8l-2.5 3.5M300.5 589.1l0.8 3.3 1 3.1 1.9 2.9 0.9 3.3" fill="none" stroke="#3a3a3a" stroke-width="1.9" stroke-linejoin="round" stroke-linecap="round"/><path d="M425.3 576.5l-0.2-2.8 -0.4-3.2 -0.4-3.3 -0.6-3.5 -0.7-3.6 -0.9-3.4 -1-3.2 -1.2-3 -1.4-2.7 -1.5-2.6 -1.8-2.5 -1.9-2.4 -2-2.2 -2.1-2.2 -2.3-1.9 -2.3-1.9 -2.5-1.7 -2.7-1.5 -2.9-1.3 -2.9-1.2 -3-1.2 -3.1-1.1 -3-1 -2.9-1.1 -2.9-1.1 -2.9-1 -2.9-1 -2.8-1 -2.9-0.9 -2.9-0.8 -2.8-0.7 -2.8-0.7 -2.8-0.6 -2.9-0.5 -2.8-0.4 -2.9-0.4 -2.7-0.2 -2.6-0.3 -2.5-0.1 -2.2-0.1 -2 0 -1.9 0.2 -1.7 0.3 -1.5 0.4 -1.4 0.3 -1.4 0.3 -1.2 0.3 -1.2 0 -1-0.1 -0.8-0.4 -0.6-0.4 -0.6-0.5 -0.5-0.4 -0.7-0.4 -0.8-0.3 -1.1 0 -1.3 0.1 -1.6 0.3 -1.6 0.3 -1.8 0.5 -1.8 0.5 -1.9 0.6 -1.9 0.7 -1.8 0.8 -1.8 0.9 -1.9 0.9 -2 1.1 -1.9 1.1 -2 1.2 -1.9 1.2 -2 1.4 -1.9 1.4 -1.9 1.5 -2 1.5 -2 1.6 -2 1.6 -1.9 1.8 -1.9 1.8 -1.8 2 -1.8 2 -1.7 2.2 -1.7 2.4 -1.6 2.4 -1.6 2.6 -1.5 2.6 -1.4 2.6 -1.4 2.6 -1.3 2.4 -1.2 2.4 -1.3 2.3 -1.1 2.3 -1.1 2.3 -1 2.3 -0.8 2.2 -0.7 2.3 -0.5 2.3 -0.3 2.4 -0.2 2.4 0 2.5 0.1 2.5 0.3 2.4 0.4 2.3 0.6 2 0.7 1.9 0.8 1.6 0.9 1.5 1.1 1.2 1.2 1.2 1.4 1 1.6 0.9 1.7 0.9 2 0.8 2.3 0.7 2.6 0.6 2.8 0.4 3 0.4 3.1 0.3 3.1 0.4 3 0.3 3 0.5 2.9 0.5 3 0.6 3.1 0.5 3 0.6 3 0.6 2.9 0.6 2.6 0.6 2.5 0.6 2.2 0.6 1.9 0.5 1.8 0.6 1.6 0.5 1.6 0.6 1.6 0.7 1.7 0.7 1.8 0.9 1.9 1 2 1.2 2 1.3 2 1.3 2.1 1.4 2.1 1.3 2.1 1.2 2.2 1 2.2 0.9 2.4 1 2.4 0.9 2.4 0.8 2.4 0.7 2.3 0.5 2.2 0.4 2 0.2 1.9 0 1.8-0.3 1.7-0.4 1.7-0.5 1.5-0.7 1.4-0.7 1.2-0.9 1.1-0.9 0.9-1.1 0.6-1.2 0.4-1.5 0.4-1.4 0.2-1.5 0.3-1.5 0.3-1.3 0.5-1.2 0.5-1 0.4-1 0.5-0.9 0.4-0.8 0.6-0.7 0.7-0.7 0.8-0.5 1.1-0.5 1.3-0.3 1.6-0.1 1.7 0.1 1.9 0.1 2 0.1 1.9 0 2-0.1 1.9-0.3 1.9-0.5 2-0.5 2-0.6 2-0.8 1.9-0.8 2-0.9 1.8-1 1.7-1.1 1.6-1.2 1.6-1.3 1.6-1.5 1.4-1.5 1.4-1.6 1.2-1.7 1.1-1.7 0.9-1.7 0.7-1.7 0.7-1.8 0.4-1.7 0.4-1.8 0.2-2 0.1-2 -0.1-2.3z" fill="none" stroke="#3a3a3a" stroke-width="1.6"/><path d="M425.3 576.5l-0.2-2.8 -0.4-3.2 -0.4-3.3 -0.6-3.5 -0.7-3.6 -0.9-3.4 -1-3.2 -1.2-3 -1.4-2.7 -1.5-2.6 -1.8-2.5 -1.9-2.4 -2-2.2 -2.1-2.2 -2.3-1.9 -2.3-1.9 -2.5-1.7 -2.7-1.5 -2.9-1.3 -2.9-1.2 -3-1.2 -3.1-1.1 -3-1 -2.9-1.1 -2.9-1.1 -2.9-1 -2.9-1 -2.8-1 -2.9-0.9 -2.9-0.8 -2.8-0.7 -2.8-0.7 -2.8-0.6 -2.9-0.5 -2.8-0.4 -2.9-0.4 -2.7-0.2 -2.6-0.3 -2.5-0.1 -2.2-0.1 -2 0 -1.9 0.2 -1.7 0.3 -1.5 0.4 -1.4 0.3 -1.4 0.3 -1.2 0.3 -1.2 0 -1-0.1 -0.8-0.4 -0.6-0.4 -0.6-0.5 -0.5-0.4 -0.7-0.4 -0.8-0.3 -1.1 0 -1.3 0.1 -1.6 0.3 -1.6 0.3 -1.8 0.5 -1.8 0.5 -1.9 0.6 -1.9 0.7 -1.8 0.8 -1.8 0.9 -1.9 0.9 -2 1.1 -1.9 1.1 -2 1.2 -1.9 1.2 -2 1.4 -1.9 1.4 -1.9 1.5 -2 1.5 -2 1.6 -2 1.6 -1.9 1.8 -1.9 1.8 -1.8 2 -1.8 2 -1.7 2.2 -1.7 2.4 -1.6 2.4 -1.6 2.6 -1.5 2.6 -1.4 2.6 -1.4 2.6 -1.3 2.4 -1.2 2.4 -1.3 2.3 -1.1 2.3 -1.1 2.3 -1 2.3 -0.8 2.2 -0.7 2.3 -0.5 2.3 -0.3 2.4 -0.2 2.4 0 2.5 0.1 2.5 0.3 2.4 0.4 2.3 0.6 2 0.7 1.9 0.8 1.6 0.9 1.5 1.1 1.2 1.2 1.2 1.4 1 1.6 0.9 1.7 0.9 2 0.8 2.3 0.7 2.6 0.6 2.8 0.4 3 0.4 3.1 0.3 3.1 0.4 3 0.3 3 0.5 2.9 0.5 3 0.6 3.1 0.5 3 0.6 3 0.6 2.9 0.6 2.6 0.6 2.5 0.6 2.2 0.6 1.9 0.5 1.8 0.6 1.6 0.5 1.6 0.6 1.6 0.7 1.7 0.7 1.8 0.9 1.9 1 2 1.2 2 1.3 2 1.3 2.1 1.4 2.1 1.3 2.1 1.2 2.2 1 2.2 0.9 2.4 1 2.4 0.9 2.4 0.8 2.4 0.7 2.3 0.5 2.2 0.4 2 0.2 1.9 0 1.8-0.3 1.7-0.4 1.7-0.5 1.5-0.7 1.4-0.7 1.2-0.9 1.1-0.9 0.9-1.1 0.6-1.2 0.4-1.5 0.4-1.4 0.2-1.5 0.3-1.5 0.3-1.3 0.5-1.2 0.5-1 0.4-1 0.5-0.9 0.4-0.8 0.6-0.7 0.7-0.7 0.8-0.5 1.1-0.5 1.3-0.3 1.6-0.1 1.7 0.1 1.9 0.1 2 0.1 1.9 0 2-0.1 1.9-0.3 1.9-0.5 2-0.5 2-0.6 2-0.8 1.9-0.8 2-0.9 1.8-1 1.7-1.1 1.6-1.2 1.6-1.3 1.6-1.5 1.4-1.5 1.4-1.6 1.2-1.7 1.1-1.7 0.9-1.7 0.7-1.7 0.7-1.8 0.4-1.7 0.4-1.8 0.2-2 0.1-2 -0.1-2.3z" fill="url(#shade)" /></g>
<g><path d="M62.1 713.9l0.2-1.9 0.4-2.2 0.4-2.5 0.6-2.5 0.7-2.7 0.8-2.8 0.8-2.7 1-2.6 1.1-2.6 1.1-2.7 1.3-2.7 1.3-2.7 1.5-2.8 1.6-2.6 1.7-2.7 1.8-2.5 2-2.5 2.1-2.5 2.3-2.5 2.3-2.5 2.4-2.3 2.5-2.2 2.5-2.1 2.4-1.9 2.5-1.7 2.5-1.5 2.7-1.4 2.6-1.3 2.6-1.2 2.5-1 2.3-1 2.2-0.8 2-0.7 1.8-0.7 1.7-0.5 1.6-0.4 1.5-0.2 1.4-0.2 1.4-0.2 1.3 0 1.2 0.1 1.2 0.3 1 0.5 0.9 0.5 1 0.5 1 0.5 1 0.3 1.2 0.2 1.2-0.1 1.2-0.3 1.2-0.4 1.3-0.4 1.4-0.5 1.5-0.3 1.7-0.2 1.9 0 2.2 0.3 2.4 0.4 2.7 0.6 2.7 0.6 2.9 0.8 2.8 0.7 2.9 0.8 2.7 0.8 2.7 0.7 2.6 0.8 2.7 0.8 2.6 0.8 2.7 0.8 2.7 1 2.6 1 2.7 1.2 2.7 1.3 2.8 1.4 2.8 1.4 2.8 1.6 2.7 1.6 2.7 1.8 2.5 1.8 2.4 1.9 2.3 2 2.2 2.1 2.2 2.2 2.1 2.3 2 2.4 1.8 2.4 1.6 2.5 1.4 2.6 1.2 2.7 1.1 2.7 0.8 2.9 0.7 3 0.6 2.9 0.5 2.9 0.3 2.9 0.2 2.7 0.1 2.7 0 2.7 -0.1 2.6 -0.3 2.7 -0.3 2.5 -0.6 2.4 -0.6 2.2 -0.8 2.1 -0.9 1.9 -1.1 1.7 -1.2 1.6 -1.3 1.5 -1.4 1.4 -1.7 1.2 -1.7 1 -2 1 -2.2 0.8 -2.6 0.6 -2.7 0.4 -2.9 0.3 -3 0.2 -2.8 0.2 -2.7 0.2 -2.5 0.2 -2.3 0.2 -2.4 0.1 -2.3 0 -2.1 0 -2 0 -1.8 0.2 -1.5 0.3 -1.2 0.6 -0.7 0.8 -0.2 1.1 0.1 1.3 0.4 1.4 0.3 1.4 0.3 1.4 0.1 1.3 -0.3 1.2 -0.6 1.1 -0.8 1.1 -0.9 1 -1.1 1.1 -1.1 0.9 -1.3 0.8 -1.3 0.6 -1.4 0.5 -1.5 0.3 -1.7 0.1 -1.8-0.1 -1.9-0.1 -1.9-0.3 -1.9-0.4 -1.8-0.4 -1.7-0.5 -1.5-0.6 -1.3-0.8 -1.2-0.8 -1.3-1 -1.2-1 -1.4-1 -1.6-1 -1.9-0.9 -2.1-0.9 -2.4-0.9 -2.5-0.9 -2.6-0.8 -2.8-0.9 -2.8-0.9 -3-0.9 -3.1-0.9 -3.3-0.9 -3.5-0.9 -3.6-0.9 -3.8-0.9 -3.8-0.8 -3.6-0.9 -3.5-0.9 -3.3-0.9 -3.1-0.9 -2.9-0.8 -2.8-0.9 -2.7-0.9 -2.6-0.8 -2.5-0.9 -2.4-0.9 -2.3-1 -2.2-1 -2.1-1 -2.1-1.1 -1.9-1.1 -1.8-1.1 -1.6-1 -1.4-1.1 -1.1-1.1 -0.9-1 -0.6-0.9 -0.5-0.8 -0.2-0.8 -0.2-1 0-1.1 0.1-1.3z" fill="#3a3a3a" stroke="#2e2e2e" stroke-width="1"/><path d="M100.6 721.3l4 8 1.8 0.4 9.3-5.5 1.4-4.5 -12.9-2.1zM81.1 716.2l-2 7 3 5.3 9.8-3.5 1.3-3.5 -5.2-9.7zM102.1 709l4.8-6.1 -12.9-8.1 -1.2 0.1 -4.7 15.5 0.1 0.5zM92.8 694.9l-4.8-3.6 -11.2 4.9 -1.1 3 0.9 2.9 11.5 8.3zM94 694.8l13.5-13.5 -9.8-4.5 -6.1 0.6 -4.7 7.5 1.1 6.4 4.8 3.6zM68 724.2l11.1-1 2-7 -8.9-2.6zM128.3 745.2l2.9 0.8 3 0.9 2.8 0.9 1.4 0.4 -0.9-7.6 -1.4-1 -2-1.5 -1.6-1.4zM88 711.8l5.2 9.7 7.4-0.2 3.6-3.7 -2.1-8.6 -13.9 1.9zM117.1 719.7l-1.4 4.5 3.9 11.2 10.5-1.1 -0.5-0.6 -1.1-1.4 -1.1-1.4 -0.9-1.4 -0.9-1.5 -0.8-1.4 -0.9-1.4 -0.9-1.4 -0.9-1.5 -0.8-1.4 -0.8-1.4 -0.7-1.5 -0.3-0.7zM75.7 699.2l1.1-3 -6.1-10.6 -0.2 0.4 -1.3 2.7 -1.1 2.7 -1.1 2.6 -1 2.6 -0.8 2.7 -0.2 0.7zM86.9 684.9l4.7-7.5 -8.2-10.7 -0.9 1 -2.1 2.5 -2 2.5 -1.8 2.5 -1.7 2.7 -1.3 2.1zM117.1 719.7l2.4-2.4 -0.3-0.7 -0.6-1.4 -0.4-1.3 -0.3-1.3 -0.4-1.3 -0.2-1.3 -0.2-1.3 0-1.2 0.2-1.2 0.3-1.2 0.2-0.5 -9.3-2.1 -1.6 0.4 -4.8 6.1 2.1 8.6zM119.6 735.4l-4.3 6.5 2.4 0.5 3.6 0.9 3.5 0.9 3.3 0.9 0.2 0.1 4.2-8.5 -0.1-0.1 -1.5-1.4 -0.8-0.9zM71 711.6l5.6-9.5 -0.9-2.9 -10.7 0.8 -0.6 2.1 -0.7 2.7 -0.6 2.5 -0.4 2.2zM91.9 725l3.6 9.6 9.1-5.3 -4-8 -7.4 0.2zM115.7 724.2l-9.3 5.5 3.4 10.9 0.3 0.1 3.8 0.8 1.4 0.4 4.3-6.5zM108.5 702.5l-0.8-21.2 -0.2 0 -13.5 13.5 12.9 8.1zM68 724.2l4.2-10.6 -1.2-2 -8.3-2.1 0 0.3 -0.4 2.2 -0.2 1.9 -0.2 1.6 -0.1 1.3 0 1.1 0.2 1 0.2 0.8 0.5 0.8 0.6 0.9 0.9 1 1.1 1.1 1.4 1.1 0.4 0.2zM82.1 728.5l-3-5.3 -11.1 1 -0.9 0.6 1.2 0.8 1.8 1.1 1.9 1.1 2.1 1.1 2.1 1 2.2 1 2.3 1 0.4 0.1zM95.5 734.6l-3.6-9.6 -9.8 3.5 -1 3.5 2 0.8 2.5 0.9 2.6 0.8 2.7 0.9 2.8 0.9 1.3 0.3zM88.1 710.4l-11.5-8.3 -5.6 9.5 1.2 2 8.9 2.6 6.9-4.4 0.2-0.9zM147.8 747.1l-0.4-0.2 -2.3-1.3 -2.2-1.5 -2.4-1.4 -2.2-1.6 -0.8-0.5 0.9 7.6 1.4 0.5 2.6 0.8 2.5 0.9 0.1 0.1zM106.4 729.7l-1.8-0.4 -9.1 5.3 -0.5 2 1.6 0.5 3.1 0.9 3.3 0.9 3.5 0.9 3.3 0.8zM76.8 696.2l11.2-4.9 -1.1-6.4 -13.3-4.9 -0.3 0.5 -1.5 2.8 -1.1 2.3z" fill="#4a8c7e"/><path d="M91.6 677.4l6.1-0.6 0.7-10.9 -9.3-5 -2 1.8 -2.3 2.5 -1.4 1.5zM118.6 685.8l-10-4.9 -0.9 0.4 0.8 21.2 9.3 2.1 0.4-0.7 0.7-1zM122.4 684.9l-3.8 0.9 0.3 17.1 0.1-0.2 1-1.1 1.2-1.2 1.4-1.1 1.5-1.1 1.7-1 1.8-0.9 1.9-0.9 2.1-0.8 2.2-0.6 0.1-0.1zM107.4 658.4l10.9 3.5 8.8-5.9 -0.1-2.1 -5.6-11.2 -0.8 0.2 -1.8 0.7 -2 0.7 -2.2 0.8 -2.3 1 -2.5 1 -2.6 1.2 -2.4 1.1zM172.4 683.2l-1.5-1.3 -15.3 4.1 -0.5 4.5 2.4-0.3 2.8-0.2 2.8-0.1 2.6-0.1 2.6-0.1 2.4 0 2.2 0 0.6 0zM110.6 675.8l-4.8-13.1 -7.4 3.2 -0.7 10.9 9.8 4.5 0.2 0 0.9-0.4zM129.2 677l-1.8-4.1 -9.7-2.4 -7.1 5.3 -2 5.1 10 4.9 3.8-0.9zM185.1 679.9l2.6-7.7 -3.2-4.4 -2.5-1.4 -4.9 1.6 -6.6 9.5 0.4 4.4 1.5 1.3zM155.6 686l-2.5-6.2 -14.4-0.9 -0.8 0.5 -0.6 13.7 1.5-0.3 2.7-0.5 2.6-0.4 2.7-0.4 2.6-0.4 2.6-0.3 2.8-0.3 0.3 0zM153.1 679.8l2.5 6.2 15.3-4.1 -0.4-4.4 -9.9-6.8 -6.4 5.8zM173.5 689.7l1.6 0 2 0 1.9 0.1 1.9 0.1 1.8 0.3 1.8 0.4 1.9 0.5 1.4 0.5 0.6-1.3 -3.3-10.4 -12.7 3.3zM118.3 661.9l-10.9-3.5 -1.6 4.3 4.8 13.1 7.1-5.3zM98.4 665.9l7.4-3.2 1.6-4.3 -2.6-9 -0.2 0.2 -2.7 1.4 -2.5 1.5 -2.5 1.7 -2.4 1.9 -2.5 2.1 -2.5 2.2 -0.4 0.5zM203.6 694.7l-2.1-8.8 -13.1 4.4 -0.6 1.3 0.5 0.2 2 0.9 2 1.1 1.9 1.2 1.9 1.2 1.7 1.2 1.1 0.9zM137.9 679.4l-8.7-2.4 -6.8 7.9 11.5 9 2.4-0.5 1-0.3zM118.3 661.9l-0.6 8.6 9.7 2.4 3.3-9 -1.4-5.4 -2.2-2.5z" fill="#d2a83e"/><path d="M182 666.4l2.5 1.4 12-11.4 -1.8-0.9 -2.7-1.3 -2.7-1.2 -2.6-1 -2.7-1 -2.7-0.8 -2.6-0.8 -0.4-0.1zM213.8 721.1l1.4-1.1 -6.2-13.4 -0.3-0.2 -3.9 1.2 0 0.6 -0.1 1.3 -0.1 1.5 -0.3 1.5 -0.4 1.5 -0.6 1.5 -0.7 1.5 -0.9 1.3 -1.1 1.2 -1.1 0.8zM208.2 734.2l-15.5-5.8 -0.8 14.2 0.2 0 2.3 0 2.4-0.1 2.3-0.2 2.5-0.2 2.7-0.2 2.8-0.2 1.3-0.1zM227.3 713.6l-5.2 5.5 6.3 14.5 0.2-0.3 1.2-1.6 1.1-1.7 0.9-1.9 0.8-2.1 0.6-2.2 0.6-2.4 0.3-2.5 0.3-2.7 0.1-2.6 0-2.7 0-0.2zM220.6 694.5l12.3 2.5 -0.1-0.2 -0.7-3 -0.8-2.9 -1.1-2.7 -1.2-2.7 -1.4-2.6 -1.6-2.5 -1.8-2.4 -2-2.4 -0.4-0.4 -5.4 6.3 2 10.9zM211.9 730.9l-3.7 3.3 0.2 7.4 1.7-0.1 2.9-0.3 2.7-0.4 2.6-0.6 2.2-0.8 2-1 1.6-0.9zM222.1 719.1l-6.9 0.9 -1.4 1.1 -1.9 9.8 12.2 6.6 0.1-0.1 1.7-1.2 1.4-1.4 1.1-1.2zM198.5 673.7l5.3 8.3 12.6-0.5 5.4-6.3 -1.7-1.9 -2.2-2.2 -2.2-2.1 -2.3-2 -2.4-1.9 -2.5-1.8 -2.4-1.6zM184.5 667.8l3.2 4.4 10.8 1.5 7.6-12 -0.3-0.2 -2.7-1.6 -2.8-1.6 -2.8-1.4 -1-0.5zM192.7 728.4l15.5 5.8 3.7-3.3 1.9-9.8 -14.3-0.8 -0.3 0.2 -1.6 0.8 -2 0.7 -2 0.6 -2.1 0.6 -0.8 0.3zM208.5 698l9.9-5.6 -2-10.9 -12.6 0.5 -2.3 3.9 2.1 8.8zM208.7 706.4l0.3 0.2 9.5-1.9 2.1-10.2 -2.2-2.1 -9.9 5.6zM198.9 698.3l0.4 0.3 1.3 1.1 1.1 1 0.8 1.1 0.8 1 0.5 1 0.5 1 0.3 1.1 0.1 1.1 0.1 0.6 3.9-1.2 -0.2-8.4 -4.9-3.3zM182.6 746.1l0-0.5 0.2-1.1 0.7-0.8 1.2-0.6 1.5-0.3 1.8-0.2 2 0 1.9 0 0.8-14.2 -2-4.9 -1.1 0.3 -1.8 0.7 -1.4 0.7 -1.2 0.8 -1 0.8 -0.9 0.8 -0.7 0.9 -0.7 0.9 -0.5 0.9 -0.4 1 -0.3 1 -0.1 1.1 0.2 1.2 0.3 1.2 0.4 1.3 0.4 1.3 0.3 1.3 0.1 1.3 -0.2 1.3 -0.5 1.3 -0.6 1.4 -0.2 0.4zM234.5 710.7l-0.1-2.5 -0.2-2.7 -0.3-2.9 -0.5-2.9 -0.5-2.7 -12.3-2.5 -2.1 10.2 8.8 8.9zM218.5 704.7l-9.5 1.9 6.2 13.4 6.9-0.9 5.2-5.5z" fill="#e2925c"/><path d="M146 664.8l8.2 11.7 6.4-5.8 1.9-7.2 -15.1-3.5zM146.7 657.9l-17.4 0.6 1.4 5.4 9.9 4.6 5.4-3.7 1.4-4.8zM164.6 656.7l-1.7 6.4 14.2 4.9 4.9-1.6 -3.7-17.1 -0.8-0.3zM162.5 663.5l0.4-0.4 1.7-6.4 -7.3-7.8 -10.6 8.6 0 0.4 0.7 2.1zM140.6 668.5l-1.9 10.4 14.4 0.9 1.1-3.3 -8.2-11.7zM203.8 682l-5.3-8.3 -10.8-1.5 -2.6 7.7 3.3 10.4 13.1-4.4zM177.5 649l-1.5-0.4 -2.6-0.8 -2.7-0.7 -2.7-0.8 -2.9-0.8 -2.8-0.7 -2.9-0.8 -2.3-0.5 0.2 5.4 7.3 7.8zM138.7 678.9l1.9-10.4 -9.9-4.6 -3.3 9 1.8 4.1 8.7 2.4zM146.7 657.5l-4.5-9.9 -15.2 6.3 0.1 2.1 2.2 2.5 17.4-0.6zM127 653.9l15.2-6.3 0.8-4.6 -0.1 0.1 -1.3 0.4 -1.2 0.4 -1.2 0.3 -1.2 0.1 -1.2-0.2 -1-0.3 -1-0.5 -1-0.5 -0.9-0.5 -1-0.5 -1.2-0.3 -1.2-0.1 -1.3 0 -1.4 0.2 -1.4 0.2 -1.5 0.2 -1.6 0.4 -0.9 0.3zM142.2 647.6l4.5 9.9 10.6-8.6 -0.2-5.4 -0.4-0.1 -2.7-0.6 -2.4-0.4 -2.2-0.3 -1.9 0 -1.7 0.2 -1.5 0.3 -1.3 0.4zM160.6 670.7l9.9 6.8 6.6-9.5 -14.2-4.9 -0.4 0.4z" fill="#58d2b4"/><path d="M180.8 745.4l-0.6 1 -0.9 1.4 -0.9 1.3 -1.1 1.2 -1.1 1.1 -1.2 0.8 -1.2 0.6 -1.3 0.5 -0.1 0 2.3 7.5 0.3-0.1 1.4-0.5 1.3-0.6 1.3-0.8 1.1-0.9 1.1-1.1 0.9-1 0.8-1.1 0.6-1.1 0.3-1.2 -0.1-1.3 -0.3-1.4 -0.3-1.4 -0.4-1.4 -0.1-0.8zM145 750.5l2.3 0.8 2.1 0.9 1.9 0.9 1.6 1 1.4 1 1.2 1 1.3 1 1.2 0.8 0.9 0.6 1.5-5.7 -0.1 0 -1.7-0.5 -1.8-0.7 -1.7-0.8 -1.9-0.8 -1.9-1 -1.9-1 -1.6-0.9zM172.4 753.3l-1.2 0.4 -1.5 0.2 -1.4 0.1 -1.6-0.1 -1.5-0.1 -1.6-0.2 -1.6-0.3 -1.6-0.5 -1.5 5.7 0.4 0.2 1.5 0.6 1.7 0.5 1.8 0.4 1.9 0.4 1.9 0.3 1.9 0.1 1.8 0.1 1.7-0.1 1.2-0.2z" fill="#8cc88c"/><path d="M118.3 661.9l-3.7-1.2 -3.5-1.4 -3.7-0.9M118.3 661.9l-0.5 4.3 -0.1 4.3M105.8 662.7l0.9 3.4 0.8 3.4 1.5 3.2 1.6 3.1M107.4 658.4l-1.6 4.3M110.6 675.8l3.2-3.1 3.9-2.2M209 706.6l3.1-1.1 3.2-0.3 3.2-0.5M209 706.6l1.7 3.3 0.7 3.7 1.9 3.2 1.9 3.2M218.5 704.7l2.9 2.9 3.1 2.8 2.8 3.2M215.2 720l3.4-0.9 3.5 0M222.1 719.1l2.7-2.6 2.5-2.9M232.9 697l-4-1.5 -4.3 0.4 -4-1.4M234.5 710.7l-3.6 1.5 -3.6 1.4M220.6 694.5l-0.5 3.4 -1.1 3.3 -0.5 3.5M213.8 721.1l-0.2 3.4 -0.3 3.3 -1.4 3.1M224.1 737.5l-2.9-1.9 -3.4-1.1 -2.8-2.2 -3.1-1.4M228.4 733.6l-0.9-3.9 -2.1-3.4 -1-3.8 -2.3-3.4M213.8 721.1l1.4-1.1M160.4 752.8l-1.5 5.7M172.4 753.3l0.7 3.9 1.6 3.6M208.2 734.2l-3.4-0.5 -3-1.4 -2.8-1.9 -3.2-0.8 -3.1-1.2M208.2 734.2l0.9 3.7 -0.7 3.7M192.7 728.4l-0.7 3.5 0.1 3.6 0.2 3.5 -0.4 3.6M190.7 723.5l2 4.9M199.5 720.3l3.6 0.2 3.6-0.4 3.6 0.9 3.5 0.1M211.9 730.9l-3.7 3.3M180.8 745.4l1.8 0.7M67.1 724.8l0.9-0.6M81.1 732l1-3.5M82.1 728.5l-3-5.3M68 724.2l3.7-1 3.7 0.6 3.7-0.6M121.4 642.7l1.2 4.1 3 3.1 1.4 4M143 643l-0.8 4.6M142.2 647.6l-2.9 1.6 -3.2 0.8 -3.3 0.8 -2.5 2.3 -3.3 0.8M117.7 670.5l3.3 0.6 3.1 1.2 3.3 0.6M130.7 663.9l-1.1 4.7 -2.2 4.3M130.7 663.9l-1.4-5.4M118.3 661.9l2.5-2.6 3.6-1 2.7-2.3M129.3 658.5l-2.2-2.5M104.8 649.4l1.1 4.6 1.5 4.4M127 653.9l0.1 2.1M79.1 723.2l1.2-3.4 0.8-3.6M68 724.2l1.5-3.5 0.7-3.8 2-3.3M81.1 716.2l-4.4-1.2 -4.5-1.4M62.7 709.5l4.2 1 4.1 1.1M71 711.6l1.2 2M91.6 677.4l-2.4 3.8 -2.3 3.7M91.6 677.4l-2.5-2.3 -2.2-2.6 -1.5-3.1 -2-2.7M86.9 684.9l-3.2-1.5 -3.3-1.2 -3.2-1.6 -3.6-0.6M97.7 676.8l-6.1 0.6M98.4 665.9l0 3.7 -0.3 3.6 -0.4 3.6M98.4 665.9l-3.2-1.4 -3-2 -3.1-1.6M98.4 665.9l3.8-1.3 3.6-1.9M107.7 681.3l-0.5 3.6 1.4 3.4 -0.7 3.6 -0.2 3.6 0.2 3.5 0.6 3.5M107.7 681.3l0.9-0.4M108.6 680.9l3.4 1.5 3.6 1.1 3 2.3M118.6 685.8l0.4 3.4 -0.4 3.4 -0.3 3.5 1 3.4 -0.4 3.4M108.5 702.5l3.2 0.4 3.1 0.8 3 0.9M97.7 676.8l3.6 0.8 2.6 3 3.6 0.7M110.6 675.8l-2 5.1M129.2 677l-2.1 2.8 -2.4 2.5 -2.3 2.6M129.2 677l4.1 2 4.6 0.4M122.4 684.9l2.6 2.6 3.4 1.6 2.2 3.2 3.3 1.6M137.9 679.4l-0.7 3.4 0.3 3.5 0 3.4 -0.2 3.4M118.6 685.8l3.8-0.9M127.4 672.9l1.8 4.1M130.7 663.9l3.1 2.1 3.2 1.6 3.6 0.9M138.7 678.9l0.9-3.4 0.1-3.6 0.9-3.4M138.7 678.9l-0.8 0.5M155.1 690.5l0.5-4.5M138.7 678.9l3.6 0.8 3.6-0.1 3.6 0.7 3.6-0.5M155.6 686l-0.7-3.3 -1.8-2.9M187.7 672.2l-3.2-4.4M187.7 672.2l-1.6 3.8 -1 3.9M185.1 679.9l-3.4 0.2 -2.9 1.6 -3.3 0.5 -3.1 1M177.1 668l4.9-1.6M177.1 668l-2.6 2.9 -1.7 3.5 -2.3 3.1M170.5 677.5l0.4 4.4M184.5 667.8l-2.5-1.4M170.9 681.9l1.5 1.3M196.5 656.4l-2 2.7 -3.2 1.4 -2.1 2.7 -2.3 2.3 -2.4 2.3M206.1 661.7l-2 3 -1.5 3.2 -2.7 2.5 -1.4 3.3M198.5 673.7l-3.6-0.1 -3.7-0.4 -3.5-1M188.4 690.3l-0.6 1.3M188.4 690.3l-0.9-3.5 -1.3-3.4 -1.1-3.5M173.5 689.7l-0.9-3.2 -0.2-3.3M178.3 649.3l1.5 3.2 0.1 3.6 0.8 3.4 0.5 3.5 0.8 3.4M155.6 686l3.9-0.8 3.7-1.6 3.7-1.4 4-0.3M208.7 706.4l-3.9 1.2M216.4 681.5l1.4 3.5 -0.2 3.8 0.8 3.6M216.4 681.5l-4.3-0.6 -4.2 0.5 -4.1 0.6M218.4 692.4l-3.7 1.2 -2.6 3 -3.6 1.4M203.8 682l-2.3 3.9M201.5 685.9l1.6 4.3 0.5 4.5M208.5 698l-4.9-3.3M221.8 675.2l-3 2.9 -2.4 3.4M220.6 694.5l-2.2-2.1M198.5 673.7l1.9 2.7 1.7 2.8 1.7 2.8M208.7 706.4l0.5-4.2 -0.7-4.2M188.4 690.3l3.1-1.8 3.7 0.3 2.9-2.3 3.4-0.6M198.9 698.3l4.7-3.6M177.5 649l-3.3 1.8 -3.3 1.8 -3.2 2.1 -3.1 2M177.1 668l-3.5-1.6 -3.7-0.6 -3.6-1.1 -3.4-1.6M162.9 663.1l1.1-3.2 0.6-3.2M157.1 643.5l0.2 5.4M142.2 647.6l0.8 3.6 2.9 2.7 0.8 3.6M157.3 648.9l-2.3 2.7 -3.5 0.9 -1.7 3.4 -3.1 1.6M157.3 648.9l2.8 2.2 2 3 2.5 2.6M129.3 658.5l3.5-0.4 3.5 0.5 3.4-0.5 3.5 0.4 3.5-0.6M115.7 724.2l2 3.5 1.1 3.8 0.8 3.9M115.7 724.2l-2.8 2.3 -3.7 0.9 -2.8 2.3M106.4 729.7l0.3 3.9 2.2 3.3 0.9 3.7M115.3 741.9l1.8-3.5 2.5-3M70.7 685.6l2.6 3.2 1.9 3.6 1.6 3.8M86.9 684.9l-0.3 3.3 1.4 3.1M88 691.3l-4.1 0.9 -3.7 1.7 -3.4 2.3M65 700l3.5-0.8 3.5-0.4 3.7 0.4M76.8 696.2l-1.1 3M71 711.6l2.6-2.8 1.5-3.4 1.5-3.3M75.7 699.2l0.9 2.9M160.6 670.7l-3.6 2.4 -2.8 3.4M160.6 670.7l1.6-3.4 0.3-3.8M162.5 663.5l-3.7-1.5 -4.1 0.6 -3.4-2.3 -3.9-0.3M154.2 676.5l-2-3 -1.5-3.3 -3.1-2.2 -1.6-3.2M146 664.8l1.4-4.8M153.1 679.8l1.1-3.3M170.5 677.5l-3.4-2.1 -3.5-1.9 -3-2.8M162.9 663.1l-0.4 0.4M146.7 657.9l0.7 2.1M140.6 668.5l3-1.5 2.4-2.2M128.3 745.2l2.2-4.2 2-4.3M138.4 748.2l0.2-3.9 -1.1-3.7M119.6 735.4l3.5-0.3 3.6 0.1 3.4-0.9M104.6 729.3l-2.9 1.9 -2.8 2.3 -3.4 1.1M95.5 734.6l-0.5 2M106.4 729.7l-1.8-0.4M147.8 747.1l-2.8 3.4M91.9 725l1.9 2.9 1.2 3.2 0.5 3.5M82.1 728.5l3-1.9 3.7-0.1 3.1-1.5M117.1 719.7l2.4-2.4M115.7 724.2l1.4-4.5M107.5 681.3l-2.9 2.4 -3.1 2.4 -2.4 2.9 -2.1 3.4 -3 2.4M88 691.3l4.8 3.6M94 694.8l-1.2 0.1M108.5 702.5l-1.6 0.4M94 694.8l3.5 1.5 3 2.3 3.3 2 3.1 2.3M76.6 702.1l3.3 1.5 2.2 3 2.9 2 3.1 1.8M92.8 694.9l-0.8 3.1 -1.2 3 -1 3.1 -0.9 3.1 -0.8 3.2M102.1 709l-3.5 0.3 -3.5 0.4 -3.5-0.1 -3.4 1.3M102.1 709l1.4 4.2 0.7 4.4M100.6 721.3l-3.7 0.8 -3.7-0.6M100.6 721.3l3.6-3.7M93.2 721.5l-2.3-2.9 -1-3.6 -1.9-3.2M88 711.8l0.2-0.9M106.9 702.9l-2.4 3.1 -2.4 3M88.1 710.4l0.1 0.5M117.1 719.7l-3.1-1.2 -3.4 0.1 -3.1-1.1 -3.3 0.1M91.9 725l1.3-3.5M104.6 729.3l-1.5-4.3 -2.5-3.7M81.1 716.2l3.3-2.4 3.6-2" fill="none" stroke="#3a3a3a" stroke-width="1.9" stroke-linejoin="round" stroke-linecap="round"/><path d="M61.9 715.5l-0.1 1.3 0 1.1 0.2 1 0.2 0.8 0.5 0.8 0.6 0.9 0.9 1 1.1 1.1 1.4 1.1 1.6 1 1.8 1.1 1.9 1.1 2.1 1.1 2.1 1 2.2 1 2.3 1 2.4 0.9 2.5 0.9 2.6 0.8 2.7 0.9 2.8 0.9 2.9 0.8 3.1 0.9 3.3 0.9 3.5 0.9 3.6 0.9 3.8 0.8 3.8 0.9 3.6 0.9 3.5 0.9 3.3 0.9 3.1 0.9 3 0.9 2.8 0.9 2.8 0.9 2.6 0.8 2.5 0.9 2.4 0.9 2.1 0.9 1.9 0.9 1.6 1 1.4 1 1.2 1 1.3 1 1.2 0.8 1.3 0.8 1.5 0.6 1.7 0.5 1.8 0.4 1.9 0.4 1.9 0.3 1.9 0.1 1.8 0.1 1.7-0.1 1.5-0.3 1.4-0.5 1.3-0.6 1.3-0.8 1.1-0.9 1.1-1.1 0.9-1 0.8-1.1 0.6-1.1 0.3-1.2 -0.1-1.3 -0.3-1.4 -0.3-1.4 -0.4-1.4 -0.1-1.3 0.2-1.1 0.7-0.8 1.2-0.6 1.5-0.3 1.8-0.2 2 0 2.1 0 2.3 0 2.4-0.1 2.3-0.2 2.5-0.2 2.7-0.2 2.8-0.2 3-0.2 2.9-0.3 2.7-0.4 2.6-0.6 2.2-0.8 2-1 1.7-1 1.7-1.2 1.4-1.4 1.3-1.5 1.2-1.6 1.1-1.7 0.9-1.9 0.8-2.1 0.6-2.2 0.6-2.4 0.3-2.5 0.3-2.7 0.1-2.6 0-2.7 -0.1-2.7 -0.2-2.7 -0.3-2.9 -0.5-2.9 -0.6-2.9 -0.7-3 -0.8-2.9 -1.1-2.7 -1.2-2.7 -1.4-2.6 -1.6-2.5 -1.8-2.4 -2-2.4 -2.1-2.3 -2.2-2.2 -2.2-2.1 -2.3-2 -2.4-1.9 -2.5-1.8 -2.7-1.8 -2.7-1.6 -2.8-1.6 -2.8-1.4 -2.8-1.4 -2.7-1.3 -2.7-1.2 -2.6-1 -2.7-1 -2.7-0.8 -2.6-0.8 -2.7-0.8 -2.6-0.8 -2.7-0.7 -2.7-0.8 -2.9-0.8 -2.8-0.7 -2.9-0.8 -2.7-0.6 -2.7-0.6 -2.4-0.4 -2.2-0.3 -1.9 0 -1.7 0.2 -1.5 0.3 -1.4 0.5 -1.3 0.4 -1.2 0.4 -1.2 0.3 -1.2 0.1 -1.2-0.2 -1-0.3 -1-0.5 -1-0.5 -0.9-0.5 -1-0.5 -1.2-0.3 -1.2-0.1 -1.3 0 -1.4 0.2 -1.4 0.2 -1.5 0.2 -1.6 0.4 -1.7 0.5 -1.8 0.7 -2 0.7 -2.2 0.8 -2.3 1 -2.5 1 -2.6 1.2 -2.6 1.3 -2.7 1.4 -2.5 1.5 -2.5 1.7 -2.4 1.9 -2.5 2.1 -2.5 2.2 -2.4 2.3 -2.3 2.5 -2.3 2.5 -2.1 2.5 -2 2.5 -1.8 2.5 -1.7 2.7 -1.6 2.6 -1.5 2.8 -1.3 2.7 -1.3 2.7 -1.1 2.7 -1.1 2.6 -1 2.6 -0.8 2.7 -0.8 2.8 -0.7 2.7 -0.6 2.5 -0.4 2.5 -0.4 2.2 -0.2 1.9zM119 702.7l1-1.1 1.2-1.2 1.4-1.1 1.5-1.1 1.7-1 1.8-0.9 1.9-0.9 2.1-0.8 2.2-0.6 2.5-0.6 2.5-0.6 2.7-0.5 2.6-0.4 2.7-0.4 2.6-0.4 2.6-0.3 2.8-0.3 2.7-0.3 2.8-0.2 2.8-0.1 2.6-0.1 2.6-0.1 2.4 0 2.2 0 2.2 0 2 0 1.9 0.1 1.9 0.1 1.8 0.3 1.8 0.4 1.9 0.5 1.9 0.7 2 0.9 2 1.1 1.9 1.2 1.9 1.2 1.7 1.2 1.5 1.2 1.3 1.1 1.1 1 0.8 1.1 0.8 1 0.5 1 0.5 1 0.3 1.1 0.1 1.1 0.1 1.2 -0.1 1.3 -0.1 1.5 -0.3 1.5 -0.4 1.5 -0.6 1.5 -0.7 1.5 -0.9 1.3 -1.1 1.2 -1.4 1 -1.6 0.8 -2 0.7 -2 0.6 -2.1 0.6 -1.9 0.6 -1.8 0.7 -1.4 0.7 -1.2 0.8 -1 0.8 -0.9 0.8 -0.7 0.9 -0.7 0.9 -0.5 0.9 -0.4 1 -0.3 1 -0.1 1.1 0.2 1.2 0.3 1.2 0.4 1.3 0.4 1.3 0.3 1.3 0.1 1.3 -0.2 1.3 -0.5 1.3 -0.6 1.4 -0.8 1.4 -0.9 1.4 -0.9 1.3 -1.1 1.2 -1.1 1.1 -1.2 0.8 -1.2 0.6 -1.3 0.5 -1.3 0.4 -1.5 0.2 -1.4 0.1 -1.6-0.1 -1.5-0.1 -1.6-0.2 -1.6-0.3 -1.7-0.5 -1.7-0.5 -1.8-0.7 -1.7-0.8 -1.9-0.8 -1.9-1 -1.9-1 -2-1.1 -2.3-1.3 -2.2-1.5 -2.4-1.4 -2.2-1.6 -2.2-1.5 -2-1.5 -1.7-1.5 -1.5-1.4 -1.3-1.5 -1.1-1.4 -1.1-1.4 -0.9-1.4 -0.9-1.5 -0.8-1.4 -0.9-1.4 -0.9-1.4 -0.9-1.5 -0.8-1.4 -0.8-1.4 -0.7-1.5 -0.6-1.4 -0.6-1.4 -0.4-1.3 -0.3-1.3 -0.4-1.3 -0.2-1.3 -0.2-1.3 0-1.2 0.2-1.2 0.3-1.2 0.6-1.2z" fill="none" stroke="#3a3a3a" stroke-width="1.6"/><path d="M118.2 703.9l0.8-1.2 1-1.1 1.2-1.2 1.4-1.1 1.5-1.1 1.7-1 1.8-0.9 1.9-0.9 2.1-0.8 2.2-0.6 2.5-0.6 2.5-0.6 2.7-0.5 2.6-0.4 2.7-0.4 2.6-0.4 2.6-0.3 2.8-0.3 2.7-0.3 2.8-0.2 2.8-0.1 2.6-0.1 2.6-0.1 2.4 0 2.2 0 2.2 0 2 0 1.9 0.1 1.9 0.1 1.8 0.3 1.8 0.4 1.9 0.5 1.9 0.7 2 0.9 2 1.1 1.9 1.2 1.9 1.2 1.7 1.2 1.5 1.2 1.3 1.1 1.1 1 0.8 1.1 0.8 1 0.5 1 0.5 1 0.3 1.1 0.1 1.1 0.1 1.2 -0.1 1.3 -0.1 1.5 -0.3 1.5 -0.4 1.5 -0.6 1.5 -0.7 1.5 -0.9 1.3 -1.1 1.2 -1.4 1 -1.6 0.8 -2 0.7 -2 0.6 -2.1 0.6 -1.9 0.6 -1.8 0.7 -1.4 0.7 -1.2 0.8 -1 0.8 -0.9 0.8 -0.7 0.9 -0.7 0.9 -0.5 0.9 -0.4 1 -0.3 1 -0.1 1.1 0.2 1.2 0.3 1.2 0.4 1.3 0.4 1.3 0.3 1.3 0.1 1.3 -0.2 1.3 -0.5 1.3 -0.6 1.4 -0.8 1.4 -0.9 1.4 -0.9 1.3 -1.1 1.2 -1.1 1.1 -1.2 0.8 -1.2 0.6 -1.3 0.5 -1.3 0.4 -1.5 0.2 -1.4 0.1 -1.6-0.1 -1.5-0.1 -1.6-0.2 -1.6-0.3 -1.7-0.5 -1.7-0.5 -1.8-0.7 -1.7-0.8 -1.9-0.8 -1.9-1 -1.9-1 -2-1.1 -2.3-1.3 -2.2-1.5 -2.4-1.4 -2.2-1.6 -2.2-1.5 -2-1.5 -1.7-1.5 -1.5-1.4 -1.3-1.5 -1.1-1.4 -1.1-1.4 -0.9-1.4 -0.9-1.5 -0.8-1.4 -0.9-1.4 -0.9-1.4 -0.9-1.5 -0.8-1.4 -0.8-1.4 -0.7-1.5 -0.6-1.4 -0.6-1.4 -0.4-1.3 -0.3-1.3 -0.4-1.3 -0.2-1.3 -0.2-1.3 0-1.2 0.2-1.2 0.3-1.2z" fill="#3b3b3b" stroke="#333" stroke-width="1"/><path d="M62.1 713.9l0.2-1.9 0.4-2.2 0.4-2.5 0.6-2.5 0.7-2.7 0.8-2.8 0.8-2.7 1-2.6 1.1-2.6 1.1-2.7 1.3-2.7 1.3-2.7 1.5-2.8 1.6-2.6 1.7-2.7 1.8-2.5 2-2.5 2.1-2.5 2.3-2.5 2.3-2.5 2.4-2.3 2.5-2.2 2.5-2.1 2.4-1.9 2.5-1.7 2.5-1.5 2.7-1.4 2.6-1.3 2.6-1.2 2.5-1 2.3-1 2.2-0.8 2-0.7 1.8-0.7 1.7-0.5 1.6-0.4 1.5-0.2 1.4-0.2 1.4-0.2 1.3 0 1.2 0.1 1.2 0.3 1 0.5 0.9 0.5 1 0.5 1 0.5 1 0.3 1.2 0.2 1.2-0.1 1.2-0.3 1.2-0.4 1.3-0.4 1.4-0.5 1.5-0.3 1.7-0.2 1.9 0 2.2 0.3 2.4 0.4 2.7 0.6 2.7 0.6 2.9 0.8 2.8 0.7 2.9 0.8 2.7 0.8 2.7 0.7 2.6 0.8 2.7 0.8 2.6 0.8 2.7 0.8 2.7 1 2.6 1 2.7 1.2 2.7 1.3 2.8 1.4 2.8 1.4 2.8 1.6 2.7 1.6 2.7 1.8 2.5 1.8 2.4 1.9 2.3 2 2.2 2.1 2.2 2.2 2.1 2.3 2 2.4 1.8 2.4 1.6 2.5 1.4 2.6 1.2 2.7 1.1 2.7 0.8 2.9 0.7 3 0.6 2.9 0.5 2.9 0.3 2.9 0.2 2.7 0.1 2.7 0 2.7 -0.1 2.6 -0.3 2.7 -0.3 2.5 -0.6 2.4 -0.6 2.2 -0.8 2.1 -0.9 1.9 -1.1 1.7 -1.2 1.6 -1.3 1.5 -1.4 1.4 -1.7 1.2 -1.7 1 -2 1 -2.2 0.8 -2.6 0.6 -2.7 0.4 -2.9 0.3 -3 0.2 -2.8 0.2 -2.7 0.2 -2.5 0.2 -2.3 0.2 -2.4 0.1 -2.3 0 -2.1 0 -2 0 -1.8 0.2 -1.5 0.3 -1.2 0.6 -0.7 0.8 -0.2 1.1 0.1 1.3 0.4 1.4 0.3 1.4 0.3 1.4 0.1 1.3 -0.3 1.2 -0.6 1.1 -0.8 1.1 -0.9 1 -1.1 1.1 -1.1 0.9 -1.3 0.8 -1.3 0.6 -1.4 0.5 -1.5 0.3 -1.7 0.1 -1.8-0.1 -1.9-0.1 -1.9-0.3 -1.9-0.4 -1.8-0.4 -1.7-0.5 -1.5-0.6 -1.3-0.8 -1.2-0.8 -1.3-1 -1.2-1 -1.4-1 -1.6-1 -1.9-0.9 -2.1-0.9 -2.4-0.9 -2.5-0.9 -2.6-0.8 -2.8-0.9 -2.8-0.9 -3-0.9 -3.1-0.9 -3.3-0.9 -3.5-0.9 -3.6-0.9 -3.8-0.9 -3.8-0.8 -3.6-0.9 -3.5-0.9 -3.3-0.9 -3.1-0.9 -2.9-0.8 -2.8-0.9 -2.7-0.9 -2.6-0.8 -2.5-0.9 -2.4-0.9 -2.3-1 -2.2-1 -2.1-1 -2.1-1.1 -1.9-1.1 -1.8-1.1 -1.6-1 -1.4-1.1 -1.1-1.1 -0.9-1 -0.6-0.9 -0.5-0.8 -0.2-0.8 -0.2-1 0-1.1 0.1-1.3z" fill="url(#shade)" /></g>
<g><path d="M426.5 713.9l-0.2-1.9 -0.4-2.2 -0.4-2.5 -0.6-2.5 -0.7-2.7 -0.8-2.8 -0.8-2.7 -1-2.6 -1.1-2.6 -1.1-2.7 -1.3-2.7 -1.3-2.7 -1.5-2.8 -1.6-2.6 -1.7-2.7 -1.8-2.5 -2-2.5 -2.1-2.5 -2.3-2.5 -2.3-2.5 -2.4-2.3 -2.5-2.2 -2.5-2.1 -2.4-1.9 -2.5-1.7 -2.5-1.5 -2.7-1.4 -2.6-1.3 -2.6-1.2 -2.5-1 -2.3-1 -2.2-0.8 -2-0.7 -1.8-0.7 -1.7-0.5 -1.6-0.4 -1.5-0.2 -1.4-0.2 -1.4-0.2 -1.3 0 -1.2 0.1 -1.2 0.3 -1 0.5 -0.9 0.5 -1 0.5 -1 0.5 -1 0.3 -1.2 0.2 -1.2-0.1 -1.2-0.3 -1.2-0.4 -1.3-0.4 -1.4-0.5 -1.5-0.3 -1.7-0.2 -1.9 0 -2.2 0.3 -2.4 0.4 -2.7 0.6 -2.7 0.6 -2.9 0.8 -2.8 0.7 -2.9 0.8 -2.7 0.8 -2.7 0.7 -2.6 0.8 -2.7 0.8 -2.6 0.8 -2.7 0.8 -2.7 1 -2.6 1 -2.7 1.2 -2.7 1.3 -2.8 1.4 -2.8 1.4 -2.8 1.6 -2.7 1.6 -2.7 1.8 -2.5 1.8 -2.4 1.9 -2.3 2 -2.2 2.1 -2.2 2.2 -2.1 2.3 -2 2.4 -1.8 2.4 -1.6 2.5 -1.4 2.6 -1.2 2.7 -1.1 2.7 -0.8 2.9 -0.7 3 -0.6 2.9 -0.5 2.9 -0.3 2.9 -0.2 2.7 -0.1 2.7 0 2.7 0.1 2.6 0.3 2.7 0.3 2.5 0.6 2.4 0.6 2.2 0.8 2.1 0.9 1.9 1.1 1.7 1.2 1.6 1.3 1.5 1.4 1.4 1.7 1.2 1.7 1 2 1 2.2 0.8 2.6 0.6 2.7 0.4 2.9 0.3 3 0.2 2.8 0.2 2.7 0.2 2.5 0.2 2.3 0.2 2.4 0.1 2.3 0 2.1 0 2 0 1.8 0.2 1.5 0.3 1.2 0.6 0.7 0.8 0.2 1.1 -0.1 1.3 -0.4 1.4 -0.3 1.4 -0.3 1.4 -0.1 1.3 0.3 1.2 0.6 1.1 0.8 1.1 0.9 1 1.1 1.1 1.1 0.9 1.3 0.8 1.3 0.6 1.4 0.5 1.5 0.3 1.7 0.1 1.8-0.1 1.9-0.1 1.9-0.3 1.9-0.4 1.8-0.4 1.7-0.5 1.5-0.6 1.3-0.8 1.2-0.8 1.3-1 1.2-1 1.4-1 1.6-1 1.9-0.9 2.1-0.9 2.4-0.9 2.5-0.9 2.6-0.8 2.8-0.9 2.8-0.9 3-0.9 3.1-0.9 3.3-0.9 3.5-0.9 3.6-0.9 3.8-0.9 3.8-0.8 3.6-0.9 3.5-0.9 3.3-0.9 3.1-0.9 2.9-0.8 2.8-0.9 2.7-0.9 2.6-0.8 2.5-0.9 2.4-0.9 2.3-1 2.2-1 2.1-1 2.1-1.1 1.9-1.1 1.8-1.1 1.6-1 1.4-1.1 1.1-1.1 0.9-1 0.6-0.9 0.5-0.8 0.2-0.8 0.2-1 0-1.1 -0.1-1.3z" fill="#3a3a3a" stroke="#2e2e2e" stroke-width="1"/><path d="M281.1 728.3l-7.3-12 -0.8 0.1 -8 13.3 0.2 8.2 0.9 0.5 2 1 1.7 0.6zM281.1 674.6l0.8-12.5 -1.8 1.2 -2.5 1.8 -2.4 1.9 -2.3 2 -2.2 2.1 -2.2 2.2 -1.9 2.1zM306.8 743.3l-0.3-1 -0.2-1.3 0.1-1.3 0.3-1.3 0.4-1.3 0.4-1.3 0.3-1.2 0.2-1.2 -0.1-1.1 -0.3-1 -0.4-1 -0.5-0.9 -0.7-0.9 -0.7-0.9 -0.6-0.5 -13.1 9.8 -0.2 5.5 0.4 0.1 2.4 0.1 2.3 0 2.1 0 2 0 1.8 0.2 1.5 0.3 1.2 0.6 0.2 0.2zM282.2 706.9l-8.4 9.4 7.3 12 3.2-0.3 6.6-6.8 -1.5-0.7 -1.4-1 -1.1-1.2 -0.8-1.3 -0.8-1.5 -0.5-1.5 -0.5-1.5 -0.3-1.5 -0.1-1.5 -0.1-1.3 0-1zM270.9 689.3l8.1 1.5 4-3.5 -1.6-12.5 -0.3-0.2 -14.5 0.8 -0.2 0.2 -2 2.4 -0.3 0.5zM283 687.3l-4 3.5 2.5 15 0.7 1.1 1.6 0.3 0.1-0.2 0.1-1.1 0.3-1.1 0.5-1 0.5-1 0.8-1 0.8-1.1 1.1-1 1.3-1.1 1.5-1.2 1.7-1.2 1.9-1.2 0.6-0.4 -4.8-6.7zM265 729.7l-9.4-15.8 -1.5-0.1 0.1 2.4 0.3 2.7 0.3 2.5 0.6 2.4 0.6 2.2 0.8 2.1 0.9 1.9 1.1 1.7 1.2 1.6 1.3 1.5 1.4 1.4 1.7 1.2 0.8 0.5zM281.1 674.6l0.3 0.2 12.3-0.6 2.1-8.1 -12.3-5 -0.7 0.4 -0.9 0.6zM299.5 661.1l6.4-4.2 1.7-6.8 -0.3 0.1 -2.7 0.8 -2.7 1 -2.6 1 -2.7 1.2 -1.6 0.8zM298.3 664.4l1.2-3.3 -4.5-6.1 -1.1 0.5 -2.8 1.4 -2.8 1.4 -2.8 1.6 -2 1.2 12.3 5zM264.6 697.5l6.3-8.2 -6.8-10.8 -1.5 1.9 -1.6 2.5 -1.4 2.6 -1.2 2.7 -1.1 2.7 -0.8 2.9 -0.3 1zM291.6 736.9l-7.3-8.9 -3.2 0.3 -11.3 11.7 0.5 0.2 2.6 0.6 2.7 0.4 2.9 0.3 3 0.2 2.8 0.2 2.7 0.2 2.5 0.2 1.9 0.1zM255.6 713.9l4.7-1.8 5.4-10.5 -1.1-4.1 -8.4-2.7 -0.4 2 -0.6 2.9 -0.5 2.9 -0.3 2.9 -0.2 2.7 -0.1 2.7 0 2.7 0 0.2zM282.2 706.9l-0.7-1.1 -15.8-4.2 -5.4 10.5 12.7 4.3 0.8-0.1zM281.5 705.8l-2.5-15 -8.1-1.5 -6.3 8.2 1.1 4.1zM273 716.4l-12.7-4.3 -4.7 1.8 9.4 15.8zM304.7 727.1l-0.3-0.3 -1-0.8 -1.2-0.8 -1.4-0.7 -1.8-0.7 -1.9-0.6 -2.1-0.6 -2-0.6 -2-0.7 -0.1-0.1 -6.6 6.8 7.3 8.9z" fill="#e2925c"/><path d="M297.3 679.5l7.1 1.2 4.3-1.6 -0.3-7.9 -10.1-6.8 -2.5 1.7 -2.1 8.1zM369.9 661.1l-4-8.3 -2.4-0.1 -7 6.7 6.4 6.7zM340.4 643.5l-7.1 8.8 2 8.6 2.8 0.7 10.1-9.3zM353.5 659.2l3 0.2 7-6.7 -6.7-6.5 -7.8 6.3zM338.7 676.1l7-6.5 -7.6-8 -2.8-0.7 -2.7 1.8 -2 12.8zM299.5 661.1l-1.2 3.3 10.1 6.8 5.2-6.7 -7.7-7.6zM319.8 663.3l-6.2 1.2 -5.2 6.7 0.3 7.9 1.8 0.9 13.6-1.2zM332.6 662.7l2.7-1.8 -2-8.6 -13.3-3.5 0.4 13.7zM356.8 646.2l0.5-4.5 -0.6 0.1 -1 0.5 -0.9 0.5 -1 0.5 -1 0.5 -1 0.3 -1.2 0.2 -1.2-0.1 -1.2-0.3 -1.2-0.4 -1.3-0.4 -1.4-0.5 -1.5-0.3 -1.7-0.2 -0.7 0 0 1.4 7.8 8.8 0.8 0.2zM324.5 679l6.1-3.5 2-12.8 -12.2-0.2 -0.6 0.8 4.3 15.5zM347.1 669.7l6.4-10.5 -4.5-6.7 -0.8-0.2 -10.1 9.3 7.6 8zM362 672.3l0.9-6.2 -6.4-6.7 -3-0.2 -6.4 10.5 8.3 7 2.1-0.2zM365.9 652.8l7.3-8 -1.4-0.5 -2-0.7 -1.8-0.7 -1.7-0.5 -1.6-0.4 -1.5-0.2 -1.4-0.2 -1.4-0.2 -1.3 0 -1.2 0.1 -0.6 0.2 -0.5 4.5 6.7 6.5zM305.9 656.9l7.7 7.6 6.2-1.2 0.6-0.8 -0.4-13.7 -1.3-1.9 -0.8 0.2 -2.7 0.7 -2.6 0.8 -2.7 0.8 -2.3 0.7zM333.3 652.3l7.1-8.8 0-1.4 -1.2 0 -2.2 0.3 -2.4 0.4 -2.7 0.6 -2.7 0.6 -2.9 0.8 -2.8 0.7 -2.9 0.8 -1.9 0.6 1.3 1.9zM281.4 674.8l1.6 12.5 7.2 0.6 7.1-8.4 -3.6-5.3z" fill="#58d2b4"/><path d="M374.2 717l4 12.4 9.4-4.7 0.8-3.2 -3.9-9.7zM408.7 692.6l8.6-8.2 -0.5-1.1 -1.5-2.8 -1.6-2.6 -1-1.6 -12.5 5.5 0 0.1zM408.9 708.6l3.3-9.9 -3.5-3.9 -10.5 4.5 3.2 12.1 1.1 1zM383.9 703.8l-15.2-2 0.9 0.9 0.8 1.2 0.6 1.2 0.3 1.2 0.2 1.2 0 1.2 -0.2 1.3 -0.2 1.3 -0.3 1.3 -0.4 1.3 -0.4 1.3 -0.1 0.3 4.3 1.5 10.3-5.2 0.7-2zM408.7 692.6l0 2.2 3.5 3.9 11.4 1.4 -0.2-0.8 -0.8-2.7 -1-2.6 -1.1-2.6 -1.1-2.7 -1.3-2.7 -0.8-1.6zM417.7 712l3.5 13 0.7-0.4 1.4-1.1 1.1-1.1 0.9-1 0.6-0.9 0.5-0.8 0.2-0.8 0.2-1 0-1.1 -0.1-1.3 -0.2-1.6 -0.2-1.9 -0.4-2.2 -0.4-2.5 -0.6-2.5 -0.7-2.7 -0.1-0.4zM412.7 676.3l-0.7-1.1 -1.8-2.5 -2-2.5 -2.1-2.5 -2.3-2.5 -1.1-1.2 -4.1 13.3 1.6 4.5zM417.7 712l-8.8-3.4 -6.4 3.8 0.1 4.4 7.7 14.1 2.1-1 2.1-1 2.1-1.1 1.9-1.1 1.8-1.1 0.9-0.6zM424.1 701.7l-0.5-1.6 -11.4-1.4 -3.3 9.9 8.8 3.4zM376.6 732.2l1.6-2.8 -4-12.4 -4.3-1.5 -0.5 1.1 -0.6 1.4 -0.7 1.5 -0.8 1.4 -0.8 1.4 -0.9 1.5 -0.9 1.4 -0.9 1.4 -0.1 0.2zM366.1 743.6l1.2-0.3 3.6-0.9 3.8-0.9 2.4-0.5 -0.5-8.8 -12.9-5.4 -0.7 1.2 -0.9 1.5 -0.9 1.4 -1.1 1.4 -1.1 1.4 -1.3 1.5 -0.7 0.7zM395 697.8l-1.7-9.9 -11.3 3.1 2.2 12.2zM387.6 724.7l-9.4 4.7 -1.6 2.8 0.5 8.8 1.4-0.3 3.6-0.9 3.5-0.9 3.3-0.9 3.1-0.9 2.9-0.8 2.8-0.9 0.9-0.3zM398.2 699.3l10.5-4.5 0-2.2 -8.5-10.7 -6.1 4 -0.8 2 1.7 9.9zM347.4 743.1l-1.7 1 -2.2 1.5 -2.3 1.3 -2 1.1 -1.9 1 -1.9 1 -1.9 0.8 -1.1 0.5 2.3 3.6 1-0.8 1.6-1 1.9-0.9 2.1-0.9 2.4-0.9 2.5-0.9 2.6-0.8 0.4-0.2zM357 735.9l-0.8 0.7 -1.7 1.5 -2 1.5 -2.2 1.5 -2.2 1.6 -0.7 0.4 1.8 5.4 2.4-0.7 2.8-0.9 3-0.9 3.1-0.9 3.3-0.9 2.3-0.6zM384.5 711.8l3.9 9.7 14.2-4.7 -0.1-4.4 -1.1-1 -16.2-1.6zM401.4 711.4l-3.2-12.1 -3.2-1.5 -10.8 5.4 -0.3 0.6 1.3 6zM387.6 724.7l11 10.4 1.8-0.6 2.6-0.8 2.5-0.9 2.4-0.9 2.3-1 0.1 0 -7.7-14.1 -14.2 4.7z" fill="#4a8c7e"/><path d="M365.9 652.8l4 8.3 4 1 3.2-2 0.5-13.5 -1.3-0.5 -2.3-1 -0.8-0.3zM377.1 660.1l12.1 2.3 6-5.4 -1.1-0.9 -2.4-1.9 -2.5-1.7 -2.5-1.5 -2.7-1.4 -2.6-1.3 -2.6-1.2 -1.2-0.5zM290.2 687.9l4.8 6.7 1.3-0.8 2-1.1 2-0.9 1.9-0.7 0.2-0.1 2-10.3 -7.1-1.2zM393.3 687.9l0.8-2 -10.4-7.6 -7.9 7.8 6.2 4.9zM324.5 679l-0.4-0.2 -13.6 1.2 2.2 9.7 0.8 0 2.2 0 2.2 0 2.4 0 2.6 0.1 2.6 0.1 2.3 0.1zM338.7 676.1l-8.1-0.6 -6.1 3.5 3.3 11 0.5 0 2.8 0.2 2.7 0.3 2.8 0.3 2.6 0.3 2.6 0.4 1.3 0.2zM375 670.4l-1.1-8.3 -4-1 -7 5 -0.9 6.2 9.2 1.3zM400.2 681.8l-1.6-4.5 -11.2-6.9 -3.2 3.1 -0.5 4.8 10.4 7.6 6.1-4zM310.5 680l-1.8-0.9 -4.3 1.6 -2 10.3 1.7-0.4 1.8-0.4 1.8-0.3 1.9-0.1 1.9-0.1 1.2 0zM402.7 664l-1.2-1.3 -2.4-2.3 -2.5-2.2 -1.4-1.2 -6 5.4 -1.8 8 11.2 6.9zM369 689.1l5.4-2.9 -3.2-12.6 -9.2-1.3 -4.5 4.2zM383.9 703.8l0.3-0.6 -2.2-12.2 -6.2-4.9 -1.4 0.1 -5.4 2.9 -4.3 9.3 1.3 0.9 1.4 1.1 1.2 1.2 0.1 0.2zM355.4 676.7l-8.3-7 -1.4-0.1 -7 6.5 4.4 15.6 1.4 0.2 2 0.3zM369 689.1l-11.5-12.6 -2.1 0.2 -8.9 15.5 0.6 0.1 2.7 0.5 2.5 0.6 2.5 0.6 2.2 0.6 2.1 0.8 1.9 0.9 1.8 0.9 1.7 1 0.2 0.2zM389.2 662.4l-12.1-2.3 -3.2 2 1.1 8.3 9.2 3.1 3.2-3.1zM375 670.4l-3.8 3.2 3.2 12.6 1.4-0.1 7.9-7.8 0.5-4.8z" fill="#d2a83e"/><path d="M322.3 753.9l-0.4 0 -1.6 0.1 -1.4-0.1 -1.5-0.2 -1.3-0.4 -1.3-0.5 -1.2-0.6 -1.2-0.8 -1.1-1.1 -1-1.1 -0.3 9.8 0.9 0.6 1.3 0.6 1.4 0.5 1.5 0.3 1.7 0.1 1.8-0.1 0.5 0zM319.1 761l1.4-0.1 1.9-0.3 1.9-0.4 1.8-0.4 1.7-0.5 1.5-0.6 1.3-0.8 1.2-0.8 1.3-1 1.2-1 0.4-0.2 -2.3-3.6 -0.6 0.3 -1.8 0.7 -1.7 0.5 -1.7 0.5 -1.6 0.3 -1.6 0.2 -1.1 0.1zM310.3 749.2l-0.1-0.1 -0.9-1.3 -0.9-1.4 -0.8-1.4 -0.6-1.4 -0.2-0.3 -1.5 0.6 0.5 0.6 0.2 1.1 -0.1 1.3 -0.4 1.4 -0.3 1.4 -0.3 1.4 -0.1 1.3 0.3 1.2 0.6 1.1 0.8 1.1 0.9 1 1.1 1.1 1.1 0.9 0.4 0.2z" fill="#8cc88c"/><path d="M279 690.8l-4.2 0 -3.9-1.5M279 690.8l0 3.9 0.9 3.7 1.8 3.5 -0.2 3.9M270.9 689.3l-2.2 2.7 -1.7 3.1 -2.4 2.4M281.5 705.8l-3-1.4 -3.2-0.9 -3.4 0.1 -3-1.4 -3.2-0.6M264.6 697.5l1.1 4.1M256.2 694.8l4.2 1.4 4.2 1.3M264.1 678.5l2.5 3.4 2.1 3.8 2.2 3.6M255.6 713.9l4.7-1.8M260.3 712.1l1.7-3.6 1.9-3.4 1.8-3.5M254.1 713.8l1.5 0.1M357.3 641.7l-0.5 4.5M373.2 644.8l-3 2.2 -2.2 2.9 -2.1 2.9M365.9 652.8l-2.4-0.1M356.8 646.2l3.9 2.7 2.8 3.8M255.6 713.9l2.1 3 1 3.7 2.2 3 2.1 3.1 2 3M260.3 712.1l3.1 1.3 3.1 1.2 3.5 0.2 3 1.6M273 716.4l-1.9 3.4 -1.8 3.5 -1.8 3.4 -2.5 3M282.2 706.9l-3.1 2.9 -1.9 3.9 -3.4 2.6M282.2 706.9l-0.7-1.1M273 716.4l0.8-0.1M302.4 691l0.2-3.5 1.5-3.3 0.3-3.5M295 694.6l-1.8-3.7 -3-3M290.2 687.9l2.1-3 3.1-2.2 1.9-3.2M304.4 680.7l-3.4-1.1 -3.7-0.1M310.5 680l-1.8-0.9M308.7 679.1l-4.3 1.6M310.5 680l1.3 3.1 -0.5 3.5 1.4 3.1M279 690.8l4-3.5M282.2 706.9l1.6 0.3M283 687.3l3.7-0.2 3.5 0.8M281.1 674.6l0.2-4.2 -0.4-4.2 1-4.1M281.4 674.8l4.1-0.9 4.1 0.8 4.1-0.5M283.5 661.1l2.8 1.8 3.6 0.1 2.9 1.6 3 1.5M295.8 666.1l-1.2 4 -0.9 4.1M266.6 675.4l3.6 0 3.6-1 3.7 0.7 3.6-0.5M283 687.3l-1.2-4.1 0.8-4.3 -1.2-4.1M297.3 679.5l-3.6-5.3M295 655l2 3.2 2.5 2.9M299.5 661.1l-1.2 3.3M298.3 664.4l-2.5 1.7M308.4 671.2l-0.1 4 0.4 3.9M298.3 664.4l3 2.9 4 1.3 3.1 2.6M308.4 671.2l2.2-3.6 3-3.1M299.5 661.1l3.3-1.9 3.1-2.3M313.6 664.5l-2.1-3 -2.5-2.6 -3.1-2M305.9 656.9l1.3-3.3 0.4-3.5M333.3 652.3l2.5-2.8 2.1-3.2 2.5-2.8M340.4 642.1l0 1.4M333.3 652.3l-3.2-1.3 -3.4-0.7 -3.2-1.2 -3.5-0.3M318.7 646.9l1.3 1.9M353.5 659.2l-1.9-3.6 -2.6-3.1M353.5 659.2l-2.1 3.5 -2.4 3.3 -1.9 3.7M338.1 661.6l2.9 2.3 2.5 2.8 2.2 2.9M338.1 661.6l2.9-2 2.4-2.4 1.7-3.2 3.1-1.7M348.2 652.3l0.8 0.2M347.1 669.7l-1.4-0.1M356.8 646.2l-2.3 2.5 -2.8 1.8 -2.7 2M363.5 652.7l-2.4 2.2 -2.1 2.4 -2.5 2.1M356.5 659.4l-3-0.2M333.3 652.3l1.2 4.2 0.8 4.4M340.4 643.5l2.1 3.4 3.3 2.3 2.4 3.1M335.3 660.9l2.8 0.7M332.6 662.7l-0.4 3.2 -1.3 3 0.5 3.4 -0.8 3.2M332.6 662.7l-4-0.2 -4.1 0.6 -4.1-0.6M320.4 662.5l-0.6 0.8M319.8 663.3l0.3 3.2 0.9 3.1 1.8 2.9 0.2 3.2 1.1 3.1M330.6 675.5l-2.8 2.1 -3.3 1.4M338.7 676.1l2.7-1.8 2-2.6 2.3-2.1M335.3 660.9l-2.7 1.8M338.7 676.1l-4.1 0 -4-0.6M320 648.8l-0.7 3.4 0.9 3.4 0 3.4 0.2 3.5M313.6 664.5l6.2-1.2M310.5 680l3.5 0.5 3.3-1.5 3.4 0 3.4-0.2M356.5 659.4l2.7 3.8 3.7 2.9M365.9 652.8l2.2 4 1.8 4.3M369.9 661.1l-3.9 2 -3.1 3M347.4 743.1l1.8 5.4M334.7 754.9l-2.3-3.6M324.5 679l0.9 3.7 0.6 3.9 1.8 3.4M376.6 732.2l0.1 4.4 0.4 4.4M376.6 732.2l-3-1.9 -3.5-0.8 -3.4-0.9 -3-1.8M366.1 743.6l-3.2-2.4 -2.9-2.7 -3-2.6M310 759l0.3-3.2 -0.1-3.3 0.1-3.3M319.1 761l1.4-3.6 1.8-3.5M284.3 728l2.8 2.7 2.1 3.2 2.4 3M284.3 728l-3.2 0.3M281.1 728.3l-2.5 2.1 -2.2 2.4 -1.5 3.1 -2.6 2 -2.5 2.1M291.6 736.9l-0.2 5.5M290.9 721.2l-3.5 3.2 -3.1 3.6M304.7 727.1l-2.6 2 -2.4 2.2 -2.9 1.5 -2.1 2.7 -3.1 1.4M273.8 716.3l1.8 3 1.2 3.4 2.7 2.5 1.6 3.1M265 729.7l0.7 4.1 -0.5 4.1M306.8 743.3l-1.5 0.6M417.3 684.4l-3.1 2.5 -2.7 2.8 -2.8 2.9M408.7 692.6l0 2.2M408.7 694.8l3.5 3.9M423.6 700.1l-3.8-0.2 -3.8-0.3 -3.8-0.9M377.6 646.6l0.7 3.4 -0.3 3.4 -1.3 3.3 0.4 3.4M395.2 657l-2.9 2.8 -3.1 2.6M389.2 662.4l-3.9-1.4 -4-0.9 -4.2 0M369.9 661.1l4 1M377.1 660.1l-3.2 2M375 670.4l-0.1-4.2 -1-4.1M375 670.4l-3.8 3.2M362.9 666.1l-0.9 6.2M362 672.3l4.7 0.4 4.5 0.9M383.7 678.3l3 1.4 1.8 3 3.3 0.9 2.3 2.3M383.7 678.3l0.5-4.8M384.2 673.5l3.2-3.1M387.4 670.4l3.1 1.2 2.6 2.1 2.9 1.5 2.6 2.1M394.1 685.9l2.8-2.3 3.3-1.7M398.6 677.3l1.6 4.5M375 670.4l3.3 0.5 3.1 0.9 2.8 1.7M371.2 673.6l1.6 3 -0.7 3.5 2.2 2.8 0.1 3.3M375.8 686.1l-1.4 0.1M375.8 686.1l2.6-2.7 2.8-2.3 2.5-2.8M389.2 662.4l-1 3.9 -0.8 4.1M402.7 664l-1.7 3.1 -1.1 3.3 -0.4 3.5 -0.9 3.4M412.7 676.3l-3.1 1.5 -3.2 1 -3 1.8 -3.2 1.2M408.7 692.6l-2.6-2.4 -1.7-2.9 -2.1-2.7 -2.1-2.7M424.1 701.7l-1.8 3.7 -2.4 3.2 -2.2 3.4M412.2 698.7l-0.9 3.4 -0.6 3.5 -1.8 3M408.9 708.6l4.1 2.5 4.7 0.9M417.7 712l0.8 3.3 0.8 3.3 1.7 3 0.2 3.4M378.2 729.4l3-1.9 3-1.9 3.4-0.9M378.2 729.4l-1.6 2.8M387.6 724.7l2.4 3.1 3 2.3 2.9 2.4 2.7 2.6M393.3 687.9l-3.9 0.7 -3.6 1.5 -3.8 0.9M393.3 687.9l0.5 3.3 -0.2 3.4 1.4 3.2M395 697.8l-3.3 2.4 -4.1 1 -3.4 2M382 691l0.8 4.1 1.2 4 0.2 4.1M394.1 685.9l-0.8 2M375.8 686.1l3.4 2 2.8 2.9M398.2 699.3l-3.2-1.5M408.7 694.8l-3.6 1.4 -3.1 2.2 -3.8 0.9M369 689.1l-1.9-2.8 -2.8-2.1 -2.4-2.4 -2.2-2.7 -2.2-2.6M369 689.1l-1.3 3.2 -1.5 3.1 -1.5 3M355.4 676.7l-1.5 3.3 -1.9 3 -1.6 3.2 -2.5 2.7 -1.4 3.3M355.4 676.7l2.1-0.2M374.4 686.2l-5.4 2.9M362 672.3l-4.5 4.2M383.9 703.8l0.3-0.6M383.9 703.8l-3.8-0.7 -3.8-0.1 -3.8-0.5 -3.8-0.7M338.7 676.1l1.1 3 -0.1 3.4 1.4 3 0.4 3.3 1.6 2.9M347.1 669.7l2.3 2.8 3 2.2 3 2M378.2 729.4l-0.8-3.2 -1.5-2.9 -0.5-3.2 -1.2-3.1M374.2 717l-4.3-1.5M402.6 716.8l-0.1-4.4M402.6 716.8l-3.3 1.8 -3.8 0.6 -3.7 0.8 -3.4 1.5M388.4 721.5l-1.3-3.2 -1.3-3.3 -1.3-3.2M401.4 711.4l-3.3-0.6 -3.2-0.2 -3.2-0.3 -3.3-0.3 -3.2-0.2M401.4 711.4l1.1 1M384.5 711.8l0.7-2M408.9 708.6l-3.1 2.1 -3.3 1.7M410.3 730.9l-1.8-3.6 -2.8-3.1 -1-4 -2.1-3.4M387.6 724.7l0.8-3.2M374.2 717l3.2-2.1 3.8-1.1 3.3-2M398.2 699.3l1.8 3.8 0.2 4.3 1.2 4M383.9 703.8l1.3 6" fill="none" stroke="#3a3a3a" stroke-width="1.9" stroke-linejoin="round" stroke-linecap="round"/><path d="M426.3 712l-0.4-2.2 -0.4-2.5 -0.6-2.5 -0.7-2.7 -0.8-2.8 -0.8-2.7 -1-2.6 -1.1-2.6 -1.1-2.7 -1.3-2.7 -1.3-2.7 -1.5-2.8 -1.6-2.6 -1.7-2.7 -1.8-2.5 -2-2.5 -2.1-2.5 -2.3-2.5 -2.3-2.5 -2.4-2.3 -2.5-2.2 -2.5-2.1 -2.4-1.9 -2.5-1.7 -2.5-1.5 -2.7-1.4 -2.6-1.3 -2.6-1.2 -2.5-1 -2.3-1 -2.2-0.8 -2-0.7 -1.8-0.7 -1.7-0.5 -1.6-0.4 -1.5-0.2 -1.4-0.2 -1.4-0.2 -1.3 0 -1.2 0.1 -1.2 0.3 -1 0.5 -0.9 0.5 -1 0.5 -1 0.5 -1 0.3 -1.2 0.2 -1.2-0.1 -1.2-0.3 -1.2-0.4 -1.3-0.4 -1.4-0.5 -1.5-0.3 -1.7-0.2 -1.9 0 -2.2 0.3 -2.4 0.4 -2.7 0.6 -2.7 0.6 -2.9 0.8 -2.8 0.7 -2.9 0.8 -2.7 0.8 -2.7 0.7 -2.6 0.8 -2.7 0.8 -2.6 0.8 -2.7 0.8 -2.7 1 -2.6 1 -2.7 1.2 -2.7 1.3 -2.8 1.4 -2.8 1.4 -2.8 1.6 -2.7 1.6 -2.7 1.8 -2.5 1.8 -2.4 1.9 -2.3 2 -2.2 2.1 -2.2 2.2 -2.1 2.3 -2 2.4 -1.8 2.4 -1.6 2.5 -1.4 2.6 -1.2 2.7 -1.1 2.7 -0.8 2.9 -0.7 3 -0.6 2.9 -0.5 2.9 -0.3 2.9 -0.2 2.7 -0.1 2.7 0 2.7 0.1 2.6 0.3 2.7 0.3 2.5 0.6 2.4 0.6 2.2 0.8 2.1 0.9 1.9 1.1 1.7 1.2 1.6 1.3 1.5 1.4 1.4 1.7 1.2 1.7 1 2 1 2.2 0.8 2.6 0.6 2.7 0.4 2.9 0.3 3 0.2 2.8 0.2 2.7 0.2 2.5 0.2 2.3 0.2 2.4 0.1 2.3 0 2.1 0 2 0 1.8 0.2 1.5 0.3 1.2 0.6 0.7 0.8 0.2 1.1 -0.1 1.3 -0.4 1.4 -0.3 1.4 -0.3 1.4 -0.1 1.3 0.3 1.2 0.6 1.1 0.8 1.1 0.9 1 1.1 1.1 1.1 0.9 1.3 0.8 1.3 0.6 1.4 0.5 1.5 0.3 1.7 0.1 1.8-0.1 1.9-0.1 1.9-0.3 1.9-0.4 1.8-0.4 1.7-0.5 1.5-0.6 1.3-0.8 1.2-0.8 1.3-1 1.2-1 1.4-1 1.6-1 1.9-0.9 2.1-0.9 2.4-0.9 2.5-0.9 2.6-0.8 2.8-0.9 2.8-0.9 3-0.9 3.1-0.9 3.3-0.9 3.5-0.9 3.6-0.9 3.8-0.9 3.8-0.8 3.6-0.9 3.5-0.9 3.3-0.9 3.1-0.9 2.9-0.8 2.8-0.9 2.7-0.9 2.6-0.8 2.5-0.9 2.4-0.9 2.3-1 2.2-1 2.1-1 2.1-1.1 1.9-1.1 1.8-1.1 1.6-1 1.4-1.1 1.1-1.1 0.9-1 0.6-0.9 0.5-0.8 0.2-0.8 0.2-1 0-1.1 -0.1-1.3 -0.2-1.6zM371 705.1l0.3 1.2 0.2 1.2 0 1.2 -0.2 1.3 -0.2 1.3 -0.3 1.3 -0.4 1.3 -0.4 1.3 -0.6 1.4 -0.6 1.4 -0.7 1.5 -0.8 1.4 -0.8 1.4 -0.9 1.5 -0.9 1.4 -0.9 1.4 -0.8 1.4 -0.9 1.5 -0.9 1.4 -1.1 1.4 -1.1 1.4 -1.3 1.5 -1.5 1.4 -1.7 1.5 -2 1.5 -2.2 1.5 -2.2 1.6 -2.4 1.4 -2.2 1.5 -2.3 1.3 -2 1.1 -1.9 1 -1.9 1 -1.9 0.8 -1.7 0.8 -1.8 0.7 -1.7 0.5 -1.7 0.5 -1.6 0.3 -1.6 0.2 -1.5 0.1 -1.6 0.1 -1.4-0.1 -1.5-0.2 -1.3-0.4 -1.3-0.5 -1.2-0.6 -1.2-0.8 -1.1-1.1 -1.1-1.2 -0.9-1.3 -0.9-1.4 -0.8-1.4 -0.6-1.4 -0.5-1.3 -0.2-1.3 0.1-1.3 0.3-1.3 0.4-1.3 0.4-1.3 0.3-1.2 0.2-1.2 -0.1-1.1 -0.3-1 -0.4-1 -0.5-0.9 -0.7-0.9 -0.7-0.9 -0.9-0.8 -1-0.8 -1.2-0.8 -1.4-0.7 -1.8-0.7 -1.9-0.6 -2.1-0.6 -2-0.6 -2-0.7 -1.6-0.8 -1.4-1 -1.1-1.2 -0.8-1.3 -0.8-1.5 -0.5-1.5 -0.5-1.5 -0.3-1.5 -0.1-1.5 -0.1-1.3 0.1-1.2 0.1-1.1 0.3-1.1 0.5-1 0.5-1 0.8-1 0.8-1.1 1.1-1 1.3-1.1 1.5-1.2 1.7-1.2 1.9-1.2 1.9-1.2 2-1.1 2-0.9 1.9-0.7 1.9-0.5 1.8-0.4 1.8-0.3 1.9-0.1 1.9-0.1 2 0 2.2 0 2.2 0 2.4 0 2.6 0.1 2.6 0.1 2.8 0.1 2.8 0.2 2.7 0.3 2.8 0.3 2.6 0.3 2.6 0.4 2.7 0.4 2.6 0.4 2.7 0.5 2.5 0.6 2.5 0.6 2.2 0.6 2.1 0.8 1.9 0.9 1.8 0.9 1.7 1 1.5 1.1 1.4 1.1 1.2 1.2 1 1.1 0.8 1.2z" fill="none" stroke="#3a3a3a" stroke-width="1.6"/><path d="M370.4 703.9l-0.8-1.2 -1-1.1 -1.2-1.2 -1.4-1.1 -1.5-1.1 -1.7-1 -1.8-0.9 -1.9-0.9 -2.1-0.8 -2.2-0.6 -2.5-0.6 -2.5-0.6 -2.7-0.5 -2.6-0.4 -2.7-0.4 -2.6-0.4 -2.6-0.3 -2.8-0.3 -2.7-0.3 -2.8-0.2 -2.8-0.1 -2.6-0.1 -2.6-0.1 -2.4 0 -2.2 0 -2.2 0 -2 0 -1.9 0.1 -1.9 0.1 -1.8 0.3 -1.8 0.4 -1.9 0.5 -1.9 0.7 -2 0.9 -2 1.1 -1.9 1.2 -1.9 1.2 -1.7 1.2 -1.5 1.2 -1.3 1.1 -1.1 1 -0.8 1.1 -0.8 1 -0.5 1 -0.5 1 -0.3 1.1 -0.1 1.1 -0.1 1.2 0.1 1.3 0.1 1.5 0.3 1.5 0.5 1.5 0.5 1.5 0.8 1.5 0.8 1.3 1.1 1.2 1.4 1 1.6 0.8 2 0.7 2 0.6 2.1 0.6 1.9 0.6 1.8 0.7 1.4 0.7 1.2 0.8 1 0.8 0.9 0.8 0.7 0.9 0.7 0.9 0.5 0.9 0.4 1 0.3 1 0.1 1.1 -0.2 1.2 -0.3 1.2 -0.4 1.3 -0.4 1.3 -0.3 1.3 -0.1 1.3 0.2 1.3 0.5 1.3 0.6 1.4 0.8 1.4 0.9 1.4 0.9 1.3 1.1 1.2 1.1 1.1 1.2 0.8 1.2 0.6 1.3 0.5 1.3 0.4 1.5 0.2 1.4 0.1 1.6-0.1 1.5-0.1 1.6-0.2 1.6-0.3 1.7-0.5 1.7-0.5 1.8-0.7 1.7-0.8 1.9-0.8 1.9-1 1.9-1 2-1.1 2.3-1.3 2.2-1.5 2.4-1.4 2.2-1.6 2.2-1.5 2-1.5 1.7-1.5 1.5-1.4 1.3-1.5 1.1-1.4 1.1-1.4 0.9-1.4 0.9-1.5 0.8-1.4 0.9-1.4 0.9-1.4 0.9-1.5 0.8-1.4 0.8-1.4 0.7-1.5 0.6-1.4 0.6-1.4 0.4-1.3 0.4-1.3 0.3-1.3 0.2-1.3 0.2-1.3 0-1.2 -0.2-1.2 -0.3-1.2z" fill="#3b3b3b" stroke="#333" stroke-width="1"/><path d="M426.5 713.9l-0.2-1.9 -0.4-2.2 -0.4-2.5 -0.6-2.5 -0.7-2.7 -0.8-2.8 -0.8-2.7 -1-2.6 -1.1-2.6 -1.1-2.7 -1.3-2.7 -1.3-2.7 -1.5-2.8 -1.6-2.6 -1.7-2.7 -1.8-2.5 -2-2.5 -2.1-2.5 -2.3-2.5 -2.3-2.5 -2.4-2.3 -2.5-2.2 -2.5-2.1 -2.4-1.9 -2.5-1.7 -2.5-1.5 -2.7-1.4 -2.6-1.3 -2.6-1.2 -2.5-1 -2.3-1 -2.2-0.8 -2-0.7 -1.8-0.7 -1.7-0.5 -1.6-0.4 -1.5-0.2 -1.4-0.2 -1.4-0.2 -1.3 0 -1.2 0.1 -1.2 0.3 -1 0.5 -0.9 0.5 -1 0.5 -1 0.5 -1 0.3 -1.2 0.2 -1.2-0.1 -1.2-0.3 -1.2-0.4 -1.3-0.4 -1.4-0.5 -1.5-0.3 -1.7-0.2 -1.9 0 -2.2 0.3 -2.4 0.4 -2.7 0.6 -2.7 0.6 -2.9 0.8 -2.8 0.7 -2.9 0.8 -2.7 0.8 -2.7 0.7 -2.6 0.8 -2.7 0.8 -2.6 0.8 -2.7 0.8 -2.7 1 -2.6 1 -2.7 1.2 -2.7 1.3 -2.8 1.4 -2.8 1.4 -2.8 1.6 -2.7 1.6 -2.7 1.8 -2.5 1.8 -2.4 1.9 -2.3 2 -2.2 2.1 -2.2 2.2 -2.1 2.3 -2 2.4 -1.8 2.4 -1.6 2.5 -1.4 2.6 -1.2 2.7 -1.1 2.7 -0.8 2.9 -0.7 3 -0.6 2.9 -0.5 2.9 -0.3 2.9 -0.2 2.7 -0.1 2.7 0 2.7 0.1 2.6 0.3 2.7 0.3 2.5 0.6 2.4 0.6 2.2 0.8 2.1 0.9 1.9 1.1 1.7 1.2 1.6 1.3 1.5 1.4 1.4 1.7 1.2 1.7 1 2 1 2.2 0.8 2.6 0.6 2.7 0.4 2.9 0.3 3 0.2 2.8 0.2 2.7 0.2 2.5 0.2 2.3 0.2 2.4 0.1 2.3 0 2.1 0 2 0 1.8 0.2 1.5 0.3 1.2 0.6 0.7 0.8 0.2 1.1 -0.1 1.3 -0.4 1.4 -0.3 1.4 -0.3 1.4 -0.1 1.3 0.3 1.2 0.6 1.1 0.8 1.1 0.9 1 1.1 1.1 1.1 0.9 1.3 0.8 1.3 0.6 1.4 0.5 1.5 0.3 1.7 0.1 1.8-0.1 1.9-0.1 1.9-0.3 1.9-0.4 1.8-0.4 1.7-0.5 1.5-0.6 1.3-0.8 1.2-0.8 1.3-1 1.2-1 1.4-1 1.6-1 1.9-0.9 2.1-0.9 2.4-0.9 2.5-0.9 2.6-0.8 2.8-0.9 2.8-0.9 3-0.9 3.1-0.9 3.3-0.9 3.5-0.9 3.6-0.9 3.8-0.9 3.8-0.8 3.6-0.9 3.5-0.9 3.3-0.9 3.1-0.9 2.9-0.8 2.8-0.9 2.7-0.9 2.6-0.8 2.5-0.9 2.4-0.9 2.3-1 2.2-1 2.1-1 2.1-1.1 1.9-1.1 1.8-1.1 1.6-1 1.4-1.1 1.1-1.1 0.9-1 0.6-0.9 0.5-0.8 0.2-0.8 0.2-1 0-1.1 -0.1-1.3z" fill="url(#shade)" /></g>
<g><path d="M539.9 572.5l0.2-2.8 0.4-3.2 0.4-3.3 0.6-3.5 0.7-3.6 0.9-3.4 1-3.2 1.2-3 1.4-2.7 1.5-2.6 1.8-2.5 1.8-2.4 2.1-2.2 2.1-2.2 2.3-1.9 2.3-1.9 2.5-1.7 2.7-1.5 2.9-1.3 2.9-1.2 3-1.2 3.1-1.1 3-1 2.9-1.1 2.9-1.1 2.9-1 2.9-1 2.9-1 2.8-0.9 2.9-0.8 2.8-0.7 2.8-0.7 2.8-0.6 2.9-0.5 2.8-0.4 2.9-0.4 2.7-0.2 2.6-0.3 2.5-0.1 2.2-0.1 2 0 1.9 0.2 1.7 0.3 1.5 0.4 1.4 0.3 1.4 0.3 1.2 0.3 1.2 0 1-0.1 0.8-0.4 0.6-0.4 0.6-0.5 0.5-0.4 0.7-0.4 0.8-0.3 1.1 0 1.3 0.1 1.6 0.3 1.6 0.3 1.8 0.5 1.8 0.5 1.9 0.6 1.9 0.7 1.8 0.8 1.8 0.9 1.9 0.9 2 1.1 1.9 1.1 2 1.2 1.9 1.2 2 1.4 1.9 1.4 1.9 1.5 2 1.5 2 1.6 2 1.6 1.9 1.8 1.9 1.8 1.8 2 1.8 2 1.7 2.2 1.7 2.4 1.6 2.4 1.6 2.6 1.5 2.6 1.4 2.6 1.4 2.6 1.3 2.4 1.2 2.4 1.3 2.3 1.1 2.3 1.1 2.3 1 2.3 0.8 2.2 0.7 2.3 0.5 2.3 0.3 2.4 0.2 2.4 0 2.5 -0.1 2.5 -0.3 2.4 -0.4 2.3 -0.6 2 -0.7 1.9 -0.8 1.6 -0.9 1.5 -1.1 1.2 -1.2 1.2 -1.4 1 -1.6 0.9 -1.7 0.9 -2 0.8 -2.3 0.7 -2.6 0.6 -2.8 0.4 -3 0.4 -3.1 0.3 -3.1 0.4 -3 0.3 -3 0.5 -2.9 0.5 -3 0.6 -3.1 0.5 -3 0.6 -3 0.6 -2.9 0.6 -2.6 0.6 -2.5 0.6 -2.2 0.6 -1.9 0.5 -1.8 0.6 -1.6 0.5 -1.6 0.6 -1.6 0.7 -1.7 0.7 -1.8 0.9 -1.9 1 -2 1.2 -2 1.3 -2 1.3 -2.1 1.4 -2.1 1.3 -2.1 1.2 -2.2 1 -2.2 0.9 -2.4 1 -2.4 0.9 -2.4 0.8 -2.4 0.7 -2.3 0.5 -2.2 0.4 -2 0.2 -1.9 0 -1.8-0.3 -1.7-0.4 -1.7-0.5 -1.5-0.7 -1.4-0.7 -1.2-0.9 -1.1-0.9 -0.9-1.1 -0.6-1.2 -0.4-1.5 -0.4-1.4 -0.2-1.5 -0.3-1.5 -0.3-1.3 -0.5-1.2 -0.5-1 -0.4-1 -0.5-0.9 -0.4-0.8 -0.6-0.7 -0.7-0.7 -0.8-0.5 -1.1-0.5 -1.3-0.3 -1.6-0.1 -1.7 0.1 -1.9 0.1 -2 0.1 -1.9 0 -2-0.1 -1.9-0.3 -1.9-0.5 -2-0.5 -2-0.6 -2-0.8 -1.9-0.8 -2-0.9 -1.8-1 -1.7-1.1 -1.6-1.2 -1.6-1.3 -1.6-1.5 -1.4-1.5 -1.4-1.6 -1.2-1.7 -1.1-1.7 -0.9-1.7 -0.7-1.7 -0.7-1.8 -0.4-1.7 -0.4-1.8 -0.2-2 -0.1-2 0.1-2.3z" fill="#3a3a3a" stroke="#2e2e2e" stroke-width="1"/><path d="M568.7 581.8l-2.4-0.3 -5.9 16 11.4 0 3.5-2.5 0.4-6.2zM581.2 598.3l-5.9-3.3 -3.5 2.5 0.9 9.6 1.4 0 2-0.1 1.9-0.1 1.7-0.1 1.3 0.1zM546.8 554.6l4.9-4.5 -2.4-10.4 -1.1 1.5 -1.5 2.6 -1.4 2.7 -1.2 3 -1 3.2 -0.4 1.5zM569.2 564.3l-6.3-7.9 -8.7 6.9 5.7 12.5zM585.9 572.4l-2.5-1.6 -2.3-0.2 -12.4 11.2 7 7 8.2-4.1zM567.6 534.5l11.5-5.1 -7.3-7.1 -0.2 0.1 -2.9 1.2 -2.9 1.3 -2.7 1.5 -1.5 1zM542.4 570.4l-2.3-0.1 -0.2 2.2 -0.1 2.5 -0.1 2.3 0.1 2 0.2 2 0.4 1.8 0.2 0.7 10.9-0.6 2.2-4.2zM542.4 570.4l8.4-7.8 -4-8 -4.1-0.4 -0.5 1.9 -0.7 3.6 -0.6 3.5 -0.4 3.3 -0.4 3.2 0 0.6zM575.7 588.8l-0.4 6.2 5.9 3.3 6.6-1.4 0.3-8.3 -4.2-3.9zM587.8 596.9l7.4 4.8 2.7-1.9 1.3-12.3 -2.1-1.1 -9 2.2zM551.7 550.1l8.6 1.5 2.7-8.2 -11.5-6.7 -1.5 2 -0.7 1zM578.7 550.1l-1.7-1.5 -14.1 7.6 0 0.2 6.3 7.9 4.2 0.4 5.4-13.8zM588.1 588.6l9-2.2 -5.7-13.2 -2-0.8 -3.5 0 -2 12.3zM559.9 575.8l-5.7-12.5 -3.4-0.7 -8.4 7.8 11.3 8.6 6.1-2.5zM551.7 550.1l-4.9 4.5 4 8 3.4 0.7 8.7-6.9 0-0.2 -2.6-4.6zM568.7 581.8l12.4-11.2 -7.7-5.9 -4.2-0.4 -9.3 11.5 -0.1 0.7 6.5 5zM540.6 583.8l0.2 1 0.7 1.8 0.7 1.7 0.9 1.7 1.1 1.7 1.2 1.7 1.4 1.6 1.4 1.5 1.6 1.5 1.6 1.3 0.5 0.4 -0.4-16.5zM563 543.4l4.6-2.7 0-6.2 -6-7.1 -1 0.7 -2.3 1.9 -2.3 1.9 -2.1 2.2 -2.1 2.2 -0.3 0.4zM571.8 597.5l-11.4 0 -6.5 3.6 0.8 0.5 1.8 1 2 0.9 1.9 0.8 2 0.8 2 0.6 2 0.5 1.9 0.5 1.9 0.3 2 0.1 0.5 0zM579.1 529.4l0.2 0.1 5.7-7.8 -0.3-4.1 -1.1 0.4 -2.9 1.1 -3 1 -3.1 1.1 -2.8 1.1zM567.6 540.7l-4.6 2.7 -2.7 8.2 2.6 4.6 14.1-7.6 -1.3-3.5zM560.4 597.5l5.9-16 -6.5-5 -6.1 2.5 -2.2 4.2 0.4 16.5 1.1 0.8 0.9 0.6zM581 606.9l0.3 0 1.3 0.3 1.1 0.5 0.8 0.5 0.7 0.7 0.6 0.7 0.4 0.8 0.5 0.9 0.4 1 0.5 1 0.5 1.2 0.1 0.7 4.9-4.3 2.1-9.2 -7.4-4.8 -6.6 1.4zM579.3 529.5l-0.2-0.1 -11.5 5.1 0 6.2 8.1 4.4 6.6-10.5zM585.7 558.6l-6.9-7.7 -5.4 13.8 7.7 5.9 2.3 0.2z" fill="#d6a264"/><path d="M636.6 565.4l4.1 7.8 2.2 1.7 10.1-4.1 2.6-6.9 -4.4-5.9zM672.1 575.9l13.2-1.5 0.5-0.4 -3-14.9 -0.3-0.2 -7.3 2.3 -4.7 12.4zM633.6 534.6l-3.2-6.3 -8.4 0.8 0.1 16.1 10.6-5.7zM681.8 538.8l0.4-13 -0.9-0.7 -0.5-0.4 -11.7 4 -2.5 12.1 1.3 2.3 8.4 1.4zM683.8 587.8l2.8 2.1 4.9 0.5 6.4-6 -1-4.8 -5.1-5.1 -6-0.5 -0.5 0.4zM630.4 528.3l3.5-6 -0.4-0.9 -11.8-8 -4.9 8.3 3.1 6.4 2.1 1zM621.2 582.5l1.8-0.1 0.7-9.1 -10.2-10.3 -2.9 0.9 -3.7 8.6 1.2 4zM610.6 563.9l-11.1-8.8 -10.1 17.3 2 0.8 15.5-0.7zM681.8 538.8l7.4 2.3 4.1-3.4 -0.9-1.2 -1.7-2.2 -1.8-2 -1.8-2 -1.9-1.8 -1.9-1.8 -1.1-0.9zM662.2 595.4l0.9 10.5 0.3-0.1 3-0.6 3.1-0.5 3-0.6 2.9-0.5 1.7-0.3 -6.6-14.8 -3.2 0.8zM634.6 590.1l-0.2 10.6 7.7-0.8 4.7-10.7 -1-2.7zM599.5 555.1l11.1 8.8 2.9-0.9 4.8-4.7 1.8-11.3 -8.6-4.3 -9.1 3.7 -3.2 8.2zM623.7 573.3l12.9-7.9 -1.2-2 -17.1-5.1 -4.8 4.7zM645.9 586.2l-3-11.3 -2.2-1.7 -15.4 10.8 1.5 2.9 7.8 3.2 11.2-3.6zM608.5 617.8l-0.5-2.2 -14.9-4.7 -4.9 4.3 0.2 0.6 0.3 1.5 0.2 1.5 0.4 1.4 0.4 1.5 0.6 1.2 0.9 1.1 1.1 0.9 1.2 0.9 1.4 0.7 1.5 0.7 1.7 0.5 1.7 0.4 1 0.2zM604.5 585.4l3.6-8.9 -1.2-4 -15.5 0.7 5.7 13.2 2.1 1.1zM601.1 512.1l-0.2 0.1 -2.9 0.8 -2.8 0.9 -2.9 1 -2.9 1 -2.9 1 -1.8 0.7 0.3 4.1 10.8 5.6zM675.2 561.2l7.3-2.3 -0.5-5.6 -5.7-8.8 -8.4-1.4 -3.5 7.5 2.4 7.1zM645.9 586.2l-0.1 0.3 1 2.7 5.8 5.6 9.6 0.6 5.1-6.1 -9.2-6.6zM608.5 617.8l-7.7 10.5 0.8 0.1 1.9 0 2-0.2 2.2-0.4 2.3-0.5 2.4-0.7 2.4-0.8 2.4-0.9 0.8-0.3zM708.9 569.9l-12 9.7 1 4.8 12 3.9 0.4-1.3 0.4-2.3 0.3-2.4 0.1-2.5 0-2.5 -0.2-2.4 -0.3-2.4 -0.5-2.3 -0.1-0.5zM685.8 574l6 0.5 4.8-7.1 -2.5-8.3 -11.3 0zM611.5 542.7l-0.7-7.5 -5.7-4.7 -8.1 0.6 -2.4 4.5 7.8 10.8zM587.6 547.3l3-10.4 -8.3-2.3 -6.6 10.5 1.3 3.5 1.7 1.5zM616.8 521.7l-6.9-0.7 -4.8 9.5 5.7 4.7 9.1-7.1zM661.5 563.4l5.1 9.2 3.9 1 4.7-12.4 -8.4-3.5zM626.8 586.9l-3.6 9.3 3.6 10.5 2.7-0.2 4.9-5.8 0.2-10.6zM682 553.3l8.1-7 -0.9-5.2 -7.4-2.3 -5.5 5.7zM639.4 546l6.2-6.4 -0.3-6.1 -11.7 1.1 -0.9 4.9zM661.4 523l-2.1-11.2 -12 5.4 -3.4 5.8 3.8 7.2 5.1 0.3zM622.1 545.2l-0.9 1.3 14.9 6.9 3.6-4.7 -0.3-2.7 -6.7-6.5zM597.9 599.8l11 1 3-6.1 -0.3-2.6 -7.1-6.7 -5.3 2.1zM689.2 541.1l0.9 5.2 5.2 2 3-2.7 -1-1.7 -1.6-2.6 -1.6-2.4 -0.8-1.2zM636.6 565.4l-12.9 7.9 -0.7 9.1 2.3 1.6 15.4-10.8zM635.4 563.4l0.7-10 -14.9-6.9 -1.1 0.5 -1.8 11.3zM686.6 589.9l-2.8-2.1 -12.9 0.3 -0.4 0.4 6.6 14.8 1.3-0.2 3-0.3zM620.1 547l1.1-0.5 0.9-1.3 -0.1-16.1 -2.1-1 -9.1 7.1 0.7 7.5zM652.6 594.8l-5.8-5.6 -4.7 10.7 7.1 9.2 0.8-0.3zM597 554.2l2.2 0.4 3.2-8.2 -7.8-10.8 -4 1.3 -3 10.4zM658 538.8l8.6 2 2.5-12.1 -7.7-5.7 -8.6 7.5zM585.7 558.6l11.3-4.4 -9.4-6.9 -8.9 2.8 0.1 0.8zM696.6 567.4l12.3 2.5 1.1-0.2 -0.6-1.8 -0.8-2.2 -1-2.3 -1.1-2.3 -1.1-2.3 -1.1-2 -7.9 0.5 -2.3 1.8zM594.6 535.6l2.4-4.5 -1.2-3.8 -10.8-5.6 -5.7 7.8 3 5.1 8.3 2.3zM696.4 600.6l1.9-0.6 2-0.8 1.7-0.9 1.6-0.9 1.4-1 1.2-1.2 1.1-1.2 0.9-1.5 0.8-1.6 0.7-1.9 0.2-0.7 -12-3.9 -6.4 6zM625.4 607.7l-12.8 0 -4.6 7.9 0.5 2.2 9.5 6.8 1.6-0.7 2.2-0.9 1.8-0.9zM605.1 530.5l4.8-9.5 -8.5-8.9 -0.3 0 -5.3 15.2 1.2 3.8zM670.9 588.1l12.9-0.3 1.5-13.4 -13.2 1.5zM626.8 606.7l-1.4 1 -1.8 14.4 0.4-0.1 2.1-1.2 2.1-1.3 2.1-1.4 2-1.3 2-1.3 2-1.2 1.9-1 0.5-0.2 -9.2-6.6zM691.8 574.5l5.1 5.1 12-9.7 -12.3-2.5zM682.8 559.1l11.3 0 2.3-1.8 -1.1-9 -5.2-2 -8.1 7 0.5 5.6zM611.6 592.1l9.6-9.6 -13.1-6 -3.6 8.9zM652.1 543.6l5.9-4.8 -5.2-8.3 -5.1-0.3 -2.4 3.3 0.3 6.1zM629.5 606.5l9.2 6.6 1.3-0.7 1.7-0.7 1.6-0.7 1.6-0.6 1.6-0.5 1.8-0.6 0.9-0.2 -7.1-9.2 -7.7 0.8zM653 570.8l-10.1 4.1 3 11.3 12.2-3.5 1.1-7.1zM595.2 601.7l-2.1 9.2 14.9 4.7 4.6-7.9 -3.7-6.9 -11-1zM691.5 590.4l-4.9-0.5 -5.2 12.9 3.1-0.4 3.1-0.3 3-0.4 2.8-0.4 2.6-0.6 0.4-0.1zM664.4 550.6l-12.6 1.9 -0.6 5.5 4.4 5.9 5.9-0.5 5.3-5.7zM666.6 572.6l-7.4 3 -1.1 7.1 9.2 6.6 3.2-0.8 0.4-0.4 1.2-12.2 -1.6-2.3zM645.3 533.5l2.4-3.3 -3.8-7.2 -10-0.7 -3.5 6 3.2 6.3zM662.2 595.4l-9.6-0.6 -2.6 14 0.2 0 2.2-0.6 2.5-0.6 2.6-0.6 2.9-0.6 2.7-0.5zM655.6 563.9l-2.6 6.9 6.2 4.8 7.4-3 -5.1-9.2zM608.9 600.8l3.7 6.9 12.8 0 1.4-1 -3.6-10.5 -11.3-1.5zM585.9 572.4l3.5 0 10.1-17.3 -0.3-0.5 -2.2-0.4 -11.3 4.4 -2.3 12.2zM651.8 552.5l0.3-8.9 -6.5-4 -6.2 6.4 0.3 2.7 12.1 3.8zM695.3 548.3l1.1 9 7.9-0.5 -0.2-0.3 -1.2-2.4 -1.3-2.4 -1.4-2.6 -1.4-2.6 -0.5-0.9zM680.8 524.7l-1.5-1.2 -2-1.5 -1.9-1.5 -1.9-1.4 -2-1.4 -1.9-1.2 -2-1.2 -1.9-1.1 -2-1.1 -1.9-0.9 -1.8-0.9 -0.5-0.2 -0.2 0.7 2.1 11.2 7.7 5.7zM611.9 594.7l11.3 1.5 3.6-9.3 -1.5-2.9 -2.3-1.6 -1.8 0.1 -9.6 9.6zM639.7 548.7l-3.6 4.7 -0.7 10 1.2 2 14.6-7.4 0.6-5.5zM664.4 550.6l3.5-7.5 -1.3-2.3 -8.6-2 -5.9 4.8 -0.3 8.9z" fill="#6cc690"/><path d="M633.5 521.4l0.4 0.9 10 0.7 3.4-5.8 -7-7.2 -0.1 0 -1.2 0 -1.2-0.3 -1.2-0.2zM647.3 517.2l12-5.4 0.2-0.7 -1.3-0.6 -1.9-0.7 -1.9-0.6 -1.8-0.5 -1.8-0.5 -1.6-0.3 -1.6-0.3 -1.3-0.1 -1.1 0 -0.8 0.3 -0.7 0.4 -0.5 0.4 -0.6 0.5 -0.6 0.4 -0.8 0.4 -0.9 0.1zM621.7 513.4l11.8 8 3.1-11.9 -0.2-0.1 -1.4-0.3 -1.5-0.4 -1.7-0.3 -1.9-0.2 -2 0 -2.2 0.1 -2.5 0.1 -1.8 0.2zM609.9 521l6.9 0.7 4.9-8.3 -0.3-4.8 -0.8 0.1 -2.7 0.2 -2.9 0.4 -2.8 0.4 -2.9 0.5 -2.8 0.6 -2.8 0.7 -2.3 0.6z" fill="#52cc94"/><path d="M542.4 570.4l2.8-2.6 2.4-3 3.2-2.2M542.4 570.4l-2.3-0.1M542.7 554.2l4.1 0.4M546.8 554.6l1.3 4.3 2.7 3.7M546.8 554.6l2.6-2.1 2.3-2.4M549.3 539.7l0.6 3.5 0.3 3.6 1.5 3.3M709.9 588.3l-4.2-0.6 -3.7-2.5 -4.1-0.8M696.4 600.6l-2.1-3.2 -1.5-3.4 -1.3-3.6M697.9 584.4l-3 3.2 -3.4 2.8M561.6 527.4l2.7 3.8 3.3 3.3M571.8 522.3l1.9 2.9 2.8 2.1 2.6 2.1M579.1 529.4l-3.7 2 -3.7 2 -4.1 1.1M567.6 534.5l0 6.2M551.5 536.7l3.1 1.4 2.9 1.5 2.6 2.1 2.9 1.7M567.6 540.7l-4.6 2.7M551.7 550.1l4.3 0.8 4.3 0.7M563 543.4l-0.7 4.3 -2 3.9M550.8 562.6l3.4 0.7M554.2 563.3l2.6-2.7 3.6-1.4 2.5-2.8M562.9 556.2l-2.6-4.6M554.2 563.3l1.1 3.3 2.4 2.7 0.2 3.7 2 2.8M562.9 556.4l2.2 2.6 2.2 2.5 1.9 2.8M569.2 564.3l-2.7 2.6 -2.2 3 -2 3.1 -2.4 2.8M621.7 513.4l3.1 1.8 2.8 2.3 2.7 2.4 3.2 1.5M621.7 513.4l-0.3-4.8M633.5 521.4l1.4-3.9 0-4.2 1.7-3.8M616.8 521.7l0.9-3.2 2.2-2.4 1.8-2.7M616.8 521.7l-3.5 0 -3.4-0.7M609.9 521l-2.5-3.3 -3-2.8 -3-2.8M633.9 522.3l-0.4-0.9M633.9 522.3l3.4-0.4 3.3 0.7 3.3 0.4M647.3 517.2l-1.8 2.8 -1.6 3M647.3 517.2l-2.4-2.4 -2.6-2.1 -2-2.7M659.5 511.1l-0.2 0.7M659.3 511.8l-3.2 1 -2.7 2 -3.5 0.3 -2.6 2.1M691.5 590.4l-4.9-0.5M686.6 589.9l-1.1 3.3 -1.5 3.1 -1.8 3.1 -0.8 3.4M584.7 517.6l0.3 4.1M601.1 512.1l-0.8 3.1 -1.9 2.8 -0.5 3.2 -1.1 3 -1 3.1M585 521.7l3.8 1.4 3.5 2.1 3.5 2.1M585 521.7l-1.9 2.5 -2.4 2.3 -1.4 3M609.9 521l-1.1 3.4 -2.6 2.7 -1.1 3.4M605.1 530.5l-4.1-0.4 -4 1M595.8 527.3l1.2 3.8M567.6 540.7l4.4 1.6 3.7 2.8M562.9 556.2l2.9-1.3 2.5-2.1 2.7-1.8 3.6-0.2 2.4-2.2M577 548.6l-1.3-3.5M579.3 529.5l3 5.1M575.7 545.1l1.8-3.7 2.5-3.4 2.3-3.4M594.6 535.6l2.4-4.5M594.6 535.6l-4 1.3M582.3 534.6l4 1.5 4.3 0.8M659.3 511.8l0.5 3.8 0.2 3.8 1.4 3.6M680.8 524.7l-4.1 0.6 -3.7 2.1 -3.9 1.3M661.4 523l4.3 2.3 3.4 3.4M693.3 537.7l-4.1 3.4M682.2 525.8l-0.7 3.2 1.1 3.3 -0.4 3.2 -0.4 3.3M689.2 541.1l-3.8-0.7 -3.6-1.6M696.9 579.6l-2.2-2.9 -2.9-2.2M696.9 579.6l2.7-2.8 3.6-1.6 2.8-2.8 2.9-2.5M691.8 574.5l2.6-3.4 2.2-3.7M708.9 569.9l-4-1.2 -4.2-0.2 -4.1-1.1M710 569.7l-1.1 0.2M697.9 584.4l-1-4.8M663.1 605.9l-0.9-3.5 0.7-3.6 -0.7-3.4M652.6 594.8l3.2 0.4 3.2-0.2 3.2 0.4M652.6 594.8l-0.1 3.6 -0.6 3.5 -1.2 3.4 -0.7 3.5M623.6 622.1l0.8-3.5 -0.2-3.7 0-3.7 1.2-3.5M625.4 607.7l1.4-1M626.8 606.7l2.7-0.2M638.7 613.1l-3.1-2.2 -3.3-1.8 -2.8-2.6M605.1 530.5l2.6 2.7 3.1 2M616.8 521.7l1.2 3.3 1.9 3.1M610.8 535.2l3.1-2.4 2.5-2.9 3.5-1.8M630.4 528.3l-4.2 0.1 -4.2 0.7M630.4 528.3l1.7-3 1.8-3M619.9 528.1l2.1 1M661.4 523l-3.1 2.2 -2.9 2.4 -2.6 2.9M669.1 528.7l-0.2 4.2 -1.1 4 -1.2 3.9M666.6 540.8l-4.2-1.1 -4.4-0.9M658 538.8l-2.3-2.4 -1.6-2.8 -1.3-3.1M643.9 523l1.5 3.8 2.3 3.4M647.7 530.2l5.1 0.3M704.3 556.8l-3.9 1 -4-0.5M696.6 567.4l-1.7-4 -0.8-4.3M696.4 557.3l-2.3 1.8M698.3 545.6l-3 2.7M696.4 557.3l-1.2-4.5 0.1-4.5M689.2 541.1l0.9 5.2M695.3 548.3l-5.2-2M694.1 559.1l-3.8-0.7 -3.7 0.3 -3.8 0.4M691.8 574.5l-6-0.5M685.8 574l-0.3-3.8 -0.7-3.8 -1.7-3.5 -0.3-3.8M625.3 584l-2.3-1.6M623.7 573.3l-0.9 4.5 0.2 4.6M623.7 573.3l3.1-2.2 3.3-1.9 2.9-2.4 3.6-1.4M625.3 584l2.9-2.4 3.2-2.1 3.5-1.5 2.7-2.6 3.1-2.2M636.6 565.4l2.4 3.8 1.7 4M642.1 599.9l-3.8 0.2 -3.9 0.6M642.1 599.9l1.3-3.7 2.4-3.2 1-3.8M634.4 600.7l-0.2-3.5 -0.1-3.6 0.5-3.5M634.6 590.1l3.7-1.4 3.8-0.9 3.7-1.3M646.8 589.2l-1-2.7M649.2 609.1l-2.1-3.3 -2.9-2.6 -2.1-3.3M629.5 606.5l2.5-2.8 2.4-3M652.6 594.8l-2.7-3 -3.1-2.6M626.8 606.7l-1.7-3.4 -1-3.5 -0.9-3.6M623.2 596.2l1.1-3.2 1.8-2.8 0.7-3.3M626.8 586.9l4.1 1 3.7 2.2M626.8 586.9l-1.5-2.9M645.9 586.2l-1.4-3.7 0.1-4 -1.7-3.6M642.9 574.9l-2.2-1.7M608.5 617.8l-0.5-2.2M608.5 617.8l-1.9 2.6 -1.3 3.2 -2.7 2 -1.8 2.7M608 615.6l-3.4-1.9 -4-0.4 -3.6-1.7 -3.9-0.7M593.1 610.9l-2.8 1.8 -2.1 2.5M618 624.6l-3.5-1.8 -2.4-3.2 -3.6-1.8M625.4 607.7l-3.2 0.8 -3.2-0.1 -3.2-1 -3.2 0.3M612.6 607.7l-2.1 4 -2.5 3.9M612.6 607.7l-1.5-3.6 -2.2-3.3M595.2 601.7l-0.9 4.6 -1.2 4.6M595.2 601.7l2.7-1.9M608.9 600.8l-3.6-0.4 -3.7-0.3 -3.7-0.3M623.2 596.2l-3.7-0.9 -3.7-0.7 -3.9 0.1M608.9 600.8l2.3-2.7 0.7-3.4M623 582.4l-1.8 0.1M621.2 582.5l-2.3 2.5 -3.1 1.7 -1.3 3.6 -2.9 1.8M611.9 594.7l-0.3-2.6M620.1 547l-2.7-1.7 -2.9-1.3 -3-1.3M620.1 547l0.2 3.9 -1 3.7 -1 3.7M611.5 542.7l-3.2 0.9 -2.6 2.3 -3.3 0.5M618.3 558.3l-2.3 2.5 -2.5 2.2M602.4 546.4l-1.9 4 -1.3 4.2M613.5 563l-2.9 0.9M610.6 563.9l-3.1-1.8 -2.4-2.6 -3.3-1.6 -2.3-2.8M599.5 555.1l-0.3-0.5M610.8 535.2l1 3.7 -0.3 3.8M622 529.1l0.8 3.2 -0.7 3.2 0.2 3.2 -0.7 3.3 0.5 3.2M621.2 546.5l-1.1 0.5M622.1 545.2l-0.9 1.3M636.1 553.4l-2.8-1.7 -3-1.5 -3.5-0.2 -2.7-2.1 -2.9-1.4M636.1 553.4l-1.1 3.2 0.6 3.4 -0.2 3.4M635.4 563.4l-3.4-1.2 -3.3-1.3 -3.7 0 -3-2.4 -3.7-0.2M594.6 535.6l2.1 2.5 1.8 2.9 1.3 3.2 2.6 2.2M635.4 563.4l1.2 2M623.7 573.3l-3.1-2.1 -1.7-3.4 -3.3-1.8 -2.1-3M597 554.2l-4 1 -3.4 2.2 -3.9 1.2M597 554.2l-2.9-2.6 -3.3-2 -3.2-2.3M585.7 558.6l-2-2.8 -2-2.8 -2.9-2.1M587.6 547.3l-4.6 1 -4.3 1.8M578.7 550.1l0.1 0.8M590.6 536.9l-1.4 3.3 -0.1 3.8 -1.5 3.3M599.2 554.6l-2.2-0.4M577 548.6l1.7 1.5M569.2 564.3l4.2 0.4M573.4 564.7l1.8-3.3 1.2-3.5 0.6-3.8 1.8-3.2M589.4 572.4l-3.5 0M589.4 572.4l1.7-2.9 1.7-2.9 1.6-2.9 2-2.7 0.8-3.3 2.3-2.6M585.7 558.6l-1.4 3.9 -0.8 4.1 -0.1 4.2M585.9 572.4l-2.5-1.6M573.4 564.7l3.1 1.4 2.5 1.9 2.1 2.6M581.1 570.6l2.3 0.2M591.4 573.2l1.4 3.3 1.6 3.3 1.4 3.3 1.3 3.3M591.4 573.2l3.9-0.2 3.8-0.5 3.9 0.1 3.9-0.1M606.9 572.5l1.2 4M608.1 576.5l-1 3 -1.1 3.1 -1.5 2.8M604.5 585.4l-5.3 2.1M597.1 586.4l2.1 1.1M589.4 572.4l2 0.8M610.6 563.9l-2.3 4.1 -1.4 4.5M621.2 582.5l-3.2-1.6 -3-2.1 -3.4-1.4 -3.5-0.9M611.6 592.1l-2-2.6 -3-1.6 -2.1-2.5M597.9 599.8l0.8-4 0.1-4.2 0.4-4.1M553.9 601.1l2.9-2.4 3.6-1.2M551.9 599.7l-0.5-3.3 -0.4-3.3 0.5-3.3 0.2-3.3 -0.2-3.3M560.4 597.5l0.5-3.4 2.1-2.9 0.6-3.4 0.9-3.3 1.8-3M551.5 583.2l2.2-4.2M553.7 579l2.8-1.9 3.3-0.6M559.8 576.5l3.1 2.7 3.4 2.3M571.8 597.5l0.7 3.2 -0.1 3.2 0.3 3.2M571.8 597.5l-3.8 0.2 -3.8-0.5 -3.8 0.3M540.6 583.8l3.6 0.1 3.7 0.1 3.6-0.8M542.4 570.4l2.6 2.4 3.1 1.9 2.8 2.1 2.8 2.2M559.9 575.8l-0.1 0.7M581.1 570.6l-2.2 2.4 -2.3 2.6 -2.7 2 -2.8 1.9 -2.4 2.3M568.7 581.8l-2.4-0.3M645.3 533.5l0.3 6.1M645.3 533.5l-3.9 0.7 -4-0.7 -3.8 1.1M645.6 539.6l-3.5 2.8 -2.7 3.6M639.4 546l-3.5-3 -3.2-3.5M633.6 534.6l-0.9 4.9M652.1 543.6l-3-2.4 -3.5-1.6M652.1 543.6l3.1-2.2 2.8-2.6M647.7 530.2l-2.4 3.3M630.4 528.3l1.9 3 1.3 3.3M636.1 553.4l3.6-4.7M639.7 548.7l-0.3-2.7M622.1 545.2l3.6-1.8 3.1-2.7 3.9-1.2M686.6 589.9l-2.8-2.1M685.8 574l-0.5 0.4M683.8 587.8l0.1-3.4 0.8-3.3 0.4-3.3 0.2-3.4M690.1 546.3l-2.9 2.1 -2.9 2.1 -2.3 2.8M682 553.3l0.5 5.6M681.8 538.8l-3.3 2.3 -2.2 3.4M682 553.3l-1.4-3.2 -2.2-2.7 -2.1-2.9M666.6 540.8l1.3 2.3M667.9 543.1l4.2 0.7 4.2 0.7M575.3 595l0.4-6.2M575.3 595l3.1 1.5 2.8 1.8M575.7 588.8l4-2.3 4.2-1.8M587.8 596.9l-3.2 1.3 -3.4 0.1M587.8 596.9l-0.2-4.2 0.5-4.1M588.1 588.6l-4.2-3.9M568.7 581.8l2.2 2.4 2.6 2.1 2.2 2.5M571.8 597.5l3.5-2.5M581 606.9l-0.4-4.3 0.6-4.3M585.9 572.4l-1 4.1 -0.1 4.2 -0.9 4M595.2 601.7l-3.6-2.5 -3.8-2.3M597.1 586.4l-4.4 1.8 -4.6 0.4M677.1 603.3l-1.2-3 -1.6-2.8 -0.4-3.4 -2.7-2.3 -0.7-3.3M683.8 587.8l-3.2 0.5 -3.2-0.8 -3.2 0.6 -3.3 0M670.5 588.5l0.4-0.4M662.2 595.4l2.7-2.9 2.4-3.2M670.5 588.5l-3.2 0.8M685.3 574.4l-3.4-0.4 -3.2 1.1 -3.3 1.1 -3.3-0.3M670.9 588.1l-0.1-4.1 1.3-4 0-4.1M645.9 586.2l3.9-1.9 4.4 0 3.9-1.6M667.3 589.3l-3.3-1.8 -3.2-2.1 -2.7-2.7M642.9 574.9l3.6-0.7 3.2-1.9 3.3-1.5M653 570.8l3.4 2 2.8 2.8M658.1 582.7l1.1-3.5 0-3.6M667.9 543.1l-2.1 3.6 -1.4 3.9M652.1 543.6l-0.8 4.4 0.5 4.5M664.4 550.6l-4.3-0.1 -4.1 1.5 -4.2 0.5M636.6 565.4l3.2-1 2.2-2.7 3.4-0.6 2.7-2 3.1-1.1M653 570.8l1.2-3.5 1.4-3.4M655.6 563.9l-1.6-3.4 -2.8-2.5M639.7 548.7l4 1.4 4.1 1.1 4 1.3M651.2 558l0.6-5.5M675.2 561.2l-4.2-1.8 -4.2-1.7M675.2 561.2l-2 2.8 0.3 3.7 -1.5 3 -1.5 2.9M666.6 572.6l3.9 1M666.6 572.6l-2.3-2.7 -1-3.5 -1.8-3M661.5 563.4l3-2.5 2.3-3.2M682.5 558.9l-3.4 1.9 -3.9 0.4M664.4 550.6l1.1 3.6 1.3 3.5M672.1 575.9l-1.6-2.3M659.2 575.6l3.7-1.4 3.7-1.6M655.6 563.9l5.9-0.5" fill="none" stroke="#3a3a3a" stroke-width="1.9" stroke-linejoin="round" stroke-linecap="round"/><path d="M539.9 572.5l0.2-2.8 0.4-3.2 0.4-3.3 0.6-3.5 0.7-3.6 0.9-3.4 1-3.2 1.2-3 1.4-2.7 1.5-2.6 1.8-2.5 1.8-2.4 2.1-2.2 2.1-2.2 2.3-1.9 2.3-1.9 2.5-1.7 2.7-1.5 2.9-1.3 2.9-1.2 3-1.2 3.1-1.1 3-1 2.9-1.1 2.9-1.1 2.9-1 2.9-1 2.9-1 2.8-0.9 2.9-0.8 2.8-0.7 2.8-0.7 2.8-0.6 2.9-0.5 2.8-0.4 2.9-0.4 2.7-0.2 2.6-0.3 2.5-0.1 2.2-0.1 2 0 1.9 0.2 1.7 0.3 1.5 0.4 1.4 0.3 1.4 0.3 1.2 0.3 1.2 0 1-0.1 0.8-0.4 0.6-0.4 0.6-0.5 0.5-0.4 0.7-0.4 0.8-0.3 1.1 0 1.3 0.1 1.6 0.3 1.6 0.3 1.8 0.5 1.8 0.5 1.9 0.6 1.9 0.7 1.8 0.8 1.8 0.9 1.9 0.9 2 1.1 1.9 1.1 2 1.2 1.9 1.2 2 1.4 1.9 1.4 1.9 1.5 2 1.5 2 1.6 2 1.6 1.9 1.8 1.9 1.8 1.8 2 1.8 2 1.7 2.2 1.7 2.4 1.6 2.4 1.6 2.6 1.5 2.6 1.4 2.6 1.4 2.6 1.3 2.4 1.2 2.4 1.3 2.3 1.1 2.3 1.1 2.3 1 2.3 0.8 2.2 0.7 2.3 0.5 2.3 0.3 2.4 0.2 2.4 0 2.5 -0.1 2.5 -0.3 2.4 -0.4 2.3 -0.6 2 -0.7 1.9 -0.8 1.6 -0.9 1.5 -1.1 1.2 -1.2 1.2 -1.4 1 -1.6 0.9 -1.7 0.9 -2 0.8 -2.3 0.7 -2.6 0.6 -2.8 0.4 -3 0.4 -3.1 0.3 -3.1 0.4 -3 0.3 -3 0.5 -2.9 0.5 -3 0.6 -3.1 0.5 -3 0.6 -3 0.6 -2.9 0.6 -2.6 0.6 -2.5 0.6 -2.2 0.6 -1.9 0.5 -1.8 0.6 -1.6 0.5 -1.6 0.6 -1.6 0.7 -1.7 0.7 -1.8 0.9 -1.9 1 -2 1.2 -2 1.3 -2 1.3 -2.1 1.4 -2.1 1.3 -2.1 1.2 -2.2 1 -2.2 0.9 -2.4 1 -2.4 0.9 -2.4 0.8 -2.4 0.7 -2.3 0.5 -2.2 0.4 -2 0.2 -1.9 0 -1.8-0.3 -1.7-0.4 -1.7-0.5 -1.5-0.7 -1.4-0.7 -1.2-0.9 -1.1-0.9 -0.9-1.1 -0.6-1.2 -0.4-1.5 -0.4-1.4 -0.2-1.5 -0.3-1.5 -0.3-1.3 -0.5-1.2 -0.5-1 -0.4-1 -0.5-0.9 -0.4-0.8 -0.6-0.7 -0.7-0.7 -0.8-0.5 -1.1-0.5 -1.3-0.3 -1.6-0.1 -1.7 0.1 -1.9 0.1 -2 0.1 -1.9 0 -2-0.1 -1.9-0.3 -1.9-0.5 -2-0.5 -2-0.6 -2-0.8 -1.9-0.8 -2-0.9 -1.8-1 -1.7-1.1 -1.6-1.2 -1.6-1.3 -1.6-1.5 -1.4-1.5 -1.4-1.6 -1.2-1.7 -1.1-1.7 -0.9-1.7 -0.7-1.7 -0.7-1.8 -0.4-1.7 -0.4-1.8 -0.2-2 -0.1-2 0.1-2.3z" fill="none" stroke="#3a3a3a" stroke-width="1.6"/><path d="M539.9 572.5l0.2-2.8 0.4-3.2 0.4-3.3 0.6-3.5 0.7-3.6 0.9-3.4 1-3.2 1.2-3 1.4-2.7 1.5-2.6 1.8-2.5 1.8-2.4 2.1-2.2 2.1-2.2 2.3-1.9 2.3-1.9 2.5-1.7 2.7-1.5 2.9-1.3 2.9-1.2 3-1.2 3.1-1.1 3-1 2.9-1.1 2.9-1.1 2.9-1 2.9-1 2.9-1 2.8-0.9 2.9-0.8 2.8-0.7 2.8-0.7 2.8-0.6 2.9-0.5 2.8-0.4 2.9-0.4 2.7-0.2 2.6-0.3 2.5-0.1 2.2-0.1 2 0 1.9 0.2 1.7 0.3 1.5 0.4 1.4 0.3 1.4 0.3 1.2 0.3 1.2 0 1-0.1 0.8-0.4 0.6-0.4 0.6-0.5 0.5-0.4 0.7-0.4 0.8-0.3 1.1 0 1.3 0.1 1.6 0.3 1.6 0.3 1.8 0.5 1.8 0.5 1.9 0.6 1.9 0.7 1.8 0.8 1.8 0.9 1.9 0.9 2 1.1 1.9 1.1 2 1.2 1.9 1.2 2 1.4 1.9 1.4 1.9 1.5 2 1.5 2 1.6 2 1.6 1.9 1.8 1.9 1.8 1.8 2 1.8 2 1.7 2.2 1.7 2.4 1.6 2.4 1.6 2.6 1.5 2.6 1.4 2.6 1.4 2.6 1.3 2.4 1.2 2.4 1.3 2.3 1.1 2.3 1.1 2.3 1 2.3 0.8 2.2 0.7 2.3 0.5 2.3 0.3 2.4 0.2 2.4 0 2.5 -0.1 2.5 -0.3 2.4 -0.4 2.3 -0.6 2 -0.7 1.9 -0.8 1.6 -0.9 1.5 -1.1 1.2 -1.2 1.2 -1.4 1 -1.6 0.9 -1.7 0.9 -2 0.8 -2.3 0.7 -2.6 0.6 -2.8 0.4 -3 0.4 -3.1 0.3 -3.1 0.4 -3 0.3 -3 0.5 -2.9 0.5 -3 0.6 -3.1 0.5 -3 0.6 -3 0.6 -2.9 0.6 -2.6 0.6 -2.5 0.6 -2.2 0.6 -1.9 0.5 -1.8 0.6 -1.6 0.5 -1.6 0.6 -1.6 0.7 -1.7 0.7 -1.8 0.9 -1.9 1 -2 1.2 -2 1.3 -2 1.3 -2.1 1.4 -2.1 1.3 -2.1 1.2 -2.2 1 -2.2 0.9 -2.4 1 -2.4 0.9 -2.4 0.8 -2.4 0.7 -2.3 0.5 -2.2 0.4 -2 0.2 -1.9 0 -1.8-0.3 -1.7-0.4 -1.7-0.5 -1.5-0.7 -1.4-0.7 -1.2-0.9 -1.1-0.9 -0.9-1.1 -0.6-1.2 -0.4-1.5 -0.4-1.4 -0.2-1.5 -0.3-1.5 -0.3-1.3 -0.5-1.2 -0.5-1 -0.4-1 -0.5-0.9 -0.4-0.8 -0.6-0.7 -0.7-0.7 -0.8-0.5 -1.1-0.5 -1.3-0.3 -1.6-0.1 -1.7 0.1 -1.9 0.1 -2 0.1 -1.9 0 -2-0.1 -1.9-0.3 -1.9-0.5 -2-0.5 -2-0.6 -2-0.8 -1.9-0.8 -2-0.9 -1.8-1 -1.7-1.1 -1.6-1.2 -1.6-1.3 -1.6-1.5 -1.4-1.5 -1.4-1.6 -1.2-1.7 -1.1-1.7 -0.9-1.7 -0.7-1.7 -0.7-1.8 -0.4-1.7 -0.4-1.8 -0.2-2 -0.1-2 0.1-2.3z" fill="url(#shade)" /></g>
<g><path d="M905.3 572.5l-0.2-2.8 -0.4-3.2 -0.4-3.3 -0.6-3.5 -0.7-3.6 -0.9-3.4 -1-3.2 -1.2-3 -1.4-2.7 -1.5-2.6 -1.8-2.5 -1.9-2.4 -2-2.2 -2.1-2.2 -2.3-1.9 -2.3-1.9 -2.5-1.7 -2.7-1.5 -2.9-1.3 -2.9-1.2 -3-1.2 -3.1-1.1 -3-1 -2.9-1.1 -2.9-1.1 -2.9-1 -2.9-1 -2.9-1 -2.8-0.9 -2.9-0.8 -2.8-0.7 -2.8-0.7 -2.8-0.6 -2.9-0.5 -2.8-0.4 -2.9-0.4 -2.7-0.2 -2.6-0.3 -2.5-0.1 -2.2-0.1 -2 0 -1.9 0.2 -1.7 0.3 -1.5 0.4 -1.4 0.3 -1.4 0.3 -1.2 0.3 -1.2 0 -1-0.1 -0.8-0.4 -0.6-0.4 -0.6-0.5 -0.5-0.4 -0.7-0.4 -0.8-0.3 -1.1 0 -1.3 0.1 -1.6 0.3 -1.6 0.3 -1.8 0.5 -1.8 0.5 -1.9 0.6 -1.9 0.7 -1.8 0.8 -1.8 0.9 -1.9 0.9 -2 1.1 -1.9 1.1 -2 1.2 -1.9 1.2 -2 1.4 -1.9 1.4 -1.9 1.5 -2 1.5 -2 1.6 -1.9 1.6 -2 1.8 -1.9 1.8 -1.8 2 -1.8 2 -1.7 2.2 -1.7 2.4 -1.6 2.4 -1.6 2.6 -1.5 2.6 -1.4 2.6 -1.4 2.6 -1.3 2.4 -1.2 2.4 -1.3 2.3 -1.1 2.3 -1.1 2.3 -1 2.3 -0.8 2.2 -0.7 2.3 -0.5 2.3 -0.3 2.4 -0.2 2.4 0 2.5 0.1 2.5 0.3 2.4 0.4 2.3 0.6 2 0.7 1.9 0.8 1.6 0.9 1.5 1.1 1.2 1.2 1.2 1.4 1 1.6 0.9 1.7 0.9 2 0.8 2.3 0.7 2.6 0.6 2.8 0.4 3 0.4 3.1 0.3 3.1 0.4 3 0.3 3 0.5 2.9 0.5 3 0.6 3.1 0.5 3 0.6 3 0.6 2.9 0.6 2.6 0.6 2.5 0.6 2.2 0.6 1.9 0.5 1.8 0.6 1.6 0.5 1.6 0.6 1.6 0.7 1.7 0.7 1.8 0.9 1.9 1 2 1.2 2 1.3 2 1.3 2.1 1.4 2.1 1.3 2.1 1.2 2.2 1 2.2 0.9 2.4 1 2.4 0.9 2.4 0.8 2.4 0.7 2.3 0.5 2.2 0.4 2 0.2 1.9 0 1.8-0.3 1.7-0.4 1.7-0.5 1.5-0.7 1.4-0.7 1.2-0.9 1.1-0.9 0.9-1.1 0.6-1.2 0.4-1.5 0.4-1.4 0.2-1.5 0.3-1.5 0.3-1.3 0.5-1.2 0.5-1 0.4-1 0.5-0.9 0.4-0.8 0.6-0.7 0.7-0.7 0.8-0.5 1.1-0.5 1.3-0.3 1.6-0.1 1.7 0.1 1.9 0.1 2 0.1 1.9 0 2-0.1 1.9-0.3 1.9-0.5 2-0.5 2-0.6 2-0.8 1.9-0.8 2-0.9 1.8-1 1.7-1.1 1.6-1.2 1.6-1.3 1.6-1.5 1.4-1.5 1.4-1.6 1.2-1.7 1.1-1.7 0.9-1.7 0.7-1.7 0.7-1.8 0.4-1.7 0.4-1.8 0.2-2 0.1-2 -0.1-2.3z" fill="#3a3a3a" stroke="#2e2e2e" stroke-width="1"/><path d="M845 542.8l-1 0.3 -4.5 7.9 7 5.6 6.3-8.3zM793 533.9l2-4.4 -7.6-6.2 -6.7 3.5 -2.7 5 2.7 5.5zM816.1 576.5l9.7-3.7 -1.5-7.7 -9.4-5.8 -4.8 13.6zM820.8 554.4l-6 4.5 0.1 0.4 9.4 5.8 9.7-2.4 -1.6-7.6zM796.7 514.4l4.2 13.2 4.7 1 3.2-2.8 1.8-9.8 -3.4-6.2 -1 0.2 -1.2 0 -1-0.1 -0.8-0.4 -0.6-0.4 -0.6-0.5 -0.5-0.4 -0.7-0.4 -0.8-0.3 -0.2 0zM828.6 541.5l-4.7 2 -3.1 10.9 11.6 0.7 2.5-3.6 -4.6-9.3zM826.9 583.8l2.3-9.1 -3.4-1.9 -9.7 3.7 4 7.9zM801.6 543.4l9.1 3 5.1-6.7 -9.4-7.6zM800.9 527.6l-4.2-13.2 -8.5 5.1 -0.8 3.8 7.6 6.2zM780.7 526.8l6.7-3.5 0.8-3.8 -5.8-6.9 -0.9 0.5 -2 1.1 -1.9 1.1 -2 1.2 -0.3 0.2zM806.4 532.1l9.4 7.6 5.1-10.2 -1.1-1.5 -11-2.2 -3.2 2.8zM851.3 514.3l-1.3-0.4 -2.8-0.9 -2.9-0.8 -2.8-0.7 -2.8-0.7 -2.8-0.6 -2.9-0.5 -2.8-0.4 -2.4-0.3 -0.4 4.5 17.3 6.7 4.6-2.9zM827.4 513.5l0.4-4.5 -0.5-0.1 -2.7-0.2 -2.6-0.3 -2.5-0.1 -2.2-0.1 -2 0 -1.9 0.2 -1.7 0.3 -1.5 0.4 -1.4 0.3 -1.4 0.3 -0.2 0.1 3.4 6.2 12.5 0.8 3.7-2.2zM826.8 514.6l-3.7 2.2 -3.3 11.2 1.1 1.5 6.4 1.9 4.8-3.5zM800.9 527.6l-5.9 1.9 -2 4.4 4.4 11 0.2 0.2 4-1.7 4.8-11.3 -0.8-3.5zM797.8 552.5l4 4.3 12.3 1.5 -3.4-11.9 -9.1-3 -4 1.7zM839 572.3l-9.8 2.4 -2.3 9.1 3.5 2.7 12.6-5.6 0.1-0.8zM832.1 527.9l-4.8 3.5 1.3 10.1 1.7 0.7 6.5-2.8 2.8-11.1zM830.3 542.2l4.6 9.3 4.6-0.5 4.5-7.9 -7.2-3.7zM764.7 529.3l13.3 2.5 2.7-5 -5.4-10.1 -1.6 1 -2 1.4 -1.9 1.4 -1.9 1.5 -2 1.5 -2 1.6 -1.4 1.2zM844.7 520.2l-17.3-6.7 -0.6 1.1 5.3 13.3 7.5 0.4zM820.9 529.5l-5.1 10.2 8.1 3.8 4.7-2 -1.3-10.1zM788.2 519.5l8.5-5.1 3.1-6.9 -0.9 0 -1.3 0.1 -1.6 0.3 -1.6 0.3 -1.8 0.5 -1.8 0.5 -1.9 0.6 -1.9 0.7 -1.8 0.8 -1.8 0.9 -1 0.4zM834 562.7l-9.7 2.4 1.5 7.7 3.4 1.9 9.8-2.4 0.7-4.4zM830.4 586.5l0.6 10 0.8 0.6 12.2-7.2 1.2-4 -2.2-5zM780.3 542.8l1.7 2.7 15.4-0.6 -4.4-11 -12.3 3.4zM810.1 572.9l4.8-13.6 -0.1-0.4 -0.7-0.6 -12.3-1.5 -6.1 12.2 12.6 4.8zM823.1 516.8l-12.5-0.8 -1.8 9.8 11 2.2zM846.5 556.6l-7-5.6 -4.6 0.5 -2.5 3.6 1.6 7.6 5.7 5.2 7.6-5.7zM836.8 539.4l7.2 3.7 1-0.3 2.9-6.7 -8.3-7.8zM815.8 539.7l-5.1 6.7 3.4 11.9 0.7 0.6 6-4.5 3.1-10.9z" fill="#52cc94"/><path d="M878.2 537.4l5.2 7.6 4.3 1.3 7.1-8.1 -1.5-1.9 -2-2.2 -2.1-2.2 -2.3-1.9 -1.5-1.3zM887.7 546.3l3.1 6.6 12.5 4.9 -0.3-1.7 -0.9-3.4 -1-3.2 -1.2-3 -1.4-2.7 -1.5-2.6 -1.8-2.5 -0.4-0.5zM844.1 615.8l0.8 12.4 0.5-0.1 1.7-0.4 1.7-0.5 1.5-0.7 1.4-0.7 1.2-0.9 1.1-0.9 0.9-1.1 0.6-1.2 0.4-1.5 0.4-1.4 0.2-1.5 0.3-1.5 0.3-1.3 0.4-1 -9.5-1.4zM882.7 588.6l3.4 1.1 1.7-1 4.8-8.2 -1.7-8.5 -3.6-1.5 -13.2 7.1zM890.9 572l1.7 8.5 12.5 1.3 0.1-0.5 0.2-2 0.1-2 -0.1-2.3 -0.1-2.5 -0.2-2.8 -0.4-3.2 -0.2-1.8zM843.1 580.1l-0.1 0.8 2.2 5 14 3.5 3.1-2.1 3.1-8.2 -5.2-5.6 -1.1-0.2zM892.6 580.5l-4.8 8.2 13.1 3.1 0.1-0.1 1.1-1.7 0.9-1.7 0.7-1.7 0.7-1.8 0.4-1.7 0.3-1.3zM839.6 528.3l8.3 7.8 7.3-1.8 -5.9-17 -4.6 2.9 -5.1 8.1zM848.3 562.5l-1-0.3 -7.6 5.7 -0.7 4.4 4.1 7.8 16-6.8zM890.8 552.9l-6.6 8.7 3.1 8.9 3.6 1.5 13.6-7.3 -0.2-1.5 -0.6-3.5 -0.4-1.9zM874.1 577.6l13.2-7.1 -3.1-8.9 -10.2-1.1 0 17.1zM871.4 599.8l-10.4 4.6 0 3.6 0.5-0.3 1.1-0.5 1.3-0.3 1.6-0.1 1.7 0.1 1.9 0.1 2 0.1 1.9 0 2-0.1 1.9-0.3 0.5-0.1zM860.2 573.5l4.2-11.8 -4.9-3.8 -11.2 4.6 10.8 10.8zM861 604.4l-4.3-5.3 -9.2 2 -1 1.3 1.5 9.7 9.5 1.4 0.1-0.2 0.5-1 0.4-1 0.5-0.9 0.4-0.8 0.6-0.7 0.7-0.7 0.3-0.2zM859.5 557.9l4.9 3.8 8.1-2.5 0.1-6.5 -4-3.7 -10-0.3zM887.8 588.7l-1.7 1 1.8 13.3 0.8-0.4 1.8-1 1.7-1.1 1.6-1.2 1.6-1.3 1.6-1.5 1.4-1.5 1.4-1.6 1.1-1.6zM883.4 545l-5.2-7.6 -2.9-0.9 -5.5 3.1 -1.2 9.4 4 3.7zM862.3 587.3l9.2 8.5 11.2-7.2 -8.6-11 -0.1 0 -8.6 1.5zM859.1 536.8l10.7 2.8 5.5-3.1 -3.7-8.3 -7.7 0.2 -5.3 7.3zM874.5 522.8l-0.9-0.4 -3-1.2 -3.1-1.1 -3-1 -2.9-1.1 -2.1-0.8 4.4 11.2 7.7-0.2zM845.2 585.9l-1.2 4 3.5 11.2 9.2-2 2.5-9.7zM874 560.5l10.2 1.1 6.6-8.7 -3.1-6.6 -4.3-1.3 -10.8 7.7 -0.1 6.5zM859.2 589.4l-2.5 9.7 4.3 5.3 10.4-4.6 0.1-4 -9.2-8.5zM859.1 536.8l-0.5-1.1 -3.4-1.4 -7.3 1.8 -2.9 6.7 7.8 5.5 4.5-0.8zM865.4 579.1l8.6-1.5 0-17.1 -1.5-1.3 -8.1 2.5 -4.2 11.8zM857.3 547.5l-4.5 0.8 -6.3 8.3 0.8 5.6 1 0.3 11.2-4.6 -0.9-9.2zM878.2 537.4l7.2-8.7 -0.8-0.6 -2.5-1.7 -2.7-1.5 -2.9-1.3 -2-0.8 -2.9 5.4 3.7 8.3zM886.1 589.7l-3.4-1.1 -11.2 7.2 -0.1 4 6 6.8 1.4-0.4 2-0.5 2-0.6 2-0.8 1.9-0.8 1.2-0.5zM849.3 517.3l5.9 17 3.4 1.4 5.3-7.3 -4.4-11.2 -0.8-0.3 -2.9-1 -2.9-1 -1.6-0.6zM868.6 549l1.2-9.4 -10.7-2.8 -1.8 10.7 1.3 1.2z" fill="#d6a264"/><path d="M828.9 621.7l0.2 3.6 1.3 0.5 2.4 0.8 2.4 0.7 2.3 0.5 2.2 0.4 2 0.2 1.9 0 1.3-0.2 -0.8-12.4 -9.5-3zM795.6 606.3l-3.7-11.7 -7 0.4 -3.4 10.7 0.3 0.1 3 0.6 2.9 0.6 2.6 0.6 2.5 0.6 1.9 0.5zM734.5 581.1l16.7-6.6 0.4-1.9 -13.6-10 -0.4 0.8 -1 2.3 -0.8 2.2 -0.7 2.3 -0.5 2.3 -0.3 2.4 -0.2 2.4 0 2.5 0.1 1.3zM795.6 590.1l11.5 4.9 3.5-4.7 -4.7-10.7 -10.4 6.8zM805.9 579.6l2.4-5.8 -12.6-4.8 -5.2 0.8 1.6 12.6 3.4 4zM784.1 569.2l-7.2 14 0.6 2.2 14.6-3 -1.6-12.6 -3.5-1.7zM787 568.1l3.5 1.7 5.2-0.8 6.1-12.2 -4-4.3 -11.6 6.1zM782 545.5l-0.3 7.7 4.5 5.4 11.6-6.1 -0.2-7.4 -0.2-0.2zM831.8 597.1l-0.8-0.6 -8.5 0.5 -1.7 2.2 0.7 10 11.3-1.2 1.6-5.3zM812.7 614.1l-3.6-13.2 -1.1-1 -12.4 6.4 -0.9 2.4 0.3 0.1 1.9 0.5 1.8 0.6 1.6 0.5 1.6 0.6 1.6 0.7 1.7 0.7 1.8 0.9 1.9 1 2 1.2 0.4 0.3zM807.1 595l0.9 4.9 1.1 1 11.7-1.7 1.7-2.2 -4.6-8.2 -7.3 1.5zM772.8 591.9l-13.4-8.4 -2.9 0.6 -0.1 0.2 6.8 18.4 0.6 0.1 3 0.3 0.1 0.1zM778 531.8l-13.3-2.5 -2.1 15.8 1.7 0.5 16-2.8 0.4-5.5zM771 560.4l-4.5 0.9 -3.9 7.4 5.2 5.4 7.8-6.4zM791.9 594.6l3.7 11.7 12.4-6.4 -0.9-4.9 -11.5-4.9zM767.8 576.3l0-2.2 -5.2-5.4 -7.5-0.2 -3.5 4.1 -0.4 1.9 5.3 9.6 2.9-0.6zM828.9 621.7l-10.5-9 -5.7 1.4 -1.4 1.7 1.6 1 2 1.3 2.1 1.4 2.1 1.3 2.1 1.2 2.2 1 2.2 0.9 2.4 1 1.1 0.4zM846.5 602.4l1-1.3 -3.5-11.2 -12.2 7.2 2.6 5.6zM821.5 609.2l-3.1 3.5 10.5 9 5.7-8.9 -1.8-4.8zM760.4 546.4l2.2-1.3 2.1-15.8 -2.2-3 -0.5 0.4 -2 1.8 -1.9 1.8 -1.8 2 -1.8 2 -1.7 2.2 -1.7 2.4 -1.6 2.4 -0.9 1.5zM820.8 599.2l-11.7 1.7 3.6 13.2 5.7-1.4 3.1-3.5zM810.6 590.3l7.3-1.5 2.2-4.4 -4-7.9 -6-3.6 -1.8 0.9 -2.4 5.8zM749.8 589.2l-15.3-8.1 -0.3 0 0 1.2 0.3 2.4 0.4 2.3 0.6 2 0.7 1.9 0.8 1.6 0.9 1.5 1.1 1.2 1.2 1.2 1.4 1 1.6 0.9 1.7 0.9 1.9 0.8zM758.8 554.6l-5 4.8 1.3 9.1 7.5 0.2 3.9-7.4zM830.4 586.5l-3.5-2.7 -6.8 0.6 -2.2 4.4 4.6 8.2 8.5-0.5zM775.6 567.7l-7.8 6.4 0 2.2 9.1 6.9 7.2-14zM753.8 559.4l5-4.8 1.6-8.2 -11.8-3.6 -0.7 1.1 -1.5 2.6 -1.4 2.6 -1.4 2.6 -1.3 2.4 -1 1.9zM781.7 553.2l-8.7 3.4 -2 3.8 4.6 7.3 8.5 1.5 2.9-1.1 -0.8-9.5zM756.5 584.1l-5.3-9.6 -16.7 6.6 15.3 8.1 6.6-4.9zM784.9 595l-8.2-5.8 -3.9 2.7 -5.9 11.3 2.9 0.4 2.9 0.5 3 0.6 3.1 0.5 2.7 0.5zM792.1 582.4l-14.6 3 -0.8 3.8 8.2 5.8 7-0.4 3.7-4.5 -0.1-3.7zM753.8 559.4l-12.5-3.4 -0.2 0.5 -1.3 2.3 -1.1 2.3 -0.7 1.5 13.6 10 3.5-4.1zM773 556.6l8.7-3.4 0.3-7.7 -1.7-2.7 -16 2.8zM832.8 608l1.8 4.8 9.5 3 3.9-3.7 -1.5-9.7 -12.1 0.3zM756.4 584.3l-6.6 4.9 -3 10.8 0.1 0 2.3 0.7 2.6 0.6 2.8 0.4 3 0.4 3.1 0.3 2.5 0.3zM762.6 545.1l-2.2 1.3 -1.6 8.2 7.7 6.7 4.5-0.9 2-3.8 -8.7-11zM776.7 589.2l0.8-3.8 -0.6-2.2 -9.1-6.9 -8.4 7.2 13.4 8.4z" fill="#7e8c8c"/><path d="M794.7 608.7l0.9-2.4M811.3 615.8l1.4-1.7M812.7 614.1l-1.6-3.1 -0.1-3.5 -1.2-3.3 -0.7-3.3M809.1 600.9l-1.1-1M795.6 606.3l3.4-1 2.9-2.1 3-1.7 3.1-1.6M905.1 581.8l-4.1-1.2 -4.3 0.7 -4.1-0.8M900.9 591.8l-3.1-1.3 -3.5-0.1 -3.2-1.2 -3.3-0.5M887.8 588.7l3.1-3.7 1.7-4.5M741.3 556l3 1.4 3.2 0.5 3 1.1 3.3 0.4M738 562.6l3.2 1.4 2.3 2.5 2.3 2.6 2.8 1.8 3 1.7M753.8 559.4l0.7 4.5 0.6 4.6M751.6 572.6l3.5-4.1M751.2 574.5l0.4-1.9M734.5 581.1l3.2-1.8 3.4-1.1 3.4-1.2 3.2-1.8 3.5-0.7M887.7 546.3l2.9-2.2 2-3 2.2-2.9M887.7 546.3l-4.3-1.3M885.4 528.7l-2.5 2.9 -1.9 3.3 -2.8 2.5M883.4 545l-2.8-3.6 -2.4-4M892.6 580.5l-1-4.2 -0.7-4.3M890.9 572l3.1-2.4 3.5-1.5 3.5-1.8 3.5-1.6M887.7 546.3l1.2 3.5 1.9 3.1M903.3 557.8l-2.9-1.9 -3.6 0.2 -3.1-1.4 -2.9-1.8M748.6 542.8l3.8 1.8 4.3-0.2 3.7 2M753.8 559.4l2.2-2.7 2.8-2.1M760.4 546.4l-0.9 4.1 -0.7 4.1M762.6 568.7l2-3.7 1.9-3.7M755.1 568.5l3.8-0.4 3.7 0.6M758.8 554.6l2.3 2.6 2.6 2.1 2.8 2M782.4 512.6l3.5 2.9 2.3 4M788.2 519.5l3-1.4 2.6-2.2 2.9-1.5M799.8 507.5l-1.5 3.5 -1.6 3.4M827.8 509l-0.4 4.5M807.2 509.8l1.6 3.2 1.8 3M810.6 516l4.2 0.5 4.1 0.6 4.2-0.3M827.4 513.5l-0.6 1.1M823.1 516.8l3.7-2.2M834 562.7l-1.3-3.7 -0.3-3.9M834 562.7l-3.1 1.3 -3.3 0.8 -3.3 0.3M814.8 558.9l2.7-2.7 3.3-1.8M824.3 565.1l-2.9-2.3 -3-2.1 -3.5-1.4M820.8 554.4l3.9 0 3.9 0.8 3.8-0.1M874.5 522.8l-2.9 5.4M859.5 517.2l1 3.9 1.4 3.8 2 3.5M863.9 528.4l3.9 0.3 3.8-0.5M878.2 537.4l-2.9-0.9M871.6 528.2l1.7 4.2 2 4.1M863.9 528.4l-3.1 3.3 -2.2 4M875.3 536.5l-5.5 3.1M869.8 539.6l-3.7-0.7 -3.4-1.3 -3.6-0.8M859.1 536.8l-0.5-1.1M887.8 588.7l-1.7 1M886.1 589.7l0.8 3.3 0.2 3.3 0.6 3.3 0.2 3.4M825.8 572.8l3.4 1.9M829.2 574.7l3.3-0.8 3.1-1.6 3.4 0M825.8 572.8l-0.9-3.8 -0.6-3.9M834 562.7l2.8 2.6 2.9 2.6M839 572.3l0.7-4.4M844.9 628.2l0.4-4.2 -0.6-4.1 -0.6-4.1M829.1 625.3l-0.2-3.6M828.9 621.7l1.4-3.3 2.3-2.8 2-2.8M844.1 615.8l-3-1.4 -3.5 0 -3-1.6M814.9 559.3l-1.8 3.2 0.1 3.9 -2.2 3 -0.9 3.5M825.8 572.8l-3.3 1.1 -3.5 0.6 -2.9 2M816.1 576.5l-3.1-1.6 -2.9-2M814.1 558.3l0.7 0.6M814.1 558.3l-4.1-0.1 -4.1-0.3 -4.1-1.1M801.8 556.8l-1.2 3.2 -1.6 3 -1.9 2.9 -1.4 3.1M795.7 569l3.3 0.8 3.2 1.1 2.7 2.3 3.4 0.6M810.1 572.9l-1.8 0.9M890.9 572l-3.6-1.5M890.8 552.9l-1.6 3.4 -3.4 1.9 -1.6 3.4M887.3 570.5l-1.9-4.3 -1.2-4.6M883.4 545l-2.9 1.5 -2.7 2 -2.9 1.6 -2.3 2.6M869.8 539.6l-1.1 4.6 -0.1 4.8M868.6 549l4 3.7M884.2 561.6l-3.5 0.5 -3.3-1.7 -3.4 0.1M874 560.5l-1.5-1.3M872.6 552.7l-0.8 3.3 0.7 3.2M886.1 589.7l-3.4-1.1M887.3 570.5l-3.5 1.3 -3.1 2.2 -2.9 2.5 -3.7 1.1M882.7 588.6l-2.8-2.3 -1.8-2.9 -1.5-3.3 -2.5-2.5M874 560.5l0.6 3.4 -0.7 3.4 -0.3 3.5 0.3 3.4 0.1 3.4M756.5 584.1l2.9-0.6M751.2 574.5l1.5 3.4 1.6 3.2 2.2 3M767.8 574.1l-2.4-3 -2.8-2.4M767.8 574.1l0 2.2M767.8 576.3l-2.2 3 -3.6 1.6 -2.6 2.6M791.9 594.6l-3.5 0.1 -3.5 0.3M795.6 606.3l-0.7-4.1 -2.1-3.6 -0.9-4M784.9 595l-0.5 3.8 -1 3.6 -1.9 3.3M759.4 583.5l3.4 2.1 3.6 1.6 2.8 3 3.6 1.7M776.9 583.2l0.6 2.2M776.9 583.2l-2.9-2.4 -3.3-2 -2.9-2.5M777.5 585.4l-0.8 3.8M776.7 589.2l-3.9 2.7M749.8 589.2l3.2-2.7 3.4-2.2M749.8 589.2l-0.3 3.8 -1.1 3.5 -1.6 3.5M756.4 584.3l0.5 3.3 2.3 2.7 0.5 3.2 1.1 3.1 0.9 3.2 1.5 2.9M734.5 581.1l3.4 1.1 2.8 2 3.3 1.2 3.1 1.6 2.7 2.2M772.8 591.9l-1.8 3.9 -2.2 3.6 -1.9 3.8M784.9 595l-2.9-1.7 -2.7-2 -2.6-2.1M828.9 621.7l-2.6-2.3 -3.2-1.6 -1.7-3.3 -3-1.8M812.7 614.1l5.7-1.4M766.5 561.3l4.5-0.9M767.8 574.1l2.1-2.7 3-1.7 2.7-2M771 560.4l2 3.8 2.6 3.5M776.9 583.2l1.1-3.8 2-3.4 1.6-3.6 2.5-3.2M775.6 567.7l4.4 0.2 4.1 1.3M790.5 569.8l-3.5-1.7M792.1 582.4l-0.4-4.2 -0.2-4.2 -1-4.2M792.1 582.4l-3.8 0 -3.5 1.4 -3.8 0.2 -3.5 1.4M784.1 569.2l2.9-1.1M801.8 556.8l-4-4.3M790.5 569.8l5.2-0.8M787 568.1l-0.5-4.8 -0.3-4.7M797.8 552.5l-2.9 1.5 -3.2 0.9 -2.2 2.9 -3.3 0.8M773 556.6l-2 3.8M773 556.6l4.6-1.1 4.1-2.3M781.7 553.2l2.5 2.5 2 2.9M810.7 546.4l-4.6-1.4 -4.5-1.6M814.1 558.3l-0.4-4.1 -2-3.8 -1-4M797.8 552.5l0.7-3.7 -0.9-3.7M801.6 543.4l-4 1.7M782 545.5l3.8 0.2 3.8-1.1 3.9 1.3 3.9-1M782 545.5l0.6 3.9 -0.9 3.8M782 545.5l-1.7-2.7M773 556.6l-1.9-3 -2.7-2.3 -1.3-3.5 -2.8-2.2M780.3 542.8l-3.1 1 -3.2 0.6 -3.2 0.5 -3.3-0.2 -3.2 0.9M762.5 526.3l2.2 3M760.4 546.4l2.2-1.3M764.7 529.3l-0.4 4 -0.8 3.9 -1 3.9 0.1 4M762.6 545.1l1.7 0.5M787.4 523.3l-3.5 1.4 -3.2 2.1M787.4 523.3l2.2 2.5 3.1 1.3 2.3 2.4M795 529.5l-2 4.4M793 533.9l-3.9 1.8 -4.3 0.5 -4.1 1.1M780.7 526.8l-2.7 5M778 531.8l2.7 5.5M775.3 516.7l2.3 3.1 0.9 3.8 2.2 3.2M788.2 519.5l-0.8 3.8M800.9 527.6l-5.9 1.9M796.7 514.4l1 3.3 0.9 3.3 1.7 3.1 0.6 3.5M780.3 542.8l0.4-5.5M797.4 544.9l-1.7-3.6 -0.7-4 -2-3.4M764.7 529.3l3.3 0.8 3.4 0.2 3.3 1 3.3 0.5M820.8 554.4l1.1-3.6 1.6-3.5 0.4-3.8M810.7 546.4l2.7-3.2 2.4-3.5M815.8 539.7l4.3 1.3 3.8 2.5M858.6 535.7l-3.4-1.4M851.3 514.3l-2 3M855.2 534.3l-1.8-3.2 -1-3.5 -0.2-3.7 -1.9-3.1 -1-3.5M827.4 513.5l3.8 0.5 3 2.4 3.6 1 3.6 1 3.3 1.8M844.7 520.2l4.6-2.9M844.1 615.8l3.9-3.7M857.5 613.5l-3.3 0.3 -3-1.6 -3.2-0.1M809.1 600.9l3.9-0.5 4 0.1 3.8-1.3M818.4 612.7l3.1-3.5M820.8 599.2l0.8 3.3 -0.1 3.3 0 3.4M834.6 612.8l-1.8-4.8M821.5 609.2l3.9 0.1 3.7-0.5 3.7-0.8M826.9 583.8l-3.4 0.8 -3.4-0.2M826.9 583.8l3.5 2.7M830.4 586.5l0.6 3.3 -0.6 3.4 0.6 3.3M817.9 588.8l2.2-4.4M817.9 588.8l2.4 4 2.2 4.2M822.5 597l4.2-1.1 4.3 0.6M829.2 574.7l-1.1 4.6 -1.2 4.5M816.1 576.5l1.3 4.3 2.7 3.6M844 589.9l-3 1.8 -3 1.9 -3 1.9 -3.2 1.6M844 589.9l1.9 3.5 -0.1 4.1 1.7 3.6M847.5 601.1l-1 1.3M846.5 602.4l-4 0.7 -4.1-0.4 -4 0M831.8 597.1l2.6 5.6M832.8 608l1.6-5.3M848 612.1l-0.6-3.2 -0.8-3.2 -0.1-3.3M820.8 599.2l1.7-2.2M831 596.5l0.8 0.6M807.1 595l-4.2-0.9 -3.8-1.7 -3.5-2.3M807.1 595l3.5-4.7M810.6 590.3l-1-3.8 -1.4-3.6 -2.3-3.3M805.9 579.6l-3.5 2.2 -3.9 1.6 -3 3M795.6 590.1l-0.1-3.7M808 599.9l-0.9-4.9M791.9 594.6l3.7-4.5M817.9 588.8l-3.8 0.1 -3.5 1.4M808.3 573.8l-2.4 5.8M792.1 582.4l3.4 4M859.5 557.9l-0.1-4.7 -0.8-4.5M859.5 557.9l-3.5 2 -3.8 1.5 -3.9 1.1M846.5 556.6l1.5-3.2 3-2.1 1.8-3M846.5 556.6l0.8 5.6M852.8 548.3l4.5-0.8M848.3 562.5l-1-0.3M857.3 547.5l1.3 1.2M868.6 549l-3.4 0.7 -3.3-1.6 -3.3 0.6M864.4 561.7l4.2-1 3.9-1.5M864.4 561.7l-4.9-3.8M839.5 551l2.8-3.6 1.7-4.3M845 542.8l-1 0.3M839.5 551l3.5 2.8 3.5 2.8M845 542.8l3.5 3.2 4.3 2.3M832.4 555.1l2.5-3.6M839.7 567.9l3.7-2.9 3.9-2.8M839.5 551l-4.6 0.5M847.9 536.1l3.6-1.2 3.7-0.6M845 542.8l2-3.1 0.9-3.6M859.1 536.8l0.2 3.7 -1.9 3.4 -0.1 3.6M861 608l0-3.6M847.5 601.1l4.6-0.9 4.6-1.1M856.7 599.1l1.6 3.1 2.7 2.2M877.4 606.6l-2.5-3.8 -3.5-3M861 604.4l3.2-2.2 3.7-1 3.5-1.4M882.7 588.6l-2.8 1.8 -2.9 1.6 -2.3 2.6 -3.2 1.2M871.4 599.8l0.1-4M845.2 585.9l-2.2-5M845.2 585.9l3.4 1.5 3.8-0.5 3.5 0.9 3.3 1.6M859.2 589.4l3.1-2.1M862.3 587.3l2.2-3.8 0.9-4.4M865.4 579.1l-2.6-2.8 -2.6-2.8M843 580.9l0.1-0.8M843.1 580.1l3.4-0.8 2.9-2.2 3.6-0.4 3.2-1.4 2.9-2M860.2 573.5l-1.1-0.2M830.4 586.5l2.9-2 3.3-1.1 3-1.7 3.4-0.8M844 589.9l1.2-4M856.7 599.1l0.9-3.2 0.1-3.4 1.5-3.1M871.5 595.8l-2.8-3.1 -3.6-2.2 -2.8-3.2M874 577.6l-4.4 0.1 -4.2 1.4M864.4 561.7l-1.3 4 -1.1 4 -1.8 3.8M839 572.3l2.5 3.7 1.6 4.1M848.3 562.5l2.2 3.1 3.3 2.2 2.3 3.1 3 2.4M815.8 539.7l1.6-3.4 2.2-3.2 1.3-3.6M815.8 539.7l-3.5-2.1 -2.5-3.3 -3.4-2.2M808.8 525.8l-3.2 2.8M808.8 525.8l3.8 0.1 3.4 2.2 3.8-0.1M819.8 528l1.1 1.5M806.4 532.1l-0.8-3.5M801.6 543.4l1-4 2.4-3.5 1.4-3.8M810.6 516l0.2 3.4 -0.6 3.3 -1.4 3.1M800.9 527.6l4.7 1M823.1 516.8l-1.7 3.6 -1.3 3.7 -0.3 3.9M828.6 541.5l-1.2-3.2 0.1-3.5 -0.2-3.4M828.6 541.5l1.7 0.7M830.3 542.2l3.2-1.6 3.3-1.2M836.8 539.4l0.2-3.9 1.5-3.5 1.1-3.7M827.3 531.4l4.8-3.5M832.1 527.9l3.8 0 3.7 0.4M820.9 529.5l3.3 0.8 3.1 1.1M823.9 543.5l4.7-2M834.9 551.5l-1.2-3.2 -2-2.9 -1.4-3.2M844 543.1l-4-1.2 -3.2-2.5M847.9 536.1l-2.6-2.8 -3.2-2 -2.5-3M826.8 514.6l1.3 3.3 1 3.5 2.4 2.9 0.6 3.6M844.7 520.2l-3.2 3.7 -1.9 4.4" fill="none" stroke="#3a3a3a" stroke-width="1.9" stroke-linejoin="round" stroke-linecap="round"/><path d="M905.3 572.5l-0.2-2.8 -0.4-3.2 -0.4-3.3 -0.6-3.5 -0.7-3.6 -0.9-3.4 -1-3.2 -1.2-3 -1.4-2.7 -1.5-2.6 -1.8-2.5 -1.9-2.4 -2-2.2 -2.1-2.2 -2.3-1.9 -2.3-1.9 -2.5-1.7 -2.7-1.5 -2.9-1.3 -2.9-1.2 -3-1.2 -3.1-1.1 -3-1 -2.9-1.1 -2.9-1.1 -2.9-1 -2.9-1 -2.9-1 -2.8-0.9 -2.9-0.8 -2.8-0.7 -2.8-0.7 -2.8-0.6 -2.9-0.5 -2.8-0.4 -2.9-0.4 -2.7-0.2 -2.6-0.3 -2.5-0.1 -2.2-0.1 -2 0 -1.9 0.2 -1.7 0.3 -1.5 0.4 -1.4 0.3 -1.4 0.3 -1.2 0.3 -1.2 0 -1-0.1 -0.8-0.4 -0.6-0.4 -0.6-0.5 -0.5-0.4 -0.7-0.4 -0.8-0.3 -1.1 0 -1.3 0.1 -1.6 0.3 -1.6 0.3 -1.8 0.5 -1.8 0.5 -1.9 0.6 -1.9 0.7 -1.8 0.8 -1.8 0.9 -1.9 0.9 -2 1.1 -1.9 1.1 -2 1.2 -1.9 1.2 -2 1.4 -1.9 1.4 -1.9 1.5 -2 1.5 -2 1.6 -1.9 1.6 -2 1.8 -1.9 1.8 -1.8 2 -1.8 2 -1.7 2.2 -1.7 2.4 -1.6 2.4 -1.6 2.6 -1.5 2.6 -1.4 2.6 -1.4 2.6 -1.3 2.4 -1.2 2.4 -1.3 2.3 -1.1 2.3 -1.1 2.3 -1 2.3 -0.8 2.2 -0.7 2.3 -0.5 2.3 -0.3 2.4 -0.2 2.4 0 2.5 0.1 2.5 0.3 2.4 0.4 2.3 0.6 2 0.7 1.9 0.8 1.6 0.9 1.5 1.1 1.2 1.2 1.2 1.4 1 1.6 0.9 1.7 0.9 2 0.8 2.3 0.7 2.6 0.6 2.8 0.4 3 0.4 3.1 0.3 3.1 0.4 3 0.3 3 0.5 2.9 0.5 3 0.6 3.1 0.5 3 0.6 3 0.6 2.9 0.6 2.6 0.6 2.5 0.6 2.2 0.6 1.9 0.5 1.8 0.6 1.6 0.5 1.6 0.6 1.6 0.7 1.7 0.7 1.8 0.9 1.9 1 2 1.2 2 1.3 2 1.3 2.1 1.4 2.1 1.3 2.1 1.2 2.2 1 2.2 0.9 2.4 1 2.4 0.9 2.4 0.8 2.4 0.7 2.3 0.5 2.2 0.4 2 0.2 1.9 0 1.8-0.3 1.7-0.4 1.7-0.5 1.5-0.7 1.4-0.7 1.2-0.9 1.1-0.9 0.9-1.1 0.6-1.2 0.4-1.5 0.4-1.4 0.2-1.5 0.3-1.5 0.3-1.3 0.5-1.2 0.5-1 0.4-1 0.5-0.9 0.4-0.8 0.6-0.7 0.7-0.7 0.8-0.5 1.1-0.5 1.3-0.3 1.6-0.1 1.7 0.1 1.9 0.1 2 0.1 1.9 0 2-0.1 1.9-0.3 1.9-0.5 2-0.5 2-0.6 2-0.8 1.9-0.8 2-0.9 1.8-1 1.7-1.1 1.6-1.2 1.6-1.3 1.6-1.5 1.4-1.5 1.4-1.6 1.2-1.7 1.1-1.7 0.9-1.7 0.7-1.7 0.7-1.8 0.4-1.7 0.4-1.8 0.2-2 0.1-2 -0.1-2.3z" fill="none" stroke="#3a3a3a" stroke-width="1.6"/><path d="M905.3 572.5l-0.2-2.8 -0.4-3.2 -0.4-3.3 -0.6-3.5 -0.7-3.6 -0.9-3.4 -1-3.2 -1.2-3 -1.4-2.7 -1.5-2.6 -1.8-2.5 -1.9-2.4 -2-2.2 -2.1-2.2 -2.3-1.9 -2.3-1.9 -2.5-1.7 -2.7-1.5 -2.9-1.3 -2.9-1.2 -3-1.2 -3.1-1.1 -3-1 -2.9-1.1 -2.9-1.1 -2.9-1 -2.9-1 -2.9-1 -2.8-0.9 -2.9-0.8 -2.8-0.7 -2.8-0.7 -2.8-0.6 -2.9-0.5 -2.8-0.4 -2.9-0.4 -2.7-0.2 -2.6-0.3 -2.5-0.1 -2.2-0.1 -2 0 -1.9 0.2 -1.7 0.3 -1.5 0.4 -1.4 0.3 -1.4 0.3 -1.2 0.3 -1.2 0 -1-0.1 -0.8-0.4 -0.6-0.4 -0.6-0.5 -0.5-0.4 -0.7-0.4 -0.8-0.3 -1.1 0 -1.3 0.1 -1.6 0.3 -1.6 0.3 -1.8 0.5 -1.8 0.5 -1.9 0.6 -1.9 0.7 -1.8 0.8 -1.8 0.9 -1.9 0.9 -2 1.1 -1.9 1.1 -2 1.2 -1.9 1.2 -2 1.4 -1.9 1.4 -1.9 1.5 -2 1.5 -2 1.6 -1.9 1.6 -2 1.8 -1.9 1.8 -1.8 2 -1.8 2 -1.7 2.2 -1.7 2.4 -1.6 2.4 -1.6 2.6 -1.5 2.6 -1.4 2.6 -1.4 2.6 -1.3 2.4 -1.2 2.4 -1.3 2.3 -1.1 2.3 -1.1 2.3 -1 2.3 -0.8 2.2 -0.7 2.3 -0.5 2.3 -0.3 2.4 -0.2 2.4 0 2.5 0.1 2.5 0.3 2.4 0.4 2.3 0.6 2 0.7 1.9 0.8 1.6 0.9 1.5 1.1 1.2 1.2 1.2 1.4 1 1.6 0.9 1.7 0.9 2 0.8 2.3 0.7 2.6 0.6 2.8 0.4 3 0.4 3.1 0.3 3.1 0.4 3 0.3 3 0.5 2.9 0.5 3 0.6 3.1 0.5 3 0.6 3 0.6 2.9 0.6 2.6 0.6 2.5 0.6 2.2 0.6 1.9 0.5 1.8 0.6 1.6 0.5 1.6 0.6 1.6 0.7 1.7 0.7 1.8 0.9 1.9 1 2 1.2 2 1.3 2 1.3 2.1 1.4 2.1 1.3 2.1 1.2 2.2 1 2.2 0.9 2.4 1 2.4 0.9 2.4 0.8 2.4 0.7 2.3 0.5 2.2 0.4 2 0.2 1.9 0 1.8-0.3 1.7-0.4 1.7-0.5 1.5-0.7 1.4-0.7 1.2-0.9 1.1-0.9 0.9-1.1 0.6-1.2 0.4-1.5 0.4-1.4 0.2-1.5 0.3-1.5 0.3-1.3 0.5-1.2 0.5-1 0.4-1 0.5-0.9 0.4-0.8 0.6-0.7 0.7-0.7 0.8-0.5 1.1-0.5 1.3-0.3 1.6-0.1 1.7 0.1 1.9 0.1 2 0.1 1.9 0 2-0.1 1.9-0.3 1.9-0.5 2-0.5 2-0.6 2-0.8 1.9-0.8 2-0.9 1.8-1 1.7-1.1 1.6-1.2 1.6-1.3 1.6-1.5 1.4-1.5 1.4-1.6 1.2-1.7 1.1-1.7 0.9-1.7 0.7-1.7 0.7-1.8 0.4-1.7 0.4-1.8 0.2-2 0.1-2 -0.1-2.3z" fill="url(#shade)" /></g>
<g><path d="M542.6 708.9l0.2-1.9 0.4-2.2 0.4-2.5 0.6-2.5 0.7-2.7 0.8-2.8 0.8-2.7 1-2.6 1.1-2.6 1.1-2.7 1.3-2.7 1.4-2.7 1.4-2.8 1.6-2.6 1.7-2.7 1.8-2.5 2-2.5 2.1-2.5 2.3-2.5 2.3-2.5 2.4-2.3 2.5-2.2 2.5-2.1 2.4-1.9 2.5-1.7 2.5-1.5 2.7-1.4 2.6-1.3 2.6-1.2 2.5-1 2.3-1 2.2-0.8 2-0.7 1.8-0.7 1.7-0.5 1.6-0.4 1.5-0.2 1.4-0.2 1.4-0.2 1.3 0 1.2 0.1 1.2 0.3 1 0.5 0.9 0.5 1 0.5 1 0.5 1 0.3 1.2 0.2 1.2-0.1 1.2-0.3 1.2-0.4 1.3-0.4 1.4-0.5 1.5-0.3 1.7-0.2 1.9 0 2.2 0.3 2.4 0.4 2.7 0.6 2.7 0.6 2.9 0.8 2.8 0.7 2.9 0.8 2.7 0.8 2.7 0.7 2.6 0.8 2.7 0.8 2.6 0.8 2.7 0.8 2.7 1 2.6 1 2.7 1.2 2.7 1.3 2.8 1.4 2.8 1.4 2.8 1.6 2.7 1.6 2.7 1.8 2.5 1.8 2.4 1.9 2.3 2 2.2 2.1 2.2 2.2 2.1 2.3 2 2.4 1.8 2.4 1.6 2.5 1.4 2.6 1.2 2.7 1.1 2.7 0.8 2.9 0.7 3 0.6 2.9 0.5 2.9 0.3 2.9 0.2 2.7 0.1 2.7 0 2.7 -0.1 2.6 -0.3 2.7 -0.3 2.5 -0.6 2.4 -0.6 2.2 -0.8 2.1 -0.9 1.9 -1.1 1.7 -1.2 1.6 -1.3 1.5 -1.4 1.4 -1.7 1.2 -1.7 1 -2 1 -2.2 0.8 -2.6 0.6 -2.7 0.4 -2.9 0.3 -3 0.2 -2.8 0.2 -2.7 0.2 -2.5 0.2 -2.3 0.2 -2.4 0.1 -2.3 0 -2.1 0 -2 0 -1.8 0.2 -1.5 0.3 -1.2 0.6 -0.7 0.8 -0.2 1.1 0.1 1.3 0.4 1.4 0.3 1.4 0.3 1.4 0.1 1.3 -0.3 1.2 -0.6 1.1 -0.8 1.1 -0.9 1 -1.1 1.1 -1.1 0.9 -1.3 0.8 -1.3 0.6 -1.4 0.5 -1.5 0.3 -1.7 0.1 -1.8-0.1 -1.9-0.1 -1.9-0.3 -1.9-0.4 -1.8-0.4 -1.7-0.5 -1.5-0.6 -1.3-0.8 -1.2-0.8 -1.3-1 -1.2-1 -1.4-1 -1.6-1 -1.9-0.9 -2.1-0.9 -2.4-0.9 -2.5-0.9 -2.6-0.8 -2.8-0.9 -2.8-0.9 -3-0.9 -3.1-0.9 -3.3-0.9 -3.5-0.9 -3.6-0.9 -3.8-0.9 -3.8-0.8 -3.6-0.9 -3.5-0.9 -3.3-0.9 -3.1-0.9 -2.9-0.8 -2.8-0.9 -2.7-0.9 -2.6-0.8 -2.5-0.9 -2.4-0.9 -2.3-1 -2.2-1 -2.1-1 -2.1-1.1 -1.9-1.1 -1.8-1.1 -1.6-1 -1.4-1.1 -1.1-1.1 -0.9-1 -0.6-0.9 -0.5-0.8 -0.2-0.8 -0.2-1 0-1.1 0.1-1.3z" fill="#3a3a3a" stroke="#2e2e2e" stroke-width="1"/><path d="M643.3 656l0.6-2 -8.1-12.7 -8.8 12.8 2.3 3.2zM611.9 636.7l-0.7-0.2 -1.2-0.1 -1.3 0 -1.4 0.2 -1.4 0.2 -1.5 0.2 -1.6 0.4 -1.7 0.5 -1.8 0.7 -1.4 0.5 5.7 13 4.3 0.1zM681 679.1l-11.3-6.9 -1.3 1.1 -4.2 12.1 0.8 0.2 1.9 0.5 1.9 0.7 2 0.9 2 1.1 1.9 1.2 1.9 1.2 1.7 1.2 0.1 0.1zM597.9 639.1l-0.6 0.2 -2.2 0.8 -2.3 1 -2.5 1 3.4 13.2 2.6 0.7 7.3-3.9zM593.7 655.3l-3.4-13.2 -2.6 1.2 -2.6 1.3 -2.7 1.4 -2.5 1.5 -2.5 1.7 -0.8 0.6 4.6 6.3 4.7 1.7zM624.3 745l1.1 0.4 2.4 0.9 2.1 0.9 1.9 0.9 1.6 1 1.4 1 1.2 1 1.3 1 1.2 0.8 0.1 0.1 2.1-5.2 -1.6-0.5 -1.7-0.7 -1.8-0.8 -1.9-0.8 -1.9-1 -1.9-1 -2-1.1 -2.1-1.2zM653 748.3l-1.3 0.4 -1.5 0.2 -1.4 0.1 -1.6-0.1 -1.5-0.1 -1.6-0.2 -1.6-0.3 -1.7-0.5 -0.1 0 -2.1 5.2 1.2 0.7 1.5 0.6 1.7 0.5 1.8 0.4 1.9 0.4 1.9 0.3 1.9 0.1 1.8 0.1 0.6-0.1zM558 692l2.2-2.5 -2.5-7.2 -6.1-2.6 -0.6 1.3 -1.3 2.7 -1.1 2.7 -1.1 2.6 -0.8 2.1zM622 668.3l1.9 1 3.8-0.7 1.6-11.3 -2.3-3.2 -6.5-1.8 -6.7 3.7zM571.9 707.6l-0.3-1 -14.1-3.2 -3.3 2.2 -1.8 11 9.3 2.3 7.3-3.3zM601.8 723.8l0.1 14.5 3 0.8 8.7-6.9 -0.7-0.6 -1.5-1.4 -1.3-1.5 -1.1-1.4 -1.1-1.4 -0.9-1.4 -0.9-1.5 -0.8-1.4 -0.2-0.3zM583 726l-0.1-14.3 -11-4.1 -2.9 8 4.3 7.8zM607.9 652.2l4.9 3.7 1 0.1 6.7-3.7 0.9-13.5 -0.5 0.1 -1.2 0.3 -1.2 0.1 -1.2-0.2 -1-0.3 -1-0.5 -1-0.5 -0.9-0.5 -1-0.5 -0.5-0.1zM653.7 666.5l-9.3-4.5 -5.4 6.6 4.1 9.1 8.6 0.6 2.9-8.4zM561.7 718.9l-9.3-2.3 -4.3 3.5 0.7 0.5 1.8 1.1 1.9 1.1 2.1 1.1 2.1 1 2.2 1 2.3 1 1.2 0.4zM543.9 701.2l-0.3 1.1 -0.4 2.5 -0.4 2.2 -0.2 1.9 -0.2 1.6 -0.1 1.3 0 1.1 0.2 1 0.2 0.8 0.5 0.8 0.6 0.9 0.9 1 1.1 1.1 1.4 1.1 0.9 0.5 4.3-3.5 1.8-11zM569 715.6l-7.3 3.3 0.7 8.4 1.2 0.5 2.5 0.9 2.3 0.7 4.9-6zM557.7 682.3l2.5 7.2 7.1 0.1 5-6.9 -7.5-9.4zM681.7 729l-6.7-0.8 -10.2 10.1 0.4-0.2 1.5-0.3 1.8-0.2 2 0 2.1 0 2.3 0 2.4-0.1 2.3-0.2 2.5-0.2 2.7-0.2 0.3 0zM675 728.2l-5.5-9.2 -1.2 0.5 -1.4 0.7 -1.2 0.8 -1 0.8 -0.9 0.8 -0.7 0.9 -0.7 0.9 -0.5 0.9 -0.4 1 -0.3 1 -0.1 1.1 0.1 1.2 0.4 1.2 0.4 1.3 0.4 1.3 0.3 1.3 0.1 1.3 -0.2 1.3 -0.2 0.6 2 0.6 0.4-0.2zM627.7 668.6l1.5 0.7 9.8-0.7 5.4-6.6 -1.1-6 -14 1.3zM591.5 708.9l1.9 14.6 8.4 0.3 3.3-2.5 -0.7-1.1 -0.9-1.4 -0.9-1.5 -0.8-1.4 -0.8-1.4 -0.7-1.5 -0.6-1.4 -0.6-1.4 -0.4-1.3 -0.3-1.2zM686.7 674.9l-5.7 4.2 -2.6 13.4 0.6 0.4 12-3.8 7.3-11.9zM635.8 641.3l8.1 12.7 5.8-2.9 4.3-8.2 -0.1-0.1 -2.7-0.7 -2.7-0.8 -2.9-0.8 -2.8-0.7 -2.9-0.8 -2.7-0.6 -1.9-0.4zM652.9 756l1.1 0 1.5-0.3 1.4-0.5 1.3-0.6 1.3-0.8 1.1-0.9 1.1-1.1 0.9-1 0.8-1.1 0.6-1.1 0.3-1.2 -0.1-1.3 -0.3-1.4 -0.3-1.4 -0.4-1.4 -0.1-1.3 0.2-1.1 0.7-0.8 0.4-0.2 -2-0.6 -0.3 0.7 -0.6 1.4 -0.8 1.4 -0.8 1.4 -1 1.3 -1.1 1.2 -1.1 1.1 -1.2 0.8 -1.2 0.6 -1.3 0.5zM604.9 739.1l0.4 0.1 3.3 0.9 3.1 0.9 3 0.9 2.8 0.9 2.8 0.9 2.6 0.8 1.4 0.5 1.5-4.3 -0.2-0.1 -2.2-1.5 -2.4-1.4 -2.2-1.6 -2.2-1.5 -2-1.5 -1-0.9zM557.7 682.3l7.1-9 -0.1-5.9 -3.1-3.1 -0.7 0.9 -2 2.5 -1.8 2.5 -1.7 2.7 -1.6 2.6 -1.4 2.8 -0.8 1.4zM574 699.4l-6.7-9.8 -7.1-0.1 -2.2 2.5 -0.5 11.4 14.1 3.2zM576.6 649.8l-1.6 1.3 -2.5 2.1 -2.5 2.2 -2.4 2.3 -2.3 2.5 -2.3 2.5 -1.4 1.6 3.1 3.1 9-0.1 7.5-11.2zM620.5 652.3l6.5 1.8 8.8-12.8 -0.5-3.3 -0.8-0.2 -2.4-0.4 -2.2-0.3 -1.9 0 -1.7 0.2 -1.5 0.3 -1.4 0.5 -1.3 0.4 -0.7 0.3zM601.8 723.8l-8.4-0.3 -8.2 5 0 5.8 1.8 0.5 3.6 0.9 3.8 0.8 3.8 0.9 3.6 0.9 0.1 0zM668.4 673.3l-13.8-3.4 -2.9 8.4 4 6.4 1.9 0 1.9 0.1 1.9 0.1 1.8 0.3 1 0.2zM583 726l2.2 2.5 8.2-5 -1.9-14.6 -0.7-0.2 -7.9 3zM585.2 728.5l-2.2-2.5 -9.7-2.6 -4.9 6 0.3 0.1 2.7 0.9 2.8 0.9 2.9 0.8 3.1 0.9 3.3 0.9 1.7 0.4zM558 692l-11.3-0.9 -0.2 0.5 -0.8 2.7 -0.8 2.8 -0.7 2.7 -0.3 1.4 10.3 4.4 3.3-2.2z" fill="#52cc94"/><path d="M579 681.6l-6.7 1.1 -5 6.9 6.7 9.8 8.5-4.6zM582.7 674.5l-9-7.2 -9 0.1 0.1 5.9 7.5 9.4 6.7-1.1 4-4.4zM603.1 688.5l3.9-6.9 -7.3-8.5 -8 7.6zM591.1 680.8l0.6-0.1 8-7.6 0.3-4.3 -0.6-0.6 -12.5 0.5 -4.2 5.8 0.3 2.7zM675 728.2l6.7 0.8 7.3-11.1 -0.5-1.9 -4.9-5.1 -0.6 1.1 -0.8 1.3 -1.1 1.2 -1.4 1 -1.6 0.8 -2 0.7 -2 0.6 -2.1 0.6 -1.9 0.6 -0.6 0.2zM589.4 693.6l1.7-12.8 -8.1-3.6 -4 4.4 3.5 13.2 3.8 0.7zM582.5 694.8l-8.5 4.6 -2.4 7.2 0.3 1 11 4.1 7.9-3 -4.5-13.2zM679 692.9l0.8 0.7 1.3 1.1 1.1 1 0.9 1.1 0.7 1 0.6 1 0.4 1 0.3 1.1 0.1 1.1 0.1 0.7 15-4 0.1-0.1 -9.4-9.5zM689 717.9l7.6 5 6.8-0.9 3.8-3.8 -2.2-10.5 -2.3-1.4 -14.2 9.7zM611.6 670.9l-0.2 9.2 7.2 2.4 5.3-13.2 -1.9-1zM607.1 667.2l4.5 3.7 10.4-2.6 -8.2-12.3 -1-0.1zM607.9 652.2l-4.3-0.1 -7.3 3.9 3.1 12.2 0.6 0.6 7.1-1.6 5.7-11.3zM696.6 722.9l-7.6-5 -7.3 11.1 3.4 7.9 2.5-0.2 3-0.2 2.9-0.3 2.7-0.4 0.1-0.1zM590.8 708.7l0.7 0.2 6.9-1.2 0-0.1 -0.4-1.3 -0.2-1.3 -0.2-1.3 0-1.2 0.2-1.2 0.3-1.2 0.6-1.2 0.8-1.2 1-1.1 1.2-1.2 1.4-1.1 -13.7-0.7 -3.1 1.9zM643.1 677.7l-6.3 7.6 1.2-0.1 2.8-0.2 2.8-0.1 2.6-0.1 2.6-0.1 2.4 0 2.2 0 2.2 0 0.1 0 -4-6.4zM629.2 669.3l-1.5-0.7 -3.8 0.7 -5.3 13.2 3.1 4.9 0.3-0.1 2.6-0.4 2.7-0.4 2.6-0.4 2.6-0.3 0.4-0.1zM600 668.8l-0.3 4.3 7.3 8.5 4.4-1.5 0.2-9.2 -4.5-3.7zM688.5 716l14.2-9.7 -2.4-7.6 -15 4 0 0.5 -0.1 1.3 -0.1 1.5 -0.3 1.5 -0.5 1.5 -0.5 1.5 -0.2 0.4zM581.2 656.1l-7.5 11.2 9 7.2 4.2-5.8 -1-10.9zM603.2 694.2l1.4-1 1.7-1 1.8-0.9 1.9-0.9 2.1-0.8 2.2-0.6 2.5-0.6 2.5-0.6 2.4-0.4 -3.1-4.9 -7.2-2.4 -4.4 1.5 -3.9 6.9zM596.3 656l-2.6-0.7 -7.8 2.5 1 10.9 12.5-0.5zM643.1 677.7l-4.1-9.1 -9.8 0.7 3.7 16.4 2.4-0.2 1.5-0.2zM603.1 694.3l0.1-0.1 -0.1-5.7 -11.4-7.8 -0.6 0.1 -1.7 12.8z" fill="#e08040"/><path d="M660 656.4l-10.3-5.3 -5.8 2.9 -0.6 2 1.1 6 9.3 4.5 6.1-6zM683.7 666.7l7.3-7 -2-1.4 -2.7-1.8 -2.7-1.6 -1.9-1.1 -6.9 6.9 -0.1 2.8zM691 689.1l9.4 9.5 11.5-12.1 -0.1-0.6 -1.1-2.7 -1.2-2.7 -1.4-2.6 -1.6-2.5 -0.6-0.7 -7.6 2.5zM683.7 666.7l3 8.2 11.6 2.3 7.6-2.5 -1.2-1.7 -2-2.4 -2.1-2.3 -2.2-2.2 -2.2-2.1 -2.3-2 -2.4-1.9 -0.5-0.4zM713.7 718.9l0-0.1 0.6-2.4 0.3-2.5 0.3-2.7 0.1-2.6 0-2.7 0-0.4 -10 2.2 2.2 10.5zM700.4 698.6l-0.1 0.1 2.4 7.6 2.3 1.4 10-2.2 -0.1-2.3 -0.2-2.7 -0.3-2.9 -0.5-2.9 -0.6-2.9 -0.7-3 -0.7-2.3zM707.8 729.8l1.3-1.5 1.2-1.6 1.1-1.7 0.9-1.9 0.8-2.1 0.6-2.1 -6.5-0.7 -3.8 3.8zM669.7 672.2l11.3 6.9 5.7-4.2 -3-8.2 -9-3.2 -3.6 3.4zM649.7 651.1l10.3 5.3 6.8-6.7 0.3-2.7 -2.6-1 -2.7-0.8 -2.6-0.8 -2.7-0.8 -2.5-0.7zM703.4 722l-6.8 0.9 -0.3 12.8 2.5-0.5 2.2-0.8 2-1 1.7-1 1.7-1.2 1.4-1.4zM668.4 673.3l1.3-1.1 1.4-5.3 -11.3-6.4 -6.1 6 0.9 3.4zM681.7 653.8l-0.9-0.5 -2.8-1.4 -2.8-1.4 -2.7-1.3 -2.7-1.2 -2.6-1 -0.1 0 -0.3 2.7 8 11zM671.1 666.9l3.6-3.4 0.1-2.8 -8-11 -6.8 6.7 -0.2 4.1z" fill="#d6a264"/><path d="M713.7 718.9l-3.2-0.3 -3.3-0.4M715 705.5l-3.4 0.6 -3.2 1.2 -3.4 0.4M705 707.7l0 3.7 1.1 3.4 1.1 3.4M707.8 729.8l-1.8-4.1 -2.6-3.7M707.2 718.2l-3.8 3.8M557.7 682.3l1.3 3.6 1.2 3.6M557.7 682.3l-2.8-1.8 -3.3-0.8M546.7 691.1l3.7 0.7 3.8 0 3.8 0.2M558 692l2.2-2.5M567.3 689.6l-3.6 0.6 -3.5-0.7M567.3 689.6l2.4-3.5 2.6-3.4M557.7 682.3l3-2.5 1.8-3.4 2.3-3.1M572.3 682.7l-2.7-3 -2.2-3.4 -2.6-3M561.6 664.3l3.1 3.1M564.7 667.4l0.1 5.9M639 668.6l-3.2 0.9 -3.3-0.1 -3.3-0.1M629.2 669.3l0.3 3.4 1.2 3.2 0.9 3.2 -0.2 3.5 1.5 3.1M639 668.6l1.3 3.1 1.5 3 1.3 3M643.1 677.7l-1.6 3 -2.7 2 -2 2.6M582.7 674.5l-3-2.4 -3.3-2.1 -2.7-2.7M582.7 674.5l2.7-2.5 1.5-3.3M586.9 668.7l-0.1-3.6 -0.5-3.7 -0.4-3.6M573.7 667.3l2.4-2.5 1.2-3.2 2.7-2.3 1.2-3.2M581.2 656.1l4.7 1.7M576.6 649.8l2.1 3.3 2.5 3M564.7 667.4l4.5-0.3 4.5 0.2M590.3 642.1l0.9 3.3 0 3.5 1.5 3.1 1 3.3M593.7 655.3l-3.6 2 -4.2 0.5M627.7 668.6l1.5 0.7M627.7 668.6l-3.8 0.7M621.7 687.4l-3.1-4.9M618.6 682.5l1.9-3.1 0.6-3.6 1.2-3.4 1.6-3.1M586.9 668.7l4.2-0.2 4.1-0.6 4.2 0.3M593.7 655.3l2.6 0.7M596.3 656l0.7 4.1 1.2 4.1 1.2 4M597.9 639.1l1.5 3.2 1.4 3.3 1.6 3.1 1.2 3.4M596.3 656l3.8-1.7 3.5-2.2M611.9 636.7l-1.5 3.7 0.2 4.2 -1.9 3.6 -0.8 4M603.6 652.1l4.3 0.1M654 642.9l-2.6 3.9 -1.7 4.3M667.1 647l-0.3 2.7M649.7 651.1l3.1 2.5 3.6 1.5 3.6 1.3M666.8 649.7l-3.9 2.8 -2.9 3.9M681.7 653.8l-2.5 2.2 -2.5 2 -1.9 2.7M666.8 649.7l1.7 3 2.6 2.3 1.4 3.2 2.3 2.5M691 659.7l-2.6 2.2 -2.3 2.4 -2.4 2.4M683.7 666.7l-4.7-1.2 -4.3-2M674.8 660.7l-0.1 2.8M643.9 654l-0.6 2M643.9 654l-1.4-3.6 -2.2-3.1 -2-3.1 -2.5-2.9M643.3 656l-3.5 0.7 -3.5 0.5 -3.5 0.3 -3.5-0.2M635.8 641.3l-2 3.3 -2.2 3.2 -2.8 2.8 -1.8 3.5M627 654.1l2.3 3.2M635.3 638l0.5 3.3M649.7 651.1l-2.8 1.6 -3 1.3M644.4 662l-1.1-6M644.4 662l-3.3 2.8 -2.1 3.8M627.7 668.6l-0.2-3.9 1.1-3.7 0.7-3.7M621.4 638.8l-0.9 3.3 0.5 3.4 -0.5 3.4 0 3.4M620.5 652.3l3.1 1.4 3.4 0.4M696.6 722.9l-3.7-2.7 -3.9-2.3M696.6 722.9l0.5 3.2 0.1 3.2 -1.7 3.2 0.8 3.2M689 717.9l-1.7 2.8 -2 2.7 -1.2 3.2 -2.4 2.4M685.1 736.9l-1.7-4 -1.7-3.9M703.4 722l-3.4 0.7 -3.4 0.2M548.1 720.1l4.3-3.5M543.9 701.2l3.6 0.9 3.1 2.3 3.6 1.2M552.4 716.6l0.9-3.6 0.5-3.7 0.4-3.7M558 692l-0.7 3.8 -0.4 3.8 0.6 3.8M554.2 705.6l3.3-2.2M601.8 723.8l3.3-2.5M601.8 723.8l-4.2-0.8 -4.2 0.5M598.4 707.7l-3.3 1.3 -3.6-0.1M593.4 723.5l-0.4-3.7 -0.3-3.6 -0.1-3.7 -1.1-3.6M567.3 689.6l2.2 3.3 2.4 3.2 2.1 3.3M557.5 703.4l3.6 0.5 3.5 0.6 3.3 1.8 3.7 0.3M574 699.4l-0.4 3.8 -2 3.4M593.4 723.5l-4.3 2.2 -3.9 2.8M591.5 708.9l-0.7-0.2M585.2 728.5l-2.2-2.5M583 726l0.8-3.6 -1.6-3.5 0.2-3.6 0.5-3.6M590.8 708.7l-3.8 1.9 -4.1 1.1M607 681.6l-2.1-3.1 -2.4-2.9 -2.8-2.5M607 681.6l-2.6 3.1 -1.3 3.8M603.1 688.5l-2.8-2.1 -2.9-1.8 -2.9-2 -2.8-1.9M599.7 673.1l-2.8 2.5 -2.8 2.3 -2.4 2.8M618.6 682.5l-3.7-0.9 -3.5-1.5M611.4 680.1l-4.4 1.5M603.2 694.2l-0.1-5.7M591.1 680.8l-1.1 3.1 0.8 3.4 -1.7 3 0.3 3.3M591.1 680.8l-4-1.8 -4.1-1.8M579 681.6l4-4.4M579 681.6l1.7 3.1 0.7 3.3 -0.1 3.6 1.2 3.2M582.5 694.8l3.8 0.7M589.4 693.6l-3.1 1.9M603.1 694.3l-3.4-0.8 -3.5 1.2 -3.4-0.1 -3.4-1M591.7 680.7l-0.6 0.1M600 668.8l-0.3 4.3M599.4 668.2l0.6 0.6M582.7 674.5l0.3 2.7M572.3 682.7l3.3-0.8 3.4-0.3M574 699.4l3.1-1.1 2.3-2.4 3.1-1.1M571.6 706.6l0.3 1M582.9 711.7l-3.7-1.2 -3.8-1.2 -3.5-1.7M590.8 708.7l-1.9-3 -1-3.4 -0.7-3.4 -0.9-3.4M613.6 732.2l-3.1 2.1 -2.9 2.2 -2.7 2.6M625.8 740.7l-1.5 4.3M601.8 723.8l-0.2 3.6 -0.4 3.7 0.6 3.6 0.1 3.6M585.2 728.5l0 5.8M611.6 670.9l3.5-0.6 3.5-0.8 3.4-1.2M611.6 670.9l-4.5-3.7M607.1 667.2l1.6-3.9 2.9-3.3 1.2-4.1M622 668.3l-2.6-2.7 -1-3.8 -2.6-2.7 -2-3.1M613.8 656l-1-0.1M611.4 680.1l-0.3-4.6 0.5-4.6M623.9 669.3l-1.9-1M600 668.8l3.5-1.1 3.6-0.5M607.9 652.2l4.9 3.7M620.5 652.3l-3.4 1.7 -3.3 2M683.7 666.7l2 3.9 1 4.3M686.7 674.9l-2.4 2.6 -3.3 1.6M681 679.1l-3-1.4 -2.2-2.8 -3.1-1.4 -3-1.3M674.7 663.5l-3.6 3.4M669.7 672.2l1.4-5.3M660 656.4l-0.2 4.1M671.1 666.9l-2.9-1.4 -2.6-2.1 -3.2-0.9 -2.6-2M644.4 662l3.4 0.9 2.8 2 3.1 1.6M653.7 666.5l2.8-3.2 3.3-2.8M675 728.2l-3.1 2 -1.5 3.6 -3.4 1.7 -2.2 2.8M675 728.2l-2.4-2.7 -0.6-3.8 -2.5-2.7M662.4 737.9l2 0.6M681.7 729l-3.3-0.8 -3.4 0M638.6 753l2.1-5.2M652.9 756l0.9-3.8 -0.8-3.9M702.7 706.3l-3 1.7 -2.3 2.7 -3.6 0.8 -2.9 2 -2.4 2.5M702.7 706.3l-0.9-3.9 -1.5-3.7M700.3 698.7l-3.8 0.6 -3.8 1.1 -3.6 1.4 -3.8 0.9M688.5 716l-2.7-2.3 -2.2-2.8M705 707.7l-2.3-1.4M689 717.9l-0.5-1.9M700.4 698.6l-2.7-2.1 -1.9-2.7 -2.7-2.1 -2.1-2.6M700.4 698.6l2.4-2.3 1.9-2.8 2.1-2.7 3.2-1.5 1.9-2.8M691 689.1l2-2.9 1.7-3 2.1-2.9 1.5-3.1M705.9 674.7l-4.1 0.5 -3.5 2M679 692.9l4-1.2 3.9-1.6 4.1-1M681 679.1l-1.4 3.2 0.8 3.6 -1.3 3.2 -0.7 3.4M686.7 674.9l3.8 0.9 4 0.1 3.8 1.3M561.7 718.9l3.5-2 3.8-1.3M561.7 718.9l-0.5 4.3 1.2 4.1M569 715.6l1.5 4.2 2.8 3.6M568.4 729.4l2-3.3 2.9-2.7M571.9 707.6l-1.8 3.9 -1.1 4.1M552.4 716.6l4.5 1.9 4.8 0.4M583 726l-3.2-1 -3.1-1.3 -3.4-0.3M655.7 684.7l-2.5-2.9 -1.5-3.5M664.2 685.4l0.8-3.2 0.7-3.1 1.6-2.8 1.1-3M668.4 673.3l-3.4-1.2 -3.6-0.2 -3.4-0.8 -3.4-1.2M651.7 678.3l1.8-4.1 1.1-4.3M643.1 677.7l4.2 0.9 4.4-0.3M669.7 672.2l-1.3 1.1M653.7 666.5l0.9 3.4" fill="none" stroke="#3a3a3a" stroke-width="1.9" stroke-linejoin="round" stroke-linecap="round"/><path d="M542.4 710.5l-0.1 1.3 0 1.1 0.2 1 0.2 0.8 0.5 0.8 0.6 0.9 0.9 1 1.1 1.1 1.4 1.1 1.6 1 1.8 1.1 1.9 1.1 2.1 1.1 2.1 1 2.2 1 2.3 1 2.4 0.9 2.5 0.9 2.6 0.8 2.7 0.9 2.8 0.9 2.9 0.8 3.1 0.9 3.3 0.9 3.5 0.9 3.6 0.9 3.8 0.8 3.8 0.9 3.6 0.9 3.5 0.9 3.3 0.9 3.1 0.9 3 0.9 2.8 0.9 2.8 0.9 2.6 0.8 2.5 0.9 2.4 0.9 2.1 0.9 1.9 0.9 1.6 1 1.4 1 1.2 1 1.3 1 1.2 0.8 1.3 0.8 1.5 0.6 1.7 0.5 1.8 0.4 1.9 0.4 1.9 0.3 1.9 0.1 1.8 0.1 1.7-0.1 1.5-0.3 1.4-0.5 1.3-0.6 1.3-0.8 1.1-0.9 1.1-1.1 0.9-1 0.8-1.1 0.6-1.1 0.3-1.2 -0.1-1.3 -0.3-1.4 -0.3-1.4 -0.4-1.4 -0.1-1.3 0.2-1.1 0.7-0.8 1.2-0.6 1.5-0.3 1.8-0.2 2 0 2.1 0 2.3 0 2.4-0.1 2.3-0.2 2.5-0.2 2.7-0.2 2.8-0.2 3-0.2 2.9-0.3 2.7-0.4 2.6-0.6 2.2-0.8 2-1 1.7-1 1.7-1.2 1.4-1.4 1.3-1.5 1.2-1.6 1.1-1.7 0.9-1.9 0.8-2.1 0.6-2.2 0.6-2.4 0.3-2.5 0.3-2.7 0.1-2.6 0-2.7 -0.1-2.7 -0.2-2.7 -0.3-2.9 -0.5-2.9 -0.6-2.9 -0.7-3 -0.8-2.9 -1.1-2.7 -1.2-2.7 -1.4-2.6 -1.6-2.5 -1.8-2.4 -2-2.4 -2.1-2.3 -2.2-2.2 -2.2-2.1 -2.3-2 -2.4-1.9 -2.5-1.8 -2.7-1.8 -2.7-1.6 -2.8-1.6 -2.8-1.4 -2.8-1.4 -2.7-1.3 -2.7-1.2 -2.6-1 -2.7-1 -2.7-0.8 -2.6-0.8 -2.7-0.8 -2.6-0.8 -2.7-0.7 -2.7-0.8 -2.9-0.8 -2.8-0.7 -2.9-0.8 -2.7-0.6 -2.7-0.6 -2.4-0.4 -2.2-0.3 -1.9 0 -1.7 0.2 -1.5 0.3 -1.4 0.5 -1.3 0.4 -1.2 0.4 -1.2 0.3 -1.2 0.1 -1.2-0.2 -1-0.3 -1-0.5 -1-0.5 -0.9-0.5 -1-0.5 -1.2-0.3 -1.2-0.1 -1.3 0 -1.4 0.2 -1.4 0.2 -1.5 0.2 -1.6 0.4 -1.7 0.5 -1.8 0.7 -2 0.7 -2.2 0.8 -2.3 1 -2.5 1 -2.6 1.2 -2.6 1.3 -2.7 1.4 -2.5 1.5 -2.5 1.7 -2.4 1.9 -2.5 2.1 -2.5 2.2 -2.4 2.3 -2.3 2.5 -2.3 2.5 -2.1 2.5 -2 2.5 -1.8 2.5 -1.7 2.7 -1.6 2.6 -1.4 2.8 -1.4 2.7 -1.3 2.7 -1.1 2.7 -1.1 2.6 -1 2.6 -0.8 2.7 -0.8 2.8 -0.7 2.7 -0.6 2.5 -0.4 2.5 -0.4 2.2 -0.2 1.9zM599.5 697.7l1-1.1 1.2-1.2 1.4-1.1 1.5-1.1 1.7-1 1.8-0.9 1.9-0.9 2.1-0.8 2.2-0.6 2.5-0.6 2.5-0.6 2.7-0.5 2.6-0.4 2.7-0.4 2.6-0.4 2.6-0.3 2.8-0.3 2.7-0.3 2.8-0.2 2.8-0.1 2.6-0.1 2.6-0.1 2.4 0 2.2 0 2.2 0 2 0 1.9 0.1 1.9 0.1 1.8 0.3 1.8 0.4 1.9 0.5 1.9 0.7 2 0.9 2 1.1 1.9 1.2 1.9 1.2 1.7 1.2 1.5 1.2 1.3 1.1 1.1 1 0.9 1.1 0.7 1 0.6 1 0.4 1 0.3 1.1 0.1 1.1 0.1 1.2 -0.1 1.3 -0.1 1.5 -0.3 1.5 -0.5 1.5 -0.5 1.5 -0.8 1.5 -0.8 1.3 -1.1 1.2 -1.4 1 -1.6 0.8 -2 0.7 -2 0.6 -2.1 0.6 -1.9 0.6 -1.8 0.7 -1.4 0.7 -1.2 0.8 -1 0.8 -0.9 0.8 -0.7 0.9 -0.7 0.9 -0.5 0.9 -0.4 1 -0.3 1 -0.1 1.1 0.1 1.2 0.4 1.2 0.4 1.3 0.4 1.3 0.3 1.3 0.1 1.3 -0.2 1.3 -0.5 1.3 -0.6 1.4 -0.8 1.4 -0.8 1.4 -1 1.3 -1.1 1.2 -1.1 1.1 -1.2 0.8 -1.2 0.6 -1.3 0.5 -1.3 0.4 -1.5 0.2 -1.4 0.1 -1.6-0.1 -1.5-0.1 -1.6-0.2 -1.6-0.3 -1.7-0.5 -1.7-0.5 -1.7-0.7 -1.8-0.8 -1.9-0.8 -1.9-1 -1.9-1 -2-1.1 -2.3-1.3 -2.2-1.5 -2.4-1.4 -2.2-1.6 -2.2-1.5 -2-1.5 -1.7-1.5 -1.5-1.4 -1.3-1.5 -1.1-1.4 -1.1-1.4 -0.9-1.4 -0.9-1.5 -0.8-1.4 -0.9-1.4 -0.9-1.4 -0.9-1.5 -0.8-1.4 -0.8-1.4 -0.7-1.5 -0.6-1.4 -0.6-1.4 -0.4-1.3 -0.3-1.3 -0.4-1.3 -0.2-1.3 -0.2-1.3 0-1.2 0.2-1.2 0.3-1.2 0.6-1.2z" fill="none" stroke="#3a3a3a" stroke-width="1.6"/><path d="M598.7 698.9l0.8-1.2 1-1.1 1.2-1.2 1.4-1.1 1.5-1.1 1.7-1 1.8-0.9 1.9-0.9 2.1-0.8 2.2-0.6 2.5-0.6 2.5-0.6 2.7-0.5 2.6-0.4 2.7-0.4 2.6-0.4 2.6-0.3 2.8-0.3 2.7-0.3 2.8-0.2 2.8-0.1 2.6-0.1 2.6-0.1 2.4 0 2.2 0 2.2 0 2 0 1.9 0.1 1.9 0.1 1.8 0.3 1.8 0.4 1.9 0.5 1.9 0.7 2 0.9 2 1.1 1.9 1.2 1.9 1.2 1.7 1.2 1.5 1.2 1.3 1.1 1.1 1 0.9 1.1 0.7 1 0.6 1 0.4 1 0.3 1.1 0.1 1.1 0.1 1.2 -0.1 1.3 -0.1 1.5 -0.3 1.5 -0.5 1.5 -0.5 1.5 -0.8 1.5 -0.8 1.3 -1.1 1.2 -1.4 1 -1.6 0.8 -2 0.7 -2 0.6 -2.1 0.6 -1.9 0.6 -1.8 0.7 -1.4 0.7 -1.2 0.8 -1 0.8 -0.9 0.8 -0.7 0.9 -0.7 0.9 -0.5 0.9 -0.4 1 -0.3 1 -0.1 1.1 0.1 1.2 0.4 1.2 0.4 1.3 0.4 1.3 0.3 1.3 0.1 1.3 -0.2 1.3 -0.5 1.3 -0.6 1.4 -0.8 1.4 -0.8 1.4 -1 1.3 -1.1 1.2 -1.1 1.1 -1.2 0.8 -1.2 0.6 -1.3 0.5 -1.3 0.4 -1.5 0.2 -1.4 0.1 -1.6-0.1 -1.5-0.1 -1.6-0.2 -1.6-0.3 -1.7-0.5 -1.7-0.5 -1.7-0.7 -1.8-0.8 -1.9-0.8 -1.9-1 -1.9-1 -2-1.1 -2.3-1.3 -2.2-1.5 -2.4-1.4 -2.2-1.6 -2.2-1.5 -2-1.5 -1.7-1.5 -1.5-1.4 -1.3-1.5 -1.1-1.4 -1.1-1.4 -0.9-1.4 -0.9-1.5 -0.8-1.4 -0.9-1.4 -0.9-1.4 -0.9-1.5 -0.8-1.4 -0.8-1.4 -0.7-1.5 -0.6-1.4 -0.6-1.4 -0.4-1.3 -0.3-1.3 -0.4-1.3 -0.2-1.3 -0.2-1.3 0-1.2 0.2-1.2 0.3-1.2z" fill="#3b3b3b" stroke="#333" stroke-width="1"/><path d="M542.6 708.9l0.2-1.9 0.4-2.2 0.4-2.5 0.6-2.5 0.7-2.7 0.8-2.8 0.8-2.7 1-2.6 1.1-2.6 1.1-2.7 1.3-2.7 1.4-2.7 1.4-2.8 1.6-2.6 1.7-2.7 1.8-2.5 2-2.5 2.1-2.5 2.3-2.5 2.3-2.5 2.4-2.3 2.5-2.2 2.5-2.1 2.4-1.9 2.5-1.7 2.5-1.5 2.7-1.4 2.6-1.3 2.6-1.2 2.5-1 2.3-1 2.2-0.8 2-0.7 1.8-0.7 1.7-0.5 1.6-0.4 1.5-0.2 1.4-0.2 1.4-0.2 1.3 0 1.2 0.1 1.2 0.3 1 0.5 0.9 0.5 1 0.5 1 0.5 1 0.3 1.2 0.2 1.2-0.1 1.2-0.3 1.2-0.4 1.3-0.4 1.4-0.5 1.5-0.3 1.7-0.2 1.9 0 2.2 0.3 2.4 0.4 2.7 0.6 2.7 0.6 2.9 0.8 2.8 0.7 2.9 0.8 2.7 0.8 2.7 0.7 2.6 0.8 2.7 0.8 2.6 0.8 2.7 0.8 2.7 1 2.6 1 2.7 1.2 2.7 1.3 2.8 1.4 2.8 1.4 2.8 1.6 2.7 1.6 2.7 1.8 2.5 1.8 2.4 1.9 2.3 2 2.2 2.1 2.2 2.2 2.1 2.3 2 2.4 1.8 2.4 1.6 2.5 1.4 2.6 1.2 2.7 1.1 2.7 0.8 2.9 0.7 3 0.6 2.9 0.5 2.9 0.3 2.9 0.2 2.7 0.1 2.7 0 2.7 -0.1 2.6 -0.3 2.7 -0.3 2.5 -0.6 2.4 -0.6 2.2 -0.8 2.1 -0.9 1.9 -1.1 1.7 -1.2 1.6 -1.3 1.5 -1.4 1.4 -1.7 1.2 -1.7 1 -2 1 -2.2 0.8 -2.6 0.6 -2.7 0.4 -2.9 0.3 -3 0.2 -2.8 0.2 -2.7 0.2 -2.5 0.2 -2.3 0.2 -2.4 0.1 -2.3 0 -2.1 0 -2 0 -1.8 0.2 -1.5 0.3 -1.2 0.6 -0.7 0.8 -0.2 1.1 0.1 1.3 0.4 1.4 0.3 1.4 0.3 1.4 0.1 1.3 -0.3 1.2 -0.6 1.1 -0.8 1.1 -0.9 1 -1.1 1.1 -1.1 0.9 -1.3 0.8 -1.3 0.6 -1.4 0.5 -1.5 0.3 -1.7 0.1 -1.8-0.1 -1.9-0.1 -1.9-0.3 -1.9-0.4 -1.8-0.4 -1.7-0.5 -1.5-0.6 -1.3-0.8 -1.2-0.8 -1.3-1 -1.2-1 -1.4-1 -1.6-1 -1.9-0.9 -2.1-0.9 -2.4-0.9 -2.5-0.9 -2.6-0.8 -2.8-0.9 -2.8-0.9 -3-0.9 -3.1-0.9 -3.3-0.9 -3.5-0.9 -3.6-0.9 -3.8-0.9 -3.8-0.8 -3.6-0.9 -3.5-0.9 -3.3-0.9 -3.1-0.9 -2.9-0.8 -2.8-0.9 -2.7-0.9 -2.6-0.8 -2.5-0.9 -2.4-0.9 -2.3-1 -2.2-1 -2.1-1 -2.1-1.1 -1.9-1.1 -1.8-1.1 -1.6-1 -1.4-1.1 -1.1-1.1 -0.9-1 -0.6-0.9 -0.5-0.8 -0.2-0.8 -0.2-1 0-1.1 0.1-1.3z" fill="url(#shade)" /></g>
<g><path d="M907.1 709.6l-0.2-1.9 -0.4-2.2 -0.4-2.5 -0.6-2.5 -0.7-2.7 -0.8-2.8 -0.8-2.7 -1-2.6 -1.1-2.6 -1.1-2.7 -1.3-2.7 -1.3-2.7 -1.5-2.8 -1.6-2.6 -1.7-2.7 -1.8-2.5 -2-2.5 -2.1-2.5 -2.3-2.5 -2.3-2.5 -2.4-2.3 -2.5-2.2 -2.5-2.1 -2.4-1.9 -2.5-1.7 -2.5-1.5 -2.7-1.4 -2.6-1.3 -2.6-1.2 -2.5-1 -2.3-1 -2.2-0.8 -2-0.7 -1.8-0.7 -1.7-0.5 -1.6-0.3 -1.5-0.3 -1.4-0.2 -1.4-0.2 -1.3 0 -1.2 0.1 -1.2 0.3 -1 0.5 -0.9 0.5 -1 0.5 -1 0.5 -1 0.3 -1.2 0.2 -1.2-0.1 -1.2-0.3 -1.2-0.4 -1.3-0.4 -1.4-0.5 -1.5-0.3 -1.7-0.2 -1.9 0 -2.2 0.3 -2.4 0.4 -2.7 0.6 -2.7 0.6 -2.9 0.8 -2.8 0.7 -2.9 0.8 -2.7 0.8 -2.7 0.7 -2.6 0.8 -2.7 0.8 -2.6 0.8 -2.7 0.8 -2.7 1 -2.6 1 -2.7 1.2 -2.7 1.3 -2.8 1.4 -2.8 1.4 -2.8 1.6 -2.7 1.6 -2.7 1.8 -2.5 1.8 -2.4 1.9 -2.3 2 -2.2 2.1 -2.2 2.2 -2.1 2.3 -2 2.4 -1.8 2.4 -1.6 2.5 -1.4 2.6 -1.2 2.7 -1.1 2.7 -0.8 2.9 -0.7 3 -0.6 2.9 -0.5 2.9 -0.3 2.9 -0.2 2.7 -0.1 2.7 0 2.7 0.1 2.6 0.3 2.7 0.3 2.5 0.6 2.4 0.6 2.2 0.8 2.1 0.9 1.9 1.1 1.7 1.2 1.6 1.3 1.5 1.4 1.4 1.7 1.2 1.7 1 2 1 2.2 0.8 2.6 0.6 2.7 0.4 2.9 0.3 3 0.2 2.8 0.2 2.7 0.2 2.5 0.2 2.3 0.2 2.4 0.1 2.3 0 2.1 0 2 0 1.8 0.2 1.5 0.3 1.2 0.6 0.7 0.8 0.2 1.1 -0.1 1.3 -0.4 1.4 -0.3 1.4 -0.3 1.4 -0.1 1.3 0.3 1.2 0.6 1.1 0.8 1.1 0.9 1 1.1 1.1 1.1 0.9 1.3 0.8 1.3 0.6 1.4 0.5 1.5 0.3 1.7 0.1 1.8-0.1 1.9-0.1 1.9-0.3 1.9-0.4 1.8-0.4 1.7-0.5 1.5-0.6 1.3-0.8 1.2-0.8 1.3-1 1.2-1 1.4-1 1.6-1 1.9-0.9 2.1-0.9 2.4-0.9 2.5-0.9 2.6-0.8 2.8-0.9 2.8-0.9 3-0.9 3.1-0.9 3.3-0.9 3.5-0.9 3.6-0.9 3.8-0.9 3.8-0.8 3.6-0.9 3.5-0.9 3.3-0.9 3.1-0.9 2.9-0.8 2.8-0.9 2.7-0.9 2.6-0.8 2.5-0.9 2.4-0.9 2.3-1 2.2-1 2.1-1 2.1-1.1 1.9-1.1 1.8-1.1 1.6-1 1.4-1.1 1.1-1.1 0.9-1 0.6-0.9 0.5-0.8 0.2-0.8 0.2-1 0-1.1 -0.1-1.3z" fill="#3a3a3a" stroke="#2e2e2e" stroke-width="1"/><path d="M768.8 727l4.2-1.4 3.1-7.1 -0.5-0.2 -2-0.6 -2-0.7 -1.6-0.8 -1.4-1 -1.1-1.2 -0.8-1.3 -0.8-1.5 0-0.1 -3.7 4.5zM853.6 689.4l0.6 3.6 5.4 4.6 10.3-4.3 -5.3-10.4 -0.3-0.1 -9.9 4.4zM797.3 680.3l-1.8-12.5 -8.4-3.7 -5.1 4.7 0 4.9 10.4 11.7 1.1 0zM836.4 674.8l-13.4-3.3 -5.8 13.9 0.2 1.1 2.4 0.3 2.6 0.4 2.7 0.4 1.9 0.3 10.8-7.5 0.4-2.4zM873.2 708l0.6-0.8 -0.2-12.7 -3.7-1.2 -10.3 4.3 0.2 5.9zM850.1 677.2l-11.9 0.8 -0.4 2.4 3.1 7.6 12.7 1.4 0.8-2.2zM871.8 678.7l-7.2 4.2 5.3 10.4 3.7 1.2 5.4-3.2 0-6.3zM827 687.9l0.7 0.1 2.7 0.5 2.5 0.6 2.5 0.6 2.2 0.6 2.1 0.8 0.1 0 1.1-3.1 -3.1-7.6zM806.1 677.5l11.1 7.9 5.8-13.9 -2.6-5.6 -12 0.6zM793.5 685.4l0.6 0 2.2 0 2.2 0 2.4 0 2.6 0.1 2.6 0.1 2.8 0.1 2.8 0.2 2.7 0.3 2.8 0.3 0.2 0 -0.2-1.1 -11.1-7.9 -8.8 2.8zM782 673.7l0-4.9 -11.8-4.4 -3.4 1 -0.6 11.7 5.8 5.1zM834.6 646.2l21.5-4.8 -1.5-0.6 -2.2-0.8 -2-0.7 -1.8-0.7 -1.7-0.5 -1.6-0.3 -1.5-0.3 -1.4-0.2 -1.4-0.2 -1.3 0 -1.2 0.1 -1.2 0.3 -1 0.5 -0.9 0.5 -1 0.5 -1 0.5 -0.8 0.3zM782 673.7l-10 8.5 0.8 9.9 0.3-0.2 1.9-1.2 1.9-1.2 2-1.1 2-0.9 1.9-0.7 1.9-0.5 1.8-0.4 1.8-0.3 1.9-0.1 1.9-0.1 0.3 0zM864.6 682.9l7.2-4.2 1.9-8.9 -0.2-0.5 -9.4-1.7 -4.4 5.6 4.6 9.6zM808.4 666.5l12-0.6 2.9-7.9 -13.2-11.4 -6.9 6.3 1.8 11.1zM880.9 657.3l-1.2-1.2 -2.5-2.2 -2.5-2.1 -2.4-1.9 -2.5-1.7 -2.5-1.5 -2.7-1.4 -2.6-1.3 -2.1-1 -0.1 1.2 3.2 9.2 16.6 4.6zM834.2 652l0.4-5.8 -2-6.4 -0.2 0 -1.2 0.2 -1.2-0.1 -1.2-0.3 -1.2-0.4 -1.3-0.4 -1.4-0.5 -1.5-0.3 -1.7-0.2 -1.9 0 -2.2 0.3 -2.4 0.4 -2.7 0.6 -1.6 0.3 -0.8 7.2 13.2 11.4zM859.7 673.2l4.4-5.6 -3.7-7.1 -11.4 2.5 3.6 10.8zM873.2 708l-13.4-4.5 -5.1 6.8 11.9 9.6 5.6-4.5zM860.4 660.5l2.6-7.1 -3.2-9.2 -17.7 14.6 0.3 0.8 6.6 3.4zM807.1 755.4l1.3-0.4 1.5-0.6 1.3-0.8 1.2-0.8 1.3-1 1.2-1 1.4-1 1.6-1 1.3-0.6 -1.3-3.5 -1.9 1 -1.9 0.8 -1.7 0.8 -1.8 0.7 -1.7 0.5 -1.7 0.5 -1.5 0.3zM842.4 659.6l-0.3-0.8 -7.9-6.8 -10.9 6 -2.9 7.9 2.6 5.6 13.4 3.3zM795.5 667.8l9.5-3.8 -1.8-11.1 -9.4-1.1 -6.7 11.4 0 0.9zM852.3 725.7l0.5 0.3 13.5-5.1 0.3-1 -11.9-9.6 -4.2 0.8 -0.5 1.2 -0.1 0.3zM760.5 691.5l-2.9 1.5 -2.8 10.4 9.7 2.3 0-0.5 -0.1-1.3 0.1-1.2 0.1-1.1 0.3-1.1 0.5-1 0.5-1 0.8-1 0.8-1.1 1.1-1 1.3-1.1 1.5-1.2 0.6-0.4zM765.9 711.1l-0.5-1.4 -0.5-1.5 -0.3-1.5 -0.1-1 -9.7-2.3 -2.4 1.4 4.6 11.5 5.2-0.7zM873.5 669.3l6.1-11.3 -16.6-4.6 -2.6 7.1 3.7 7.1zM773 725.6l6.6 4.6 7.9-4.8 -0.2-0.3 -0.7-0.9 -0.7-0.9 -0.9-0.8 -1-0.8 -1.2-0.8 -1.4-0.7 -1.8-0.7 -1.9-0.6 -1.6-0.4zM864.3 682.8l-4.6-9.6 -7.1 0.6 -2.5 3.4 4.3 10zM793.9 756.3l0.3 0.1 1.5 0.3 1.7 0.1 1.8-0.1 1.9-0.1 1.9-0.3 1.9-0.4 1.8-0.4 0.4-0.1 -1.4-6.1 -0.1 0 -1.6 0.2 -1.5 0.1 -1.6 0.1 -1.4-0.1 -1.5-0.2 -1.3-0.4 -1.3-0.5 -1.2-0.6 -0.8-0.6zM850.1 677.2l2.5-3.4 -3.6-10.8 -6.6-3.4 -6 15.2 1.8 3.2zM795.5 667.8l1.8 12.5 8.8-2.8 2.3-11 -3.4-2.5zM772 692.7l0.8-0.6 -0.8-9.9 -5.8-5.1 -8.3 2.4 2.6 12zM846.7 727.2l5.6-1.5 -2.4-13.1 -0.5 1.1 -0.7 1.5 -0.8 1.4 -0.8 1.4 -0.9 1.5 -0.9 1.4 -0.9 1.4 -0.8 1.4 -0.7 1.1zM834.6 646.2l-0.4 5.8 7.9 6.8 17.7-14.6 0.1-1.2 -0.5-0.2 -2.5-1 -0.8-0.4zM854.7 710.3l5.1-6.8 -0.2-5.9 -5.4-4.6 -5 4.3 1 1.1 0.8 1.2 0.6 1.2 0.3 1.2 0.2 1.2 0 1.2 -0.2 1.3 -0.2 1.3 -0.3 1.3 -0.4 1.3 -0.4 1.3 -0.1 0.2zM840.9 688l-1.1 3.1 1.8 0.9 1.8 0.9 1.7 1 1.5 1.1 1.4 1.1 1.2 1.2 5-4.3 -0.6-3.6z" fill="#52cc94"/><path d="M758.4 729.3l-5.1-8.6 -6.5-0.3 -4.1 10.9 0.6 0.6 1.7 1.2 1.7 1 0.5 0.3zM757 716.3l-3.7 4.4 5.1 8.6 5.6 2.5 4.8-4.8 -6.6-11.4zM793.4 747.3l-0.4-0.2 -1.1-1.1 -1.1-1.2 -0.9-1.3 -0.9-1.4 -0.6-1.1 -1.9 0.1 0.1 0.2 -0.1 1.3 -0.4 1.4 -0.3 1.4 -0.3 1.4 -0.1 1.3 0.3 1.2 0.6 1.1 0.8 1.1 0.9 1 1.1 1.1 1.1 0.9 1.3 0.8 1.3 0.6 1.1 0.4zM746.2 688.5l-4.9 16.5 11.1-0.2 2.4-1.4 2.8-10.4zM782 668.8l5.1-4.7 0-0.9 -10.9-12.8 -0.9 0.4 -5.1 13.6zM810.1 646.6l0.8-7.2 -1.1 0.3 -2.9 0.8 -2.8 0.7 -2.9 0.8 -2.7 0.8 -2.7 0.7 -2.6 0.8 -2.7 0.8 -1 0.3 4.3 6.4 9.4 1.1zM736.5 708l4.8-3 4.9-16.5 -2-5.1 -4.2-1.7 -1 2.2 -1.1 2.7 -0.8 2.9 -0.7 3 -0.6 2.9 -0.5 2.9 -0.3 2.9 -0.2 2.7 -0.1 2.7 0 1.5zM762.5 663.5l4.3 1.9 3.4-1 5.1-13.6 -0.8 0.4 -2.8 1.4 -2.8 1.4 -2.8 1.6 -2.7 1.6 -2.7 1.8 -0.8 0.6zM764 731.8l0.4 5.7 0.5 0.1 2.7 0.2 2.5 0.2 2.3 0.2 2.4 0.1 2.3 0 2.1 0 2 0 1 0.1 -2.6-8.2 -6.6-4.6 -4.2 1.4zM788.4 741l-0.2-0.3 -0.6-1.4 -0.5-1.3 -0.2-1.3 0.1-1.3 0.3-1.3 0.4-1.3 0.4-1.3 0.4-1.2 0.1-1.2 -0.1-1.1 -0.3-1 -0.4-1 -0.3-0.6 -7.9 4.8 2.6 8.2 0.8 0.1 1.5 0.3 1.2 0.6 0.7 0.8 0.1 0.9zM764 731.8l-5.6-2.5 -11.2 5.1 1.5 0.7 2.2 0.8 2.6 0.6 2.7 0.4 2.9 0.3 3 0.2 2.3 0.1zM752.4 704.8l-11.1 0.2 -4.8 3 10.3 12.4 6.5 0.3 3.7-4.4zM787.1 663.2l6.7-11.4 -4.3-6.4 -1.6 0.5 -2.7 0.8 -2.7 1 -2.6 1 -2.7 1.2 -1 0.5zM766.2 677.1l0.6-11.7 -4.3-1.9 -9.6 8.9 0 5.2 5 1.9zM746.8 720.4l-10.3-12.4 -1.8 0.1 0 1.2 0.1 2.6 0.3 2.7 0.3 2.5 0.6 2.4 0.6 2.2 0.8 2.1 0.9 1.9 1.1 1.7 1.2 1.6 1.3 1.5 0.8 0.8zM744.2 683.4l8.7-5.8 0-5.2 -3.6-3.6 -0.2 0.2 -2.1 2.3 -2 2.4 -1.8 2.4 -1.6 2.5 -1.4 2.6 -0.2 0.5zM752.9 672.4l9.6-8.9 -2.6-3.9 -1.7 1.2 -2.4 1.9 -2.3 2 -2.2 2.1 -2 2zM757.9 679.5l-5-1.9 -8.7 5.8 2 5.1 11.4 4.5 2.9-1.5z" fill="#d6a264"/><path d="M866.3 720.9l-13.5 5.1 4.2 10.8 2.1-0.4 3.6-0.9 3.5-0.9 3.3-0.9zM852.3 725.7l-5.6 1.5 -3.7 10.1 1.3 2.6 0.1 0 3.5-0.9 3.6-0.9 3.8-0.9 1.7-0.4 -4.2-10.8zM879.6 658l-6.1 11.3 0.2 0.5 13.4 6.9 0.6-0.1 5.1-5.4 -0.2-0.3 -1.8-2.5 -2-2.5 -2.1-2.5 -2.3-2.5 -2.3-2.5 -1.2-1.1zM879 691.3l-5.4 3.2 0.2 12.7 14.9-1.6 1.6-10.1zM873.7 669.8l-1.9 8.9 7.2 6.3 8.1-8.3zM883.7 720.9l-11.5-5.5 -5.6 4.5 -0.3 1 3.2 12.8 3.1-0.9 2.9-0.8 2.8-0.9 2.7-0.9 2.6-0.8 0.3-0.1zM906.3 704.4l-0.2-1.4 -0.6-2.5 -0.7-2.7 -0.8-2.8 -0.8-2.7 -0.4-1 -7.5 0.8 -5 3.4 -1.6 10.1 0.4 0.7 12.3 2.2zM887.7 676.6l7.6 15.5 7.5-0.8 -0.6-1.6 -1.1-2.6 -1.1-2.7 -1.3-2.7 -1.3-2.7 -1.5-2.8 -1.6-2.6 -1.5-2.4zM900.8 721l-11.7-4.5 -5.4 4.4 0.2 8.4 2.2-0.8 2.4-0.9 2.3-1 2.2-1 2.1-1 2.1-1.1 1.9-1.1 1.8-1.1 0.2-0.1zM829.3 738l-0.6 0.4 -2.4 1.4 -2.2 1.5 -2.3 1.3 -2 1.1 -1.9 1 1.3 3.5 0.6-0.3 2.1-0.9 2.4-0.9 2.5-0.9 2.6-0.8 1.5-0.5zM901.1 721.2l1.4-0.9 1.4-1.1 1.1-1.1 0.9-1 0.6-0.9 0.5-0.8 0.2-0.8 0.2-1 0-1.1 -0.1-1.3 -0.2-1.6 -0.2-1.9 -0.4-2.2 -0.2-1.1 -4.9 4.1 -0.6 12.5zM879 685l0 6.3 11.3 4.2 5-3.4 -7.6-15.5 -0.6 0.1zM889.1 716.5l0-10.2 -0.4-0.7 -14.9 1.6 -0.6 0.8 -1 7.4 11.5 5.5zM830.9 743.9l1.3-0.4 2.8-0.9 3-0.9 3.1-0.9 3.2-0.9 -1.3-2.6 -7.3-4 -0.6 0.5 -2 1.5 -2.2 1.5 -1.6 1.2zM901.4 708.5l-12.3-2.2 0 10.2 11.7 4.5zM843 737.3l3.7-10.1 -3.8-2.4 -0.2 0.4 -0.9 1.4 -1.1 1.4 -1.1 1.4 -1.3 1.5 -1.5 1.4 -1.1 1z" fill="#7e8c8c"/><path d="M764.4 737.5l-0.4-5.7M747.2 734.4l3.4-2.4 3.8-1.6 4-1.1M758.4 729.3l5.6 2.5M832.6 639.8l1.1 3.1 0.9 3.3M856.1 641.4l-3.5 1.5 -3.8-0.5 -3.3 2.2 -3.8-0.1 -3.5 1.2 -3.6 0.5M859.9 643l-0.1 1.2M859.8 644.2l-2.9 1.6 -1.8 3 -2.7 1.9 -2.5 2.1 -2.5 2.2 -2.3 2.4 -3 1.4M834.6 646.2l-0.4 5.8M842.1 658.8l-2.7-2.2 -3-1.8 -2.2-2.8M819.2 748.2l-1.3-3.5M807.1 755.4l-1.4-6.1M793.9 756.3l-0.1-4.5 -0.4-4.5M788.4 741l-1.9 0.1M734.7 708.1l1.8-0.1M742.7 731.3l0.7-3.9 1.8-3.5 1.6-3.5M736.5 708l2.1 2.5 1.5 2.9 3.1 1.6 2 2.5 1.6 2.9M758.4 729.3l-1.3-3.1 -2.8-2.2 -1-3.3M746.8 720.4l3.2 0.9 3.3-0.6M764 731.8l2.5-2.3 2.3-2.5M782.2 738.4l-1.7-4 -0.9-4.2M779.6 730.2l-3-2.8 -3.6-1.8M773 725.6l-4.2 1.4M810.9 639.4l-0.8 3.6 0 3.6M834.2 652l-3.5 2.3 -4 1.3 -3.4 2.4M810.1 646.6l3 1.9 2.2 2.8 2.7 2.2 2.3 2.7 3 1.8M859.8 644.2l1.4 2.9 0.9 3.1 0.9 3.2M880.9 657.3l-1.3 0.7M863 653.4l3.2 1.3 3.4 0.5 3.3 1.2 3.3 0.9 3.4 0.7M823 671.5l3.3 1.1 3.3 1.2 3.5 0.2 3.3 0.8M820.4 665.9l2.6 5.6M820.4 665.9l1.7-3.9 1.2-4M842.1 658.8l0.3 0.8M842.4 659.6l-1 3.1 -0.6 3.3 -2.4 2.6 -0.3 3.4 -1.7 2.8M765.9 711.1l-3.7 4.5M764.5 705.7l-3.1-1.3 -3.2-0.9 -3.4-0.1M754.8 703.4l-2.4 1.4M752.4 704.8l1.3 3.9 2.3 3.6 1 4M757 716.3l5.2-0.7M773 725.6l1.3-3.7 1.8-3.4M768.8 727l-1.8-2.8 -2.1-2.5 -1.1-3.2 -1.6-2.9M736.5 708l4.8-3M741.3 705l3.7 0.1 3.7-0.5 3.7 0.2M753.3 720.7l3.7-4.4M759.9 659.6l2.6 3.9M749.3 668.8l3.6 3.6M762.5 663.5l-2 2.6 -2.3 2.4 -3 1.5 -2.3 2.4M843 737.3l-4-1.3 -3.3-2.7M843 737.3l1.3 2.6M829.3 738l1.6 5.9M863 653.4l-1.1 3.6 -1.5 3.5M879.6 658l-1.1 3 -2 2.6 -1.8 2.7 -1.2 3M873.5 669.3l-3-1.2 -3.2-0.1 -3.2-0.4M860.4 660.5l1.1 3.9 2.6 3.2M842.4 659.6l3 2.4 3.6 1M860.4 660.5l-3.9 0.6 -3.6 1.5 -3.9 0.4M864.1 667.6l-2.2 2.8 -2.2 2.8M849 663l1.7 3.4 -0.1 4.1 2 3.3M859.7 673.2l-3.5 0.4 -3.6 0.2M779.6 730.2l4.2-2 3.7-2.8M842.9 724.8l3.8 2.4M843 737.3l0.5-3.6 1.4-3.3 1.8-3.2M789.5 645.4l2.6 2.9 1.7 3.5M810.1 646.6l-3.2 3.5 -3.7 2.8M793.8 651.8l4.7 0.3 4.7 0.8M836.4 674.8l1.8 3.2M852.6 673.8l-2.5 3.4M850.1 677.2l-3.9 0.7 -4-0.1 -4 0.2M827 687.9l2.6-2 2.4-2.3 2.7-1.9 3.1-1.3M839.8 691.1l1.1-3.1M840.9 688l-1.8-3.7 -1.3-3.9M823 671.5l-0.8 3.7 -2 3.3 -0.7 3.8 -2.3 3.1M817.4 686.5l-0.2-1.1M837.8 680.4l0.4-2.4M864.6 682.9l1.7 3.5 2.5 3.1 1.1 3.8M864.3 682.8l-3.4 1.2 -3.1 1.9 -3.4 1.3M869.9 693.3l-3.8 0.7 -2.9 2.6 -3.6 1M859.6 697.6l-2.7-2.3 -2.7-2.3M854.2 693l-0.6-3.6M853.6 689.4l0.8-2.2M859.7 673.2l1.1 3.4 2.2 2.9 1.3 3.3M873.7 669.8l-0.7 4.5 -1.2 4.4M871.8 678.7l-3.7 1.9 -3.5 2.3M850.1 677.2l0.7 3.7 1.6 3.3 2 3M840.9 688l4.2 0.3 4.2 1 4.3 0.1M849.2 697.3l2.7-1.9 2.3-2.4M806.1 677.5l-4.3 1.6 -4.5 1.2M806.1 677.5l0.3-3.8 0.5-3.7 1.5-3.5M797.3 680.3l0.1-4.3 -2-3.9 0.1-4.3M795.5 667.8l3.2-1.3 3.1-1.2 3.2-1.3M808.4 666.5l-3.4-2.5M793.5 685.4l1.4-2.9 2.4-2.2M817.2 685.4l-2.6-2.2 -2.5-2.3 -2.9-1.8 -3.1-1.6M820.4 665.9l-4 0.4 -3.9 0.6 -4.1-0.4M803.2 652.9l-0.2 3.9 1.3 3.5 0.7 3.7M782 668.8l-3.8-1.7 -3.9-1.7 -4.1-1M782 668.8l2.4-2.5 2.7-2.2M787.1 663.2l0 0.9M787.1 663.2l-2.7-2.1 -2.1-2.6 -1.5-3.2 -2.6-2.2 -2-2.7M775.3 650.8l-1.9 3.2 -1.1 3.5 -1.6 3.2 -0.5 3.7M795.5 667.8l-4.1-2.1 -4.3-1.6M792.4 685.4l-2.8-2.7 -2-3.5 -3.6-2 -2-3.5M782 673.7l0-4.9M793.8 651.8l-1.7 2.8 -2.2 2.6 -1.1 3.1 -1.7 2.9M762.5 663.5l4.3 1.9M766.8 665.4l3.4-1M782 673.7l-2.1 2.6 -2.9 1.7 -2.5 2 -2.5 2.2M766.8 665.4l0 3.9 -1.1 3.8 0.5 4M766.2 677.1l3.1 2.3 2.7 2.8M772.8 692.1l-0.7-3.3 0.2-3.3 -0.3-3.3M879 691.3l0-6.3M879 691.3l3.9 0.9 3.7 1.6 3.7 1.7M879 685l2.6-2.9 3.3-2.1 2.2-3.3M895.3 692.1l-5 3.4M895.3 692.1l-2.1-2.8 -1.4-3.2 -1.5-3.1 -0.3-3.7 -2.3-2.7M887.7 676.6l-0.6 0.1M873.6 694.5l5.4-3.2M873.6 694.5l-3.7-1.2M871.8 678.7l1.9 2.6 3.3 1.2 2 2.5M888.7 705.6l-3.7 0.3 -3.7 1.2 -3.7 0 -3.8 0.1M873.6 694.5l0.3 4.2 -0.2 4.2 0.1 4.3M888.7 705.6l1.2-3.3 0.4-3.4 0-3.4M873.7 669.8l3.3 1.8 3.2 2.1 3.6 1.3 3.3 1.7M892.8 671.2l-2.8 2.5 -2.3 2.9M902.8 691.3l-3.8-0.1 -3.7 0.9M889.1 706.3l0.4 3.4 -1 3.4 0.6 3.4M889.1 706.3l4.1 0.9 4.1 0.5 4.1 0.8M889.1 716.5l4 1.3 4 1.2 3.7 2M901.4 708.5l-0.2 4.2 0.5 4.1 -0.9 4.2M906.3 704.4l-2.6 1.9 -2.3 2.2M888.7 705.6l0.4 0.7M846.7 727.2l5.6-1.5M849.9 712.6l-0.1 3.4 0.8 3.2 0.9 3.3 0.8 3.2M752.9 677.6l5 1.9M752.9 677.6l-2.9 2 -3.1 1.6 -2.7 2.2M757.9 679.5l1.5 3.9 1 3.9 0.1 4.2M744.2 683.4l2 5.1M746.2 688.5l3.6 2.1 4.1 0.7 3.7 1.7M757.6 693l2.9-1.5M752.9 672.4l0 5.2M766.2 677.1l-4.2 0.9 -4.1 1.5M740 681.7l4.2 1.7M772 692.7l-3.9-0.3 -3.8-0.3 -3.8-0.6M741.3 705l1.4-3.1 0.3-3.5 1.6-3.1 1.1-3.3 0.5-3.5M754.8 703.4l0.4-3.6 2.3-3.1 0.1-3.7M859.6 697.6l0.2 5.9M873.8 707.2l-0.6 0.8M873.2 708l-3.6-0.4 -3.1-1.7 -3.3-1.3 -3.4-1.1M850.5 711.1l4.2-0.8M859.8 703.5l-3 3.1 -2.1 3.7M852.3 725.7l0.5 0.3M857 736.8l-1.9-3.4 -0.8-3.8 -1.5-3.6M866.6 719.9l2.7-2.4 2.9-2.1M866.6 719.9l-0.3 1M866.3 720.9l0.1 3.3 2.1 2.9 0.6 3.3 0.4 3.3M872.2 715.4l3.6 2.3 4.2 1.1 3.7 2.1M883.7 720.9l-0.7 4.2 0.9 4.2M873.2 708l0.3 3.8 -1.3 3.6M854.7 710.3l3.1 2.2 3.2 2.1 2.5 3 3.1 2.3M852.8 726l3.7-0.6 3-2.3 3.5-0.7 3.3-1.5M889.1 716.5l-2.5 2.5 -2.9 1.9" fill="none" stroke="#3a3a3a" stroke-width="1.9" stroke-linejoin="round" stroke-linecap="round"/><path d="M906.9 707.7l-0.4-2.2 -0.4-2.5 -0.6-2.5 -0.7-2.7 -0.8-2.8 -0.8-2.7 -1-2.6 -1.1-2.6 -1.1-2.7 -1.3-2.7 -1.3-2.7 -1.5-2.8 -1.6-2.6 -1.7-2.7 -1.8-2.5 -2-2.5 -2.1-2.5 -2.3-2.5 -2.3-2.5 -2.4-2.3 -2.5-2.2 -2.5-2.1 -2.4-1.9 -2.5-1.7 -2.5-1.5 -2.7-1.4 -2.6-1.3 -2.6-1.2 -2.5-1 -2.3-1 -2.2-0.8 -2-0.7 -1.8-0.7 -1.7-0.5 -1.6-0.3 -1.5-0.3 -1.4-0.2 -1.4-0.2 -1.3 0 -1.2 0.1 -1.2 0.3 -1 0.5 -0.9 0.5 -1 0.5 -1 0.5 -1 0.3 -1.2 0.2 -1.2-0.1 -1.2-0.3 -1.2-0.4 -1.3-0.4 -1.4-0.5 -1.5-0.3 -1.7-0.2 -1.9 0 -2.2 0.3 -2.4 0.4 -2.7 0.6 -2.7 0.6 -2.9 0.8 -2.8 0.7 -2.9 0.8 -2.7 0.8 -2.7 0.7 -2.6 0.8 -2.7 0.8 -2.6 0.8 -2.7 0.8 -2.7 1 -2.6 1 -2.7 1.2 -2.7 1.3 -2.8 1.4 -2.8 1.4 -2.8 1.6 -2.7 1.6 -2.7 1.8 -2.5 1.8 -2.4 1.9 -2.3 2 -2.2 2.1 -2.2 2.2 -2.1 2.3 -2 2.4 -1.8 2.4 -1.6 2.5 -1.4 2.6 -1.2 2.7 -1.1 2.7 -0.8 2.9 -0.7 3 -0.6 2.9 -0.5 2.9 -0.3 2.9 -0.2 2.7 -0.1 2.7 0 2.7 0.1 2.6 0.3 2.7 0.3 2.5 0.6 2.4 0.6 2.2 0.8 2.1 0.9 1.9 1.1 1.7 1.2 1.6 1.3 1.5 1.4 1.4 1.7 1.2 1.7 1 2 1 2.2 0.8 2.6 0.6 2.7 0.4 2.9 0.3 3 0.2 2.8 0.2 2.7 0.2 2.5 0.2 2.3 0.2 2.4 0.1 2.3 0 2.1 0 2 0 1.8 0.2 1.5 0.3 1.2 0.6 0.7 0.8 0.2 1.1 -0.1 1.3 -0.4 1.4 -0.3 1.4 -0.3 1.4 -0.1 1.3 0.3 1.2 0.6 1.1 0.8 1.1 0.9 1 1.1 1.1 1.1 0.9 1.3 0.8 1.3 0.6 1.4 0.5 1.5 0.3 1.7 0.1 1.8-0.1 1.9-0.1 1.9-0.3 1.9-0.4 1.8-0.4 1.7-0.5 1.5-0.6 1.3-0.8 1.2-0.8 1.3-1 1.2-1 1.4-1 1.6-1 1.9-0.9 2.1-0.9 2.4-0.9 2.5-0.9 2.6-0.8 2.8-0.9 2.8-0.9 3-0.9 3.1-0.9 3.3-0.9 3.5-0.9 3.6-0.9 3.8-0.9 3.8-0.8 3.6-0.9 3.5-0.9 3.3-0.9 3.1-0.9 2.9-0.8 2.8-0.9 2.7-0.9 2.6-0.8 2.5-0.9 2.4-0.9 2.3-1 2.2-1 2.1-1 2.1-1.1 1.9-1.1 1.8-1.1 1.6-1 1.4-1.1 1.1-1.1 0.9-1 0.6-0.9 0.5-0.8 0.2-0.8 0.2-1 0-1.1 -0.1-1.3 -0.2-1.6zM851.6 700.8l0.3 1.2 0.2 1.2 0 1.2 -0.2 1.3 -0.2 1.3 -0.3 1.3 -0.4 1.3 -0.4 1.3 -0.6 1.4 -0.6 1.4 -0.7 1.5 -0.8 1.4 -0.8 1.4 -0.9 1.5 -0.9 1.4 -0.9 1.4 -0.8 1.4 -0.9 1.5 -0.9 1.4 -1.1 1.4 -1.1 1.4 -1.3 1.5 -1.5 1.4 -1.7 1.5 -2 1.5 -2.2 1.5 -2.2 1.6 -2.4 1.4 -2.2 1.5 -2.3 1.3 -2 1.1 -1.9 1 -1.9 1 -1.9 0.8 -1.7 0.8 -1.8 0.7 -1.7 0.5 -1.7 0.5 -1.6 0.3 -1.6 0.2 -1.5 0.1 -1.6 0.1 -1.4-0.1 -1.5-0.2 -1.3-0.4 -1.3-0.5 -1.2-0.6 -1.2-0.8 -1.1-1.1 -1.1-1.2 -0.9-1.3 -0.9-1.4 -0.8-1.4 -0.6-1.4 -0.5-1.3 -0.2-1.3 0.1-1.3 0.3-1.3 0.4-1.3 0.4-1.3 0.4-1.2 0.1-1.2 -0.1-1.1 -0.3-1 -0.4-1 -0.5-0.9 -0.7-0.9 -0.7-0.9 -0.9-0.8 -1-0.8 -1.2-0.8 -1.4-0.7 -1.8-0.7 -1.9-0.6 -2.1-0.6 -2-0.6 -2-0.7 -1.6-0.8 -1.4-1 -1.1-1.2 -0.8-1.3 -0.8-1.5 -0.5-1.5 -0.5-1.5 -0.3-1.5 -0.1-1.5 -0.1-1.3 0.1-1.2 0.1-1.1 0.3-1.1 0.5-1 0.5-1 0.8-1 0.8-1.1 1.1-1 1.3-1.1 1.5-1.2 1.7-1.2 1.9-1.2 1.9-1.2 2-1.1 2-0.9 1.9-0.7 1.9-0.5 1.8-0.4 1.8-0.3 1.9-0.1 1.9-0.1 2 0 2.2 0 2.2 0 2.4 0 2.6 0.1 2.6 0.1 2.8 0.1 2.8 0.2 2.7 0.3 2.8 0.3 2.6 0.3 2.6 0.4 2.7 0.4 2.6 0.4 2.7 0.5 2.5 0.6 2.5 0.6 2.2 0.6 2.1 0.8 1.9 0.9 1.8 0.9 1.7 1 1.5 1.1 1.4 1.1 1.2 1.2 1 1.1 0.8 1.2z" fill="none" stroke="#3a3a3a" stroke-width="1.6"/><path d="M851 699.6l-0.8-1.2 -1-1.1 -1.2-1.2 -1.4-1.1 -1.5-1.1 -1.7-1 -1.8-0.9 -1.9-0.9 -2.1-0.8 -2.2-0.6 -2.5-0.6 -2.5-0.6 -2.7-0.5 -2.6-0.4 -2.7-0.4 -2.6-0.4 -2.6-0.3 -2.8-0.3 -2.7-0.3 -2.8-0.2 -2.8-0.1 -2.6-0.1 -2.6-0.1 -2.4 0 -2.2 0 -2.2 0 -2 0 -1.9 0.1 -1.9 0.1 -1.8 0.3 -1.8 0.4 -1.9 0.5 -1.9 0.7 -2 0.9 -2 1.1 -1.9 1.2 -1.9 1.2 -1.7 1.2 -1.5 1.2 -1.3 1.1 -1.1 1 -0.8 1.1 -0.8 1 -0.5 1 -0.5 1 -0.3 1.1 -0.1 1.1 -0.1 1.2 0.1 1.3 0.1 1.5 0.3 1.5 0.5 1.5 0.5 1.5 0.8 1.5 0.8 1.3 1.1 1.2 1.4 1 1.6 0.8 2 0.7 2 0.6 2.1 0.6 1.9 0.6 1.8 0.7 1.4 0.7 1.2 0.8 1 0.8 0.9 0.8 0.7 0.9 0.7 0.9 0.5 0.9 0.4 1 0.3 1 0.1 1.1 -0.1 1.2 -0.4 1.2 -0.4 1.3 -0.4 1.3 -0.3 1.3 -0.1 1.3 0.2 1.3 0.5 1.3 0.6 1.4 0.8 1.4 0.9 1.4 0.9 1.3 1.1 1.2 1.1 1.1 1.2 0.8 1.2 0.6 1.3 0.5 1.3 0.4 1.5 0.2 1.4 0.1 1.6-0.1 1.5-0.1 1.6-0.2 1.6-0.3 1.7-0.5 1.7-0.5 1.8-0.7 1.7-0.8 1.9-0.8 1.9-1 1.9-1 2-1.1 2.3-1.3 2.2-1.5 2.4-1.4 2.2-1.6 2.2-1.5 2-1.5 1.7-1.5 1.5-1.4 1.3-1.5 1.1-1.4 1.1-1.4 0.9-1.4 0.9-1.5 0.8-1.4 0.9-1.4 0.9-1.4 0.9-1.5 0.8-1.4 0.8-1.4 0.7-1.5 0.6-1.4 0.6-1.4 0.4-1.3 0.4-1.3 0.3-1.3 0.2-1.3 0.2-1.3 0-1.2 -0.2-1.2 -0.3-1.2z" fill="#3b3b3b" stroke="#333" stroke-width="1"/><path d="M907.1 709.6l-0.2-1.9 -0.4-2.2 -0.4-2.5 -0.6-2.5 -0.7-2.7 -0.8-2.8 -0.8-2.7 -1-2.6 -1.1-2.6 -1.1-2.7 -1.3-2.7 -1.3-2.7 -1.5-2.8 -1.6-2.6 -1.7-2.7 -1.8-2.5 -2-2.5 -2.1-2.5 -2.3-2.5 -2.3-2.5 -2.4-2.3 -2.5-2.2 -2.5-2.1 -2.4-1.9 -2.5-1.7 -2.5-1.5 -2.7-1.4 -2.6-1.3 -2.6-1.2 -2.5-1 -2.3-1 -2.2-0.8 -2-0.7 -1.8-0.7 -1.7-0.5 -1.6-0.3 -1.5-0.3 -1.4-0.2 -1.4-0.2 -1.3 0 -1.2 0.1 -1.2 0.3 -1 0.5 -0.9 0.5 -1 0.5 -1 0.5 -1 0.3 -1.2 0.2 -1.2-0.1 -1.2-0.3 -1.2-0.4 -1.3-0.4 -1.4-0.5 -1.5-0.3 -1.7-0.2 -1.9 0 -2.2 0.3 -2.4 0.4 -2.7 0.6 -2.7 0.6 -2.9 0.8 -2.8 0.7 -2.9 0.8 -2.7 0.8 -2.7 0.7 -2.6 0.8 -2.7 0.8 -2.6 0.8 -2.7 0.8 -2.7 1 -2.6 1 -2.7 1.2 -2.7 1.3 -2.8 1.4 -2.8 1.4 -2.8 1.6 -2.7 1.6 -2.7 1.8 -2.5 1.8 -2.4 1.9 -2.3 2 -2.2 2.1 -2.2 2.2 -2.1 2.3 -2 2.4 -1.8 2.4 -1.6 2.5 -1.4 2.6 -1.2 2.7 -1.1 2.7 -0.8 2.9 -0.7 3 -0.6 2.9 -0.5 2.9 -0.3 2.9 -0.2 2.7 -0.1 2.7 0 2.7 0.1 2.6 0.3 2.7 0.3 2.5 0.6 2.4 0.6 2.2 0.8 2.1 0.9 1.9 1.1 1.7 1.2 1.6 1.3 1.5 1.4 1.4 1.7 1.2 1.7 1 2 1 2.2 0.8 2.6 0.6 2.7 0.4 2.9 0.3 3 0.2 2.8 0.2 2.7 0.2 2.5 0.2 2.3 0.2 2.4 0.1 2.3 0 2.1 0 2 0 1.8 0.2 1.5 0.3 1.2 0.6 0.7 0.8 0.2 1.1 -0.1 1.3 -0.4 1.4 -0.3 1.4 -0.3 1.4 -0.1 1.3 0.3 1.2 0.6 1.1 0.8 1.1 0.9 1 1.1 1.1 1.1 0.9 1.3 0.8 1.3 0.6 1.4 0.5 1.5 0.3 1.7 0.1 1.8-0.1 1.9-0.1 1.9-0.3 1.9-0.4 1.8-0.4 1.7-0.5 1.5-0.6 1.3-0.8 1.2-0.8 1.3-1 1.2-1 1.4-1 1.6-1 1.9-0.9 2.1-0.9 2.4-0.9 2.5-0.9 2.6-0.8 2.8-0.9 2.8-0.9 3-0.9 3.1-0.9 3.3-0.9 3.5-0.9 3.6-0.9 3.8-0.9 3.8-0.8 3.6-0.9 3.5-0.9 3.3-0.9 3.1-0.9 2.9-0.8 2.8-0.9 2.7-0.9 2.6-0.8 2.5-0.9 2.4-0.9 2.3-1 2.2-1 2.1-1 2.1-1.1 1.9-1.1 1.8-1.1 1.6-1 1.4-1.1 1.1-1.1 0.9-1 0.6-0.9 0.5-0.8 0.2-0.8 0.2-1 0-1.1 -0.1-1.3z" fill="url(#shade)" /></g>
<rect x="155.0" y="797.1" width="24.6" height="26.7" fill="#8cc48a" stroke="#000" stroke-width="2"/><rect x="194.2" y="797.1" width="24.6" height="26.7" fill="#4a867a" stroke="#000" stroke-width="2"/><rect x="233.3" y="797.1" width="24.6" height="26.7" fill="#cfa646" stroke="#000" stroke-width="2"/><rect x="272.1" y="797.1" width="24.6" height="26.7" fill="#58d0b4" stroke="#000" stroke-width="2"/><rect x="311.2" y="797.1" width="24.6" height="26.7" fill="#cf8a5a" stroke="#000" stroke-width="2"/><rect x="633.9" y="789.9" width="24.4" height="26.8" fill="#50cc94" stroke="#000" stroke-width="2"/><rect x="672.9" y="789.9" width="24.4" height="26.8" fill="#6ec490" stroke="#000" stroke-width="2"/><rect x="712.0" y="789.9" width="24.4" height="26.8" fill="#627472" stroke="#000" stroke-width="2"/><rect x="751.0" y="789.9" width="24.4" height="26.8" fill="#dc8044" stroke="#000" stroke-width="2"/><rect x="790.1" y="789.9" width="24.4" height="26.8" fill="#cc9a62" stroke="#000" stroke-width="2"/>
<g stroke="#000" stroke-width="2.1" fill="none" stroke-linecap="butt">
<path d="M1136.6 525.8V837.8H1283"/>
<path d="M1369.1 525.6V837.8H1500.8"/>
<path d="M1625.6 516.3V828.6H1912.4"/>
</g>
<g stroke="#000" stroke-width="1.5">
<path d="M1136.6 546.4H1140.5"/>
<path d="M1136.6 632.0H1140.5"/>
<path d="M1136.6 717.6H1140.5"/>
<path d="M1136.6 803.2H1140.5"/>
<path d="M1369.1 571.5H1373"/>
<path d="M1369.1 725.0H1373"/>
<path d="M1625.6 538.1H1629.5"/>
<path d="M1625.6 696.4H1629.5"/>
</g>
<g stroke="#000" stroke-width="1.8">
<path d="M1187.7 850.3V854.8"/>
<path d="M1238.0 850.3V854.8"/>
<path d="M1401.7 848.3V854.1"/>
<path d="M1451.0 848.3V854.1"/>
<path d="M1661.6 838.4V843.9"/>
<path d="M1711.8 838.4V843.9"/>
<path d="M1804.4 838.4V843.9"/>
<path d="M1854.9 838.4V843.9"/>
</g>
<g stroke="#000" stroke-width="1.9" fill="none">
<path d="M1172.8 617V503.4H1233.2V522.8"/>
<path d="M1401.7 531.6V504.9H1446.3V685.6"/>
<path d="M1662 515.4V504H1711.7V578"/>
<path d="M1804.4 600.7V504H1854.7V659.6"/>
</g>
<path d="M1172.90 640.30C1172.80 642.75 1172.55 651.38 1172.30 655.00C1172.05 658.62 1172.43 658.50 1171.40 662.00C1170.37 665.50 1168.02 671.77 1166.10 676.00C1164.18 680.23 1162.07 683.57 1159.90 687.40C1157.73 691.23 1155.60 694.57 1153.10 699.00C1150.60 703.43 1146.53 710.17 1144.90 714.00C1143.27 717.83 1142.80 718.50 1143.30 722.00C1143.80 725.50 1146.25 731.17 1147.90 735.00C1149.55 738.83 1151.78 742.17 1153.20 745.00C1154.62 747.83 1154.85 749.50 1156.40 752.00C1157.95 754.50 1160.65 757.00 1162.50 760.00C1164.35 763.00 1166.18 766.67 1167.50 770.00C1168.82 773.33 1169.63 776.00 1170.40 780.00C1171.17 784.00 1171.73 789.00 1172.10 794.00C1172.47 799.00 1172.47 804.55 1172.60 810.00C1172.73 815.45 1172.85 823.92 1172.90 826.70Z" fill="#6c6d71" stroke="#000" stroke-width="1.9" stroke-linejoin="round"/>
<path d="M1232.90 543.40C1232.65 544.47 1233.12 547.10 1231.40 549.80C1229.68 552.50 1225.63 555.50 1222.60 559.60C1219.57 563.70 1215.83 569.80 1213.20 574.40C1210.57 579.00 1208.43 583.18 1206.80 587.20C1205.17 591.22 1203.32 594.40 1203.40 598.50C1203.48 602.60 1207.05 607.62 1207.30 611.80C1207.55 615.98 1205.32 621.07 1204.90 623.60C1204.48 626.13 1203.63 623.97 1204.80 627.00C1205.97 630.03 1209.43 636.60 1211.90 641.80C1214.37 647.00 1216.77 653.28 1219.60 658.20C1222.43 663.12 1227.00 668.00 1228.90 671.30C1230.80 674.60 1230.47 673.88 1231.00 678.00C1231.53 682.12 1231.78 689.75 1232.10 696.00C1232.42 702.25 1232.77 712.25 1232.90 715.50Z" fill="#d3d4d8" stroke="#000" stroke-width="1.9" stroke-linejoin="round"/>
<path d="M1401.90 560.70C1401.73 564.08 1401.60 575.02 1400.90 581.00C1400.20 586.98 1399.02 591.40 1397.70 596.60C1396.38 601.80 1394.82 607.00 1393.00 612.20C1391.18 617.40 1388.60 623.47 1386.80 627.80C1385.00 632.13 1383.75 634.73 1382.20 638.20C1380.65 641.67 1378.63 645.47 1377.50 648.60C1376.37 651.73 1375.32 653.27 1375.40 657.00C1375.48 660.73 1376.27 666.07 1378.00 671.00C1379.73 675.93 1383.30 681.93 1385.80 686.60C1388.30 691.27 1390.92 694.67 1393.00 699.00C1395.08 703.33 1396.98 708.10 1398.30 712.60C1399.62 717.10 1400.30 721.93 1400.90 726.00C1401.50 730.07 1401.73 735.17 1401.90 737.00Z" fill="#6c6d71" stroke="#000" stroke-width="1.9" stroke-linejoin="round"/>
<path d="M1446.20 714.20C1446.13 716.33 1446.03 723.80 1445.80 727.00C1445.57 730.20 1445.68 731.15 1444.80 733.40C1443.92 735.65 1442.75 737.42 1440.50 740.50C1438.25 743.58 1434.13 748.35 1431.30 751.90C1428.47 755.45 1425.40 758.48 1423.50 761.80C1421.60 765.12 1419.90 768.25 1419.90 771.80C1419.90 775.35 1421.37 779.32 1423.50 783.10C1425.63 786.88 1429.62 790.47 1432.70 794.50C1435.78 798.53 1439.95 803.75 1442.00 807.30C1444.05 810.85 1444.30 812.73 1445.00 815.80C1445.70 818.87 1446.00 824.05 1446.20 825.70Z" fill="#d3d4d8" stroke="#000" stroke-width="1.9" stroke-linejoin="round"/>
<path d="M1661.20 527.70C1661.12 528.75 1660.97 531.97 1660.70 534.00C1660.43 536.03 1660.67 537.13 1659.60 539.90C1658.53 542.67 1656.72 547.03 1654.30 550.60C1651.88 554.17 1648.03 557.73 1645.10 561.30C1642.17 564.87 1638.80 568.17 1636.70 572.00C1634.60 575.83 1632.50 580.22 1632.50 584.30C1632.50 588.38 1634.35 591.92 1636.70 596.50C1639.05 601.08 1643.42 606.70 1646.60 611.80C1649.78 616.90 1653.63 623.27 1655.80 627.10C1657.97 630.93 1658.77 631.82 1659.60 634.80C1660.43 637.78 1660.53 641.82 1660.80 645.00C1661.07 648.18 1661.13 652.42 1661.20 653.90Z" fill="#4d84c4" stroke="#000" stroke-width="1.9" stroke-linejoin="round"/>
<path d="M1711.40 592.70C1711.33 593.92 1711.32 597.13 1711.00 600.00C1710.68 602.87 1711.03 606.02 1709.50 609.90C1707.97 613.78 1704.68 618.52 1701.80 623.30C1698.92 628.08 1695.38 633.17 1692.20 638.60C1689.02 644.03 1684.13 652.07 1682.70 655.90C1681.27 659.73 1682.33 657.45 1683.60 661.60C1684.87 665.75 1687.42 674.73 1690.30 680.80C1693.18 686.87 1698.33 692.25 1700.90 698.00C1703.47 703.75 1704.27 709.55 1705.70 715.30C1707.13 721.05 1708.63 727.55 1709.50 732.50C1710.37 737.45 1710.58 741.17 1710.90 745.00C1711.22 748.83 1711.32 753.75 1711.40 755.50Z" fill="#c9eff0" stroke="#000" stroke-width="1.9" stroke-linejoin="round"/>
<path d="M1804.60 611.80C1804.52 613.00 1804.42 616.78 1804.10 619.00C1803.78 621.22 1804.28 622.12 1802.70 625.10C1801.12 628.08 1797.67 632.97 1794.60 636.90C1791.53 640.83 1787.13 645.02 1784.30 648.70C1781.47 652.38 1778.95 655.82 1777.60 659.00C1776.25 662.18 1775.58 664.60 1776.20 667.80C1776.82 671.00 1778.73 674.50 1781.30 678.20C1783.87 681.90 1788.28 685.83 1791.60 690.00C1794.92 694.17 1799.20 699.53 1801.20 703.20C1803.20 706.87 1803.03 707.93 1803.60 712.00C1804.17 716.07 1804.43 725.00 1804.60 727.60Z" fill="#e9d84c" stroke="#000" stroke-width="1.9" stroke-linejoin="round"/>
<path d="M1855.10 676.80C1855.02 678.00 1854.93 681.75 1854.60 684.00C1854.27 686.25 1854.90 687.00 1853.10 690.30C1851.30 693.60 1847.33 699.28 1843.80 703.80C1840.27 708.32 1834.78 713.17 1831.90 717.40C1829.02 721.63 1827.20 725.25 1826.50 729.20C1825.80 733.15 1825.95 736.30 1827.70 741.10C1829.45 745.90 1833.90 752.37 1837.00 758.00C1840.10 763.63 1843.77 769.27 1846.30 774.90C1848.83 780.53 1850.90 786.72 1852.20 791.80C1853.50 796.88 1853.62 800.60 1854.10 805.40C1854.58 810.20 1854.93 818.07 1855.10 820.60Z" fill="#e8b944" stroke="#000" stroke-width="1.9" stroke-linejoin="round"/>
<g fill="#151515" fill-opacity="0.15">
<path d="M1185 671h2v2h-2zm-1 4h2v2h-2zm-2 2h2v2h-2zm3 2h2v2h-2zm-3 6h2v2h-2zm0 1h2v2h-2zm3 2h2v2h-2zm-5 2h2v2h-2zm4 2h2v2h-2zm2 0h2v2h-2zm-5 1h2v2h-2zm4 1h2v2h-2zm-2 2h2v2h-2zm2 3h2v2h-2zm-1 5h2v2h-2zm-1 1h2v2h-2zm1 1h2v2h-2zm-2 4h2v2h-2zm-1 1h2v2h-2zm0 1h2v2h-2zm0 3h2v2h-2zm5 2h2v2h-2zm-5 2h2v2h-2zm2 1h2v2h-2zm3 4h2v2h-2zm-2 1h2v2h-2zm1 1h2v2h-2zm-5 5h2v2h-2zm2 0h2v2h-2zm3 2h2v2h-2zm-4 4h2v2h-2zm1 0h2v2h-2zm3 1h2v2h-2zm-5 1h2v2h-2zm2 2h2v2h-2zm-1 5h2v2h-2zm1 7h2v2h-2zm3 4h2v2h-2zm-5 12h2v2h-2zm5 26h2v2h-2z"/>
<path d="M1183 659h2v2h-2zm1 9h2v2h-2zm2 14h2v2h-2zm-4 3h2v2h-2zm-2 4h2v2h-2zm0 2h2v2h-2zm4 0h2v2h-2zm2 2h2v2h-2zm-5 5h2v2h-2zm1 0h2v2h-2zm-1 2h2v2h-2zm-1 2h2v2h-2zm4 1h2v2h-2zm-4 8h2v2h-2zm3 1h2v2h-2zm0 2h2v2h-2zm2 0h2v2h-2zm-5 2h2v2h-2zm1 1h2v2h-2zm0 6h2v2h-2zm0 1h2v2h-2zm3 0h2v2h-2zm-4 1h2v2h-2zm3 0h2v2h-2zm-2 1h2v2h-2zm3 1h2v2h-2zm-3 1h2v2h-2zm3 1h2v2h-2zm-1 5h2v2h-2zm3 0h2v2h-2zm-6 2h2v2h-2zm5 1h2v2h-2zm-4 12h2v2h-2zm0 3h2v2h-2zm4 1h2v2h-2zm-3 4h2v2h-2zm1 2h2v2h-2zm2 0h2v2h-2zm-4 3h2v2h-2zm1 46h2v2h-2z"/>
<path d="M1181 663h2v2h-2zm0 12h2v2h-2zm3 18h2v2h-2zm2 5h2v2h-2zm0 1h2v2h-2zm-5 2h2v2h-2zm2 1h2v2h-2zm2 0h2v2h-2zm-5 3h2v2h-2zm1 1h2v2h-2zm1 1h2v2h-2zm1 0h2v2h-2zm2 5h2v2h-2zm0 9h2v2h-2zm-4 1h2v2h-2zm2 2h2v2h-2zm0 1h2v2h-2zm2 0h2v2h-2zm-5 2h2v2h-2zm3 3h2v2h-2zm-2 3h2v2h-2zm3 2h2v2h-2zm1 0h2v2h-2zm-3 1h2v2h-2zm3 4h2v2h-2zm1 0h2v2h-2zm-2 1h2v2h-2zm-3 4h2v2h-2zm-1 1h2v2h-2zm4 1h2v2h-2zm0 1h2v2h-2zm-2 5h2v2h-2zm-1 2h2v2h-2zm5 7h2v2h-2zm0 2h2v2h-2zm0 1h2v2h-2zm-6 1h2v2h-2zm0 1h2v2h-2zm5 5h2v2h-2zm-5 20h2v2h-2z"/>
<path d="M1186 672h2v2h-2zm-1 4h2v2h-2zm0 4h2v2h-2zm-1 4h2v2h-2zm-2 1h2v2h-2zm-1 2h2v2h-2zm2 3h2v2h-2zm1 1h2v2h-2zm-3 7h2v2h-2zm3 5h2v2h-2zm2 0h2v2h-2zm-2 1h2v2h-2zm0 2h2v2h-2zm1 6h2v2h-2zm0 1h2v2h-2zm-3 2h2v2h-2zm1 1h2v2h-2zm2 0h2v2h-2zm1 1h2v2h-2zm-6 1h2v2h-2zm3 0h2v2h-2zm-3 3h2v2h-2zm1 3h2v2h-2zm4 1h2v2h-2zm-3 5h2v2h-2zm-1 1h2v2h-2zm1 4h2v2h-2zm-1 1h2v2h-2zm0 0h2v2h-2zm2 2h2v2h-2zm1 0h2v2h-2zm-2 3h2v2h-2zm1 5h2v2h-2zm3 6h2v2h-2zm-4 4h2v2h-2zm2 3h2v2h-2zm-4 1h2v2h-2zm2 3h2v2h-2zm1 1h2v2h-2zm0 25h2v2h-2z"/>
<path d="M1182 677h2v2h-2zm3 0h2v2h-2zm-1 2h2v2h-2zm2 15h2v2h-2zm-5 1h2v2h-2zm1 1h2v2h-2zm3 2h2v2h-2zm0 3h2v2h-2zm-4 1h2v2h-2zm4 2h2v2h-2zm-4 3h2v2h-2zm0 6h2v2h-2zm0 0h2v2h-2zm0 4h2v2h-2zm3 0h2v2h-2zm-4 6h2v2h-2zm2 4h2v2h-2zm4 0h2v2h-2zm-1 2h2v2h-2zm-5 2h2v2h-2zm2 5h2v2h-2zm4 0h2v2h-2zm-5 1h2v2h-2zm3 0h2v2h-2zm1 3h2v2h-2zm-1 1h2v2h-2zm0 1h2v2h-2zm2 0h2v2h-2zm-3 4h2v2h-2zm-1 3h2v2h-2zm2 1h2v2h-2zm-3 1h2v2h-2zm1 4h2v2h-2zm-2 3h2v2h-2zm3 3h2v2h-2zm-1 2h2v2h-2zm0 2h2v2h-2zm-1 18h2v2h-2zm0 2h2v2h-2zm5 0h2v2h-2z"/>
<path d="M1185 677h2v2h-2zm-1 3h2v2h-2zm-2 10h2v2h-2zm0 1h2v2h-2zm-1 2h2v2h-2zm4 1h2v2h-2zm-5 3h2v2h-2zm4 6h2v2h-2zm-2 1h2v2h-2zm1 0h2v2h-2zm1 6h2v2h-2zm-3 1h2v2h-2zm2 0h2v2h-2zm-1 4h2v2h-2zm4 0h2v2h-2zm-4 1h2v2h-2zm2 3h2v2h-2zm1 0h2v2h-2zm-3 3h2v2h-2zm-1 1h2v2h-2zm3 0h2v2h-2zm2 0h2v2h-2zm-5 1h2v2h-2zm-1 2h2v2h-2zm4 2h2v2h-2zm1 0h2v2h-2zm0 0h2v2h-2zm-3 3h2v2h-2zm0 1h2v2h-2zm0 7h2v2h-2zm4 3h2v2h-2zm-3 4h2v2h-2zm-1 3h2v2h-2zm3 5h2v2h-2zm-4 4h2v2h-2zm0 1h2v2h-2zm5 8h2v2h-2zm-3 9h2v2h-2zm-2 2h2v2h-2zm5 19h2v2h-2z"/>
<path d="M1180 656h2v2h-2zm6 14h2v2h-2zm-5 21h2v2h-2zm0 2h2v2h-2zm-1 1h2v2h-2zm4 6h2v2h-2zm-2 2h2v2h-2zm3 0h2v2h-2zm-3 9h2v2h-2zm4 5h2v2h-2zm-2 1h2v2h-2zm-3 5h2v2h-2zm1 1h2v2h-2zm4 1h2v2h-2zm-6 1h2v2h-2zm2 0h2v2h-2zm0 0h2v2h-2zm2 0h2v2h-2zm-3 3h2v2h-2zm-1 1h2v2h-2zm0 0h2v2h-2zm2 0h2v2h-2zm1 0h2v2h-2zm1 3h2v2h-2zm-3 1h2v2h-2zm5 1h2v2h-2zm-3 2h2v2h-2zm-1 1h2v2h-2zm0 1h2v2h-2zm-1 3h2v2h-2zm2 0h2v2h-2zm1 1h2v2h-2zm-3 2h2v2h-2zm0 2h2v2h-2zm5 2h2v2h-2zm-1 1h2v2h-2zm-1 2h2v2h-2zm-2 1h2v2h-2zm3 1h2v2h-2zm-2 6h2v2h-2z"/>
<path d="M1182 656h2v2h-2zm2 7h2v2h-2zm0 20h2v2h-2zm0 0h2v2h-2zm0 3h2v2h-2zm-4 4h2v2h-2zm2 3h2v2h-2zm0 6h2v2h-2zm3 3h2v2h-2zm-3 4h2v2h-2zm1 1h2v2h-2zm2 1h2v2h-2zm-1 1h2v2h-2zm-2 1h2v2h-2zm-1 1h2v2h-2zm0 0h2v2h-2zm5 4h2v2h-2zm-1 7h2v2h-2zm-3 2h2v2h-2zm2 0h2v2h-2zm0 0h2v2h-2zm0 0h2v2h-2zm1 0h2v2h-2zm1 0h2v2h-2zm-3 1h2v2h-2zm2 2h2v2h-2zm-2 11h2v2h-2zm-2 3h2v2h-2zm3 3h2v2h-2zm-3 5h2v2h-2zm3 3h2v2h-2zm-1 2h2v2h-2zm-1 2h2v2h-2zm-1 5h2v2h-2zm3 2h2v2h-2zm-3 5h2v2h-2zm3 13h2v2h-2zm1 11h2v2h-2zm-3 11h2v2h-2zm4 7h2v2h-2z"/>
<path d="M1183 657h2v2h-2zm-2 1h2v2h-2zm2 11h2v2h-2zm-1 1h2v2h-2zm4 2h2v2h-2zm-1 11h2v2h-2zm-3 3h2v2h-2zm0 3h2v2h-2zm0 5h2v2h-2zm-2 8h2v2h-2zm2 1h2v2h-2zm1 1h2v2h-2zm1 1h2v2h-2zm-4 7h2v2h-2zm5 0h2v2h-2zm-4 2h2v2h-2zm4 4h2v2h-2zm0 0h2v2h-2zm-5 2h2v2h-2zm1 3h2v2h-2zm0 1h2v2h-2zm1 1h2v2h-2zm3 5h2v2h-2zm-3 4h2v2h-2zm0 1h2v2h-2zm1 0h2v2h-2zm1 1h2v2h-2zm1 10h2v2h-2zm-3 2h2v2h-2zm4 0h2v2h-2zm-2 1h2v2h-2zm-1 1h2v2h-2zm-1 2h2v2h-2zm-1 2h2v2h-2zm3 1h2v2h-2zm1 1h2v2h-2zm0 2h2v2h-2zm-2 1h2v2h-2zm1 5h2v2h-2zm-2 35h2v2h-2z"/>
<path d="M1183 661h2v2h-2zm2 14h2v2h-2zm-5 1h2v2h-2zm5 12h2v2h-2zm1 0h2v2h-2zm0 0h2v2h-2zm-1 1h2v2h-2zm-4 7h2v2h-2zm1 0h2v2h-2zm0 0h2v2h-2zm4 3h2v2h-2zm-3 3h2v2h-2zm3 5h2v2h-2zm-4 1h2v2h-2zm1 3h2v2h-2zm-2 4h2v2h-2zm4 3h2v2h-2zm0 2h2v2h-2zm-3 2h2v2h-2zm-2 2h2v2h-2zm1 1h2v2h-2zm5 0h2v2h-2zm-1 1h2v2h-2zm-3 3h2v2h-2zm1 3h2v2h-2zm-1 9h2v2h-2zm3 0h2v2h-2zm-3 3h2v2h-2zm1 0h2v2h-2zm-2 5h2v2h-2zm5 1h2v2h-2zm-4 1h2v2h-2zm4 8h2v2h-2zm-3 3h2v2h-2zm2 0h2v2h-2zm-4 3h2v2h-2zm5 1h2v2h-2zm-4 4h2v2h-2zm3 8h2v2h-2zm0 14h2v2h-2z"/>
<path d="M1185 663h2v2h-2zm-5 9h2v2h-2zm5 0h2v2h-2zm-3 2h2v2h-2zm2 4h2v2h-2zm0 9h2v2h-2zm-4 10h2v2h-2zm5 2h2v2h-2zm-3 6h2v2h-2zm-1 1h2v2h-2zm0 0h2v2h-2zm0 4h2v2h-2zm2 1h2v2h-2zm1 2h2v2h-2zm-2 1h2v2h-2zm1 6h2v2h-2zm0 2h2v2h-2zm-2 1h2v2h-2zm3 0h2v2h-2zm1 1h2v2h-2zm1 1h2v2h-2zm-5 4h2v2h-2zm5 0h2v2h-2zm-3 1h2v2h-2zm-2 2h2v2h-2zm1 0h2v2h-2zm-1 3h2v2h-2zm3 1h2v2h-2zm2 0h2v2h-2zm0 1h2v2h-2zm-2 2h2v2h-2zm-1 2h2v2h-2zm-2 3h2v2h-2zm3 3h2v2h-2zm1 1h2v2h-2zm-3 7h2v2h-2zm0 3h2v2h-2zm3 7h2v2h-2zm0 3h2v2h-2zm-4 25h2v2h-2z"/>
<path d="M1183 676h2v2h-2zm2 6h2v2h-2zm0 1h2v2h-2zm-2 7h2v2h-2zm1 4h2v2h-2zm0 1h2v2h-2zm2 1h2v2h-2zm0 1h2v2h-2zm-5 6h2v2h-2zm0 3h2v2h-2zm4 0h2v2h-2zm0 2h2v2h-2zm1 1h2v2h-2zm-5 1h2v2h-2zm2 0h2v2h-2zm-1 3h2v2h-2zm3 0h2v2h-2zm-3 1h2v2h-2zm3 0h2v2h-2zm-4 3h2v2h-2zm2 0h2v2h-2zm2 5h2v2h-2zm-2 1h2v2h-2zm0 0h2v2h-2zm1 1h2v2h-2zm1 0h2v2h-2zm-2 3h2v2h-2zm0 0h2v2h-2zm-1 3h2v2h-2zm1 0h2v2h-2zm3 0h2v2h-2zm0 7h2v2h-2zm-4 2h2v2h-2zm2 6h2v2h-2zm-2 4h2v2h-2zm2 3h2v2h-2zm-4 20h2v2h-2zm5 4h2v2h-2zm0 5h2v2h-2zm-2 26h2v2h-2z"/>
<path d="M1185 675h2v2h-2zm-4 1h2v2h-2zm0 8h2v2h-2zm4 4h2v2h-2zm-1 6h2v2h-2zm-1 2h2v2h-2zm3 3h2v2h-2zm-1 2h2v2h-2zm-3 1h2v2h-2zm3 4h2v2h-2zm-5 3h2v2h-2zm6 10h2v2h-2zm-3 1h2v2h-2zm2 0h2v2h-2zm1 1h2v2h-2zm-3 2h2v2h-2zm0 2h2v2h-2zm2 0h2v2h-2zm-3 6h2v2h-2zm1 0h2v2h-2zm1 2h2v2h-2zm-4 2h2v2h-2zm4 1h2v2h-2zm-2 2h2v2h-2zm-2 1h2v2h-2zm2 2h2v2h-2zm1 0h2v2h-2zm-3 3h2v2h-2zm3 0h2v2h-2zm-2 1h2v2h-2zm0 9h2v2h-2zm1 0h2v2h-2zm3 2h2v2h-2zm-1 6h2v2h-2zm0 2h2v2h-2zm1 3h2v2h-2zm-1 18h2v2h-2zm-4 5h2v2h-2zm3 2h2v2h-2zm-1 17h2v2h-2z"/>
<path d="M1184 660h2v2h-2zm-2 4h2v2h-2zm1 10h2v2h-2zm1 12h2v2h-2zm0 1h2v2h-2zm-3 1h2v2h-2zm-1 1h2v2h-2zm3 1h2v2h-2zm0 1h2v2h-2zm2 12h2v2h-2zm-3 3h2v2h-2zm1 0h2v2h-2zm1 1h2v2h-2zm2 4h2v2h-2zm-3 1h2v2h-2zm1 2h2v2h-2zm-4 3h2v2h-2zm0 4h2v2h-2zm4 0h2v2h-2zm1 1h2v2h-2zm-3 1h2v2h-2zm2 2h2v2h-2zm-3 5h2v2h-2zm2 0h2v2h-2zm-2 2h2v2h-2zm4 1h2v2h-2zm-1 1h2v2h-2zm2 1h2v2h-2zm-5 1h2v2h-2zm2 1h2v2h-2zm0 1h2v2h-2zm-3 1h2v2h-2zm2 0h2v2h-2zm1 0h2v2h-2zm3 1h2v2h-2zm-1 13h2v2h-2zm-3 2h2v2h-2zm4 3h2v2h-2zm-4 10h2v2h-2zm0 32h2v2h-2z"/>
<path d="M1182 666h2v2h-2zm3 0h2v2h-2zm-5 6h2v2h-2zm3 0h2v2h-2zm2 0h2v2h-2zm1 1h2v2h-2zm-2 4h2v2h-2zm-1 6h2v2h-2zm3 4h2v2h-2zm-6 1h2v2h-2zm0 1h2v2h-2zm0 7h2v2h-2zm5 4h2v2h-2zm-4 2h2v2h-2zm0 1h2v2h-2zm4 4h2v2h-2zm-1 2h2v2h-2zm-2 1h2v2h-2zm1 0h2v2h-2zm-1 1h2v2h-2zm0 4h2v2h-2zm1 2h2v2h-2zm1 0h2v2h-2zm2 1h2v2h-2zm-5 2h2v2h-2zm4 0h2v2h-2zm0 2h2v2h-2zm1 1h2v2h-2zm-5 6h2v2h-2zm2 1h2v2h-2zm0 7h2v2h-2zm2 0h2v2h-2zm-4 2h2v2h-2zm3 1h2v2h-2zm-3 2h2v2h-2zm4 2h2v2h-2zm-5 1h2v2h-2zm2 7h2v2h-2zm-1 11h2v2h-2zm1 5h2v2h-2z"/>
<path d="M1186 679h2v2h-2zm-6 2h2v2h-2zm6 9h2v2h-2zm-3 1h2v2h-2zm0 0h2v2h-2zm0 2h2v2h-2zm-1 3h2v2h-2zm1 1h2v2h-2zm2 8h2v2h-2zm1 0h2v2h-2zm-3 4h2v2h-2zm3 0h2v2h-2zm-6 2h2v2h-2zm0 1h2v2h-2zm5 1h2v2h-2zm-3 3h2v2h-2zm-1 1h2v2h-2zm-1 3h2v2h-2zm4 1h2v2h-2zm1 0h2v2h-2zm-3 1h2v2h-2zm1 0h2v2h-2zm-2 2h2v2h-2zm1 2h2v2h-2zm0 1h2v2h-2zm1 0h2v2h-2zm1 3h2v2h-2zm-2 2h2v2h-2zm2 1h2v2h-2zm-1 9h2v2h-2zm3 3h2v2h-2zm-2 4h2v2h-2zm-4 2h2v2h-2zm6 1h2v2h-2zm0 1h2v2h-2zm-4 14h2v2h-2zm3 9h2v2h-2zm0 7h2v2h-2zm-1 1h2v2h-2zm-4 3h2v2h-2z"/>
<path d="M1244 557h2v2h-2zm-1 10h2v2h-2zm-1 2h2v2h-2zm3 2h2v2h-2zm-2 1h2v2h-2zm3 6h2v2h-2zm-2 2h2v2h-2zm3 6h2v2h-2zm-4 2h2v2h-2zm-4 2h2v2h-2zm6 1h2v2h-2zm0 0h2v2h-2zm-5 3h2v2h-2zm4 8h2v2h-2zm1 0h2v2h-2zm1 3h2v2h-2zm-3 2h2v2h-2zm-4 2h2v2h-2zm7 1h2v2h-2zm-5 1h2v2h-2zm4 0h2v2h-2zm-5 1h2v2h-2zm6 0h2v2h-2zm-3 1h2v2h-2zm-3 3h2v2h-2zm6 0h2v2h-2zm-2 1h2v2h-2zm-5 1h2v2h-2zm7 3h2v2h-2zm0 2h2v2h-2zm-2 1h2v2h-2zm1 1h2v2h-2zm-5 4h2v2h-2zm4 2h2v2h-2zm1 3h2v2h-2zm0 3h2v2h-2zm-6 1h2v2h-2zm2 1h2v2h-2zm4 38h2v2h-2zm1 16h2v2h-2z"/>
<path d="M1243 557h2v2h-2zm4 18h2v2h-2zm-2 2h2v2h-2zm-2 7h2v2h-2zm-4 1h2v2h-2zm5 0h2v2h-2zm-5 9h2v2h-2zm4 0h2v2h-2zm-3 2h2v2h-2zm7 0h2v2h-2zm-7 2h2v2h-2zm6 1h2v2h-2zm1 0h2v2h-2zm-4 1h2v2h-2zm4 1h2v2h-2zm0 2h2v2h-2zm-4 2h2v2h-2zm-3 1h2v2h-2zm2 3h2v2h-2zm3 0h2v2h-2zm2 6h2v2h-2zm-8 2h2v2h-2zm2 0h2v2h-2zm3 1h2v2h-2zm3 2h2v2h-2zm-5 5h2v2h-2zm3 0h2v2h-2zm2 0h2v2h-2zm-5 4h2v2h-2zm2 1h2v2h-2zm-2 1h2v2h-2zm4 0h2v2h-2zm-6 3h2v2h-2zm2 1h2v2h-2zm3 3h2v2h-2zm-4 11h2v2h-2zm5 1h2v2h-2zm-2 9h2v2h-2zm-5 23h2v2h-2zm1 2h2v2h-2z"/>
<path d="M1241 554h2v2h-2zm0 14h2v2h-2zm-1 7h2v2h-2zm6 1h2v2h-2zm-5 1h2v2h-2zm-1 1h2v2h-2zm-1 10h2v2h-2zm6 1h2v2h-2zm-5 2h2v2h-2zm1 3h2v2h-2zm3 1h2v2h-2zm3 0h2v2h-2zm-2 1h2v2h-2zm0 0h2v2h-2zm-3 1h2v2h-2zm-3 7h2v2h-2zm1 1h2v2h-2zm4 4h2v2h-2zm-1 1h2v2h-2zm0 1h2v2h-2zm0 1h2v2h-2zm0 2h2v2h-2zm-3 7h2v2h-2zm2 2h2v2h-2zm1 0h2v2h-2zm-3 1h2v2h-2zm1 5h2v2h-2zm5 2h2v2h-2zm-2 2h2v2h-2zm-2 2h2v2h-2zm-2 1h2v2h-2zm0 0h2v2h-2zm5 2h2v2h-2zm-3 5h2v2h-2zm-3 15h2v2h-2zm7 4h2v2h-2zm-3 3h2v2h-2zm4 10h2v2h-2zm-5 3h2v2h-2zm2 1h2v2h-2z"/>
<path d="M1241 571h2v2h-2zm-1 4h2v2h-2zm1 3h2v2h-2zm0 1h2v2h-2zm-1 4h2v2h-2zm5 5h2v2h-2zm-1 1h2v2h-2zm1 0h2v2h-2zm-2 1h2v2h-2zm-1 2h2v2h-2zm4 1h2v2h-2zm-7 4h2v2h-2zm6 7h2v2h-2zm-1 2h2v2h-2zm-1 1h2v2h-2zm1 0h2v2h-2zm-4 2h2v2h-2zm1 0h2v2h-2zm-1 3h2v2h-2zm6 1h2v2h-2zm-7 1h2v2h-2zm0 1h2v2h-2zm7 0h2v2h-2zm1 0h2v2h-2zm-3 3h2v2h-2zm1 0h2v2h-2zm-1 1h2v2h-2zm1 0h2v2h-2zm0 0h2v2h-2zm-3 6h2v2h-2zm3 3h2v2h-2zm2 0h2v2h-2zm-2 4h2v2h-2zm2 0h2v2h-2zm-5 1h2v2h-2zm4 2h2v2h-2zm-6 2h2v2h-2zm6 3h2v2h-2zm0 2h2v2h-2zm-6 8h2v2h-2z"/>
<path d="M1241 570h2v2h-2zm-1 3h2v2h-2zm7 3h2v2h-2zm-5 2h2v2h-2zm-1 4h2v2h-2zm2 3h2v2h-2zm-2 3h2v2h-2zm3 0h2v2h-2zm0 4h2v2h-2zm-1 3h2v2h-2zm-2 1h2v2h-2zm-2 1h2v2h-2zm1 0h2v2h-2zm2 0h2v2h-2zm3 0h2v2h-2zm-1 1h2v2h-2zm0 0h2v2h-2zm-5 1h2v2h-2zm6 1h2v2h-2zm0 2h2v2h-2zm-5 5h2v2h-2zm0 1h2v2h-2zm4 0h2v2h-2zm2 0h2v2h-2zm-6 1h2v2h-2zm-1 1h2v2h-2zm5 2h2v2h-2zm-1 3h2v2h-2zm-2 1h2v2h-2zm-1 5h2v2h-2zm3 0h2v2h-2zm1 6h2v2h-2zm0 1h2v2h-2zm1 0h2v2h-2zm-3 1h2v2h-2zm-2 2h2v2h-2zm4 3h2v2h-2zm-5 9h2v2h-2zm0 1h2v2h-2zm5 41h2v2h-2z"/>
<path d="M1244 564h2v2h-2zm0 7h2v2h-2zm1 1h2v2h-2zm2 10h2v2h-2zm-6 2h2v2h-2zm5 1h2v2h-2zm-3 1h2v2h-2zm3 0h2v2h-2zm-1 2h2v2h-2zm1 2h2v2h-2zm0 1h2v2h-2zm-1 2h2v2h-2zm-2 5h2v2h-2zm-2 1h2v2h-2zm5 4h2v2h-2zm1 1h2v2h-2zm-6 1h2v2h-2zm6 2h2v2h-2zm-2 2h2v2h-2zm0 1h2v2h-2zm-1 2h2v2h-2zm-5 1h2v2h-2zm1 4h2v2h-2zm7 0h2v2h-2zm-1 1h2v2h-2zm-7 1h2v2h-2zm6 3h2v2h-2zm1 1h2v2h-2zm-4 3h2v2h-2zm-1 1h2v2h-2zm4 2h2v2h-2zm-5 2h2v2h-2zm5 0h2v2h-2zm-6 6h2v2h-2zm1 0h2v2h-2zm1 7h2v2h-2zm5 4h2v2h-2zm-4 2h2v2h-2zm3 0h2v2h-2zm2 3h2v2h-2z"/>
<path d="M1242 568h2v2h-2zm1 1h2v2h-2zm-3 5h2v2h-2zm1 0h2v2h-2zm5 2h2v2h-2zm-5 1h2v2h-2zm0 2h2v2h-2zm4 5h2v2h-2zm-4 4h2v2h-2zm1 1h2v2h-2zm0 1h2v2h-2zm3 1h2v2h-2zm1 12h2v2h-2zm-6 3h2v2h-2zm0 0h2v2h-2zm4 0h2v2h-2zm-3 1h2v2h-2zm0 1h2v2h-2zm1 0h2v2h-2zm1 0h2v2h-2zm4 3h2v2h-2zm-1 2h2v2h-2zm-1 1h2v2h-2zm1 0h2v2h-2zm-5 6h2v2h-2zm3 2h2v2h-2zm2 0h2v2h-2zm-4 1h2v2h-2zm2 1h2v2h-2zm2 0h2v2h-2zm-3 2h2v2h-2zm-1 11h2v2h-2zm3 1h2v2h-2zm2 2h2v2h-2zm-6 1h2v2h-2zm6 0h2v2h-2zm-4 5h2v2h-2zm-1 7h2v2h-2zm3 27h2v2h-2zm-6 11h2v2h-2z"/>
<path d="M1240 556h2v2h-2zm4 19h2v2h-2zm-3 5h2v2h-2zm1 1h2v2h-2zm3 3h2v2h-2zm-2 1h2v2h-2zm0 2h2v2h-2zm0 3h2v2h-2zm1 0h2v2h-2zm2 2h2v2h-2zm-5 1h2v2h-2zm2 1h2v2h-2zm-4 6h2v2h-2zm7 2h2v2h-2zm-6 2h2v2h-2zm1 1h2v2h-2zm2 1h2v2h-2zm1 0h2v2h-2zm2 0h2v2h-2zm-7 2h2v2h-2zm7 0h2v2h-2zm-6 1h2v2h-2zm1 1h2v2h-2zm1 0h2v2h-2zm4 2h2v2h-2zm-5 4h2v2h-2zm-1 5h2v2h-2zm6 3h2v2h-2zm-4 3h2v2h-2zm2 1h2v2h-2zm2 3h2v2h-2zm-1 3h2v2h-2zm-2 1h2v2h-2zm-4 2h2v2h-2zm1 6h2v2h-2zm4 0h2v2h-2zm1 0h2v2h-2zm2 2h2v2h-2zm-2 15h2v2h-2zm-5 14h2v2h-2z"/>
<path d="M1244 558h2v2h-2zm-2 2h2v2h-2zm-3 7h2v2h-2zm3 2h2v2h-2zm3 1h2v2h-2zm-6 1h2v2h-2zm3 3h2v2h-2zm0 12h2v2h-2zm1 4h2v2h-2zm-2 6h2v2h-2zm-1 1h2v2h-2zm4 6h2v2h-2zm1 1h2v2h-2zm-3 1h2v2h-2zm0 3h2v2h-2zm4 0h2v2h-2zm-6 1h2v2h-2zm6 0h2v2h-2zm-7 6h2v2h-2zm6 0h2v2h-2zm-4 1h2v2h-2zm5 1h2v2h-2zm-4 1h2v2h-2zm4 0h2v2h-2zm-7 2h2v2h-2zm3 1h2v2h-2zm1 2h2v2h-2zm0 2h2v2h-2zm1 1h2v2h-2zm-3 1h2v2h-2zm-1 1h2v2h-2zm5 1h2v2h-2zm-1 6h2v2h-2zm-3 3h2v2h-2zm1 0h2v2h-2zm5 0h2v2h-2zm-1 3h2v2h-2zm-3 4h2v2h-2zm2 11h2v2h-2zm2 2h2v2h-2z"/>
<path d="M1244 553h2v2h-2zm-5 12h2v2h-2zm7 9h2v2h-2zm-5 2h2v2h-2zm0 6h2v2h-2zm0 3h2v2h-2zm2 1h2v2h-2zm-3 2h2v2h-2zm-1 2h2v2h-2zm4 5h2v2h-2zm2 0h2v2h-2zm-6 3h2v2h-2zm7 3h2v2h-2zm-5 2h2v2h-2zm-2 1h2v2h-2zm4 0h2v2h-2zm0 6h2v2h-2zm-4 1h2v2h-2zm6 0h2v2h-2zm-3 1h2v2h-2zm3 2h2v2h-2zm-3 1h2v2h-2zm3 0h2v2h-2zm2 0h2v2h-2zm-8 2h2v2h-2zm0 2h2v2h-2zm7 0h2v2h-2zm1 1h2v2h-2zm-4 6h2v2h-2zm4 1h2v2h-2zm-1 1h2v2h-2zm-4 2h2v2h-2zm-3 1h2v2h-2zm3 1h2v2h-2zm0 4h2v2h-2zm1 9h2v2h-2zm-2 10h2v2h-2zm4 0h2v2h-2zm-6 4h2v2h-2zm0 7h2v2h-2z"/>
<path d="M1244 582h2v2h-2zm1 2h2v2h-2zm-1 4h2v2h-2zm3 0h2v2h-2zm-2 1h2v2h-2zm1 3h2v2h-2zm0 5h2v2h-2zm-6 1h2v2h-2zm0 4h2v2h-2zm6 0h2v2h-2zm1 1h2v2h-2zm0 0h2v2h-2zm-8 3h2v2h-2zm8 0h2v2h-2zm-6 1h2v2h-2zm1 1h2v2h-2zm4 0h2v2h-2zm0 3h2v2h-2zm-6 3h2v2h-2zm2 2h2v2h-2zm0 4h2v2h-2zm3 1h2v2h-2zm-3 1h2v2h-2zm4 6h2v2h-2zm-7 1h2v2h-2zm4 2h2v2h-2zm-3 1h2v2h-2zm0 1h2v2h-2zm3 1h2v2h-2zm3 4h2v2h-2zm0 1h2v2h-2zm-6 1h2v2h-2zm1 0h2v2h-2zm5 1h2v2h-2zm-6 6h2v2h-2zm3 2h2v2h-2zm3 2h2v2h-2zm-3 2h2v2h-2zm0 23h2v2h-2zm0 9h2v2h-2z"/>
<path d="M1242 558h2v2h-2zm3 10h2v2h-2zm0 3h2v2h-2zm-4 2h2v2h-2zm5 5h2v2h-2zm-4 2h2v2h-2zm2 3h2v2h-2zm-5 3h2v2h-2zm1 0h2v2h-2zm1 2h2v2h-2zm4 2h2v2h-2zm-5 4h2v2h-2zm2 4h2v2h-2zm-2 1h2v2h-2zm5 0h2v2h-2zm-4 1h2v2h-2zm2 2h2v2h-2zm-1 1h2v2h-2zm0 1h2v2h-2zm3 4h2v2h-2zm-3 2h2v2h-2zm0 1h2v2h-2zm-2 1h2v2h-2zm-1 1h2v2h-2zm7 2h2v2h-2zm-4 1h2v2h-2zm-2 3h2v2h-2zm-1 1h2v2h-2zm3 4h2v2h-2zm-1 1h2v2h-2zm4 1h2v2h-2zm-6 1h2v2h-2zm6 0h2v2h-2zm-1 2h2v2h-2zm-3 2h2v2h-2zm2 2h2v2h-2zm1 6h2v2h-2zm0 3h2v2h-2zm-5 4h2v2h-2zm5 21h2v2h-2z"/>
<path d="M1244 568h2v2h-2zm-1 1h2v2h-2zm4 0h2v2h-2zm-6 2h2v2h-2zm3 1h2v2h-2zm0 6h2v2h-2zm0 3h2v2h-2zm-3 3h2v2h-2zm4 1h2v2h-2zm1 4h2v2h-2zm-7 2h2v2h-2zm2 0h2v2h-2zm1 1h2v2h-2zm1 1h2v2h-2zm-4 1h2v2h-2zm1 0h2v2h-2zm2 4h2v2h-2zm2 0h2v2h-2zm2 1h2v2h-2zm-5 3h2v2h-2zm-2 8h2v2h-2zm4 0h2v2h-2zm-4 2h2v2h-2zm5 0h2v2h-2zm0 0h2v2h-2zm0 0h2v2h-2zm-5 1h2v2h-2zm6 0h2v2h-2zm-5 1h2v2h-2zm4 6h2v2h-2zm2 3h2v2h-2zm1 1h2v2h-2zm-4 3h2v2h-2zm-2 1h2v2h-2zm0 8h2v2h-2zm-1 6h2v2h-2zm5 1h2v2h-2zm2 0h2v2h-2zm-2 4h2v2h-2zm1 16h2v2h-2z"/>
<path d="M1239 567h2v2h-2zm4 9h2v2h-2zm-2 1h2v2h-2zm-1 6h2v2h-2zm4 7h2v2h-2zm-2 3h2v2h-2zm-3 4h2v2h-2zm6 3h2v2h-2zm-5 4h2v2h-2zm0 0h2v2h-2zm3 0h2v2h-2zm2 3h2v2h-2zm-3 1h2v2h-2zm-2 2h2v2h-2zm1 1h2v2h-2zm3 0h2v2h-2zm1 2h2v2h-2zm-4 3h2v2h-2zm2 0h2v2h-2zm2 1h2v2h-2zm-3 1h2v2h-2zm2 2h2v2h-2zm0 1h2v2h-2zm1 1h2v2h-2zm1 0h2v2h-2zm-5 1h2v2h-2zm1 0h2v2h-2zm1 2h2v2h-2zm2 2h2v2h-2zm-1 1h2v2h-2zm1 1h2v2h-2zm-5 2h2v2h-2zm1 3h2v2h-2zm-1 2h2v2h-2zm3 1h2v2h-2zm-1 1h2v2h-2zm1 8h2v2h-2zm4 0h2v2h-2zm-3 6h2v2h-2zm-5 9h2v2h-2z"/>
<path d="M1242 569h2v2h-2zm-2 1h2v2h-2zm-1 3h2v2h-2zm1 1h2v2h-2zm2 14h2v2h-2zm1 0h2v2h-2zm0 4h2v2h-2zm4 3h2v2h-2zm-4 1h2v2h-2zm-3 2h2v2h-2zm1 1h2v2h-2zm-1 1h2v2h-2zm3 0h2v2h-2zm-3 2h2v2h-2zm0 0h2v2h-2zm5 0h2v2h-2zm-5 1h2v2h-2zm6 2h2v2h-2zm-1 1h2v2h-2zm-5 1h2v2h-2zm0 1h2v2h-2zm0 1h2v2h-2zm2 1h2v2h-2zm0 3h2v2h-2zm5 1h2v2h-2zm-6 1h2v2h-2zm4 2h2v2h-2zm-4 1h2v2h-2zm-2 1h2v2h-2zm7 4h2v2h-2zm-2 4h2v2h-2zm-2 2h2v2h-2zm1 2h2v2h-2zm-1 5h2v2h-2zm4 1h2v2h-2zm-2 6h2v2h-2zm-5 1h2v2h-2zm3 3h2v2h-2zm-1 1h2v2h-2zm3 3h2v2h-2z"/>
<path d="M1245 552h2v2h-2zm-1 7h2v2h-2zm3 14h2v2h-2zm-2 2h2v2h-2zm-2 9h2v2h-2zm-2 6h2v2h-2zm4 3h2v2h-2zm-4 4h2v2h-2zm-2 1h2v2h-2zm5 3h2v2h-2zm-4 1h2v2h-2zm1 0h2v2h-2zm1 1h2v2h-2zm3 0h2v2h-2zm-2 3h2v2h-2zm-4 4h2v2h-2zm5 1h2v2h-2zm2 0h2v2h-2zm-7 1h2v2h-2zm2 2h2v2h-2zm0 0h2v2h-2zm1 0h2v2h-2zm3 0h2v2h-2zm-4 2h2v2h-2zm5 1h2v2h-2zm-2 1h2v2h-2zm-1 1h2v2h-2zm3 6h2v2h-2zm0 0h2v2h-2zm-1 3h2v2h-2zm-1 5h2v2h-2zm-5 2h2v2h-2zm4 0h2v2h-2zm1 0h2v2h-2zm-3 1h2v2h-2zm3 3h2v2h-2zm0 8h2v2h-2zm-2 4h2v2h-2zm4 10h2v2h-2zm-1 33h2v2h-2z"/>
<path d="M1408 598h2v2h-2zm1 10h2v2h-2zm5 1h2v2h-2zm-2 2h2v2h-2zm1 1h2v2h-2zm-1 2h2v2h-2zm-2 8h2v2h-2zm2 1h2v2h-2zm0 5h2v2h-2zm2 1h2v2h-2zm-4 1h2v2h-2zm3 8h2v2h-2zm-4 3h2v2h-2zm2 5h2v2h-2zm0 1h2v2h-2zm0 1h2v2h-2zm-2 1h2v2h-2zm0 4h2v2h-2zm3 1h2v2h-2zm-3 4h2v2h-2zm-1 1h2v2h-2zm-1 1h2v2h-2zm5 0h2v2h-2zm0 2h2v2h-2zm-4 1h2v2h-2zm0 1h2v2h-2zm0 1h2v2h-2zm3 1h2v2h-2zm1 1h2v2h-2zm2 12h2v2h-2zm-3 9h2v2h-2zm1 1h2v2h-2zm2 9h2v2h-2zm-4 2h2v2h-2zm0 3h2v2h-2zm4 0h2v2h-2zm-6 6h2v2h-2zm5 1h2v2h-2zm-2 2h2v2h-2zm-1 17h2v2h-2z"/>
<path d="M1408 570h2v2h-2zm4 2h2v2h-2zm-4 3h2v2h-2zm5 13h2v2h-2zm-4 6h2v2h-2zm-1 19h2v2h-2zm5 0h2v2h-2zm-1 2h2v2h-2zm2 3h2v2h-2zm-6 3h2v2h-2zm2 4h2v2h-2zm0 1h2v2h-2zm-1 12h2v2h-2zm4 0h2v2h-2zm-2 6h2v2h-2zm-3 2h2v2h-2zm6 1h2v2h-2zm-3 1h2v2h-2zm1 0h2v2h-2zm0 0h2v2h-2zm1 0h2v2h-2zm1 1h2v2h-2zm-1 3h2v2h-2zm1 3h2v2h-2zm-6 2h2v2h-2zm0 1h2v2h-2zm1 4h2v2h-2zm4 3h2v2h-2zm-5 10h2v2h-2zm4 0h2v2h-2zm0 7h2v2h-2zm2 2h2v2h-2zm-3 7h2v2h-2zm-3 2h2v2h-2zm0 2h2v2h-2zm4 2h2v2h-2zm-1 5h2v2h-2zm3 3h2v2h-2zm-3 7h2v2h-2zm2 10h2v2h-2z"/>
<path d="M1413 594h2v2h-2zm-1 4h2v2h-2zm-1 3h2v2h-2zm2 4h2v2h-2zm-3 5h2v2h-2zm2 0h2v2h-2zm-3 1h2v2h-2zm2 3h2v2h-2zm-3 10h2v2h-2zm2 4h2v2h-2zm-2 5h2v2h-2zm4 0h2v2h-2zm1 1h2v2h-2zm1 3h2v2h-2zm-2 2h2v2h-2zm1 2h2v2h-2zm-3 1h2v2h-2zm2 2h2v2h-2zm-3 2h2v2h-2zm1 3h2v2h-2zm0 3h2v2h-2zm0 2h2v2h-2zm3 1h2v2h-2zm-2 1h2v2h-2zm2 1h2v2h-2zm-3 3h2v2h-2zm1 2h2v2h-2zm1 7h2v2h-2zm0 2h2v2h-2zm0 7h2v2h-2zm-4 2h2v2h-2zm5 3h2v2h-2zm-5 1h2v2h-2zm1 2h2v2h-2zm-1 1h2v2h-2zm5 0h2v2h-2zm-2 1h2v2h-2zm-2 1h2v2h-2zm1 3h2v2h-2zm-2 18h2v2h-2z"/>
<path d="M1412 554h2v2h-2zm-1 40h2v2h-2zm-2 5h2v2h-2zm-1 7h2v2h-2zm3 10h2v2h-2zm2 2h2v2h-2zm-2 2h2v2h-2zm2 0h2v2h-2zm-4 4h2v2h-2zm0 2h2v2h-2zm2 1h2v2h-2zm1 3h2v2h-2zm1 0h2v2h-2zm-4 2h2v2h-2zm5 1h2v2h-2zm-2 1h2v2h-2zm-2 4h2v2h-2zm3 2h2v2h-2zm0 6h2v2h-2zm-5 8h2v2h-2zm5 1h2v2h-2zm-5 2h2v2h-2zm4 4h2v2h-2zm-4 4h2v2h-2zm6 2h2v2h-2zm-6 1h2v2h-2zm5 5h2v2h-2zm-4 1h2v2h-2zm1 6h2v2h-2zm0 0h2v2h-2zm1 3h2v2h-2zm1 0h2v2h-2zm-2 2h2v2h-2zm4 4h2v2h-2zm-5 5h2v2h-2zm1 0h2v2h-2zm2 3h2v2h-2zm-3 12h2v2h-2zm2 7h2v2h-2zm3 23h2v2h-2z"/>
<path d="M1409 573h2v2h-2zm-1 11h2v2h-2zm0 32h2v2h-2zm5 2h2v2h-2zm1 1h2v2h-2zm0 2h2v2h-2zm-1 1h2v2h-2zm-3 4h2v2h-2zm4 3h2v2h-2zm-1 1h2v2h-2zm-2 6h2v2h-2zm-3 2h2v2h-2zm1 2h2v2h-2zm2 3h2v2h-2zm3 2h2v2h-2zm-4 3h2v2h-2zm4 6h2v2h-2zm-3 1h2v2h-2zm-2 3h2v2h-2zm4 0h2v2h-2zm1 0h2v2h-2zm-6 8h2v2h-2zm1 1h2v2h-2zm-1 6h2v2h-2zm2 1h2v2h-2zm1 0h2v2h-2zm-1 3h2v2h-2zm1 2h2v2h-2zm-2 4h2v2h-2zm2 3h2v2h-2zm0 1h2v2h-2zm-2 5h2v2h-2zm-1 1h2v2h-2zm3 0h2v2h-2zm-4 2h2v2h-2zm3 4h2v2h-2zm-3 3h2v2h-2zm7 1h2v2h-2zm-6 2h2v2h-2zm2 10h2v2h-2z"/>
<path d="M1407 558h2v2h-2zm5 2h2v2h-2zm2 13h2v2h-2zm-1 2h2v2h-2zm1 16h2v2h-2zm-3 9h2v2h-2zm2 1h2v2h-2zm-4 2h2v2h-2zm4 24h2v2h-2zm1 5h2v2h-2zm-6 3h2v2h-2zm5 4h2v2h-2zm-6 2h2v2h-2zm4 0h2v2h-2zm2 0h2v2h-2zm-5 1h2v2h-2zm4 0h2v2h-2zm-3 4h2v2h-2zm2 0h2v2h-2zm2 3h2v2h-2zm0 1h2v2h-2zm-4 4h2v2h-2zm2 1h2v2h-2zm-2 6h2v2h-2zm2 0h2v2h-2zm2 2h2v2h-2zm-5 1h2v2h-2zm4 4h2v2h-2zm-4 5h2v2h-2zm-1 6h2v2h-2zm1 1h2v2h-2zm1 0h2v2h-2zm4 1h2v2h-2zm0 4h2v2h-2zm-4 3h2v2h-2zm3 3h2v2h-2zm2 11h2v2h-2zm-7 17h2v2h-2zm2 2h2v2h-2zm5 8h2v2h-2z"/>
<path d="M1412 578h2v2h-2zm-4 8h2v2h-2zm1 11h2v2h-2zm0 4h2v2h-2zm-1 4h2v2h-2zm5 1h2v2h-2zm-5 8h2v2h-2zm4 4h2v2h-2zm-1 3h2v2h-2zm0 1h2v2h-2zm-2 1h2v2h-2zm1 2h2v2h-2zm1 0h2v2h-2zm-4 4h2v2h-2zm7 1h2v2h-2zm0 1h2v2h-2zm-2 7h2v2h-2zm1 1h2v2h-2zm-5 5h2v2h-2zm5 0h2v2h-2zm0 0h2v2h-2zm-6 1h2v2h-2zm5 1h2v2h-2zm0 1h2v2h-2zm1 2h2v2h-2zm-4 6h2v2h-2zm1 5h2v2h-2zm3 0h2v2h-2zm-1 7h2v2h-2zm0 2h2v2h-2zm-2 1h2v2h-2zm3 5h2v2h-2zm1 5h2v2h-2zm-1 1h2v2h-2zm-6 7h2v2h-2zm5 2h2v2h-2zm-1 6h2v2h-2zm-3 1h2v2h-2zm4 6h2v2h-2zm-1 3h2v2h-2z"/>
<path d="M1413 605h2v2h-2zm1 9h2v2h-2zm0 1h2v2h-2zm-7 2h2v2h-2zm1 4h2v2h-2zm2 3h2v2h-2zm-2 6h2v2h-2zm6 2h2v2h-2zm-6 4h2v2h-2zm-1 2h2v2h-2zm1 0h2v2h-2zm3 0h2v2h-2zm-1 1h2v2h-2zm3 0h2v2h-2zm-3 1h2v2h-2zm-2 1h2v2h-2zm0 5h2v2h-2zm2 1h2v2h-2zm1 6h2v2h-2zm0 3h2v2h-2zm-3 1h2v2h-2zm6 1h2v2h-2zm-2 2h2v2h-2zm-1 3h2v2h-2zm-3 6h2v2h-2zm2 1h2v2h-2zm-2 1h2v2h-2zm0 2h2v2h-2zm3 2h2v2h-2zm1 0h2v2h-2zm2 6h2v2h-2zm-2 1h2v2h-2zm2 1h2v2h-2zm-6 1h2v2h-2zm6 0h2v2h-2zm-4 9h2v2h-2zm-1 6h2v2h-2zm3 0h2v2h-2zm-3 9h2v2h-2zm2 19h2v2h-2z"/>
<path d="M1408 555h2v2h-2zm4 26h2v2h-2zm-4 6h2v2h-2zm-1 1h2v2h-2zm7 10h2v2h-2zm-2 1h2v2h-2zm-3 3h2v2h-2zm3 1h2v2h-2zm2 0h2v2h-2zm-2 2h2v2h-2zm2 4h2v2h-2zm-4 10h2v2h-2zm-3 1h2v2h-2zm5 2h2v2h-2zm0 12h2v2h-2zm1 0h2v2h-2zm-4 3h2v2h-2zm-1 3h2v2h-2zm6 3h2v2h-2zm-5 1h2v2h-2zm5 0h2v2h-2zm-3 1h2v2h-2zm3 3h2v2h-2zm0 2h2v2h-2zm-5 4h2v2h-2zm2 4h2v2h-2zm1 4h2v2h-2zm1 5h2v2h-2zm0 2h2v2h-2zm1 5h2v2h-2zm-3 4h2v2h-2zm1 0h2v2h-2zm-3 4h2v2h-2zm1 2h2v2h-2zm-1 4h2v2h-2zm3 20h2v2h-2zm-1 6h2v2h-2zm-1 5h2v2h-2zm0 7h2v2h-2zm1 2h2v2h-2z"/>
<path d="M1414 577h2v2h-2zm0 32h2v2h-2zm-5 12h2v2h-2zm0 2h2v2h-2zm2 0h2v2h-2zm-2 2h2v2h-2zm4 2h2v2h-2zm0 2h2v2h-2zm-2 3h2v2h-2zm2 0h2v2h-2zm-2 2h2v2h-2zm2 1h2v2h-2zm-1 1h2v2h-2zm0 3h2v2h-2zm-4 3h2v2h-2zm-1 3h2v2h-2zm5 0h2v2h-2zm-1 1h2v2h-2zm1 2h2v2h-2zm0 1h2v2h-2zm-2 1h2v2h-2zm-2 3h2v2h-2zm1 3h2v2h-2zm1 2h2v2h-2zm-1 1h2v2h-2zm4 12h2v2h-2zm-2 7h2v2h-2zm-4 5h2v2h-2zm3 0h2v2h-2zm3 3h2v2h-2zm-1 1h2v2h-2zm1 1h2v2h-2zm0 4h2v2h-2zm0 1h2v2h-2zm-3 3h2v2h-2zm1 7h2v2h-2zm1 6h2v2h-2zm-4 8h2v2h-2zm0 17h2v2h-2zm6 4h2v2h-2z"/>
<path d="M1413 579h2v2h-2zm-6 12h2v2h-2zm0 15h2v2h-2zm7 0h2v2h-2zm-7 1h2v2h-2zm1 0h2v2h-2zm1 5h2v2h-2zm1 0h2v2h-2zm-3 17h2v2h-2zm2 1h2v2h-2zm5 5h2v2h-2zm0 0h2v2h-2zm-6 9h2v2h-2zm5 0h2v2h-2zm-5 7h2v2h-2zm2 2h2v2h-2zm-1 1h2v2h-2zm3 0h2v2h-2zm-3 2h2v2h-2zm3 1h2v2h-2zm-4 3h2v2h-2zm6 4h2v2h-2zm-4 2h2v2h-2zm4 1h2v2h-2zm-5 3h2v2h-2zm-2 1h2v2h-2zm3 0h2v2h-2zm1 5h2v2h-2zm-2 3h2v2h-2zm1 0h2v2h-2zm-2 1h2v2h-2zm1 1h2v2h-2zm5 6h2v2h-2zm-2 5h2v2h-2zm-4 2h2v2h-2zm2 1h2v2h-2zm0 3h2v2h-2zm-1 6h2v2h-2zm0 0h2v2h-2zm-2 28h2v2h-2z"/>
<path d="M1413 556h2v2h-2zm-3 19h2v2h-2zm-2 20h2v2h-2zm5 0h2v2h-2zm-1 18h2v2h-2zm-4 4h2v2h-2zm0 4h2v2h-2zm0 1h2v2h-2zm5 0h2v2h-2zm-2 1h2v2h-2zm-4 6h2v2h-2zm2 5h2v2h-2zm4 0h2v2h-2zm-6 3h2v2h-2zm3 2h2v2h-2zm4 5h2v2h-2zm-6 4h2v2h-2zm1 1h2v2h-2zm3 0h2v2h-2zm-3 1h2v2h-2zm3 0h2v2h-2zm-2 1h2v2h-2zm2 0h2v2h-2zm1 10h2v2h-2zm-4 1h2v2h-2zm4 0h2v2h-2zm-2 1h2v2h-2zm-3 8h2v2h-2zm5 2h2v2h-2zm-5 3h2v2h-2zm5 2h2v2h-2zm0 3h2v2h-2zm-4 9h2v2h-2zm4 0h2v2h-2zm-4 1h2v2h-2zm1 2h2v2h-2zm1 0h2v2h-2zm-2 11h2v2h-2zm-1 1h2v2h-2zm4 34h2v2h-2z"/>
<path d="M1413 556h2v2h-2zm0 6h2v2h-2zm-4 13h2v2h-2zm3 22h2v2h-2zm-2 1h2v2h-2zm3 0h2v2h-2zm0 10h2v2h-2zm-3 3h2v2h-2zm3 6h2v2h-2zm-2 1h2v2h-2zm-2 2h2v2h-2zm4 0h2v2h-2zm1 4h2v2h-2zm-2 5h2v2h-2zm1 4h2v2h-2zm0 1h2v2h-2zm-4 3h2v2h-2zm3 1h2v2h-2zm-3 4h2v2h-2zm4 0h2v2h-2zm0 2h2v2h-2zm-4 6h2v2h-2zm4 3h2v2h-2zm1 1h2v2h-2zm-3 3h2v2h-2zm2 5h2v2h-2zm-3 1h2v2h-2zm0 3h2v2h-2zm1 2h2v2h-2zm-3 3h2v2h-2zm0 0h2v2h-2zm-1 3h2v2h-2zm2 4h2v2h-2zm1 3h2v2h-2zm2 0h2v2h-2zm1 0h2v2h-2zm-4 4h2v2h-2zm-1 1h2v2h-2zm1 12h2v2h-2zm4 11h2v2h-2z"/>
<path d="M1410 558h2v2h-2zm0 33h2v2h-2zm1 10h2v2h-2zm1 3h2v2h-2zm-3 6h2v2h-2zm-1 1h2v2h-2zm1 3h2v2h-2zm0 2h2v2h-2zm1 0h2v2h-2zm-1 16h2v2h-2zm2 4h2v2h-2zm-3 4h2v2h-2zm2 6h2v2h-2zm0 0h2v2h-2zm4 1h2v2h-2zm-6 2h2v2h-2zm6 0h2v2h-2zm-6 7h2v2h-2zm-1 1h2v2h-2zm3 2h2v2h-2zm-3 1h2v2h-2zm2 0h2v2h-2zm1 1h2v2h-2zm2 2h2v2h-2zm-3 2h2v2h-2zm0 4h2v2h-2zm3 0h2v2h-2zm-5 3h2v2h-2zm7 0h2v2h-2zm-2 1h2v2h-2zm-4 1h2v2h-2zm4 0h2v2h-2zm-5 1h2v2h-2zm1 4h2v2h-2zm1 4h2v2h-2zm3 3h2v2h-2zm-5 7h2v2h-2zm1 1h2v2h-2zm0 43h2v2h-2zm2 2h2v2h-2z"/>
<path d="M1407 589h2v2h-2zm4 2h2v2h-2zm0 9h2v2h-2zm-2 2h2v2h-2zm1 7h2v2h-2zm0 6h2v2h-2zm2 6h2v2h-2zm-5 1h2v2h-2zm2 1h2v2h-2zm-1 4h2v2h-2zm0 3h2v2h-2zm2 1h2v2h-2zm3 4h2v2h-2zm-6 6h2v2h-2zm4 2h2v2h-2zm-2 1h2v2h-2zm-1 1h2v2h-2zm4 2h2v2h-2zm1 2h2v2h-2zm0 4h2v2h-2zm-1 2h2v2h-2zm1 1h2v2h-2zm-6 1h2v2h-2zm0 2h2v2h-2zm7 0h2v2h-2zm-1 9h2v2h-2zm-1 6h2v2h-2zm0 1h2v2h-2zm1 1h2v2h-2zm1 2h2v2h-2zm-5 1h2v2h-2zm-1 3h2v2h-2zm1 5h2v2h-2zm1 3h2v2h-2zm-2 3h2v2h-2zm2 5h2v2h-2zm1 0h2v2h-2zm-2 7h2v2h-2zm-2 4h2v2h-2zm3 4h2v2h-2z"/>
<path d="M1410 597h2v2h-2zm2 3h2v2h-2zm-3 4h2v2h-2zm5 7h2v2h-2zm-4 2h2v2h-2zm3 0h2v2h-2zm-1 14h2v2h-2zm0 1h2v2h-2zm0 0h2v2h-2zm2 3h2v2h-2zm-6 1h2v2h-2zm0 1h2v2h-2zm0 3h2v2h-2zm5 8h2v2h-2zm-6 5h2v2h-2zm1 0h2v2h-2zm0 0h2v2h-2zm2 3h2v2h-2zm1 1h2v2h-2zm3 0h2v2h-2zm-1 2h2v2h-2zm1 2h2v2h-2zm-1 1h2v2h-2zm-4 1h2v2h-2zm0 8h2v2h-2zm0 1h2v2h-2zm5 8h2v2h-2zm-4 1h2v2h-2zm-2 2h2v2h-2zm3 2h2v2h-2zm0 2h2v2h-2zm1 5h2v2h-2zm-2 1h2v2h-2zm3 3h2v2h-2zm-3 1h2v2h-2zm-1 7h2v2h-2zm2 0h2v2h-2zm1 1h2v2h-2zm-1 17h2v2h-2zm-2 1h2v2h-2z"/>
<path d="M1455 724h2v2h-2zm-3 15h2v2h-2zm6 7h2v2h-2zm-2 3h2v2h-2zm-4 3h2v2h-2zm2 5h2v2h-2zm-2 2h2v2h-2zm5 3h2v2h-2zm-5 2h2v2h-2zm0 3h2v2h-2zm3 1h2v2h-2zm0 0h2v2h-2zm3 0h2v2h-2zm-4 3h2v2h-2zm5 2h2v2h-2zm-4 1h2v2h-2zm0 1h2v2h-2zm2 0h2v2h-2zm-2 1h2v2h-2zm-3 1h2v2h-2zm2 0h2v2h-2zm3 0h2v2h-2zm-1 2h2v2h-2zm3 0h2v2h-2zm-2 1h2v2h-2zm1 0h2v2h-2zm-6 1h2v2h-2zm2 0h2v2h-2zm1 1h2v2h-2zm-3 3h2v2h-2zm1 0h2v2h-2zm4 1h2v2h-2zm0 1h2v2h-2zm1 0h2v2h-2zm-6 1h2v2h-2zm2 0h2v2h-2zm2 2h2v2h-2zm2 0h2v2h-2zm-6 1h2v2h-2zm2 1h2v2h-2z"/>
<path d="M1458 736h2v2h-2zm-5 14h2v2h-2zm5 0h2v2h-2zm-1 1h2v2h-2zm-2 4h2v2h-2zm3 0h2v2h-2zm-1 4h2v2h-2zm-1 1h2v2h-2zm0 0h2v2h-2zm-3 1h2v2h-2zm1 0h2v2h-2zm-1 1h2v2h-2zm2 1h2v2h-2zm-1 4h2v2h-2zm4 0h2v2h-2zm-1 3h2v2h-2zm-2 1h2v2h-2zm4 0h2v2h-2zm0 1h2v2h-2zm-3 1h2v2h-2zm-4 1h2v2h-2zm5 0h2v2h-2zm-4 1h2v2h-2zm4 0h2v2h-2zm-1 1h2v2h-2zm-2 1h2v2h-2zm4 0h2v2h-2zm-4 1h2v2h-2zm2 0h2v2h-2zm1 0h2v2h-2zm-1 2h2v2h-2zm2 0h2v2h-2zm-2 1h2v2h-2zm-2 1h2v2h-2zm3 0h2v2h-2zm-1 1h2v2h-2zm-4 1h2v2h-2zm6 5h2v2h-2zm-4 5h2v2h-2zm3 6h2v2h-2z"/>
<path d="M1454 730h2v2h-2zm0 13h2v2h-2zm0 3h2v2h-2zm5 12h2v2h-2zm-7 1h2v2h-2zm4 0h2v2h-2zm-3 2h2v2h-2zm3 6h2v2h-2zm-4 1h2v2h-2zm1 0h2v2h-2zm4 0h2v2h-2zm-5 2h2v2h-2zm2 0h2v2h-2zm3 0h2v2h-2zm0 1h2v2h-2zm1 1h2v2h-2zm0 1h2v2h-2zm-4 2h2v2h-2zm2 0h2v2h-2zm0 0h2v2h-2zm2 0h2v2h-2zm0 0h2v2h-2zm1 0h2v2h-2zm-7 1h2v2h-2zm3 0h2v2h-2zm2 2h2v2h-2zm-1 1h2v2h-2zm0 1h2v2h-2zm2 0h2v2h-2zm-4 2h2v2h-2zm2 2h2v2h-2zm2 0h2v2h-2zm-5 2h2v2h-2zm2 0h2v2h-2zm-3 2h2v2h-2zm1 1h2v2h-2zm3 0h2v2h-2zm-2 1h2v2h-2zm-1 9h2v2h-2zm3 6h2v2h-2z"/>
<path d="M1452 742h2v2h-2zm7 4h2v2h-2zm-3 9h2v2h-2zm-3 3h2v2h-2zm2 0h2v2h-2zm2 1h2v2h-2zm-5 1h2v2h-2zm4 0h2v2h-2zm-1 1h2v2h-2zm1 3h2v2h-2zm1 0h2v2h-2zm-1 1h2v2h-2zm-4 1h2v2h-2zm5 0h2v2h-2zm-5 1h2v2h-2zm2 2h2v2h-2zm0 0h2v2h-2zm1 0h2v2h-2zm2 0h2v2h-2zm0 0h2v2h-2zm0 0h2v2h-2zm1 0h2v2h-2zm0 0h2v2h-2zm1 2h2v2h-2zm-6 1h2v2h-2zm2 0h2v2h-2zm3 0h2v2h-2zm0 0h2v2h-2zm-4 1h2v2h-2zm0 0h2v2h-2zm2 0h2v2h-2zm1 1h2v2h-2zm-1 1h2v2h-2zm-3 1h2v2h-2zm4 12h2v2h-2zm-2 1h2v2h-2zm2 7h2v2h-2zm-4 1h2v2h-2zm4 1h2v2h-2zm-4 6h2v2h-2z"/>
<path d="M1457 730h2v2h-2zm-4 18h2v2h-2zm2 5h2v2h-2zm-2 3h2v2h-2zm0 1h2v2h-2zm6 0h2v2h-2zm-4 4h2v2h-2zm0 4h2v2h-2zm0 0h2v2h-2zm2 1h2v2h-2zm-5 1h2v2h-2zm2 2h2v2h-2zm0 0h2v2h-2zm3 1h2v2h-2zm-4 1h2v2h-2zm-1 1h2v2h-2zm5 1h2v2h-2zm-3 1h2v2h-2zm2 0h2v2h-2zm1 1h2v2h-2zm1 0h2v2h-2zm-5 1h2v2h-2zm2 1h2v2h-2zm1 0h2v2h-2zm1 1h2v2h-2zm-2 1h2v2h-2zm-3 1h2v2h-2zm0 1h2v2h-2zm3 0h2v2h-2zm1 1h2v2h-2zm2 2h2v2h-2zm-1 1h2v2h-2zm-3 1h2v2h-2zm4 0h2v2h-2zm-3 2h2v2h-2zm4 0h2v2h-2zm-2 1h2v2h-2zm-5 3h2v2h-2zm0 3h2v2h-2zm4 0h2v2h-2z"/>
<path d="M1452 750h2v2h-2zm0 6h2v2h-2zm6 3h2v2h-2zm-5 1h2v2h-2zm2 0h2v2h-2zm-1 1h2v2h-2zm3 0h2v2h-2zm-1 2h2v2h-2zm-1 1h2v2h-2zm-1 4h2v2h-2zm2 3h2v2h-2zm-3 1h2v2h-2zm2 3h2v2h-2zm1 0h2v2h-2zm-4 1h2v2h-2zm2 0h2v2h-2zm1 0h2v2h-2zm-3 1h2v2h-2zm6 0h2v2h-2zm0 0h2v2h-2zm-5 2h2v2h-2zm2 0h2v2h-2zm0 0h2v2h-2zm1 0h2v2h-2zm1 1h2v2h-2zm-4 1h2v2h-2zm1 0h2v2h-2zm2 0h2v2h-2zm-3 1h2v2h-2zm0 0h2v2h-2zm5 0h2v2h-2zm-6 1h2v2h-2zm1 0h2v2h-2zm1 2h2v2h-2zm-2 2h2v2h-2zm5 2h2v2h-2zm1 3h2v2h-2zm-5 1h2v2h-2zm5 0h2v2h-2zm-3 8h2v2h-2z"/>
<path d="M1452 725h2v2h-2zm5 10h2v2h-2zm1 16h2v2h-2zm-3 4h2v2h-2zm-3 1h2v2h-2zm3 1h2v2h-2zm3 3h2v2h-2zm-4 2h2v2h-2zm3 0h2v2h-2zm-2 1h2v2h-2zm-3 1h2v2h-2zm0 0h2v2h-2zm1 0h2v2h-2zm2 0h2v2h-2zm1 0h2v2h-2zm1 1h2v2h-2zm-5 1h2v2h-2zm3 0h2v2h-2zm0 0h2v2h-2zm2 2h2v2h-2zm1 1h2v2h-2zm0 1h2v2h-2zm-3 1h2v2h-2zm3 0h2v2h-2zm-3 1h2v2h-2zm2 1h2v2h-2zm-2 1h2v2h-2zm0 1h2v2h-2zm3 0h2v2h-2zm-4 1h2v2h-2zm3 1h2v2h-2zm-3 3h2v2h-2zm3 0h2v2h-2zm2 0h2v2h-2zm-6 2h2v2h-2zm6 0h2v2h-2zm-4 5h2v2h-2zm-2 1h2v2h-2zm2 1h2v2h-2zm3 3h2v2h-2z"/>
<path d="M1454 747h2v2h-2zm4 6h2v2h-2zm-2 1h2v2h-2zm1 1h2v2h-2zm-5 2h2v2h-2zm5 0h2v2h-2zm2 4h2v2h-2zm-7 3h2v2h-2zm3 0h2v2h-2zm-3 1h2v2h-2zm1 0h2v2h-2zm3 0h2v2h-2zm-2 1h2v2h-2zm1 0h2v2h-2zm4 0h2v2h-2zm-2 3h2v2h-2zm-4 2h2v2h-2zm3 0h2v2h-2zm-4 2h2v2h-2zm5 0h2v2h-2zm0 1h2v2h-2zm-1 1h2v2h-2zm0 0h2v2h-2zm-2 1h2v2h-2zm3 0h2v2h-2zm0 0h2v2h-2zm-2 1h2v2h-2zm0 1h2v2h-2zm3 1h2v2h-2zm1 4h2v2h-2zm-5 4h2v2h-2zm-1 1h2v2h-2zm2 1h2v2h-2zm3 0h2v2h-2zm-5 1h2v2h-2zm4 0h2v2h-2zm-1 1h2v2h-2zm2 3h2v2h-2zm-2 3h2v2h-2zm-3 9h2v2h-2z"/>
<path d="M1456 725h2v2h-2zm1 9h2v2h-2zm-1 3h2v2h-2zm-4 6h2v2h-2zm4 6h2v2h-2zm2 0h2v2h-2zm-5 4h2v2h-2zm4 0h2v2h-2zm0 1h2v2h-2zm-3 2h2v2h-2zm1 3h2v2h-2zm-1 2h2v2h-2zm2 4h2v2h-2zm0 0h2v2h-2zm2 4h2v2h-2zm0 0h2v2h-2zm1 2h2v2h-2zm-6 2h2v2h-2zm2 0h2v2h-2zm1 3h2v2h-2zm0 1h2v2h-2zm-2 1h2v2h-2zm2 0h2v2h-2zm1 1h2v2h-2zm-2 1h2v2h-2zm3 0h2v2h-2zm-5 2h2v2h-2zm5 0h2v2h-2zm-5 1h2v2h-2zm1 0h2v2h-2zm0 0h2v2h-2zm1 0h2v2h-2zm-1 4h2v2h-2zm0 2h2v2h-2zm3 0h2v2h-2zm1 0h2v2h-2zm-4 4h2v2h-2zm0 1h2v2h-2zm5 1h2v2h-2zm-4 1h2v2h-2z"/>
<path d="M1452 727h2v2h-2zm0 15h2v2h-2zm6 5h2v2h-2zm-3 5h2v2h-2zm2 2h2v2h-2zm-5 6h2v2h-2zm1 2h2v2h-2zm0 1h2v2h-2zm1 0h2v2h-2zm1 2h2v2h-2zm4 0h2v2h-2zm-5 1h2v2h-2zm0 0h2v2h-2zm1 3h2v2h-2zm-3 1h2v2h-2zm0 2h2v2h-2zm2 0h2v2h-2zm4 0h2v2h-2zm-5 1h2v2h-2zm3 0h2v2h-2zm1 0h2v2h-2zm1 0h2v2h-2zm0 1h2v2h-2zm-1 1h2v2h-2zm2 0h2v2h-2zm-5 1h2v2h-2zm-2 1h2v2h-2zm0 0h2v2h-2zm1 1h2v2h-2zm-1 1h2v2h-2zm1 0h2v2h-2zm0 0h2v2h-2zm2 0h2v2h-2zm1 1h2v2h-2zm-2 1h2v2h-2zm4 4h2v2h-2zm-1 1h2v2h-2zm-2 1h2v2h-2zm-1 1h2v2h-2zm4 18h2v2h-2z"/>
<path d="M1453 752h2v2h-2zm5 3h2v2h-2zm-1 2h2v2h-2zm-2 1h2v2h-2zm1 1h2v2h-2zm-2 2h2v2h-2zm3 1h2v2h-2zm-5 1h2v2h-2zm6 0h2v2h-2zm-5 1h2v2h-2zm3 2h2v2h-2zm-3 1h2v2h-2zm4 1h2v2h-2zm2 1h2v2h-2zm-6 1h2v2h-2zm3 0h2v2h-2zm-1 1h2v2h-2zm1 0h2v2h-2zm2 0h2v2h-2zm-2 1h2v2h-2zm2 0h2v2h-2zm-3 2h2v2h-2zm3 0h2v2h-2zm-4 2h2v2h-2zm0 1h2v2h-2zm-1 1h2v2h-2zm2 1h2v2h-2zm-3 1h2v2h-2zm6 0h2v2h-2zm-2 2h2v2h-2zm0 1h2v2h-2zm-4 2h2v2h-2zm1 2h2v2h-2zm1 1h2v2h-2zm-2 2h2v2h-2zm0 0h2v2h-2zm6 0h2v2h-2zm0 1h2v2h-2zm-5 3h2v2h-2zm1 12h2v2h-2z"/>
<path d="M1457 750h2v2h-2zm-1 2h2v2h-2zm-2 1h2v2h-2zm0 2h2v2h-2zm1 0h2v2h-2zm-1 3h2v2h-2zm-1 2h2v2h-2zm3 0h2v2h-2zm1 2h2v2h-2zm-2 3h2v2h-2zm-3 2h2v2h-2zm1 0h2v2h-2zm3 0h2v2h-2zm0 0h2v2h-2zm1 1h2v2h-2zm-5 1h2v2h-2zm1 1h2v2h-2zm1 0h2v2h-2zm4 0h2v2h-2zm-4 1h2v2h-2zm4 3h2v2h-2zm-2 1h2v2h-2zm-4 1h2v2h-2zm1 0h2v2h-2zm1 1h2v2h-2zm-2 2h2v2h-2zm7 0h2v2h-2zm-4 2h2v2h-2zm2 0h2v2h-2zm-4 1h2v2h-2zm0 1h2v2h-2zm0 1h2v2h-2zm2 0h2v2h-2zm3 2h2v2h-2zm1 0h2v2h-2zm-5 4h2v2h-2zm3 0h2v2h-2zm-4 4h2v2h-2zm1 2h2v2h-2zm-2 7h2v2h-2z"/>
<path d="M1456 733h2v2h-2zm-3 19h2v2h-2zm-1 1h2v2h-2zm2 5h2v2h-2zm-1 1h2v2h-2zm5 1h2v2h-2zm-5 2h2v2h-2zm3 0h2v2h-2zm-4 2h2v2h-2zm6 0h2v2h-2zm1 2h2v2h-2zm-7 1h2v2h-2zm2 0h2v2h-2zm3 1h2v2h-2zm1 0h2v2h-2zm-3 2h2v2h-2zm1 0h2v2h-2zm1 1h2v2h-2zm1 0h2v2h-2zm0 1h2v2h-2zm-3 1h2v2h-2zm4 0h2v2h-2zm0 1h2v2h-2zm-6 1h2v2h-2zm5 0h2v2h-2zm0 1h2v2h-2zm-2 1h2v2h-2zm-2 3h2v2h-2zm0 0h2v2h-2zm-2 1h2v2h-2zm1 2h2v2h-2zm-1 1h2v2h-2zm5 1h2v2h-2zm-2 2h2v2h-2zm1 1h2v2h-2zm1 0h2v2h-2zm-2 1h2v2h-2zm2 0h2v2h-2zm1 2h2v2h-2zm-5 4h2v2h-2z"/>
<path d="M1457 731h2v2h-2zm1 1h2v2h-2zm-2 1h2v2h-2zm2 10h2v2h-2zm0 5h2v2h-2zm-1 10h2v2h-2zm-4 5h2v2h-2zm2 0h2v2h-2zm-3 2h2v2h-2zm1 0h2v2h-2zm1 0h2v2h-2zm5 0h2v2h-2zm-3 3h2v2h-2zm1 0h2v2h-2zm-5 1h2v2h-2zm0 0h2v2h-2zm0 1h2v2h-2zm0 1h2v2h-2zm4 0h2v2h-2zm-1 1h2v2h-2zm2 0h2v2h-2zm-3 2h2v2h-2zm1 0h2v2h-2zm-1 2h2v2h-2zm0 0h2v2h-2zm1 0h2v2h-2zm-3 4h2v2h-2zm4 0h2v2h-2zm-3 1h2v2h-2zm4 0h2v2h-2zm-1 1h2v2h-2zm2 0h2v2h-2zm-6 1h2v2h-2zm1 0h2v2h-2zm5 0h2v2h-2zm-2 2h2v2h-2zm-3 1h2v2h-2zm0 4h2v2h-2zm5 4h2v2h-2zm-3 1h2v2h-2z"/>
<path d="M1456 747h2v2h-2zm-1 1h2v2h-2zm-2 1h2v2h-2zm3 5h2v2h-2zm2 0h2v2h-2zm-5 1h2v2h-2zm2 0h2v2h-2zm-2 1h2v2h-2zm1 1h2v2h-2zm4 3h2v2h-2zm-1 3h2v2h-2zm-1 1h2v2h-2zm3 1h2v2h-2zm-6 1h2v2h-2zm4 1h2v2h-2zm1 0h2v2h-2zm-1 1h2v2h-2zm0 1h2v2h-2zm-1 1h2v2h-2zm-3 1h2v2h-2zm4 0h2v2h-2zm-2 1h2v2h-2zm3 0h2v2h-2zm0 0h2v2h-2zm-3 1h2v2h-2zm0 0h2v2h-2zm-2 2h2v2h-2zm2 1h2v2h-2zm3 1h2v2h-2zm-4 1h2v2h-2zm3 0h2v2h-2zm-5 2h2v2h-2zm2 0h2v2h-2zm1 2h2v2h-2zm-3 1h2v2h-2zm1 3h2v2h-2zm3 0h2v2h-2zm-2 2h2v2h-2zm4 1h2v2h-2zm0 15h2v2h-2z"/>
<path d="M1453 734h2v2h-2zm0 10h2v2h-2zm4 7h2v2h-2zm0 1h2v2h-2zm1 2h2v2h-2zm-4 1h2v2h-2zm3 0h2v2h-2zm-1 2h2v2h-2zm0 1h2v2h-2zm-1 1h2v2h-2zm2 0h2v2h-2zm-4 2h2v2h-2zm3 2h2v2h-2zm2 0h2v2h-2zm-1 2h2v2h-2zm0 0h2v2h-2zm-1 1h2v2h-2zm-2 2h2v2h-2zm0 2h2v2h-2zm2 1h2v2h-2zm-1 1h2v2h-2zm3 0h2v2h-2zm-4 2h2v2h-2zm3 1h2v2h-2zm-2 1h2v2h-2zm1 1h2v2h-2zm-3 1h2v2h-2zm2 0h2v2h-2zm2 2h2v2h-2zm-4 1h2v2h-2zm0 1h2v2h-2zm4 0h2v2h-2zm-4 1h2v2h-2zm0 0h2v2h-2zm6 0h2v2h-2zm-5 2h2v2h-2zm0 3h2v2h-2zm3 3h2v2h-2zm-1 12h2v2h-2zm1 1h2v2h-2z"/>
<path d="M1668 548h2v2h-2zm6 10h2v2h-2zm-1 5h2v2h-2zm1 0h2v2h-2zm-1 1h2v2h-2zm0 1h2v2h-2zm2 1h2v2h-2zm-4 1h2v2h-2zm2 0h2v2h-2zm0 0h2v2h-2zm-4 1h2v2h-2zm-1 3h2v2h-2zm5 1h2v2h-2zm-5 2h2v2h-2zm3 4h2v2h-2zm1 1h2v2h-2zm2 3h2v2h-2zm-4 2h2v2h-2zm4 2h2v2h-2zm-2 1h2v2h-2zm0 0h2v2h-2zm0 1h2v2h-2zm-3 2h2v2h-2zm3 2h2v2h-2zm-5 2h2v2h-2zm1 0h2v2h-2zm4 1h2v2h-2zm0 2h2v2h-2zm-2 1h2v2h-2zm0 0h2v2h-2zm0 0h2v2h-2zm1 1h2v2h-2zm2 0h2v2h-2zm-2 6h2v2h-2zm-3 3h2v2h-2zm4 3h2v2h-2zm2 1h2v2h-2zm0 1h2v2h-2zm0 1h2v2h-2zm-1 21h2v2h-2z"/>
<path d="M1673 562h2v2h-2zm-2 1h2v2h-2zm-3 1h2v2h-2zm0 4h2v2h-2zm3 0h2v2h-2zm-2 2h2v2h-2zm-1 2h2v2h-2zm0 0h2v2h-2zm-1 1h2v2h-2zm4 0h2v2h-2zm1 0h2v2h-2zm0 3h2v2h-2zm1 0h2v2h-2zm-5 3h2v2h-2zm1 1h2v2h-2zm1 0h2v2h-2zm5 2h2v2h-2zm-5 1h2v2h-2zm4 2h2v2h-2zm-2 3h2v2h-2zm-4 1h2v2h-2zm1 0h2v2h-2zm1 0h2v2h-2zm2 0h2v2h-2zm-3 1h2v2h-2zm-1 1h2v2h-2zm4 0h2v2h-2zm-3 4h2v2h-2zm4 1h2v2h-2zm-2 2h2v2h-2zm-3 2h2v2h-2zm0 1h2v2h-2zm3 0h2v2h-2zm0 1h2v2h-2zm1 0h2v2h-2zm0 8h2v2h-2zm-2 4h2v2h-2zm2 14h2v2h-2zm2 0h2v2h-2zm-1 4h2v2h-2z"/>
<path d="M1672 550h2v2h-2zm2 13h2v2h-2zm1 2h2v2h-2zm-4 2h2v2h-2zm-4 1h2v2h-2zm2 0h2v2h-2zm1 0h2v2h-2zm1 2h2v2h-2zm3 1h2v2h-2zm-5 6h2v2h-2zm0 0h2v2h-2zm3 0h2v2h-2zm-1 1h2v2h-2zm0 1h2v2h-2zm-2 1h2v2h-2zm4 1h2v2h-2zm-6 1h2v2h-2zm7 1h2v2h-2zm-4 1h2v2h-2zm-1 4h2v2h-2zm5 0h2v2h-2zm-7 2h2v2h-2zm7 0h2v2h-2zm-5 1h2v2h-2zm-2 1h2v2h-2zm4 1h2v2h-2zm0 0h2v2h-2zm1 1h2v2h-2zm1 1h2v2h-2zm-4 1h2v2h-2zm-1 1h2v2h-2zm1 2h2v2h-2zm2 0h2v2h-2zm-1 1h2v2h-2zm5 1h2v2h-2zm-2 2h2v2h-2zm0 4h2v2h-2zm-4 1h2v2h-2zm1 3h2v2h-2zm5 2h2v2h-2z"/>
<path d="M1667 550h2v2h-2zm1 8h2v2h-2zm4 6h2v2h-2zm0 5h2v2h-2zm-2 1h2v2h-2zm4 1h2v2h-2zm-4 1h2v2h-2zm3 2h2v2h-2zm1 0h2v2h-2zm-4 3h2v2h-2zm-2 3h2v2h-2zm4 0h2v2h-2zm0 2h2v2h-2zm1 0h2v2h-2zm-4 1h2v2h-2zm1 0h2v2h-2zm1 0h2v2h-2zm2 0h2v2h-2zm1 0h2v2h-2zm0 0h2v2h-2zm-4 1h2v2h-2zm1 1h2v2h-2zm2 0h2v2h-2zm-1 1h2v2h-2zm1 4h2v2h-2zm-1 1h2v2h-2zm-1 1h2v2h-2zm-2 1h2v2h-2zm0 0h2v2h-2zm1 2h2v2h-2zm4 0h2v2h-2zm-5 2h2v2h-2zm2 3h2v2h-2zm-1 3h2v2h-2zm-2 3h2v2h-2zm-1 3h2v2h-2zm7 4h2v2h-2zm-3 4h2v2h-2zm0 1h2v2h-2zm1 7h2v2h-2z"/>
<path d="M1673 555h2v2h-2zm0 5h2v2h-2zm-6 4h2v2h-2zm2 0h2v2h-2zm2 3h2v2h-2zm3 0h2v2h-2zm-1 3h2v2h-2zm1 0h2v2h-2zm1 2h2v2h-2zm-3 1h2v2h-2zm-5 1h2v2h-2zm2 0h2v2h-2zm2 0h2v2h-2zm-2 1h2v2h-2zm3 0h2v2h-2zm-3 1h2v2h-2zm4 0h2v2h-2zm0 2h2v2h-2zm2 1h2v2h-2zm-3 1h2v2h-2zm-2 3h2v2h-2zm3 0h2v2h-2zm-6 4h2v2h-2zm3 0h2v2h-2zm0 2h2v2h-2zm0 0h2v2h-2zm-2 2h2v2h-2zm2 0h2v2h-2zm2 0h2v2h-2zm-3 2h2v2h-2zm-1 6h2v2h-2zm2 3h2v2h-2zm1 0h2v2h-2zm3 5h2v2h-2zm-7 1h2v2h-2zm7 1h2v2h-2zm-4 1h2v2h-2zm5 3h2v2h-2zm-5 4h2v2h-2zm4 8h2v2h-2z"/>
<path d="M1669 557h2v2h-2zm5 2h2v2h-2zm-1 1h2v2h-2zm1 2h2v2h-2zm-6 1h2v2h-2zm0 2h2v2h-2zm0 0h2v2h-2zm2 5h2v2h-2zm-1 1h2v2h-2zm0 3h2v2h-2zm2 2h2v2h-2zm-2 1h2v2h-2zm1 1h2v2h-2zm4 0h2v2h-2zm-3 1h2v2h-2zm1 3h2v2h-2zm-5 1h2v2h-2zm6 1h2v2h-2zm-2 1h2v2h-2zm0 0h2v2h-2zm2 2h2v2h-2zm-3 5h2v2h-2zm-1 3h2v2h-2zm2 0h2v2h-2zm4 3h2v2h-2zm-4 4h2v2h-2zm-3 2h2v2h-2zm3 2h2v2h-2zm4 0h2v2h-2zm-2 1h2v2h-2zm-4 1h2v2h-2zm1 0h2v2h-2zm1 0h2v2h-2zm-4 1h2v2h-2zm8 0h2v2h-2zm-5 2h2v2h-2zm0 2h2v2h-2zm-1 1h2v2h-2zm3 0h2v2h-2zm0 21h2v2h-2z"/>
<path d="M1673 555h2v2h-2zm-1 1h2v2h-2zm2 1h2v2h-2zm-5 1h2v2h-2zm3 2h2v2h-2zm-4 1h2v2h-2zm2 0h2v2h-2zm-3 3h2v2h-2zm5 0h2v2h-2zm-2 3h2v2h-2zm1 0h2v2h-2zm-3 2h2v2h-2zm1 2h2v2h-2zm0 2h2v2h-2zm1 3h2v2h-2zm4 0h2v2h-2zm-5 1h2v2h-2zm3 2h2v2h-2zm1 0h2v2h-2zm-2 6h2v2h-2zm0 0h2v2h-2zm0 1h2v2h-2zm0 0h2v2h-2zm1 2h2v2h-2zm-1 2h2v2h-2zm2 1h2v2h-2zm0 2h2v2h-2zm-1 2h2v2h-2zm2 0h2v2h-2zm-1 1h2v2h-2zm0 4h2v2h-2zm0 4h2v2h-2zm-2 5h2v2h-2zm1 0h2v2h-2zm-2 2h2v2h-2zm0 0h2v2h-2zm3 0h2v2h-2zm-2 5h2v2h-2zm0 16h2v2h-2zm-2 1h2v2h-2z"/>
<path d="M1668 547h2v2h-2zm5 1h2v2h-2zm2 0h2v2h-2zm-6 9h2v2h-2zm0 4h2v2h-2zm4 5h2v2h-2zm-6 2h2v2h-2zm6 0h2v2h-2zm-3 1h2v2h-2zm2 3h2v2h-2zm-4 1h2v2h-2zm6 0h2v2h-2zm-5 2h2v2h-2zm0 0h2v2h-2zm2 1h2v2h-2zm1 1h2v2h-2zm2 0h2v2h-2zm-7 1h2v2h-2zm1 1h2v2h-2zm0 0h2v2h-2zm2 1h2v2h-2zm2 0h2v2h-2zm-1 1h2v2h-2zm0 0h2v2h-2zm0 4h2v2h-2zm3 0h2v2h-2zm-5 6h2v2h-2zm0 3h2v2h-2zm2 1h2v2h-2zm1 0h2v2h-2zm-1 1h2v2h-2zm-3 4h2v2h-2zm5 2h2v2h-2zm-2 1h2v2h-2zm-3 2h2v2h-2zm5 2h2v2h-2zm1 3h2v2h-2zm-4 1h2v2h-2zm-1 1h2v2h-2zm5 14h2v2h-2z"/>
<path d="M1674 548h2v2h-2zm-6 8h2v2h-2zm3 7h2v2h-2zm-4 3h2v2h-2zm3 0h2v2h-2zm-2 1h2v2h-2zm5 5h2v2h-2zm0 2h2v2h-2zm-6 1h2v2h-2zm3 0h2v2h-2zm-2 1h2v2h-2zm2 0h2v2h-2zm-2 1h2v2h-2zm3 3h2v2h-2zm3 0h2v2h-2zm-7 2h2v2h-2zm3 0h2v2h-2zm3 1h2v2h-2zm0 2h2v2h-2zm2 0h2v2h-2zm-4 1h2v2h-2zm3 0h2v2h-2zm-3 1h2v2h-2zm-1 3h2v2h-2zm2 1h2v2h-2zm0 1h2v2h-2zm3 0h2v2h-2zm-8 5h2v2h-2zm6 0h2v2h-2zm0 0h2v2h-2zm-5 1h2v2h-2zm4 0h2v2h-2zm-4 1h2v2h-2zm4 2h2v2h-2zm1 2h2v2h-2zm-5 1h2v2h-2zm-1 3h2v2h-2zm5 4h2v2h-2zm-3 1h2v2h-2zm4 11h2v2h-2z"/>
<path d="M1669 558h2v2h-2zm3 3h2v2h-2zm1 0h2v2h-2zm0 1h2v2h-2zm-5 3h2v2h-2zm0 0h2v2h-2zm2 0h2v2h-2zm-1 2h2v2h-2zm1 0h2v2h-2zm2 1h2v2h-2zm2 2h2v2h-2zm-6 5h2v2h-2zm4 0h2v2h-2zm-3 1h2v2h-2zm-1 1h2v2h-2zm2 1h2v2h-2zm4 0h2v2h-2zm-4 1h2v2h-2zm1 1h2v2h-2zm-2 1h2v2h-2zm3 0h2v2h-2zm-3 1h2v2h-2zm2 1h2v2h-2zm2 0h2v2h-2zm-2 1h2v2h-2zm0 0h2v2h-2zm3 0h2v2h-2zm-4 2h2v2h-2zm4 0h2v2h-2zm-1 2h2v2h-2zm-2 1h2v2h-2zm-2 2h2v2h-2zm-2 1h2v2h-2zm1 2h2v2h-2zm3 0h2v2h-2zm3 5h2v2h-2zm-7 1h2v2h-2zm3 6h2v2h-2zm3 8h2v2h-2zm-5 2h2v2h-2z"/>
<path d="M1671 547h2v2h-2zm-3 8h2v2h-2zm5 1h2v2h-2zm-4 6h2v2h-2zm1 0h2v2h-2zm5 3h2v2h-2zm-1 1h2v2h-2zm-4 1h2v2h-2zm-1 1h2v2h-2zm4 0h2v2h-2zm-6 2h2v2h-2zm4 0h2v2h-2zm4 0h2v2h-2zm-4 2h2v2h-2zm-3 1h2v2h-2zm-1 2h2v2h-2zm4 1h2v2h-2zm-3 1h2v2h-2zm3 0h2v2h-2zm2 0h2v2h-2zm1 0h2v2h-2zm-4 1h2v2h-2zm3 1h2v2h-2zm-2 1h2v2h-2zm1 1h2v2h-2zm0 1h2v2h-2zm-3 1h2v2h-2zm1 1h2v2h-2zm4 0h2v2h-2zm-1 3h2v2h-2zm-4 2h2v2h-2zm0 2h2v2h-2zm2 2h2v2h-2zm0 0h2v2h-2zm-4 5h2v2h-2zm7 1h2v2h-2zm-4 10h2v2h-2zm1 3h2v2h-2zm3 1h2v2h-2zm0 6h2v2h-2z"/>
<path d="M1671 561h2v2h-2zm0 2h2v2h-2zm2 0h2v2h-2zm-2 3h2v2h-2zm1 2h2v2h-2zm0 0h2v2h-2zm-3 2h2v2h-2zm0 2h2v2h-2zm5 3h2v2h-2zm0 0h2v2h-2zm1 0h2v2h-2zm-8 1h2v2h-2zm0 1h2v2h-2zm0 1h2v2h-2zm2 2h2v2h-2zm5 0h2v2h-2zm-5 2h2v2h-2zm3 0h2v2h-2zm-4 1h2v2h-2zm6 0h2v2h-2zm-6 1h2v2h-2zm4 2h2v2h-2zm-2 2h2v2h-2zm3 0h2v2h-2zm1 1h2v2h-2zm-3 1h2v2h-2zm-2 1h2v2h-2zm6 0h2v2h-2zm-1 2h2v2h-2zm-4 1h2v2h-2zm2 1h2v2h-2zm3 0h2v2h-2zm-7 2h2v2h-2zm5 3h2v2h-2zm-2 2h2v2h-2zm-1 6h2v2h-2zm-1 1h2v2h-2zm3 0h2v2h-2zm-3 1h2v2h-2zm1 3h2v2h-2z"/>
<path d="M1669 546h2v2h-2zm5 10h2v2h-2zm-4 3h2v2h-2zm1 0h2v2h-2zm-2 5h2v2h-2zm3 5h2v2h-2zm-1 1h2v2h-2zm-1 1h2v2h-2zm-2 2h2v2h-2zm3 0h2v2h-2zm0 1h2v2h-2zm1 0h2v2h-2zm-2 1h2v2h-2zm5 1h2v2h-2zm-7 1h2v2h-2zm5 0h2v2h-2zm-4 3h2v2h-2zm2 1h2v2h-2zm3 0h2v2h-2zm-2 1h2v2h-2zm0 3h2v2h-2zm-2 2h2v2h-2zm1 0h2v2h-2zm2 0h2v2h-2zm-3 3h2v2h-2zm1 1h2v2h-2zm-1 1h2v2h-2zm0 6h2v2h-2zm5 2h2v2h-2zm-8 1h2v2h-2zm6 4h2v2h-2zm-2 1h2v2h-2zm-4 1h2v2h-2zm1 1h2v2h-2zm3 1h2v2h-2zm1 0h2v2h-2zm-3 4h2v2h-2zm0 2h2v2h-2zm2 15h2v2h-2zm3 4h2v2h-2z"/>
<path d="M1670 543h2v2h-2zm2 11h2v2h-2zm1 5h2v2h-2zm-1 2h2v2h-2zm3 0h2v2h-2zm-6 1h2v2h-2zm1 2h2v2h-2zm0 2h2v2h-2zm-1 1h2v2h-2zm0 1h2v2h-2zm5 5h2v2h-2zm-5 3h2v2h-2zm2 0h2v2h-2zm1 0h2v2h-2zm1 2h2v2h-2zm0 0h2v2h-2zm-6 1h2v2h-2zm7 1h2v2h-2zm-4 1h2v2h-2zm1 1h2v2h-2zm0 1h2v2h-2zm0 1h2v2h-2zm2 0h2v2h-2zm-6 1h2v2h-2zm8 2h2v2h-2zm-2 4h2v2h-2zm-4 2h2v2h-2zm2 2h2v2h-2zm1 1h2v2h-2zm2 1h2v2h-2zm-4 1h2v2h-2zm0 2h2v2h-2zm1 4h2v2h-2zm3 2h2v2h-2zm0 3h2v2h-2zm-6 2h2v2h-2zm0 3h2v2h-2zm3 5h2v2h-2zm4 0h2v2h-2zm-2 5h2v2h-2z"/>
<path d="M1674 548h2v2h-2zm0 7h2v2h-2zm-6 3h2v2h-2zm5 1h2v2h-2zm-5 1h2v2h-2zm3 0h2v2h-2zm2 0h2v2h-2zm-3 7h2v2h-2zm2 1h2v2h-2zm-2 2h2v2h-2zm1 2h2v2h-2zm2 0h2v2h-2zm-4 2h2v2h-2zm6 5h2v2h-2zm-4 1h2v2h-2zm-2 2h2v2h-2zm1 0h2v2h-2zm-2 2h2v2h-2zm7 0h2v2h-2zm-5 1h2v2h-2zm1 0h2v2h-2zm3 0h2v2h-2zm-5 1h2v2h-2zm5 0h2v2h-2zm-4 1h2v2h-2zm5 2h2v2h-2zm-2 1h2v2h-2zm-5 3h2v2h-2zm6 0h2v2h-2zm0 1h2v2h-2zm-5 2h2v2h-2zm1 0h2v2h-2zm3 0h2v2h-2zm-5 2h2v2h-2zm2 1h2v2h-2zm2 5h2v2h-2zm0 1h2v2h-2zm-4 1h2v2h-2zm-1 3h2v2h-2zm2 0h2v2h-2z"/>
<path d="M1671 547h2v2h-2zm0 13h2v2h-2zm0 1h2v2h-2zm-3 4h2v2h-2zm3 1h2v2h-2zm0 3h2v2h-2zm-1 1h2v2h-2zm-1 2h2v2h-2zm0 1h2v2h-2zm-1 1h2v2h-2zm2 0h2v2h-2zm4 0h2v2h-2zm-4 1h2v2h-2zm2 2h2v2h-2zm2 0h2v2h-2zm-6 2h2v2h-2zm2 1h2v2h-2zm4 0h2v2h-2zm-4 1h2v2h-2zm2 1h2v2h-2zm-2 1h2v2h-2zm1 0h2v2h-2zm3 0h2v2h-2zm-3 1h2v2h-2zm2 1h2v2h-2zm-3 1h2v2h-2zm1 2h2v2h-2zm-3 3h2v2h-2zm3 1h2v2h-2zm-2 6h2v2h-2zm0 0h2v2h-2zm2 0h2v2h-2zm3 0h2v2h-2zm-6 4h2v2h-2zm6 2h2v2h-2zm-4 1h2v2h-2zm-1 3h2v2h-2zm3 4h2v2h-2zm3 5h2v2h-2zm-5 16h2v2h-2z"/>
<path d="M1721 615h2v2h-2zm1 14h2v2h-2zm2 4h2v2h-2zm-3 1h2v2h-2zm1 5h2v2h-2zm1 0h2v2h-2zm-1 4h2v2h-2zm-4 1h2v2h-2zm3 0h2v2h-2zm2 2h2v2h-2zm0 5h2v2h-2zm-4 1h2v2h-2zm-1 2h2v2h-2zm7 1h2v2h-2zm0 2h2v2h-2zm-3 1h2v2h-2zm-4 2h2v2h-2zm0 2h2v2h-2zm3 0h2v2h-2zm-1 1h2v2h-2zm1 0h2v2h-2zm-3 1h2v2h-2zm6 0h2v2h-2zm0 1h2v2h-2zm1 1h2v2h-2zm0 0h2v2h-2zm-3 4h2v2h-2zm2 2h2v2h-2zm-4 1h2v2h-2zm5 1h2v2h-2zm-1 1h2v2h-2zm0 0h2v2h-2zm-3 2h2v2h-2zm4 3h2v2h-2zm-1 1h2v2h-2zm1 0h2v2h-2zm-7 2h2v2h-2zm5 2h2v2h-2zm-1 3h2v2h-2zm3 26h2v2h-2z"/>
<path d="M1723 614h2v2h-2zm-3 10h2v2h-2zm3 2h2v2h-2zm1 6h2v2h-2zm-6 1h2v2h-2zm4 1h2v2h-2zm-3 3h2v2h-2zm4 0h2v2h-2zm-4 4h2v2h-2zm6 0h2v2h-2zm-4 5h2v2h-2zm2 1h2v2h-2zm-1 1h2v2h-2zm1 0h2v2h-2zm-4 3h2v2h-2zm6 1h2v2h-2zm-6 1h2v2h-2zm0 2h2v2h-2zm4 0h2v2h-2zm0 1h2v2h-2zm2 0h2v2h-2zm-3 5h2v2h-2zm-4 4h2v2h-2zm2 0h2v2h-2zm1 0h2v2h-2zm-2 3h2v2h-2zm4 2h2v2h-2zm0 0h2v2h-2zm2 0h2v2h-2zm-1 2h2v2h-2zm0 2h2v2h-2zm-1 3h2v2h-2zm-4 1h2v2h-2zm4 10h2v2h-2zm1 0h2v2h-2zm-2 1h2v2h-2zm2 1h2v2h-2zm-6 1h2v2h-2zm7 3h2v2h-2zm-4 40h2v2h-2z"/>
<path d="M1725 630h2v2h-2zm-4 3h2v2h-2zm3 0h2v2h-2zm-5 2h2v2h-2zm-1 1h2v2h-2zm3 0h2v2h-2zm2 0h2v2h-2zm2 1h2v2h-2zm-7 4h2v2h-2zm6 3h2v2h-2zm-1 2h2v2h-2zm-1 3h2v2h-2zm2 0h2v2h-2zm-1 2h2v2h-2zm-2 1h2v2h-2zm0 0h2v2h-2zm-2 2h2v2h-2zm2 0h2v2h-2zm3 0h2v2h-2zm1 0h2v2h-2zm-6 1h2v2h-2zm4 2h2v2h-2zm-4 2h2v2h-2zm5 0h2v2h-2zm-6 4h2v2h-2zm1 1h2v2h-2zm5 2h2v2h-2zm1 2h2v2h-2zm-5 4h2v2h-2zm1 0h2v2h-2zm-3 3h2v2h-2zm6 5h2v2h-2zm-5 2h2v2h-2zm1 0h2v2h-2zm4 7h2v2h-2zm-2 5h2v2h-2zm1 1h2v2h-2zm2 0h2v2h-2zm-2 4h2v2h-2zm0 32h2v2h-2z"/>
<path d="M1725 632h2v2h-2zm-4 2h2v2h-2zm-2 3h2v2h-2zm2 0h2v2h-2zm1 1h2v2h-2zm-3 1h2v2h-2zm2 7h2v2h-2zm-1 1h2v2h-2zm-1 1h2v2h-2zm1 1h2v2h-2zm5 4h2v2h-2zm-7 4h2v2h-2zm1 3h2v2h-2zm5 0h2v2h-2zm-5 2h2v2h-2zm6 1h2v2h-2zm-1 2h2v2h-2zm1 0h2v2h-2zm-3 3h2v2h-2zm-4 1h2v2h-2zm2 2h2v2h-2zm5 3h2v2h-2zm-7 1h2v2h-2zm3 0h2v2h-2zm0 0h2v2h-2zm0 4h2v2h-2zm4 0h2v2h-2zm-1 1h2v2h-2zm-4 5h2v2h-2zm1 0h2v2h-2zm2 1h2v2h-2zm0 2h2v2h-2zm1 0h2v2h-2zm-6 3h2v2h-2zm5 0h2v2h-2zm1 0h2v2h-2zm-3 8h2v2h-2zm0 3h2v2h-2zm-3 2h2v2h-2zm5 18h2v2h-2z"/>
<path d="M1725 616h2v2h-2zm-3 15h2v2h-2zm3 1h2v2h-2zm-2 1h2v2h-2zm0 1h2v2h-2zm0 1h2v2h-2zm2 2h2v2h-2zm-2 1h2v2h-2zm-3 2h2v2h-2zm3 4h2v2h-2zm-5 1h2v2h-2zm3 1h2v2h-2zm-3 4h2v2h-2zm2 4h2v2h-2zm4 0h2v2h-2zm1 0h2v2h-2zm-4 4h2v2h-2zm2 1h2v2h-2zm0 1h2v2h-2zm-5 1h2v2h-2zm3 2h2v2h-2zm3 2h2v2h-2zm-1 1h2v2h-2zm-4 1h2v2h-2zm6 1h2v2h-2zm-4 2h2v2h-2zm2 0h2v2h-2zm-4 5h2v2h-2zm5 2h2v2h-2zm-5 2h2v2h-2zm2 2h2v2h-2zm2 3h2v2h-2zm1 4h2v2h-2zm1 2h2v2h-2zm-3 1h2v2h-2zm2 1h2v2h-2zm1 0h2v2h-2zm-4 1h2v2h-2zm2 6h2v2h-2zm1 7h2v2h-2z"/>
<path d="M1722 627h2v2h-2zm0 3h2v2h-2zm-3 1h2v2h-2zm2 0h2v2h-2zm0 7h2v2h-2zm4 2h2v2h-2zm-4 2h2v2h-2zm3 1h2v2h-2zm-2 1h2v2h-2zm-1 2h2v2h-2zm1 5h2v2h-2zm-3 5h2v2h-2zm0 1h2v2h-2zm3 0h2v2h-2zm0 0h2v2h-2zm3 1h2v2h-2zm-2 1h2v2h-2zm2 1h2v2h-2zm0 2h2v2h-2zm0 0h2v2h-2zm-2 1h2v2h-2zm0 1h2v2h-2zm1 1h2v2h-2zm-6 1h2v2h-2zm2 0h2v2h-2zm-2 2h2v2h-2zm5 1h2v2h-2zm2 0h2v2h-2zm-7 1h2v2h-2zm3 0h2v2h-2zm-2 1h2v2h-2zm2 7h2v2h-2zm1 2h2v2h-2zm0 0h2v2h-2zm2 1h2v2h-2zm-4 10h2v2h-2zm2 1h2v2h-2zm-1 3h2v2h-2zm-1 1h2v2h-2zm3 5h2v2h-2z"/>
<path d="M1725 631h2v2h-2zm-1 4h2v2h-2zm-6 2h2v2h-2zm5 0h2v2h-2zm2 0h2v2h-2zm0 4h2v2h-2zm-6 1h2v2h-2zm1 0h2v2h-2zm3 1h2v2h-2zm-5 4h2v2h-2zm3 6h2v2h-2zm0 0h2v2h-2zm-1 1h2v2h-2zm1 2h2v2h-2zm4 0h2v2h-2zm0 1h2v2h-2zm0 1h2v2h-2zm-5 1h2v2h-2zm-2 2h2v2h-2zm4 0h2v2h-2zm-2 1h2v2h-2zm0 2h2v2h-2zm-2 1h2v2h-2zm0 1h2v2h-2zm5 1h2v2h-2zm-4 1h2v2h-2zm1 1h2v2h-2zm0 2h2v2h-2zm2 0h2v2h-2zm1 2h2v2h-2zm-3 1h2v2h-2zm-2 1h2v2h-2zm5 2h2v2h-2zm-4 8h2v2h-2zm5 0h2v2h-2zm0 1h2v2h-2zm0 1h2v2h-2zm-6 1h2v2h-2zm6 0h2v2h-2zm-5 4h2v2h-2z"/>
<path d="M1725 631h2v2h-2zm-6 3h2v2h-2zm2 0h2v2h-2zm-2 1h2v2h-2zm2 0h2v2h-2zm1 1h2v2h-2zm3 3h2v2h-2zm-4 1h2v2h-2zm3 1h2v2h-2zm-5 2h2v2h-2zm2 3h2v2h-2zm4 0h2v2h-2zm-7 3h2v2h-2zm2 3h2v2h-2zm5 2h2v2h-2zm-5 2h2v2h-2zm5 0h2v2h-2zm-4 1h2v2h-2zm-3 3h2v2h-2zm2 2h2v2h-2zm-2 2h2v2h-2zm3 3h2v2h-2zm-2 1h2v2h-2zm6 1h2v2h-2zm-2 2h2v2h-2zm2 3h2v2h-2zm-7 1h2v2h-2zm3 0h2v2h-2zm3 8h2v2h-2zm-5 1h2v2h-2zm1 0h2v2h-2zm2 6h2v2h-2zm-4 6h2v2h-2zm1 2h2v2h-2zm3 3h2v2h-2zm-1 3h2v2h-2zm4 3h2v2h-2zm-5 5h2v2h-2zm-1 17h2v2h-2zm5 9h2v2h-2z"/>
<path d="M1723 638h2v2h-2zm1 10h2v2h-2zm1 2h2v2h-2zm-3 1h2v2h-2zm1 0h2v2h-2zm-2 1h2v2h-2zm3 0h2v2h-2zm-1 1h2v2h-2zm-2 3h2v2h-2zm2 0h2v2h-2zm1 0h2v2h-2zm-3 4h2v2h-2zm3 0h2v2h-2zm0 1h2v2h-2zm-4 2h2v2h-2zm1 2h2v2h-2zm3 2h2v2h-2zm-5 1h2v2h-2zm0 0h2v2h-2zm2 0h2v2h-2zm-2 1h2v2h-2zm4 0h2v2h-2zm-2 1h2v2h-2zm4 1h2v2h-2zm-3 1h2v2h-2zm2 0h2v2h-2zm-4 1h2v2h-2zm1 1h2v2h-2zm0 4h2v2h-2zm-2 5h2v2h-2zm4 2h2v2h-2zm-4 1h2v2h-2zm4 1h2v2h-2zm-4 1h2v2h-2zm0 1h2v2h-2zm1 4h2v2h-2zm2 0h2v2h-2zm-3 1h2v2h-2zm4 1h2v2h-2zm-2 9h2v2h-2z"/>
<path d="M1721 617h2v2h-2zm-1 14h2v2h-2zm-1 3h2v2h-2zm1 1h2v2h-2zm2 1h2v2h-2zm2 0h2v2h-2zm-3 1h2v2h-2zm-2 3h2v2h-2zm4 4h2v2h-2zm-4 3h2v2h-2zm1 1h2v2h-2zm2 5h2v2h-2zm2 0h2v2h-2zm-1 3h2v2h-2zm1 3h2v2h-2zm-5 1h2v2h-2zm-1 4h2v2h-2zm7 0h2v2h-2zm0 0h2v2h-2zm-5 1h2v2h-2zm1 1h2v2h-2zm2 1h2v2h-2zm-4 1h2v2h-2zm0 0h2v2h-2zm0 0h2v2h-2zm2 0h2v2h-2zm3 2h2v2h-2zm-5 2h2v2h-2zm6 1h2v2h-2zm-6 4h2v2h-2zm4 2h2v2h-2zm-4 1h2v2h-2zm3 1h2v2h-2zm-2 1h2v2h-2zm3 9h2v2h-2zm-5 1h2v2h-2zm7 1h2v2h-2zm-3 1h2v2h-2zm0 1h2v2h-2zm0 7h2v2h-2z"/>
<path d="M1724 623h2v2h-2zm-1 6h2v2h-2zm1 6h2v2h-2zm-1 1h2v2h-2zm-1 1h2v2h-2zm-3 1h2v2h-2zm5 1h2v2h-2zm-3 1h2v2h-2zm2 1h2v2h-2zm1 0h2v2h-2zm-2 3h2v2h-2zm2 0h2v2h-2zm-6 1h2v2h-2zm6 0h2v2h-2zm-6 2h2v2h-2zm0 4h2v2h-2zm4 0h2v2h-2zm3 0h2v2h-2zm-6 4h2v2h-2zm1 0h2v2h-2zm-1 1h2v2h-2zm0 1h2v2h-2zm3 3h2v2h-2zm2 0h2v2h-2zm0 1h2v2h-2zm-4 1h2v2h-2zm2 1h2v2h-2zm1 0h2v2h-2zm-1 4h2v2h-2zm0 5h2v2h-2zm0 4h2v2h-2zm1 0h2v2h-2zm1 1h2v2h-2zm-1 4h2v2h-2zm-5 10h2v2h-2zm4 2h2v2h-2zm-1 1h2v2h-2zm1 0h2v2h-2zm2 7h2v2h-2zm-1 7h2v2h-2z"/>
<path d="M1719 615h2v2h-2zm4 19h2v2h-2zm-3 1h2v2h-2zm5 6h2v2h-2zm-6 7h2v2h-2zm5 0h2v2h-2zm1 0h2v2h-2zm-7 2h2v2h-2zm4 0h2v2h-2zm-2 1h2v2h-2zm1 5h2v2h-2zm3 2h2v2h-2zm-6 2h2v2h-2zm1 0h2v2h-2zm1 0h2v2h-2zm-1 1h2v2h-2zm1 1h2v2h-2zm3 0h2v2h-2zm-4 4h2v2h-2zm1 0h2v2h-2zm3 1h2v2h-2zm1 0h2v2h-2zm-3 3h2v2h-2zm-2 1h2v2h-2zm0 2h2v2h-2zm1 1h2v2h-2zm4 0h2v2h-2zm-4 2h2v2h-2zm1 3h2v2h-2zm-2 1h2v2h-2zm2 1h2v2h-2zm1 3h2v2h-2zm2 1h2v2h-2zm-4 3h2v2h-2zm2 1h2v2h-2zm3 0h2v2h-2zm-1 1h2v2h-2zm-4 6h2v2h-2zm2 14h2v2h-2zm-4 27h2v2h-2z"/>
<path d="M1719 614h2v2h-2zm3 12h2v2h-2zm1 3h2v2h-2zm1 2h2v2h-2zm-5 7h2v2h-2zm6 1h2v2h-2zm-2 1h2v2h-2zm-5 5h2v2h-2zm1 0h2v2h-2zm-1 2h2v2h-2zm5 0h2v2h-2zm-5 1h2v2h-2zm1 0h2v2h-2zm-1 1h2v2h-2zm2 0h2v2h-2zm1 0h2v2h-2zm2 0h2v2h-2zm-3 2h2v2h-2zm-1 4h2v2h-2zm4 1h2v2h-2zm-3 3h2v2h-2zm1 0h2v2h-2zm1 1h2v2h-2zm1 3h2v2h-2zm-3 1h2v2h-2zm3 1h2v2h-2zm-3 1h2v2h-2zm1 4h2v2h-2zm-1 1h2v2h-2zm1 0h2v2h-2zm1 0h2v2h-2zm-3 2h2v2h-2zm1 1h2v2h-2zm2 2h2v2h-2zm0 0h2v2h-2zm1 1h2v2h-2zm-4 3h2v2h-2zm1 19h2v2h-2zm4 2h2v2h-2zm-4 16h2v2h-2z"/>
<path d="M1723 613h2v2h-2zm-4 14h2v2h-2zm0 4h2v2h-2zm4 0h2v2h-2zm-5 4h2v2h-2zm7 5h2v2h-2zm-6 1h2v2h-2zm2 1h2v2h-2zm4 2h2v2h-2zm-3 1h2v2h-2zm-2 3h2v2h-2zm0 1h2v2h-2zm-1 2h2v2h-2zm5 4h2v2h-2zm-6 1h2v2h-2zm6 3h2v2h-2zm-6 4h2v2h-2zm1 0h2v2h-2zm6 5h2v2h-2zm-7 1h2v2h-2zm3 2h2v2h-2zm1 0h2v2h-2zm-2 2h2v2h-2zm1 0h2v2h-2zm-3 2h2v2h-2zm1 1h2v2h-2zm6 1h2v2h-2zm-3 3h2v2h-2zm-4 2h2v2h-2zm6 0h2v2h-2zm-5 1h2v2h-2zm4 1h2v2h-2zm2 1h2v2h-2zm-6 4h2v2h-2zm2 6h2v2h-2zm3 0h2v2h-2zm-1 1h2v2h-2zm-1 2h2v2h-2zm-4 5h2v2h-2zm2 17h2v2h-2z"/>
<path d="M1723 627h2v2h-2zm0 3h2v2h-2zm-2 6h2v2h-2zm2 8h2v2h-2zm-3 2h2v2h-2zm5 1h2v2h-2zm-4 1h2v2h-2zm-1 1h2v2h-2zm-1 1h2v2h-2zm6 2h2v2h-2zm-1 3h2v2h-2zm-5 1h2v2h-2zm-1 1h2v2h-2zm3 1h2v2h-2zm-2 1h2v2h-2zm4 0h2v2h-2zm-3 2h2v2h-2zm-1 1h2v2h-2zm2 2h2v2h-2zm-1 2h2v2h-2zm0 0h2v2h-2zm-1 2h2v2h-2zm3 1h2v2h-2zm3 1h2v2h-2zm-6 2h2v2h-2zm2 0h2v2h-2zm1 0h2v2h-2zm2 1h2v2h-2zm-5 2h2v2h-2zm3 0h2v2h-2zm-1 5h2v2h-2zm3 2h2v2h-2zm1 0h2v2h-2zm-6 1h2v2h-2zm1 5h2v2h-2zm-2 6h2v2h-2zm4 0h2v2h-2zm3 0h2v2h-2zm-1 4h2v2h-2zm-4 22h2v2h-2z"/>
<path d="M1722 628h2v2h-2zm-3 3h2v2h-2zm-1 1h2v2h-2zm3 0h2v2h-2zm0 0h2v2h-2zm4 5h2v2h-2zm-2 3h2v2h-2zm-3 3h2v2h-2zm-2 1h2v2h-2zm2 1h2v2h-2zm-1 1h2v2h-2zm5 0h2v2h-2zm-3 1h2v2h-2zm0 1h2v2h-2zm0 0h2v2h-2zm-2 3h2v2h-2zm-1 6h2v2h-2zm2 0h2v2h-2zm4 0h2v2h-2zm-3 6h2v2h-2zm-1 2h2v2h-2zm-2 4h2v2h-2zm0 0h2v2h-2zm1 0h2v2h-2zm1 0h2v2h-2zm-2 2h2v2h-2zm3 2h2v2h-2zm-1 1h2v2h-2zm2 1h2v2h-2zm-3 6h2v2h-2zm2 1h2v2h-2zm-1 1h2v2h-2zm4 1h2v2h-2zm-2 3h2v2h-2zm3 0h2v2h-2zm-5 3h2v2h-2zm0 0h2v2h-2zm2 10h2v2h-2zm-1 22h2v2h-2zm4 11h2v2h-2z"/>
<path d="M1819 638h2v2h-2zm-7 2h2v2h-2zm3 0h2v2h-2zm4 2h2v2h-2zm-7 1h2v2h-2zm2 4h2v2h-2zm2 3h2v2h-2zm-3 3h2v2h-2zm5 4h2v2h-2zm-5 1h2v2h-2zm6 3h2v2h-2zm-5 1h2v2h-2zm1 0h2v2h-2zm1 0h2v2h-2zm-4 1h2v2h-2zm5 0h2v2h-2zm0 0h2v2h-2zm-5 1h2v2h-2zm4 1h2v2h-2zm-5 1h2v2h-2zm4 0h2v2h-2zm0 1h2v2h-2zm0 0h2v2h-2zm3 0h2v2h-2zm0 1h2v2h-2zm-6 2h2v2h-2zm3 2h2v2h-2zm-3 2h2v2h-2zm6 0h2v2h-2zm-3 1h2v2h-2zm-1 2h2v2h-2zm3 0h2v2h-2zm-6 1h2v2h-2zm7 1h2v2h-2zm-4 1h2v2h-2zm0 0h2v2h-2zm4 0h2v2h-2zm-2 3h2v2h-2zm1 3h2v2h-2zm-3 2h2v2h-2z"/>
<path d="M1812 634h2v2h-2zm4 3h2v2h-2zm3 1h2v2h-2zm-7 1h2v2h-2zm0 2h2v2h-2zm0 2h2v2h-2zm5 1h2v2h-2zm-5 10h2v2h-2zm6 1h2v2h-2zm1 0h2v2h-2zm-5 1h2v2h-2zm0 0h2v2h-2zm-1 3h2v2h-2zm1 0h2v2h-2zm2 0h2v2h-2zm-2 1h2v2h-2zm-1 1h2v2h-2zm3 0h2v2h-2zm-3 1h2v2h-2zm-1 2h2v2h-2zm1 0h2v2h-2zm3 0h2v2h-2zm-1 2h2v2h-2zm-3 1h2v2h-2zm5 0h2v2h-2zm-2 1h2v2h-2zm1 1h2v2h-2zm-2 2h2v2h-2zm-3 2h2v2h-2zm5 0h2v2h-2zm3 0h2v2h-2zm-5 5h2v2h-2zm-1 2h2v2h-2zm1 0h2v2h-2zm4 2h2v2h-2zm-6 2h2v2h-2zm2 0h2v2h-2zm1 0h2v2h-2zm-2 4h2v2h-2zm5 3h2v2h-2z"/>
<path d="M1816 626h2v2h-2zm-2 16h2v2h-2zm1 1h2v2h-2zm1 6h2v2h-2zm-4 5h2v2h-2zm-1 2h2v2h-2zm6 0h2v2h-2zm-6 2h2v2h-2zm7 0h2v2h-2zm0 1h2v2h-2zm-4 1h2v2h-2zm2 0h2v2h-2zm-4 1h2v2h-2zm7 0h2v2h-2zm-8 2h2v2h-2zm2 0h2v2h-2zm4 0h2v2h-2zm-5 3h2v2h-2zm0 1h2v2h-2zm3 0h2v2h-2zm2 0h2v2h-2zm1 1h2v2h-2zm-5 1h2v2h-2zm6 1h2v2h-2zm-5 2h2v2h-2zm1 0h2v2h-2zm-4 1h2v2h-2zm1 1h2v2h-2zm5 0h2v2h-2zm1 0h2v2h-2zm0 1h2v2h-2zm-4 9h2v2h-2zm1 0h2v2h-2zm0 0h2v2h-2zm-1 2h2v2h-2zm3 3h2v2h-2zm-6 1h2v2h-2zm6 0h2v2h-2zm-2 8h2v2h-2zm-2 4h2v2h-2z"/>
<path d="M1813 625h2v2h-2zm0 4h2v2h-2zm2 2h2v2h-2zm-1 6h2v2h-2zm0 3h2v2h-2zm1 0h2v2h-2zm-3 4h2v2h-2zm5 0h2v2h-2zm-4 2h2v2h-2zm3 1h2v2h-2zm-2 3h2v2h-2zm-1 2h2v2h-2zm0 1h2v2h-2zm0 0h2v2h-2zm1 1h2v2h-2zm1 0h2v2h-2zm-1 3h2v2h-2zm0 0h2v2h-2zm4 1h2v2h-2zm0 2h2v2h-2zm-3 4h2v2h-2zm0 0h2v2h-2zm1 0h2v2h-2zm3 2h2v2h-2zm-6 3h2v2h-2zm-2 1h2v2h-2zm3 1h2v2h-2zm1 0h2v2h-2zm-3 5h2v2h-2zm6 1h2v2h-2zm-5 1h2v2h-2zm0 2h2v2h-2zm4 0h2v2h-2zm1 3h2v2h-2zm-2 1h2v2h-2zm2 0h2v2h-2zm-4 1h2v2h-2zm4 2h2v2h-2zm-3 3h2v2h-2zm-2 16h2v2h-2z"/>
<path d="M1819 626h2v2h-2zm-1 4h2v2h-2zm-4 4h2v2h-2zm-1 9h2v2h-2zm3 1h2v2h-2zm1 1h2v2h-2zm-3 3h2v2h-2zm1 0h2v2h-2zm-1 1h2v2h-2zm-2 4h2v2h-2zm6 0h2v2h-2zm-5 2h2v2h-2zm0 0h2v2h-2zm4 0h2v2h-2zm2 1h2v2h-2zm-4 3h2v2h-2zm-2 2h2v2h-2zm3 0h2v2h-2zm1 0h2v2h-2zm-2 1h2v2h-2zm1 0h2v2h-2zm0 3h2v2h-2zm1 1h2v2h-2zm-1 1h2v2h-2zm-5 3h2v2h-2zm5 1h2v2h-2zm-3 1h2v2h-2zm1 0h2v2h-2zm-1 1h2v2h-2zm-1 1h2v2h-2zm5 0h2v2h-2zm-3 3h2v2h-2zm-1 1h2v2h-2zm2 0h2v2h-2zm0 0h2v2h-2zm0 1h2v2h-2zm-4 1h2v2h-2zm4 1h2v2h-2zm2 0h2v2h-2zm-5 8h2v2h-2z"/>
<path d="M1814 641h2v2h-2zm2 0h2v2h-2zm-2 3h2v2h-2zm1 0h2v2h-2zm-4 1h2v2h-2zm1 6h2v2h-2zm5 1h2v2h-2zm1 1h2v2h-2zm0 0h2v2h-2zm-6 2h2v2h-2zm3 4h2v2h-2zm2 0h2v2h-2zm-5 1h2v2h-2zm2 0h2v2h-2zm1 1h2v2h-2zm2 0h2v2h-2zm-1 2h2v2h-2zm1 0h2v2h-2zm1 0h2v2h-2zm-6 1h2v2h-2zm7 0h2v2h-2zm-4 1h2v2h-2zm-2 1h2v2h-2zm3 1h2v2h-2zm2 1h2v2h-2zm-4 1h2v2h-2zm-2 1h2v2h-2zm3 0h2v2h-2zm3 0h2v2h-2zm-4 5h2v2h-2zm-1 1h2v2h-2zm0 0h2v2h-2zm1 2h2v2h-2zm-1 1h2v2h-2zm4 2h2v2h-2zm2 4h2v2h-2zm-5 1h2v2h-2zm1 0h2v2h-2zm4 14h2v2h-2zm-2 3h2v2h-2z"/>
<path d="M1814 637h2v2h-2zm1 2h2v2h-2zm0 1h2v2h-2zm-4 2h2v2h-2zm5 2h2v2h-2zm-4 5h2v2h-2zm0 2h2v2h-2zm1 0h2v2h-2zm-1 2h2v2h-2zm6 0h2v2h-2zm-3 1h2v2h-2zm-4 1h2v2h-2zm0 1h2v2h-2zm3 1h2v2h-2zm3 0h2v2h-2zm-2 1h2v2h-2zm-1 1h2v2h-2zm0 3h2v2h-2zm4 1h2v2h-2zm-3 1h2v2h-2zm2 1h2v2h-2zm1 0h2v2h-2zm-4 1h2v2h-2zm3 0h2v2h-2zm0 0h2v2h-2zm-3 2h2v2h-2zm-3 1h2v2h-2zm6 0h2v2h-2zm-4 5h2v2h-2zm4 0h2v2h-2zm0 2h2v2h-2zm-3 1h2v2h-2zm-1 1h2v2h-2zm4 0h2v2h-2zm-5 1h2v2h-2zm1 0h2v2h-2zm5 3h2v2h-2zm0 6h2v2h-2zm-7 1h2v2h-2zm4 4h2v2h-2z"/>
<path d="M1812 633h2v2h-2zm1 1h2v2h-2zm1 7h2v2h-2zm0 7h2v2h-2zm3 0h2v2h-2zm-2 3h2v2h-2zm3 3h2v2h-2zm-3 1h2v2h-2zm-3 1h2v2h-2zm0 0h2v2h-2zm1 1h2v2h-2zm3 0h2v2h-2zm-4 1h2v2h-2zm4 0h2v2h-2zm-5 1h2v2h-2zm4 0h2v2h-2zm1 1h2v2h-2zm0 1h2v2h-2zm-3 2h2v2h-2zm4 0h2v2h-2zm-5 2h2v2h-2zm2 0h2v2h-2zm3 1h2v2h-2zm-6 1h2v2h-2zm7 0h2v2h-2zm-7 3h2v2h-2zm2 0h2v2h-2zm2 1h2v2h-2zm2 4h2v2h-2zm-3 1h2v2h-2zm2 0h2v2h-2zm1 1h2v2h-2zm1 1h2v2h-2zm0 0h2v2h-2zm-4 1h2v2h-2zm4 0h2v2h-2zm-3 5h2v2h-2zm3 0h2v2h-2zm-5 12h2v2h-2zm-2 6h2v2h-2z"/>
<path d="M1819 631h2v2h-2zm-7 6h2v2h-2zm0 3h2v2h-2zm3 1h2v2h-2zm-2 1h2v2h-2zm4 2h2v2h-2zm1 5h2v2h-2zm-6 2h2v2h-2zm6 0h2v2h-2zm-3 2h2v2h-2zm0 0h2v2h-2zm-2 1h2v2h-2zm2 0h2v2h-2zm0 0h2v2h-2zm-3 1h2v2h-2zm1 1h2v2h-2zm5 1h2v2h-2zm-4 3h2v2h-2zm-1 5h2v2h-2zm3 1h2v2h-2zm0 0h2v2h-2zm3 0h2v2h-2zm-4 3h2v2h-2zm2 0h2v2h-2zm1 1h2v2h-2zm0 1h2v2h-2zm-6 1h2v2h-2zm1 0h2v2h-2zm2 1h2v2h-2zm-3 2h2v2h-2zm1 0h2v2h-2zm5 0h2v2h-2zm0 0h2v2h-2zm1 1h2v2h-2zm-8 2h2v2h-2zm6 2h2v2h-2zm-3 1h2v2h-2zm0 1h2v2h-2zm1 11h2v2h-2zm-2 4h2v2h-2z"/>
<path d="M1814 623h2v2h-2zm-1 17h2v2h-2zm2 0h2v2h-2zm-3 1h2v2h-2zm4 7h2v2h-2zm-3 2h2v2h-2zm3 0h2v2h-2zm-1 2h2v2h-2zm3 0h2v2h-2zm-7 1h2v2h-2zm2 2h2v2h-2zm-2 1h2v2h-2zm3 0h2v2h-2zm-1 1h2v2h-2zm6 1h2v2h-2zm-6 1h2v2h-2zm6 0h2v2h-2zm-5 3h2v2h-2zm2 0h2v2h-2zm-3 1h2v2h-2zm2 0h2v2h-2zm2 0h2v2h-2zm1 1h2v2h-2zm-3 2h2v2h-2zm3 0h2v2h-2zm-4 1h2v2h-2zm5 2h2v2h-2zm-5 4h2v2h-2zm4 0h2v2h-2zm-6 2h2v2h-2zm4 1h2v2h-2zm0 0h2v2h-2zm-5 1h2v2h-2zm0 0h2v2h-2zm0 1h2v2h-2zm0 0h2v2h-2zm4 1h2v2h-2zm-4 1h2v2h-2zm6 8h2v2h-2zm-1 7h2v2h-2z"/>
<path d="M1817 622h2v2h-2zm-1 9h2v2h-2zm-3 7h2v2h-2zm-1 4h2v2h-2zm1 3h2v2h-2zm2 1h2v2h-2zm-3 1h2v2h-2zm2 2h2v2h-2zm-3 5h2v2h-2zm2 0h2v2h-2zm-1 2h2v2h-2zm5 2h2v2h-2zm1 0h2v2h-2zm-6 1h2v2h-2zm6 0h2v2h-2zm0 1h2v2h-2zm1 1h2v2h-2zm-7 1h2v2h-2zm1 1h2v2h-2zm-1 1h2v2h-2zm1 0h2v2h-2zm2 2h2v2h-2zm-3 1h2v2h-2zm-1 1h2v2h-2zm7 1h2v2h-2zm0 0h2v2h-2zm-7 1h2v2h-2zm7 0h2v2h-2zm-7 1h2v2h-2zm4 0h2v2h-2zm0 4h2v2h-2zm4 0h2v2h-2zm-4 5h2v2h-2zm-2 1h2v2h-2zm1 0h2v2h-2zm2 2h2v2h-2zm0 6h2v2h-2zm0 1h2v2h-2zm0 4h2v2h-2zm-4 5h2v2h-2z"/>
<path d="M1811 635h2v2h-2zm3 2h2v2h-2zm1 8h2v2h-2zm4 0h2v2h-2zm-5 2h2v2h-2zm4 0h2v2h-2zm0 1h2v2h-2zm-6 1h2v2h-2zm4 0h2v2h-2zm-4 1h2v2h-2zm2 1h2v2h-2zm1 0h2v2h-2zm4 0h2v2h-2zm-6 2h2v2h-2zm0 2h2v2h-2zm5 1h2v2h-2zm-3 2h2v2h-2zm1 0h2v2h-2zm0 0h2v2h-2zm-3 1h2v2h-2zm0 0h2v2h-2zm5 0h2v2h-2zm-2 2h2v2h-2zm-4 1h2v2h-2zm0 2h2v2h-2zm0 1h2v2h-2zm1 4h2v2h-2zm5 1h2v2h-2zm-2 2h2v2h-2zm-3 1h2v2h-2zm2 0h2v2h-2zm-3 1h2v2h-2zm4 0h2v2h-2zm-3 2h2v2h-2zm0 1h2v2h-2zm5 1h2v2h-2zm-7 2h2v2h-2zm7 2h2v2h-2zm-1 1h2v2h-2zm-2 1h2v2h-2z"/>
<path d="M1818 635h2v2h-2zm-1 2h2v2h-2zm-4 1h2v2h-2zm1 2h2v2h-2zm4 6h2v2h-2zm-4 1h2v2h-2zm3 0h2v2h-2zm0 0h2v2h-2zm-2 2h2v2h-2zm-3 1h2v2h-2zm5 1h2v2h-2zm1 3h2v2h-2zm-2 2h2v2h-2zm1 1h2v2h-2zm1 1h2v2h-2zm1 0h2v2h-2zm-7 1h2v2h-2zm5 0h2v2h-2zm-3 1h2v2h-2zm2 0h2v2h-2zm-5 1h2v2h-2zm7 0h2v2h-2zm0 1h2v2h-2zm-5 1h2v2h-2zm4 0h2v2h-2zm-2 1h2v2h-2zm0 6h2v2h-2zm1 0h2v2h-2zm1 0h2v2h-2zm1 0h2v2h-2zm-4 2h2v2h-2zm1 1h2v2h-2zm-3 2h2v2h-2zm0 1h2v2h-2zm0 1h2v2h-2zm4 0h2v2h-2zm-3 3h2v2h-2zm-1 5h2v2h-2zm5 2h2v2h-2zm1 2h2v2h-2z"/>
<path d="M1812 626h2v2h-2zm6 8h2v2h-2zm-7 6h2v2h-2zm3 5h2v2h-2zm-2 1h2v2h-2zm1 1h2v2h-2zm5 2h2v2h-2zm-1 1h2v2h-2zm-3 5h2v2h-2zm3 2h2v2h-2zm-3 1h2v2h-2zm5 0h2v2h-2zm-2 1h2v2h-2zm1 0h2v2h-2zm-5 1h2v2h-2zm6 1h2v2h-2zm-4 1h2v2h-2zm0 2h2v2h-2zm1 0h2v2h-2zm1 2h2v2h-2zm0 0h2v2h-2zm-3 1h2v2h-2zm2 0h2v2h-2zm1 0h2v2h-2zm-4 2h2v2h-2zm-2 2h2v2h-2zm1 1h2v2h-2zm6 1h2v2h-2zm-2 1h2v2h-2zm1 0h2v2h-2zm-5 1h2v2h-2zm5 2h2v2h-2zm-5 2h2v2h-2zm4 1h2v2h-2zm1 0h2v2h-2zm-4 5h2v2h-2zm3 3h2v2h-2zm0 0h2v2h-2zm1 1h2v2h-2zm0 1h2v2h-2z"/>
<path d="M1815 622h2v2h-2zm-2 11h2v2h-2zm2 3h2v2h-2zm-1 5h2v2h-2zm0 1h2v2h-2zm-2 2h2v2h-2zm3 1h2v2h-2zm0 1h2v2h-2zm2 0h2v2h-2zm-3 6h2v2h-2zm1 3h2v2h-2zm0 3h2v2h-2zm-2 1h2v2h-2zm0 0h2v2h-2zm-2 1h2v2h-2zm1 1h2v2h-2zm3 0h2v2h-2zm2 0h2v2h-2zm-2 1h2v2h-2zm3 0h2v2h-2zm-1 1h2v2h-2zm-4 2h2v2h-2zm-1 2h2v2h-2zm0 0h2v2h-2zm3 0h2v2h-2zm-3 1h2v2h-2zm0 0h2v2h-2zm2 1h2v2h-2zm-2 5h2v2h-2zm3 0h2v2h-2zm1 1h2v2h-2zm1 0h2v2h-2zm-6 1h2v2h-2zm3 0h2v2h-2zm2 8h2v2h-2zm1 0h2v2h-2zm-1 1h2v2h-2zm-5 2h2v2h-2zm4 4h2v2h-2zm4 0h2v2h-2z"/>
<path d="M1815 636h2v2h-2zm2 0h2v2h-2zm0 5h2v2h-2zm-6 2h2v2h-2zm3 2h2v2h-2zm0 2h2v2h-2zm-2 2h2v2h-2zm1 1h2v2h-2zm5 0h2v2h-2zm-6 2h2v2h-2zm3 0h2v2h-2zm0 0h2v2h-2zm3 1h2v2h-2zm-2 4h2v2h-2zm-4 1h2v2h-2zm0 0h2v2h-2zm4 0h2v2h-2zm-4 4h2v2h-2zm6 0h2v2h-2zm-1 1h2v2h-2zm-6 2h2v2h-2zm2 0h2v2h-2zm3 0h2v2h-2zm-4 1h2v2h-2zm1 0h2v2h-2zm0 0h2v2h-2zm-2 2h2v2h-2zm7 0h2v2h-2zm0 0h2v2h-2zm0 2h2v2h-2zm-5 1h2v2h-2zm0 1h2v2h-2zm3 0h2v2h-2zm-5 1h2v2h-2zm7 0h2v2h-2zm-6 4h2v2h-2zm5 1h2v2h-2zm2 3h2v2h-2zm-6 7h2v2h-2zm5 0h2v2h-2z"/>
<path d="M1864 685h2v2h-2zm4 12h2v2h-2zm-4 2h2v2h-2zm1 3h2v2h-2zm-3 2h2v2h-2zm2 3h2v2h-2zm-1 2h2v2h-2zm3 0h2v2h-2zm-3 1h2v2h-2zm0 1h2v2h-2zm5 2h2v2h-2zm-2 3h2v2h-2zm2 0h2v2h-2zm-1 3h2v2h-2zm1 4h2v2h-2zm-1 1h2v2h-2zm1 1h2v2h-2zm1 1h2v2h-2zm-7 1h2v2h-2zm0 6h2v2h-2zm6 0h2v2h-2zm-6 2h2v2h-2zm3 0h2v2h-2zm3 0h2v2h-2zm-1 2h2v2h-2zm-6 3h2v2h-2zm1 5h2v2h-2zm6 0h2v2h-2zm-3 3h2v2h-2zm-1 1h2v2h-2zm1 1h2v2h-2zm-1 3h2v2h-2zm-2 5h2v2h-2zm-1 1h2v2h-2zm5 1h2v2h-2zm-1 4h2v2h-2zm-1 2h2v2h-2zm2 0h2v2h-2zm-2 25h2v2h-2zm4 1h2v2h-2z"/>
<path d="M1862 695h2v2h-2zm2 14h2v2h-2zm-1 4h2v2h-2zm-1 1h2v2h-2zm3 1h2v2h-2zm1 2h2v2h-2zm-1 1h2v2h-2zm-2 2h2v2h-2zm5 1h2v2h-2zm-1 1h2v2h-2zm1 0h2v2h-2zm0 4h2v2h-2zm0 0h2v2h-2zm-3 2h2v2h-2zm-4 2h2v2h-2zm0 1h2v2h-2zm1 1h2v2h-2zm0 0h2v2h-2zm5 0h2v2h-2zm1 0h2v2h-2zm-4 4h2v2h-2zm-2 1h2v2h-2zm6 0h2v2h-2zm-4 1h2v2h-2zm4 2h2v2h-2zm-4 1h2v2h-2zm3 0h2v2h-2zm1 5h2v2h-2zm-4 1h2v2h-2zm3 1h2v2h-2zm1 0h2v2h-2zm-6 7h2v2h-2zm2 0h2v2h-2zm1 4h2v2h-2zm-1 2h2v2h-2zm0 2h2v2h-2zm4 0h2v2h-2zm-4 5h2v2h-2zm2 11h2v2h-2zm2 1h2v2h-2z"/>
<path d="M1864 707h2v2h-2zm0 6h2v2h-2zm4 0h2v2h-2zm0 2h2v2h-2zm-1 5h2v2h-2zm0 1h2v2h-2zm-4 2h2v2h-2zm2 2h2v2h-2zm1 1h2v2h-2zm-4 1h2v2h-2zm3 0h2v2h-2zm0 1h2v2h-2zm3 1h2v2h-2zm-3 1h2v2h-2zm3 0h2v2h-2zm-1 1h2v2h-2zm1 0h2v2h-2zm-6 1h2v2h-2zm6 0h2v2h-2zm-4 1h2v2h-2zm4 0h2v2h-2zm0 1h2v2h-2zm-3 5h2v2h-2zm3 0h2v2h-2zm-1 2h2v2h-2zm-6 1h2v2h-2zm7 3h2v2h-2zm-2 2h2v2h-2zm0 1h2v2h-2zm-2 8h2v2h-2zm1 6h2v2h-2zm-4 4h2v2h-2zm2 4h2v2h-2zm0 0h2v2h-2zm1 0h2v2h-2zm-3 1h2v2h-2zm5 0h2v2h-2zm2 15h2v2h-2zm-2 1h2v2h-2zm-4 10h2v2h-2z"/>
<path d="M1867 705h2v2h-2zm1 7h2v2h-2zm-6 1h2v2h-2zm1 0h2v2h-2zm-2 3h2v2h-2zm6 3h2v2h-2zm-3 1h2v2h-2zm-1 1h2v2h-2zm-1 1h2v2h-2zm4 2h2v2h-2zm-1 4h2v2h-2zm3 0h2v2h-2zm-7 3h2v2h-2zm5 0h2v2h-2zm1 6h2v2h-2zm-4 1h2v2h-2zm4 3h2v2h-2zm-5 1h2v2h-2zm-1 1h2v2h-2zm5 0h2v2h-2zm3 2h2v2h-2zm-7 1h2v2h-2zm6 1h2v2h-2zm0 1h2v2h-2zm-5 1h2v2h-2zm5 0h2v2h-2zm-5 4h2v2h-2zm1 1h2v2h-2zm4 2h2v2h-2zm-3 6h2v2h-2zm-1 1h2v2h-2zm2 4h2v2h-2zm1 0h2v2h-2zm-2 2h2v2h-2zm-1 1h2v2h-2zm-2 11h2v2h-2zm3 4h2v2h-2zm-4 13h2v2h-2zm3 0h2v2h-2zm0 1h2v2h-2z"/>
<path d="M1861 705h2v2h-2zm4 4h2v2h-2zm1 1h2v2h-2zm-5 3h2v2h-2zm6 3h2v2h-2zm0 0h2v2h-2zm-4 4h2v2h-2zm-1 5h2v2h-2zm-1 1h2v2h-2zm2 2h2v2h-2zm1 0h2v2h-2zm-1 2h2v2h-2zm5 1h2v2h-2zm-4 4h2v2h-2zm4 1h2v2h-2zm-7 1h2v2h-2zm2 0h2v2h-2zm0 1h2v2h-2zm2 3h2v2h-2zm3 2h2v2h-2zm-4 1h2v2h-2zm2 0h2v2h-2zm2 2h2v2h-2zm-4 1h2v2h-2zm-1 1h2v2h-2zm0 2h2v2h-2zm3 2h2v2h-2zm1 2h2v2h-2zm-4 3h2v2h-2zm1 4h2v2h-2zm-2 4h2v2h-2zm-1 3h2v2h-2zm4 1h2v2h-2zm-2 8h2v2h-2zm-1 1h2v2h-2zm1 0h2v2h-2zm6 0h2v2h-2zm-6 2h2v2h-2zm3 4h2v2h-2zm-3 8h2v2h-2z"/>
<path d="M1865 679h2v2h-2zm1 17h2v2h-2zm-3 15h2v2h-2zm2 1h2v2h-2zm2 1h2v2h-2zm-6 1h2v2h-2zm7 4h2v2h-2zm-3 4h2v2h-2zm2 0h2v2h-2zm-2 1h2v2h-2zm0 3h2v2h-2zm1 1h2v2h-2zm-5 3h2v2h-2zm3 0h2v2h-2zm-1 1h2v2h-2zm2 0h2v2h-2zm2 1h2v2h-2zm-3 1h2v2h-2zm-2 1h2v2h-2zm2 0h2v2h-2zm-1 2h2v2h-2zm3 0h2v2h-2zm0 1h2v2h-2zm1 0h2v2h-2zm0 1h2v2h-2zm-3 1h2v2h-2zm1 0h2v2h-2zm-2 2h2v2h-2zm1 4h2v2h-2zm0 2h2v2h-2zm0 0h2v2h-2zm2 15h2v2h-2zm0 1h2v2h-2zm0 0h2v2h-2zm1 2h2v2h-2zm-4 9h2v2h-2zm5 6h2v2h-2zm-4 7h2v2h-2zm1 1h2v2h-2zm0 2h2v2h-2z"/>
<path d="M1868 702h2v2h-2zm0 5h2v2h-2zm-1 2h2v2h-2zm-2 6h2v2h-2zm0 2h2v2h-2zm2 0h2v2h-2zm-3 3h2v2h-2zm1 0h2v2h-2zm1 1h2v2h-2zm-3 3h2v2h-2zm5 2h2v2h-2zm-2 1h2v2h-2zm1 0h2v2h-2zm-5 3h2v2h-2zm2 1h2v2h-2zm3 0h2v2h-2zm0 3h2v2h-2zm-2 2h2v2h-2zm0 2h2v2h-2zm0 0h2v2h-2zm-1 1h2v2h-2zm-2 1h2v2h-2zm1 4h2v2h-2zm0 2h2v2h-2zm0 1h2v2h-2zm2 0h2v2h-2zm3 1h2v2h-2zm-2 1h2v2h-2zm2 2h2v2h-2zm-3 1h2v2h-2zm0 0h2v2h-2zm2 0h2v2h-2zm-4 1h2v2h-2zm1 2h2v2h-2zm0 8h2v2h-2zm-1 1h2v2h-2zm0 1h2v2h-2zm3 4h2v2h-2zm1 1h2v2h-2zm0 10h2v2h-2z"/>
<path d="M1867 707h2v2h-2zm0 2h2v2h-2zm-3 1h2v2h-2zm1 1h2v2h-2zm2 3h2v2h-2zm-4 1h2v2h-2zm-1 1h2v2h-2zm5 0h2v2h-2zm0 1h2v2h-2zm1 0h2v2h-2zm-5 1h2v2h-2zm1 0h2v2h-2zm-1 2h2v2h-2zm5 5h2v2h-2zm0 1h2v2h-2zm-5 2h2v2h-2zm-1 2h2v2h-2zm3 0h2v2h-2zm0 1h2v2h-2zm-1 1h2v2h-2zm-2 1h2v2h-2zm3 0h2v2h-2zm1 1h2v2h-2zm-3 1h2v2h-2zm4 6h2v2h-2zm-5 1h2v2h-2zm4 5h2v2h-2zm-1 3h2v2h-2zm-2 4h2v2h-2zm1 0h2v2h-2zm-3 1h2v2h-2zm3 4h2v2h-2zm2 6h2v2h-2zm1 1h2v2h-2zm-3 1h2v2h-2zm3 2h2v2h-2zm-4 4h2v2h-2zm6 0h2v2h-2zm-5 5h2v2h-2zm0 6h2v2h-2z"/>
<path d="M1868 698h2v2h-2zm-3 7h2v2h-2zm-3 1h2v2h-2zm0 3h2v2h-2zm3 3h2v2h-2zm-4 5h2v2h-2zm4 2h2v2h-2zm-2 1h2v2h-2zm3 0h2v2h-2zm0 0h2v2h-2zm-1 2h2v2h-2zm-1 4h2v2h-2zm0 0h2v2h-2zm3 1h2v2h-2zm-2 2h2v2h-2zm1 0h2v2h-2zm1 2h2v2h-2zm-2 2h2v2h-2zm3 0h2v2h-2zm-6 3h2v2h-2zm6 2h2v2h-2zm-3 1h2v2h-2zm3 1h2v2h-2zm-7 1h2v2h-2zm5 2h2v2h-2zm1 0h2v2h-2zm-3 1h2v2h-2zm4 0h2v2h-2zm-6 1h2v2h-2zm1 1h2v2h-2zm0 1h2v2h-2zm2 4h2v2h-2zm2 5h2v2h-2zm0 5h2v2h-2zm-4 1h2v2h-2zm0 1h2v2h-2zm-1 2h2v2h-2zm4 24h2v2h-2zm-4 1h2v2h-2zm2 4h2v2h-2z"/>
<path d="M1865 694h2v2h-2zm-1 3h2v2h-2zm3 9h2v2h-2zm-4 1h2v2h-2zm-1 1h2v2h-2zm4 1h2v2h-2zm-4 2h2v2h-2zm6 1h2v2h-2zm-3 2h2v2h-2zm1 1h2v2h-2zm-4 5h2v2h-2zm5 1h2v2h-2zm-1 6h2v2h-2zm-5 4h2v2h-2zm2 0h2v2h-2zm2 2h2v2h-2zm-3 2h2v2h-2zm2 0h2v2h-2zm4 3h2v2h-2zm-4 1h2v2h-2zm0 2h2v2h-2zm4 0h2v2h-2zm1 2h2v2h-2zm-1 1h2v2h-2zm-1 2h2v2h-2zm-4 4h2v2h-2zm1 0h2v2h-2zm0 1h2v2h-2zm4 1h2v2h-2zm-2 2h2v2h-2zm1 1h2v2h-2zm1 2h2v2h-2zm-1 1h2v2h-2zm0 1h2v2h-2zm-3 1h2v2h-2zm2 5h2v2h-2zm-2 2h2v2h-2zm4 6h2v2h-2zm-6 7h2v2h-2zm2 20h2v2h-2z"/>
<path d="M1861 703h2v2h-2zm1 4h2v2h-2zm0 2h2v2h-2zm-1 6h2v2h-2zm7 3h2v2h-2zm-5 1h2v2h-2zm2 1h2v2h-2zm-1 3h2v2h-2zm-1 2h2v2h-2zm0 1h2v2h-2zm-1 1h2v2h-2zm5 0h2v2h-2zm1 0h2v2h-2zm-6 4h2v2h-2zm3 0h2v2h-2zm2 3h2v2h-2zm-5 2h2v2h-2zm3 0h2v2h-2zm2 2h2v2h-2zm-4 4h2v2h-2zm1 0h2v2h-2zm-1 1h2v2h-2zm1 1h2v2h-2zm-3 1h2v2h-2zm2 0h2v2h-2zm-1 1h2v2h-2zm0 1h2v2h-2zm6 1h2v2h-2zm-1 2h2v2h-2zm1 1h2v2h-2zm-3 1h2v2h-2zm-4 1h2v2h-2zm5 2h2v2h-2zm2 0h2v2h-2zm-5 2h2v2h-2zm4 7h2v2h-2zm-2 7h2v2h-2zm-2 4h2v2h-2zm5 1h2v2h-2zm0 2h2v2h-2z"/>
<path d="M1868 706h2v2h-2zm-1 1h2v2h-2zm0 5h2v2h-2zm1 1h2v2h-2zm-5 3h2v2h-2zm2 0h2v2h-2zm1 2h2v2h-2zm2 4h2v2h-2zm-7 1h2v2h-2zm1 1h2v2h-2zm0 1h2v2h-2zm6 0h2v2h-2zm-4 1h2v2h-2zm-3 2h2v2h-2zm2 1h2v2h-2zm0 2h2v2h-2zm0 1h2v2h-2zm5 0h2v2h-2zm-6 1h2v2h-2zm2 0h2v2h-2zm3 1h2v2h-2zm1 0h2v2h-2zm-6 3h2v2h-2zm3 0h2v2h-2zm1 0h2v2h-2zm-2 4h2v2h-2zm-2 1h2v2h-2zm2 0h2v2h-2zm4 2h2v2h-2zm0 1h2v2h-2zm0 0h2v2h-2zm-5 6h2v2h-2zm2 0h2v2h-2zm-4 1h2v2h-2zm7 10h2v2h-2zm-5 10h2v2h-2zm4 4h2v2h-2zm1 6h2v2h-2zm-6 8h2v2h-2zm6 5h2v2h-2z"/>
<path d="M1862 701h2v2h-2zm2 2h2v2h-2zm-2 3h2v2h-2zm3 7h2v2h-2zm2 0h2v2h-2zm-5 2h2v2h-2zm-1 1h2v2h-2zm1 1h2v2h-2zm6 1h2v2h-2zm-1 6h2v2h-2zm1 1h2v2h-2zm-1 1h2v2h-2zm-4 1h2v2h-2zm3 0h2v2h-2zm-1 1h2v2h-2zm-4 1h2v2h-2zm0 1h2v2h-2zm3 1h2v2h-2zm-3 1h2v2h-2zm3 3h2v2h-2zm2 6h2v2h-2zm-3 3h2v2h-2zm3 0h2v2h-2zm0 0h2v2h-2zm0 0h2v2h-2zm-2 1h2v2h-2zm-2 1h2v2h-2zm5 1h2v2h-2zm-2 5h2v2h-2zm2 2h2v2h-2zm-6 2h2v2h-2zm2 2h2v2h-2zm5 0h2v2h-2zm-5 1h2v2h-2zm2 2h2v2h-2zm0 0h2v2h-2zm-3 3h2v2h-2zm7 1h2v2h-2zm-3 2h2v2h-2zm1 8h2v2h-2z"/>
<path d="M1866 702h2v2h-2zm2 3h2v2h-2zm-3 2h2v2h-2zm3 1h2v2h-2zm-4 3h2v2h-2zm0 3h2v2h-2zm-1 1h2v2h-2zm0 1h2v2h-2zm-2 3h2v2h-2zm7 2h2v2h-2zm-1 2h2v2h-2zm0 3h2v2h-2zm-4 2h2v2h-2zm4 1h2v2h-2zm0 4h2v2h-2zm0 1h2v2h-2zm2 1h2v2h-2zm-1 1h2v2h-2zm-5 1h2v2h-2zm0 0h2v2h-2zm0 1h2v2h-2zm-2 1h2v2h-2zm5 1h2v2h-2zm1 1h2v2h-2zm-4 2h2v2h-2zm-1 2h2v2h-2zm0 0h2v2h-2zm6 1h2v2h-2zm-1 2h2v2h-2zm-4 2h2v2h-2zm0 1h2v2h-2zm4 1h2v2h-2zm0 2h2v2h-2zm-2 2h2v2h-2zm-3 17h2v2h-2zm5 2h2v2h-2zm-3 1h2v2h-2zm1 3h2v2h-2zm-3 4h2v2h-2zm5 17h2v2h-2z"/>
<path d="M1866 706h2v2h-2zm-2 3h2v2h-2zm-1 1h2v2h-2zm3 4h2v2h-2zm0 2h2v2h-2zm-3 1h2v2h-2zm4 3h2v2h-2zm-2 5h2v2h-2zm-1 2h2v2h-2zm-1 1h2v2h-2zm-2 1h2v2h-2zm6 0h2v2h-2zm1 0h2v2h-2zm-2 1h2v2h-2zm2 0h2v2h-2zm-4 1h2v2h-2zm1 3h2v2h-2zm-2 3h2v2h-2zm2 2h2v2h-2zm3 0h2v2h-2zm-4 1h2v2h-2zm1 0h2v2h-2zm2 0h2v2h-2zm-2 3h2v2h-2zm-3 5h2v2h-2zm0 1h2v2h-2zm1 0h2v2h-2zm4 0h2v2h-2zm0 3h2v2h-2zm-4 4h2v2h-2zm0 0h2v2h-2zm-2 3h2v2h-2zm6 3h2v2h-2zm1 0h2v2h-2zm-2 3h2v2h-2zm-4 5h2v2h-2zm6 3h2v2h-2zm-7 9h2v2h-2zm2 2h2v2h-2zm-1 12h2v2h-2z"/>
<path d="M1862 715h2v2h-2zm6 1h2v2h-2zm-2 1h2v2h-2zm-5 1h2v2h-2zm5 0h2v2h-2zm1 0h2v2h-2zm-5 2h2v2h-2zm0 0h2v2h-2zm6 0h2v2h-2zm-6 3h2v2h-2zm1 1h2v2h-2zm3 3h2v2h-2zm-2 3h2v2h-2zm-2 1h2v2h-2zm4 1h2v2h-2zm1 2h2v2h-2zm-5 3h2v2h-2zm6 0h2v2h-2zm-1 3h2v2h-2zm-5 1h2v2h-2zm1 0h2v2h-2zm1 1h2v2h-2zm4 1h2v2h-2zm-1 1h2v2h-2zm0 0h2v2h-2zm-3 4h2v2h-2zm4 1h2v2h-2zm-6 4h2v2h-2zm6 0h2v2h-2zm-7 2h2v2h-2zm2 2h2v2h-2zm3 2h2v2h-2zm1 2h2v2h-2zm-2 1h2v2h-2zm-4 3h2v2h-2zm5 1h2v2h-2zm-1 6h2v2h-2zm0 5h2v2h-2zm0 5h2v2h-2zm0 11h2v2h-2z"/>
</g>
<g stroke="#ee3a2e" stroke-width="1.6" fill="none">
<rect x="1180.9" y="704.8" width="6.5" height="30.4"/>
<path d="M1180.9 722.4H1187.4"/>
<rect x="1239.5" y="586.9" width="8.8" height="48.3"/>
<path d="M1239.5 611.5H1248.3"/>
<rect x="1408.0" y="640.0" width="7.3" height="33.3"/>
<path d="M1408.0 657.5H1415.3"/>
<rect x="1452.6" y="764.4" width="7.3" height="17.0"/>
<path d="M1452.6 772.8H1459.9"/>
<rect x="1668.0" y="573.1" width="7.9" height="21.3"/>
<path d="M1668.0 583.6H1675.9"/>
<rect x="1718.5" y="646.0" width="8.0" height="30.7"/>
<path d="M1718.5 660.4H1726.5"/>
<rect x="1811.8" y="655.0" width="8.1" height="18.1"/>
<path d="M1811.8 664.0H1819.9"/>
<rect x="1861.8" y="721.8" width="7.9" height="27.9"/>
<path d="M1861.8 734.7H1869.7"/>
</g>
<g fill="#000"><text transform="translate(-0.91 64.80) scale(0.9778 1)" font-size="88">a</text><text transform="translate(487.50 65.50) scale(1.1000 1)" font-size="88">b</text><text transform="translate(1031.40 65.30) scale(1.0000 1)" font-size="88">e</text><text transform="translate(1523.47 64.50) scale(0.9333 1)" font-size="88">f</text><text transform="translate(-0.86 531.30) scale(1.0205 1)" font-size="88">c</text><text transform="translate(488.14 532.30) scale(1.0200 1)" font-size="88">d</text><text transform="translate(1031.35 541.30) scale(1.0500 1)" font-size="88">g</text><text transform="translate(1270.44 538.50) scale(1.0270 1)" font-size="88">h</text><text transform="translate(1516.50 531.00) scale(0.9500 1)" font-size="88">i</text><text transform="translate(66.70 29.00) scale(1.0006 1)" font-size="26">Asymmetric, weighted, signed</text><text transform="translate(654.20 28.80) scale(0.9980 1)" font-size="26">Fiber density</text><text transform="translate(1200.50 29.00) scale(1.0036 1)" font-size="26">AWS - Fiber</text><text transform="translate(1634.80 29.00) scale(1.0023 1)" font-size="26">System co-assignment</text><text transform="translate(72.30 490.70) scale(1.0020 1)" font-size="26">Asymmetric, weighted, signed</text><text transform="translate(648.61 490.70) scale(0.9946 1)" font-size="26">Fiber density</text><text transform="translate(58.64 64.50) scale(0.6818 1)" font-size="25.5">1</text><text transform="translate(29.20 359.70) scale(1.0000 1)" font-size="25.5">400</text><text transform="translate(83.45 387.80) scale(0.7727 1)" font-size="25.5">1</text><text transform="translate(192.05 387.80) scale(1.0253 1)" font-size="25.5">Regions</text><text transform="translate(369.30 387.50) scale(1.0095 1)" font-size="25.5">400</text><text transform="translate(69.50 250.64) rotate(-90) scale(1.0176 1)" font-size="25.5">Regions</text><text transform="translate(410.73 100.70) scale(1.0364 1)" font-size="25.5">1.0</text><text transform="translate(412.50 314.50) scale(1.0000 1)" font-size="25.5">0.0</text><text transform="translate(473.00 284.61) rotate(-90) scale(1.0052 1)" font-size="26">Co-assignment</text><text transform="translate(504.70 256.19) rotate(-90) scale(0.9907 1)" font-size="26">probability</text><text transform="translate(550.64 64.50) scale(0.6818 1)" font-size="25.5">1</text><text transform="translate(521.20 359.70) scale(1.0000 1)" font-size="25.5">400</text><text transform="translate(575.45 387.80) scale(0.7727 1)" font-size="25.5">1</text><text transform="translate(684.05 387.80) scale(1.0253 1)" font-size="25.5">Regions</text><text transform="translate(861.30 387.50) scale(1.0095 1)" font-size="25.5">400</text><text transform="translate(561.50 250.64) rotate(-90) scale(1.0176 1)" font-size="25.5">Regions</text><text transform="translate(902.73 100.70) scale(1.0364 1)" font-size="25.5">1.0</text><text transform="translate(904.50 314.50) scale(1.0000 1)" font-size="25.5">0.0</text><text transform="translate(965.00 284.61) rotate(-90) scale(1.0052 1)" font-size="26">Co-assignment</text><text transform="translate(996.70 256.19) rotate(-90) scale(0.9907 1)" font-size="26">probability</text><text transform="translate(1090.61 64.50) scale(0.9435 1)" font-size="25.5">11</text><text transform="translate(1061.70 359.70) scale(1.0000 1)" font-size="25.5">400</text><text transform="translate(1115.95 387.80) scale(0.7727 1)" font-size="25.5">1</text><text transform="translate(1224.55 387.80) scale(1.0253 1)" font-size="25.5">Regions</text><text transform="translate(1401.80 387.50) scale(1.0095 1)" font-size="25.5">400</text><text transform="translate(1102.00 250.64) rotate(-90) scale(1.0176 1)" font-size="25.5">Regions</text><text transform="translate(1443.23 100.70) scale(1.0364 1)" font-size="25.5">1.0</text><text transform="translate(1434.67 314.20) scale(1.0310 1)" font-size="25.5">-1.0</text><text transform="translate(1505.50 284.61) rotate(-90) scale(1.0052 1)" font-size="26">Co-assignment</text><text transform="translate(1537.20 256.19) rotate(-90) scale(0.9907 1)" font-size="26">probability</text><text transform="translate(1582.64 64.50) scale(0.6818 1)" font-size="25.5">1</text><text transform="translate(1553.20 359.70) scale(1.0000 1)" font-size="25.5">400</text><text transform="translate(1607.45 387.80) scale(0.7727 1)" font-size="25.5">1</text><text transform="translate(1716.05 387.80) scale(1.0253 1)" font-size="25.5">Regions</text><text transform="translate(1893.30 387.50) scale(1.0095 1)" font-size="25.5">400</text><text transform="translate(1593.50 250.64) rotate(-90) scale(1.0176 1)" font-size="25.5">Regions</text><text transform="translate(1934.73 100.70) scale(1.0364 1)" font-size="25.5">1.0</text><text transform="translate(1936.50 314.50) scale(1.0000 1)" font-size="25.5">0.0</text><text transform="translate(1976.71 153.70) scale(1.0469 1)" font-size="25.5">Both</text><text transform="translate(1977.82 212.00) scale(0.9783 1)" font-size="25.5">7-only</text><text transform="translate(241.71 649.20) scale(0.8941 1)" font-size="25.5">= 1</text><text transform="translate(715.49 639.70) scale(0.9059 1)" font-size="25.5">= 1</text><text transform="translate(166.88 860.90) scale(1.0176 1)" font-size="25.5">Cluster labels</text><text transform="translate(643.58 853.60) scale(1.0209 1)" font-size="25.5">Cluster labels</text><text transform="translate(1087.26 555.40) scale(1.0353 1)" font-size="25.5">0.8</text><text transform="translate(1087.26 641.00) scale(1.0353 1)" font-size="25.5">0.6</text><text transform="translate(1087.26 726.60) scale(1.0353 1)" font-size="25.5">0.4</text><text transform="translate(1087.23 812.20) scale(1.0667 1)" font-size="25.5">0.2</text><text transform="translate(1152.20 891.50) scale(1.0143 1)" font-size="25.5">AWS</text><text transform="translate(1222.67 891.50) scale(1.0143 1)" font-size="25.5">Fiber</text><text transform="translate(1065.40 730.03) rotate(-90) scale(1.0167 1)" font-size="25.5">Laterality</text><text transform="translate(1317.44 580.50) scale(1.0576 1)" font-size="25.5">0.3</text><text transform="translate(1317.44 734.00) scale(1.0576 1)" font-size="25.5">0.2</text><text transform="translate(1368.40 889.50) scale(1.0286 1)" font-size="25.5">AWS</text><text transform="translate(1438.48 889.50) scale(1.0089 1)" font-size="25.5">Fiber</text><text transform="translate(1302.80 768.09) rotate(-90) scale(0.9973 1)" font-size="25.5">Modularity, Q</text><text transform="translate(1576.22 547.10) scale(1.0848 1)" font-size="25.5">0.9</text><text transform="translate(1576.25 705.40) scale(1.0529 1)" font-size="25.5">0.8</text><text transform="translate(1562.50 690.20) rotate(-90) scale(1.0300 1)" font-size="25.5">ARI</text><text transform="translate(1624.00 879.00) scale(1.0321 1)" font-size="25.5">AWS</text><text transform="translate(1697.16 879.00) scale(1.0196 1)" font-size="25.5">Fiber</text><text transform="translate(1768.90 879.00) scale(1.0196 1)" font-size="25.5">AWS</text><text transform="translate(1841.46 879.00) scale(1.0196 1)" font-size="25.5">Fiber</text><text transform="translate(1646.98 910.50) scale(1.0225 1)" font-size="25.5">Coarse</text><text transform="translate(1809.85 910.50) scale(1.0234 1)" font-size="25.5">Fine</text></g>
<g fill="#000" font-family="Liberation Serif, serif"><text x="1197.00" y="506.90" font-size="24">*</text><text x="1416.10" y="508.10" font-size="24">*</text><text x="1678.10" y="507.40" font-size="24">*</text><text x="1825.40" y="507.40" font-size="24">*</text></g>
<g font-family="Liberation Serif, serif" fill="#000"><text x="222.9" y="648.9" font-size="27">γ</text><text x="697" y="639.4" font-size="27">γ</text></g>
<text transform="translate(1297 614.5) rotate(-90)" font-size="22" font-family="Liberation Serif, serif">*</text>
</svg>
</body></html>
